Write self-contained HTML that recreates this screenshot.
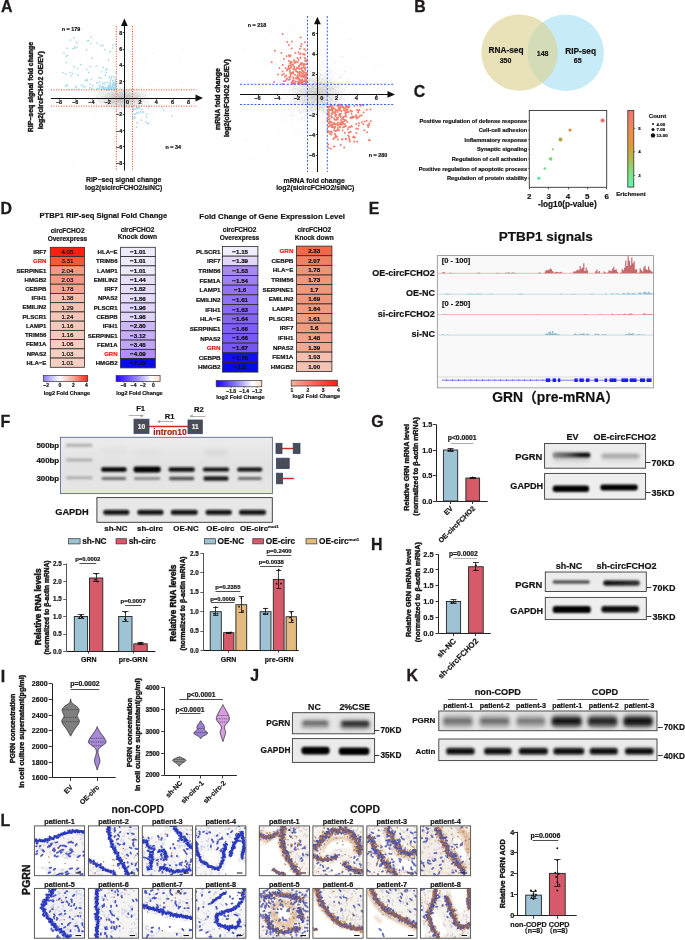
<!DOCTYPE html>
<html><head><meta charset="utf-8"><title>Figure</title><style>html,body{margin:0;padding:0;background:#fff;}svg{display:block;}</style></head><body>
<svg width="685" height="940" viewBox="0 0 685 940" font-family='"Liberation Sans", Arial, sans-serif'>
<rect width="685" height="940" fill="#ffffff"/>
<text x="1.12" y="12.46" font-size="15.9" font-weight="bold" fill="#1f1b1c" stroke="#1f1b1c" stroke-width="0.3">A</text>
<defs><radialGradient id="g1"><stop offset="0" stop-color="#9a9a9a" stop-opacity="0.6"/><stop offset="0.5" stop-color="#b0b0b0" stop-opacity="0.35"/><stop offset="1" stop-color="#c8c8c8" stop-opacity="0"/></radialGradient><radialGradient id="g2"><stop offset="0" stop-color="#a8a8a8" stop-opacity="0.5"/><stop offset="0.55" stop-color="#bcbcbc" stop-opacity="0.3"/><stop offset="1" stop-color="#d0d0d0" stop-opacity="0"/></radialGradient></defs>
<ellipse cx="122.4" cy="98.5" rx="30" ry="13" fill="url(#g1)"/>
<path d="M118.4 94.9h0M118.9 99.9h0M109.2 99.3h0M137.3 95.4h0M136.2 96.5h0M127.4 96.9h0M99.0 92.8h0M128.9 95.0h0M98.7 108.7h0M109.7 100.9h0M126.2 98.3h0M129.1 101.9h0M126.2 95.6h0M112.9 87.5h0M129.6 90.7h0M113.4 102.5h0M117.2 98.7h0M130.7 96.5h0M115.8 103.8h0M114.8 90.5h0M110.8 96.5h0M127.8 107.1h0M122.6 90.0h0M94.2 100.0h0M120.5 103.0h0M128.8 98.4h0M101.8 92.9h0M131.2 92.2h0M141.8 95.8h0M123.6 105.9h0M130.4 101.7h0M115.7 105.7h0M108.6 101.2h0M139.7 110.4h0M101.9 96.5h0M141.8 94.5h0M95.8 113.4h0M126.9 102.5h0M106.6 92.0h0M137.1 97.0h0M125.4 95.3h0M143.9 94.2h0M129.1 94.7h0M100.4 90.2h0M135.1 94.8h0M94.8 101.9h0M133.6 109.1h0M119.4 91.8h0M103.9 88.2h0M129.6 98.9h0M126.4 94.0h0M123.6 91.0h0M112.9 100.5h0M136.3 97.8h0M109.8 92.2h0M142.1 100.7h0M103.0 98.8h0M119.9 99.8h0M141.3 104.3h0M139.3 105.8h0M111.1 94.1h0M137.5 92.7h0M126.7 97.1h0M124.1 94.5h0M119.5 96.3h0M129.9 98.0h0M132.5 94.5h0M149.7 96.0h0M116.1 100.3h0M121.8 92.4h0M117.3 95.6h0M147.3 113.7h0M106.5 96.5h0M127.5 96.5h0M116.0 94.0h0M125.9 101.2h0M155.4 95.8h0M114.3 98.6h0M118.9 98.4h0M84.4 101.0h0M135.9 105.1h0M121.1 92.2h0M133.8 88.9h0M98.5 100.2h0M117.3 94.2h0M137.0 114.4h0M137.0 106.8h0M131.4 107.1h0M124.4 90.7h0M119.9 96.8h0M132.9 97.1h0M120.8 88.6h0M136.4 99.8h0M159.8 105.0h0M134.6 99.6h0M123.8 93.7h0M125.0 94.1h0M100.9 107.2h0M130.4 103.9h0M107.8 107.0h0M139.4 93.4h0M142.3 103.7h0M122.0 105.0h0M132.5 88.3h0M109.7 88.5h0M135.6 99.1h0M94.8 89.4h0M120.6 101.7h0M127.5 95.5h0M142.6 104.2h0M137.6 88.9h0M142.0 99.1h0M111.7 91.8h0M123.6 97.2h0M141.6 99.6h0M90.3 100.4h0M96.4 93.0h0M126.3 101.7h0M121.8 92.9h0M123.1 89.9h0M121.1 91.6h0M142.5 88.2h0M112.7 92.6h0M96.1 104.6h0M94.9 91.5h0M105.0 98.1h0M119.3 98.2h0M113.8 96.6h0M146.6 97.7h0M129.3 91.9h0M119.2 105.7h0M114.3 91.4h0M99.3 101.7h0M135.8 93.2h0M122.1 93.1h0M124.3 105.2h0M100.4 101.9h0M134.7 101.5h0M109.5 102.7h0M100.9 98.7h0" stroke="#9a9a9a" stroke-width="1.10" stroke-linecap="round" fill="none" opacity="0.18"/>
<path d="M105.7 95.8h0M89.5 96.0h0M113.1 109.9h0M131.9 99.7h0M91.3 103.3h0M126.0 100.8h0M132.7 93.4h0M131.1 96.0h0M140.3 94.0h0M128.2 110.7h0M134.3 90.0h0M117.9 100.9h0M148.7 108.7h0M128.4 83.2h0M109.2 93.8h0M147.9 98.7h0M129.7 92.5h0M109.5 98.5h0M126.0 93.0h0M121.5 99.2h0M108.0 100.2h0M134.2 97.4h0M110.2 103.1h0M158.7 91.0h0M130.7 113.8h0M130.5 95.1h0M145.2 95.4h0M121.0 94.8h0M95.2 91.7h0M126.4 102.3h0M140.2 86.9h0M102.7 102.1h0M126.0 96.9h0M116.5 104.0h0M151.2 91.7h0M105.5 106.2h0M145.4 92.0h0M147.0 93.0h0M110.0 96.4h0M92.2 102.6h0M121.2 94.8h0M112.0 98.8h0M128.3 95.7h0M130.8 96.7h0M117.5 93.2h0M122.6 103.0h0M113.4 98.0h0M120.5 97.0h0M122.0 96.9h0M120.1 105.7h0M127.8 91.6h0M128.0 99.2h0M128.1 103.9h0M95.9 97.6h0M109.2 93.5h0M107.0 114.1h0M107.7 88.4h0M116.7 106.4h0M111.5 94.8h0M128.8 96.9h0M142.4 93.7h0M121.7 94.4h0M144.8 92.1h0M136.1 104.6h0M119.9 93.5h0M117.9 91.5h0M130.2 92.4h0M119.0 82.4h0M139.0 99.3h0M123.2 82.1h0M117.2 92.7h0M135.5 98.0h0M105.9 96.9h0M126.9 91.1h0M132.8 97.9h0M133.7 94.7h0M124.8 97.7h0M118.6 93.8h0M107.5 101.8h0M122.0 106.9h0M116.0 110.3h0M112.6 94.5h0M129.8 98.3h0M118.8 106.7h0M147.1 94.8h0M137.0 103.4h0M119.4 109.1h0M132.7 92.3h0M95.8 98.3h0M130.6 108.8h0M96.8 104.5h0M113.3 106.6h0M122.4 96.5h0M130.7 93.7h0M142.7 90.9h0M103.9 101.1h0M107.4 104.6h0M120.9 98.0h0M128.7 107.7h0M104.9 98.1h0M119.2 99.9h0M121.1 102.6h0M131.6 95.8h0M120.8 102.1h0M119.6 114.6h0M108.5 97.8h0M101.3 96.8h0M124.0 106.4h0M118.5 99.9h0M128.3 94.3h0M121.5 103.2h0M120.0 98.4h0M132.1 96.2h0M112.0 106.3h0M116.8 102.5h0M106.7 98.7h0M115.2 97.4h0M129.2 100.5h0M154.0 100.0h0M137.1 97.3h0M137.3 112.5h0M111.6 96.5h0M130.3 83.7h0M126.4 90.2h0M132.5 92.2h0M129.0 99.0h0M129.0 104.6h0M138.2 104.2h0M125.4 85.0h0M118.9 97.9h0M138.0 97.8h0M110.8 96.4h0M130.0 93.7h0M111.3 87.3h0M144.9 97.9h0M125.7 100.6h0M141.4 102.3h0M131.3 100.9h0M112.4 93.6h0M140.3 98.1h0" stroke="#9a9a9a" stroke-width="1.10" stroke-linecap="round" fill="none" opacity="0.18"/>
<path d="M112.6 93.0h0M121.3 96.1h0M142.9 91.1h0M114.8 84.0h0M122.0 93.2h0M113.1 98.3h0M97.9 87.1h0M140.8 105.4h0M101.2 107.9h0M138.2 100.8h0M121.1 99.9h0M120.3 104.7h0M122.3 106.8h0M121.0 96.1h0M128.4 99.4h0M109.5 97.0h0M115.3 88.4h0M132.5 98.7h0M115.5 102.3h0M109.1 100.2h0M126.0 94.8h0M129.8 85.2h0M112.3 97.9h0M160.5 109.4h0M114.8 97.0h0M124.1 95.5h0M118.7 95.8h0M122.7 93.3h0M95.9 103.4h0M121.9 104.3h0M107.6 94.2h0M113.0 94.1h0M132.2 96.1h0M129.0 98.6h0M102.6 98.2h0M128.2 101.2h0M120.6 93.4h0M109.9 94.1h0M147.6 101.4h0M124.0 98.9h0M143.2 96.1h0M134.3 102.2h0M121.7 98.1h0M97.5 89.2h0M134.4 108.7h0M132.2 98.8h0M128.1 95.8h0M101.3 99.3h0M142.5 101.5h0M107.9 106.3h0M105.2 95.9h0M145.3 95.4h0M125.4 84.3h0M114.8 102.1h0M129.2 94.6h0M108.0 105.2h0M126.0 96.5h0M104.0 99.2h0M114.5 95.2h0M120.4 98.5h0M117.1 91.6h0M141.1 100.2h0M133.6 102.6h0M123.0 93.4h0M142.8 100.3h0M121.0 96.8h0M101.3 97.9h0M112.7 95.7h0M106.4 110.1h0M122.5 96.4h0M114.4 92.6h0M118.2 101.7h0M128.5 107.6h0M112.6 98.1h0M133.7 99.0h0M126.2 102.0h0M126.1 87.8h0M112.5 83.5h0M113.1 97.9h0M124.4 91.7h0M104.9 110.8h0M130.3 93.1h0M130.6 81.9h0M124.8 96.4h0M134.8 95.7h0M144.9 105.6h0M116.8 119.1h0M133.2 100.3h0M134.7 84.8h0M121.9 99.6h0M115.1 103.1h0M113.3 94.1h0M122.5 97.6h0M119.6 92.4h0M128.8 98.9h0M131.1 98.9h0M106.1 89.1h0M128.4 103.9h0M136.8 95.9h0M100.4 88.2h0M126.6 92.6h0M124.7 98.9h0M100.7 92.1h0M122.4 99.8h0M126.8 97.5h0M131.3 100.3h0M121.5 111.1h0M116.1 93.9h0M140.4 100.2h0M120.3 88.3h0M117.5 93.5h0M145.1 97.8h0M138.9 102.3h0M124.8 98.5h0M123.6 91.1h0M154.9 102.1h0M114.1 95.0h0M107.4 95.0h0M129.8 99.7h0M129.3 107.5h0M132.4 107.4h0M112.4 101.4h0M116.4 92.8h0M123.1 100.4h0M129.5 88.3h0M122.1 95.8h0M139.0 96.4h0M104.3 82.8h0M152.4 110.1h0M121.4 95.4h0M135.3 93.9h0M118.2 104.4h0M123.4 91.7h0M107.0 104.3h0M121.6 109.8h0M118.4 100.7h0M128.2 102.3h0M109.8 100.4h0M121.3 102.1h0M122.1 93.4h0" stroke="#9a9a9a" stroke-width="1.10" stroke-linecap="round" fill="none" opacity="0.18"/>
<path d="M138.3 87.6h0M111.2 100.6h0M87.8 86.4h0M112.0 98.2h0M129.2 106.3h0M128.4 98.2h0M96.8 96.2h0M138.4 109.4h0M133.1 96.7h0M128.5 95.3h0M139.9 99.4h0M134.0 100.5h0M132.0 103.0h0M120.5 87.4h0M128.1 99.0h0M106.2 102.8h0M124.6 92.3h0M127.8 94.8h0M121.4 89.7h0M116.6 101.4h0M134.2 97.6h0M118.1 101.5h0M118.4 94.2h0M126.8 105.4h0M127.8 96.9h0M108.2 93.3h0M118.1 100.1h0M132.9 89.9h0M112.5 95.3h0M109.9 83.9h0M115.2 90.7h0M113.1 93.0h0M152.5 113.5h0M116.0 94.9h0M120.7 102.1h0M151.6 97.5h0M99.3 92.8h0M98.3 91.0h0M114.0 97.1h0M139.3 97.3h0M102.8 108.4h0M138.3 93.5h0M110.7 92.7h0M128.8 94.0h0M90.9 99.8h0M134.4 93.5h0M134.1 113.0h0M124.3 95.0h0M157.1 103.8h0M117.4 97.8h0M134.2 100.7h0M137.8 102.8h0M125.6 101.2h0M124.1 102.2h0M100.0 91.3h0M126.1 101.4h0M124.7 91.9h0M108.5 98.7h0M129.4 94.8h0M117.4 110.9h0M139.1 96.0h0M122.1 99.7h0M125.6 100.6h0M107.9 102.5h0M113.8 101.7h0M106.0 94.1h0M103.9 94.0h0M108.0 95.8h0M140.9 96.8h0M111.9 97.7h0M124.0 108.6h0M113.6 97.0h0M115.5 97.5h0M132.1 93.3h0M134.4 94.4h0M118.0 98.1h0M118.2 99.9h0M119.5 108.5h0M117.4 98.1h0M108.6 98.1h0M129.1 99.0h0M150.6 113.9h0M119.1 109.2h0M135.5 81.8h0M87.5 97.2h0M129.1 99.8h0M129.6 111.7h0M133.7 95.7h0M122.3 101.6h0M130.8 101.0h0M125.0 101.1h0M91.0 98.2h0M124.8 93.4h0M109.9 98.2h0M130.5 97.1h0M139.1 85.8h0M109.5 109.7h0M133.8 88.7h0M134.7 93.0h0M113.5 102.4h0M134.2 103.6h0M97.0 104.1h0M156.3 86.2h0M112.5 102.5h0M125.2 102.6h0M140.0 98.5h0M107.0 90.0h0M113.9 96.6h0M121.8 99.9h0M126.4 102.2h0M96.6 111.5h0M104.5 102.6h0M121.7 97.7h0M129.6 97.3h0M111.0 102.3h0M92.8 99.0h0M128.6 94.8h0M120.3 99.1h0M134.9 97.9h0M132.1 94.4h0M124.9 90.0h0M114.1 100.2h0M110.8 102.9h0M143.4 87.2h0M122.3 94.5h0M138.2 93.1h0M138.6 105.7h0M113.2 95.2h0M141.7 97.4h0M110.1 100.2h0M112.9 103.2h0M142.6 101.8h0M122.3 84.8h0M138.3 95.9h0M113.5 95.5h0M144.3 94.2h0M139.3 97.4h0M129.1 99.2h0M127.8 90.1h0M102.3 98.4h0" stroke="#9a9a9a" stroke-width="1.10" stroke-linecap="round" fill="none" opacity="0.18"/>
<path d="M125.3 101.5h0M117.7 93.2h0M149.5 94.2h0M126.5 107.5h0M148.5 97.5h0M121.5 104.8h0M121.2 104.7h0M122.9 95.1h0M122.4 96.3h0M110.2 89.3h0M113.0 109.1h0M119.4 102.7h0M108.1 100.2h0M126.0 105.2h0M120.1 89.3h0M131.4 98.9h0M123.7 98.7h0M121.3 93.5h0M120.7 112.7h0M121.7 103.4h0M130.9 101.7h0M124.0 84.7h0M107.6 104.9h0M102.5 112.6h0M96.1 95.8h0M113.2 109.4h0M101.6 94.2h0M111.3 100.2h0M126.5 89.7h0M148.7 91.7h0M123.9 96.9h0M146.8 89.3h0M117.7 95.2h0M125.9 97.7h0M115.1 106.1h0M114.6 107.4h0M138.8 94.7h0M105.4 89.5h0M134.2 109.7h0M147.3 93.0h0M150.4 105.5h0M129.3 95.4h0M124.7 97.0h0M136.5 107.1h0M104.9 106.5h0M114.3 101.7h0M127.0 96.4h0M122.4 102.1h0M115.9 92.2h0M132.5 97.4h0M117.5 88.5h0M113.8 94.0h0M137.9 99.6h0M133.3 104.8h0M135.9 96.8h0M100.1 93.9h0M109.7 90.2h0M112.6 99.0h0M125.9 100.0h0M125.5 101.4h0M131.2 98.0h0M124.9 114.8h0M138.0 97.8h0M97.4 97.4h0M128.4 91.5h0M107.1 88.5h0M119.8 83.4h0M120.0 93.8h0M116.9 104.8h0M137.1 92.5h0M143.2 92.8h0M114.1 108.2h0M113.0 102.1h0M110.7 94.4h0M126.5 99.6h0M124.3 98.9h0M124.9 93.4h0M135.2 102.2h0M101.2 89.3h0M123.5 91.2h0M99.3 100.0h0M122.3 106.8h0M114.9 93.6h0M136.8 88.3h0M110.1 106.6h0M129.1 92.3h0M124.6 106.0h0M132.7 93.2h0M129.6 101.0h0M126.2 93.2h0M114.3 109.3h0M126.5 95.1h0M122.2 92.6h0M113.9 98.5h0M117.8 94.5h0M143.9 99.5h0M150.3 88.7h0M132.9 94.4h0M146.4 99.1h0M120.4 104.5h0M128.5 89.8h0M129.3 95.4h0M119.2 97.0h0M102.3 91.6h0M116.3 104.8h0M111.6 103.0h0M133.7 91.5h0M103.3 92.3h0M134.2 101.5h0M101.5 102.6h0M113.2 95.9h0M117.0 110.4h0M125.2 107.4h0M134.4 105.4h0M112.4 103.2h0M114.5 90.1h0M133.7 94.3h0M126.4 107.5h0M114.8 101.4h0M108.5 94.9h0M111.8 102.3h0M107.6 110.6h0M130.2 89.9h0M124.4 104.0h0M84.7 96.9h0M138.7 96.2h0M134.7 89.0h0M137.5 100.7h0M136.5 93.3h0M100.8 100.5h0M102.4 98.7h0M129.9 104.5h0M93.7 90.1h0M127.2 89.0h0M103.7 91.5h0M150.5 85.7h0M119.1 96.4h0M119.8 91.9h0M136.3 97.5h0M103.3 93.5h0" stroke="#9a9a9a" stroke-width="1.10" stroke-linecap="round" fill="none" opacity="0.18"/>
<path d="M104.0 130.5h0M86.5 64.5h0M185.0 94.2h0M85.7 56.2h0M109.5 137.9h0M73.4 59.7h0M167.0 79.4h0M120.2 89.4h0M86.7 33.7h0M104.2 78.8h0M168.3 54.2h0M120.0 126.5h0M131.0 149.9h0M170.4 118.1h0M172.7 130.2h0M107.3 132.1h0M114.2 141.5h0M55.9 67.3h0M94.3 133.3h0M97.1 100.8h0M114.6 79.0h0M146.3 117.1h0M183.4 48.9h0M63.4 52.6h0M180.3 58.6h0M74.9 52.1h0M142.7 165.2h0M57.1 35.4h0M145.9 132.6h0M69.5 147.5h0M87.7 59.7h0M103.3 146.1h0M180.0 57.6h0M78.7 43.8h0M139.3 59.0h0M147.6 43.4h0M164.1 51.1h0M82.7 71.3h0M128.6 64.5h0M115.9 45.0h0M132.0 130.6h0M87.8 148.0h0M123.4 159.2h0M119.9 147.3h0M123.2 98.3h0M129.8 47.7h0M56.5 50.8h0M120.0 89.3h0M147.2 50.8h0M107.2 109.2h0M187.8 156.8h0M143.3 79.1h0M59.5 82.8h0M149.5 38.2h0M101.1 31.3h0M125.9 100.1h0M179.1 162.6h0M154.4 80.6h0M102.2 47.9h0M106.0 101.5h0M127.9 60.5h0M84.6 107.0h0M113.7 90.5h0M169.4 126.7h0M169.5 111.3h0M124.9 129.6h0M125.3 32.2h0M145.7 57.6h0M101.1 123.3h0M96.8 86.0h0M143.0 58.6h0M61.1 67.1h0M177.5 91.7h0M62.4 125.7h0M56.4 141.0h0M182.4 82.9h0M146.2 58.0h0M180.8 82.5h0M140.5 80.4h0M151.4 84.7h0M149.3 137.8h0M147.4 103.8h0M160.6 153.2h0M80.5 162.2h0M162.2 40.6h0M145.8 116.2h0M168.8 58.3h0M133.0 131.5h0M97.1 108.8h0M99.4 107.6h0M143.9 37.9h0M63.1 88.6h0M61.0 150.8h0M167.1 87.6h0M182.0 105.4h0M57.5 113.6h0M137.1 37.4h0M190.6 101.4h0M112.3 153.1h0M144.3 137.9h0M76.4 165.1h0M56.2 72.5h0M72.3 33.4h0M67.7 46.8h0M73.3 164.8h0M154.6 133.7h0M156.6 141.3h0M62.5 60.0h0M153.8 48.7h0M156.0 155.6h0M142.1 69.0h0M119.0 38.1h0M90.5 33.7h0M154.3 165.7h0M57.6 77.1h0M168.1 156.2h0M98.4 66.2h0M78.4 48.0h0M122.5 159.0h0M106.2 87.6h0M116.0 73.5h0M75.5 56.8h0M105.6 77.9h0M142.3 109.4h0M108.7 58.3h0M185.7 58.6h0M133.6 126.8h0M63.9 32.3h0M152.4 52.6h0M101.3 83.3h0M190.1 52.1h0M138.3 124.5h0M114.6 44.2h0M107.4 72.4h0M138.4 43.1h0M166.7 128.0h0M55.8 130.8h0M113.7 86.0h0M167.9 44.3h0M61.4 51.8h0" stroke="#999" stroke-width="1.00" stroke-linecap="round" fill="none" opacity="0.18"/>
<path d="M74.7 48.3h0M105.0 49.6h0M115.7 86.9h0M75.6 86.4h0M67.2 85.4h0M114.2 84.7h0M104.3 84.4h0M107.0 68.9h0M70.1 72.3h0M114.8 85.4h0M111.0 89.3h0M115.5 86.2h0M76.2 87.6h0M116.1 82.5h0M105.3 87.8h0M66.3 56.1h0M114.7 89.1h0M113.6 89.5h0M71.0 75.8h0M68.6 89.4h0M98.6 88.4h0M105.8 69.8h0M112.0 89.2h0M116.0 88.8h0M101.0 45.3h0M73.1 89.6h0M80.9 64.6h0M114.6 87.9h0M109.8 84.6h0M115.3 87.4h0M108.0 89.8h0M97.2 88.9h0M67.0 48.3h0M97.0 83.1h0M103.7 87.5h0M115.9 85.3h0M90.0 87.9h0M114.0 83.1h0M101.9 87.3h0M115.9 81.6h0M83.3 86.1h0M113.0 80.3h0M113.0 83.4h0M116.2 83.8h0M103.3 87.1h0M109.2 77.0h0M114.9 84.5h0M115.6 86.4h0M109.4 85.3h0M115.8 85.0h0M104.2 88.4h0M72.8 48.5h0M115.9 44.7h0M103.3 88.2h0M110.2 80.0h0M116.2 72.4h0M92.2 88.4h0M107.2 88.1h0M78.4 89.4h0M65.8 73.8h0M114.5 89.1h0M112.8 84.8h0M115.5 88.9h0M108.8 89.8h0M88.7 72.3h0M112.8 48.1h0M115.0 88.3h0M112.5 89.3h0M110.1 84.8h0M110.2 51.6h0M99.1 77.7h0M91.6 78.9h0M113.3 87.8h0M64.0 53.3h0M111.0 78.2h0M67.0 84.9h0M85.4 80.3h0M114.1 77.1h0M115.8 88.0h0M76.8 42.4h0M74.8 46.9h0M108.0 88.7h0M90.7 43.5h0M106.1 72.4h0M108.7 89.4h0M87.7 40.8h0M105.3 75.4h0M113.8 87.9h0M110.5 83.1h0M86.8 69.5h0M108.5 60.2h0M90.3 66.8h0M111.1 88.1h0M101.9 88.9h0M113.7 84.4h0M110.4 89.3h0M112.1 85.0h0M112.5 85.6h0M113.1 85.7h0M86.4 49.7h0M92.0 58.2h0M77.9 74.9h0M101.4 89.8h0M77.5 68.5h0M105.1 82.3h0M86.9 79.6h0M112.7 86.9h0M99.3 82.1h0M72.3 73.6h0M110.1 86.7h0M102.8 83.2h0M65.5 86.3h0M110.2 87.3h0M67.9 55.6h0M62.9 72.6h0M109.7 88.3h0M66.2 62.6h0M110.3 86.7h0M70.5 40.0h0M96.3 66.0h0M101.5 71.8h0M109.9 82.3h0M99.9 85.6h0M74.1 37.8h0M111.1 87.3h0M109.1 86.9h0M87.2 80.8h0M105.0 88.5h0M102.8 86.6h0M83.4 86.5h0M90.0 84.3h0M91.3 37.1h0M105.9 89.4h0M112.9 87.2h0M74.0 66.8h0M114.4 89.8h0M114.9 88.7h0M112.9 45.2h0M115.9 81.7h0M88.3 40.5h0M96.8 82.8h0M102.9 45.7h0M103.5 67.5h0M112.7 85.2h0M107.5 82.6h0M114.9 88.2h0M110.3 89.4h0M115.8 89.4h0M114.8 88.6h0M106.8 89.7h0M101.6 87.6h0M113.2 84.1h0M111.8 76.6h0M107.0 88.1h0M65.5 86.2h0M92.8 85.6h0M99.5 86.6h0M100.2 85.0h0M111.1 87.0h0M108.5 86.8h0M114.9 82.9h0M110.3 88.2h0M113.6 88.9h0M112.5 81.1h0M76.9 47.0h0M108.0 85.9h0M101.1 78.1h0M81.5 84.9h0M115.4 80.9h0M116.0 89.2h0M116.0 88.5h0M85.1 87.0h0M112.1 85.6h0M101.2 89.8h0M102.3 86.4h0M104.9 89.0h0M107.7 88.0h0M115.6 79.1h0M97.2 43.0h0M147.7 123.5h0M143.7 112.0h0M133.1 117.9h0M138.8 113.2h0M162.4 107.5h0M148.8 106.6h0M146.3 122.2h0M135.9 113.9h0M172.0 116.1h0M141.4 109.0h0M133.2 110.5h0M138.5 108.3h0M136.7 107.6h0M146.4 117.0h0M135.6 108.9h0M140.7 111.9h0M163.6 110.4h0M136.5 127.3h0M134.2 114.3h0M137.1 122.7h0M141.5 120.1h0M134.6 116.9h0M142.9 112.2h0M149.0 123.5h0M133.9 109.5h0M137.6 108.4h0M133.2 109.4h0M135.0 118.0h0M139.2 107.3h0M136.9 112.3h0M137.6 107.9h0M133.3 106.3h0M148.2 107.0h0M146.8 114.3h0" stroke="#9fd8ee" stroke-width="1.70" stroke-linecap="round" fill="none" opacity="0.95"/>
<line x1="116.30" y1="26.00" x2="116.30" y2="171.00" stroke="#f0502c" stroke-width="1" stroke-dasharray="1.1,1.4"/>
<line x1="132.50" y1="26.00" x2="132.50" y2="171.00" stroke="#f0502c" stroke-width="1" stroke-dasharray="1.1,1.4"/>
<line x1="51.00" y1="89.85" x2="196.50" y2="89.85" stroke="#f0502c" stroke-width="1" stroke-dasharray="1.1,1.4"/>
<line x1="51.00" y1="106.15" x2="196.50" y2="106.15" stroke="#f0502c" stroke-width="1" stroke-dasharray="1.1,1.4"/>
<line x1="51.00" y1="98.50" x2="197.00" y2="98.50" stroke="#111" stroke-width="1"/>
<path d="M203,98.0 L195.5,94.6 L195.5,101.4 Z" fill="#111" stroke="none" stroke-width="1"/>
<line x1="124.50" y1="170.50" x2="124.50" y2="24.50" stroke="#111" stroke-width="1"/>
<path d="M124.4,18.5 L121.0,26.0 L127.80000000000001,26.0 Z" fill="#111" stroke="none" stroke-width="1"/>
<line x1="59.50" y1="98.00" x2="59.50" y2="99.60" stroke="#111" stroke-width="0.8"/>
<text x="59.00" y="103.72" font-size="5.4" text-anchor="middle" font-weight="bold" fill="#141414" stroke="#141414" stroke-width="0.2">−8</text>
<line x1="122.80" y1="163.50" x2="124.40" y2="163.50" stroke="#111" stroke-width="0.8"/>
<text x="122.20" y="165.12" font-size="5.4" text-anchor="end" font-weight="bold" fill="#141414" stroke="#141414" stroke-width="0.2">−8</text>
<line x1="75.50" y1="98.00" x2="75.50" y2="99.60" stroke="#111" stroke-width="0.8"/>
<text x="75.20" y="103.72" font-size="5.4" text-anchor="middle" font-weight="bold" fill="#141414" stroke="#141414" stroke-width="0.2">−6</text>
<line x1="122.80" y1="146.50" x2="124.40" y2="146.50" stroke="#111" stroke-width="0.8"/>
<text x="122.20" y="148.82" font-size="5.4" text-anchor="end" font-weight="bold" fill="#141414" stroke="#141414" stroke-width="0.2">−6</text>
<line x1="92.50" y1="98.00" x2="92.50" y2="99.60" stroke="#111" stroke-width="0.8"/>
<text x="91.40" y="103.72" font-size="5.4" text-anchor="middle" font-weight="bold" fill="#141414" stroke="#141414" stroke-width="0.2">−4</text>
<line x1="122.80" y1="130.50" x2="124.40" y2="130.50" stroke="#111" stroke-width="0.8"/>
<text x="122.20" y="132.52" font-size="5.4" text-anchor="end" font-weight="bold" fill="#141414" stroke="#141414" stroke-width="0.2">−4</text>
<line x1="108.50" y1="98.00" x2="108.50" y2="99.60" stroke="#111" stroke-width="0.8"/>
<text x="107.60" y="103.72" font-size="5.4" text-anchor="middle" font-weight="bold" fill="#141414" stroke="#141414" stroke-width="0.2">−2</text>
<line x1="122.80" y1="114.50" x2="124.40" y2="114.50" stroke="#111" stroke-width="0.8"/>
<text x="122.20" y="116.22" font-size="5.4" text-anchor="end" font-weight="bold" fill="#141414" stroke="#141414" stroke-width="0.2">−2</text>
<line x1="140.50" y1="98.00" x2="140.50" y2="99.60" stroke="#111" stroke-width="0.8"/>
<text x="140.00" y="103.72" font-size="5.4" text-anchor="middle" font-weight="bold" fill="#141414" stroke="#141414" stroke-width="0.2">2</text>
<line x1="122.80" y1="81.50" x2="124.40" y2="81.50" stroke="#111" stroke-width="0.8"/>
<text x="122.20" y="83.62" font-size="5.4" text-anchor="end" font-weight="bold" fill="#141414" stroke="#141414" stroke-width="0.2">2</text>
<line x1="156.50" y1="98.00" x2="156.50" y2="99.60" stroke="#111" stroke-width="0.8"/>
<text x="156.20" y="103.72" font-size="5.4" text-anchor="middle" font-weight="bold" fill="#141414" stroke="#141414" stroke-width="0.2">4</text>
<line x1="122.80" y1="65.50" x2="124.40" y2="65.50" stroke="#111" stroke-width="0.8"/>
<text x="122.20" y="67.32" font-size="5.4" text-anchor="end" font-weight="bold" fill="#141414" stroke="#141414" stroke-width="0.2">4</text>
<line x1="173.50" y1="98.00" x2="173.50" y2="99.60" stroke="#111" stroke-width="0.8"/>
<text x="172.40" y="103.72" font-size="5.4" text-anchor="middle" font-weight="bold" fill="#141414" stroke="#141414" stroke-width="0.2">6</text>
<line x1="122.80" y1="49.50" x2="124.40" y2="49.50" stroke="#111" stroke-width="0.8"/>
<text x="122.20" y="51.02" font-size="5.4" text-anchor="end" font-weight="bold" fill="#141414" stroke="#141414" stroke-width="0.2">6</text>
<line x1="189.50" y1="98.00" x2="189.50" y2="99.60" stroke="#111" stroke-width="0.8"/>
<text x="188.60" y="103.72" font-size="5.4" text-anchor="middle" font-weight="bold" fill="#141414" stroke="#141414" stroke-width="0.2">8</text>
<line x1="122.80" y1="32.50" x2="124.40" y2="32.50" stroke="#111" stroke-width="0.8"/>
<text x="122.20" y="34.72" font-size="5.4" text-anchor="end" font-weight="bold" fill="#141414" stroke="#141414" stroke-width="0.2">8</text>
<text x="127.40" y="103.72" font-size="5.4" text-anchor="middle" font-weight="bold" fill="#141414" stroke="#141414" stroke-width="0.2">0</text>
<text x="71.00" y="30.92" font-size="5.4" text-anchor="middle" font-weight="bold" fill="#141414" stroke="#141414" stroke-width="0.2">n = 179</text>
<text x="173.30" y="148.62" font-size="5.4" text-anchor="middle" font-weight="bold" fill="#141414" stroke="#141414" stroke-width="0.2">n = 34</text>
<text x="123.60" y="182.25" font-size="6.9" text-anchor="middle" font-weight="bold" fill="#141414" stroke="#141414" stroke-width="0.2">RIP−seq signal change</text>
<text x="123.60" y="190.03" font-size="6.85" text-anchor="middle" font-weight="bold" fill="#141414" stroke="#141414" stroke-width="0.2">log2(sicircFCHO2/siNC)</text>
<text x="31.00" y="89.57" font-size="6.95" text-anchor="middle" font-weight="bold" fill="#141414" stroke="#141414" stroke-width="0.4" transform="rotate(-90 31.00 87.10)">RIP−seq signal fold change</text>
<text x="40.60" y="92.67" font-size="6.95" text-anchor="middle" font-weight="bold" fill="#141414" stroke="#141414" stroke-width="0.4" transform="rotate(-90 40.60 90.20)">log2(circFCHO2 OE/EV)</text>
<ellipse cx="316.4" cy="94.4" rx="30" ry="22" fill="url(#g2)"/>
<path d="M331.6 83.3h0M308.0 90.5h0M315.4 94.9h0M337.3 105.0h0M291.6 119.9h0M310.5 103.8h0M317.6 86.1h0M344.3 89.9h0M324.5 105.1h0M326.3 74.5h0M337.9 123.0h0M331.0 71.3h0M330.0 116.2h0M312.7 85.8h0M323.7 106.2h0M303.8 80.3h0M297.0 73.5h0M317.7 90.0h0M297.1 103.1h0M327.9 115.9h0M349.0 114.9h0M298.8 93.8h0M324.7 83.7h0M311.7 97.4h0M313.8 102.8h0M278.1 80.4h0M321.2 92.1h0M307.8 90.7h0M317.2 95.5h0M334.2 119.5h0M321.2 109.9h0M312.6 72.6h0M300.9 95.9h0M308.4 80.6h0M302.5 118.9h0M325.2 99.6h0M312.5 78.7h0M303.9 99.8h0M319.6 88.4h0M309.5 79.3h0M351.5 100.3h0M345.8 125.1h0M338.8 99.4h0M319.5 99.3h0M307.7 113.0h0M311.4 75.5h0M334.7 99.5h0M309.4 104.6h0M299.2 68.2h0M327.5 92.7h0M309.9 109.3h0M337.4 83.0h0M302.9 80.0h0M300.6 85.1h0M302.8 100.4h0M324.9 88.1h0M332.8 106.6h0M341.4 74.8h0M317.2 87.6h0M305.6 96.6h0M297.3 93.1h0M320.4 74.9h0M331.8 82.5h0M311.9 97.7h0M312.2 91.2h0M288.0 83.2h0M293.6 101.9h0M317.7 101.9h0M342.7 95.8h0M341.3 77.3h0M309.8 88.6h0M337.1 99.2h0M318.7 102.5h0M318.3 99.5h0M318.7 79.8h0M338.6 92.5h0M320.5 81.9h0M313.0 109.8h0M334.3 108.0h0M331.5 108.4h0M345.2 109.6h0M330.3 72.6h0M302.8 72.8h0M304.9 120.1h0M328.4 84.2h0M314.3 131.1h0M316.6 98.8h0M311.6 98.6h0M290.2 102.6h0M344.8 71.9h0M311.9 104.8h0M323.4 79.0h0M328.4 111.4h0M319.9 92.4h0M339.3 77.0h0M325.4 76.7h0M311.4 72.0h0M310.9 88.6h0M331.4 107.7h0M306.7 120.0h0M319.9 95.2h0M312.4 87.2h0M285.2 94.7h0M318.7 98.3h0M329.5 68.9h0M310.6 108.1h0M308.2 93.1h0M326.3 106.9h0M332.6 109.3h0M330.0 88.2h0M324.4 63.0h0M313.4 96.8h0M324.6 81.8h0M297.0 90.4h0M306.1 85.2h0M338.2 93.7h0M315.8 91.7h0M272.5 83.2h0M325.9 92.0h0M311.4 105.0h0M314.7 76.8h0M315.8 74.8h0M278.3 101.1h0M321.6 94.6h0M292.2 104.1h0M336.4 113.2h0M302.3 110.4h0M309.0 85.1h0M326.4 123.9h0M339.6 103.0h0" stroke="#9a9a9a" stroke-width="1.20" stroke-linecap="round" fill="none" opacity="0.2"/>
<path d="M308.5 70.1h0M316.2 112.4h0M307.7 105.0h0M302.0 99.2h0M330.7 89.3h0M296.4 53.9h0M302.3 92.7h0M317.9 83.3h0M312.4 87.8h0M349.4 93.0h0M300.9 89.6h0M305.2 99.8h0M320.3 89.5h0M313.1 82.1h0M314.5 113.4h0M330.7 99.7h0M335.8 103.9h0M326.1 89.8h0M276.4 116.1h0M300.4 73.9h0M288.7 81.1h0M334.0 87.2h0M327.7 101.6h0M317.2 91.1h0M323.8 84.1h0M314.3 104.6h0M308.8 88.4h0M292.1 112.6h0M311.1 102.4h0M313.3 133.1h0M312.2 98.1h0M329.2 123.2h0M312.7 87.5h0M324.8 77.0h0M333.5 109.7h0M327.1 99.3h0M305.2 72.1h0M307.8 106.8h0M311.2 106.8h0M332.7 88.9h0M338.7 88.4h0M308.0 79.1h0M307.4 101.1h0M314.8 93.8h0M335.6 103.2h0M322.8 94.8h0M298.2 110.4h0M314.1 88.5h0M322.3 87.4h0M318.1 100.9h0M323.9 109.0h0M296.9 99.3h0M295.6 101.9h0M306.0 102.5h0M316.7 106.1h0M310.9 119.4h0M319.6 107.3h0M323.6 135.7h0M305.2 90.9h0M280.1 99.7h0M318.8 92.9h0M294.5 91.0h0M319.7 108.6h0M328.8 95.1h0M317.7 101.0h0M325.8 93.0h0M334.8 87.8h0M308.0 97.7h0M331.4 99.7h0M323.3 86.8h0M314.7 128.5h0M319.4 91.3h0M319.5 105.5h0M335.9 96.4h0M307.9 104.9h0M322.9 110.4h0M302.1 65.1h0M337.5 79.0h0M338.3 85.7h0M291.6 76.9h0M336.4 87.2h0M287.4 76.2h0M338.3 101.6h0M319.4 83.0h0M316.1 78.3h0M318.6 84.3h0M318.7 116.1h0M302.1 47.9h0M321.7 75.2h0M334.9 69.2h0M325.9 103.1h0M317.7 122.6h0M314.5 81.1h0M284.2 91.5h0M330.1 74.9h0M303.2 104.0h0M288.6 109.4h0M325.6 64.0h0M299.8 74.1h0M324.0 101.7h0M351.1 131.5h0M316.4 91.2h0M350.2 68.0h0M352.2 92.4h0M332.5 74.3h0M325.3 89.1h0M314.6 100.4h0M298.5 65.7h0M310.5 125.0h0M321.5 94.9h0M320.1 67.7h0M315.8 98.3h0M305.9 94.7h0M310.6 91.4h0M365.5 88.6h0M304.2 66.0h0M330.7 82.4h0M328.4 82.3h0M327.8 73.6h0M332.9 74.5h0M309.7 94.4h0M306.2 80.3h0M330.2 101.3h0M326.4 55.7h0M336.5 110.9h0M316.0 85.0h0M316.8 88.7h0M335.6 89.6h0M300.5 83.9h0M315.9 92.7h0" stroke="#9a9a9a" stroke-width="1.20" stroke-linecap="round" fill="none" opacity="0.2"/>
<path d="M308.7 114.8h0M298.2 99.6h0M300.9 134.5h0M335.1 111.5h0M306.2 86.6h0M280.2 74.6h0M305.5 84.7h0M310.0 89.9h0M319.0 94.4h0M289.2 116.1h0M316.8 73.6h0M309.0 86.5h0M319.9 87.3h0M332.7 116.5h0M321.6 97.0h0M312.6 107.0h0M305.3 109.6h0M300.5 57.4h0M343.6 94.3h0M328.9 108.8h0M274.5 121.3h0M319.6 73.2h0M316.8 109.2h0M313.7 109.1h0M295.9 97.8h0M311.2 106.4h0M303.7 108.1h0M321.0 73.8h0M314.2 61.4h0M292.4 90.4h0M299.5 96.8h0M319.0 86.1h0M334.8 102.6h0M298.2 97.2h0M321.9 104.7h0M331.2 69.5h0M295.4 89.0h0M333.1 122.8h0M320.6 97.7h0M295.4 75.0h0M320.8 101.5h0M324.2 84.9h0M329.3 85.8h0M323.7 111.8h0M310.9 92.5h0M274.7 62.9h0M311.5 110.0h0M289.3 90.7h0M317.9 103.0h0M311.0 107.5h0M305.8 95.8h0M307.5 84.4h0M315.2 92.5h0M323.7 75.6h0M326.7 91.0h0M314.9 106.3h0M312.1 84.3h0M320.9 100.1h0M296.8 117.0h0M322.4 79.2h0M323.2 114.7h0M314.1 91.1h0M303.2 89.3h0M314.3 106.7h0M298.2 82.4h0M322.9 107.5h0M301.7 81.3h0M326.6 98.9h0M342.0 98.7h0M301.1 78.3h0M314.5 89.3h0M318.0 109.2h0M299.1 97.3h0M339.1 109.2h0M338.4 91.1h0M300.2 90.5h0M326.2 107.7h0M284.6 89.1h0M300.3 87.9h0M287.9 96.5h0M304.9 116.2h0M313.7 91.9h0M308.8 111.8h0M320.7 120.2h0M325.6 87.2h0M343.3 81.4h0M322.9 90.5h0M317.8 113.9h0M339.9 86.6h0M313.0 111.3h0M340.3 86.6h0M299.2 84.5h0M346.6 94.7h0M323.6 100.5h0M307.7 78.6h0M364.8 92.7h0M315.5 82.7h0M312.7 83.7h0M330.2 109.4h0M300.9 95.5h0M330.2 90.3h0M336.5 114.6h0M325.0 103.6h0M318.9 89.7h0M302.5 97.8h0M299.5 90.5h0M304.3 101.7h0M320.8 104.0h0M335.1 103.8h0M330.5 90.2h0M301.5 97.6h0M304.5 99.7h0M313.2 67.7h0M311.0 71.4h0M324.3 113.6h0M281.9 84.4h0M286.8 83.9h0M333.2 88.7h0M314.2 98.1h0M321.4 98.8h0M309.2 99.8h0M335.4 103.5h0M323.2 111.3h0M306.5 114.6h0M314.4 84.4h0M322.1 101.6h0M326.8 99.5h0M323.1 90.4h0M325.7 130.7h0M297.4 83.1h0" stroke="#9a9a9a" stroke-width="1.20" stroke-linecap="round" fill="none" opacity="0.2"/>
<path d="M315.8 61.5h0M313.8 102.5h0M340.3 86.3h0M346.5 86.9h0M314.3 83.8h0M305.3 100.9h0M308.9 97.7h0M329.3 101.5h0M322.3 101.7h0M330.9 134.8h0M314.2 91.9h0M300.9 79.6h0M320.7 75.6h0M332.1 85.0h0M315.1 110.3h0M314.0 101.1h0M321.2 101.2h0M364.2 117.8h0M335.4 101.3h0M313.7 80.8h0M317.4 112.1h0M323.7 97.3h0M285.9 91.5h0M301.3 105.3h0M324.8 90.0h0M313.0 62.6h0M323.8 103.4h0M321.0 96.2h0M283.7 117.5h0M296.1 64.2h0M314.6 98.4h0M308.8 80.1h0M317.8 69.5h0M329.5 70.3h0M315.6 88.9h0M310.8 96.9h0M291.0 102.9h0M302.9 103.9h0M336.0 90.6h0M336.1 81.9h0M331.5 79.7h0M308.2 82.7h0M312.5 102.1h0M335.6 62.8h0M302.5 69.0h0M330.1 106.8h0M321.6 89.0h0M323.1 99.6h0M297.8 93.9h0M330.6 82.9h0M327.5 78.3h0M302.3 95.0h0M322.6 79.8h0M319.8 86.8h0M319.4 63.8h0M284.1 94.8h0M355.2 91.0h0M289.4 92.4h0M295.5 104.3h0M320.8 69.4h0M324.5 84.6h0M332.9 91.5h0M304.3 95.8h0M322.5 98.4h0M307.2 99.6h0M294.5 109.3h0M316.0 99.7h0M318.0 73.9h0M322.0 94.9h0M299.5 110.1h0M323.1 107.1h0M323.9 110.1h0M319.4 95.5h0M332.6 100.1h0M311.7 90.8h0M318.2 69.8h0M313.5 102.2h0M312.5 87.5h0M321.0 84.3h0M296.3 58.3h0M345.4 94.9h0M299.0 92.1h0M323.7 126.9h0M317.6 115.9h0M324.4 74.3h0M333.2 116.4h0M338.5 81.2h0M311.9 87.1h0M340.5 99.2h0M317.2 102.6h0M335.0 125.8h0M339.0 108.5h0M331.5 118.1h0M303.1 103.1h0M330.0 118.0h0M326.6 103.7h0M336.3 98.9h0M324.8 96.9h0M344.7 99.6h0M317.0 65.5h0M318.6 84.4h0M306.2 91.5h0M282.8 92.9h0M307.5 116.3h0M295.8 77.8h0M323.9 116.5h0M345.0 104.5h0M311.8 90.8h0M300.1 118.0h0M306.0 77.2h0M331.9 117.4h0M335.7 93.9h0M325.0 93.6h0M323.7 109.0h0M303.5 104.6h0M311.8 85.4h0M298.9 71.2h0M307.8 103.0h0M328.1 88.1h0M312.2 110.0h0M302.2 117.7h0M334.8 78.6h0M345.9 87.1h0M322.5 83.4h0M331.9 98.2h0M322.8 63.0h0M291.6 114.9h0M302.7 83.4h0M335.5 99.3h0M327.6 95.1h0" stroke="#9a9a9a" stroke-width="1.20" stroke-linecap="round" fill="none" opacity="0.2"/>
<path d="M322.0 102.3h0M317.0 94.5h0M334.6 61.9h0M289.7 86.6h0M317.3 80.3h0M333.6 83.0h0M329.7 108.3h0M291.4 70.0h0M335.8 108.3h0M337.1 84.7h0M280.0 81.3h0M302.3 77.4h0M307.0 105.2h0M293.8 97.6h0M332.9 104.2h0M289.0 63.1h0M345.6 84.3h0M309.2 112.1h0M292.4 86.3h0M337.2 109.9h0M317.4 98.5h0M313.5 87.1h0M349.3 103.7h0M330.4 78.5h0M313.1 96.6h0M296.9 78.7h0M309.3 104.0h0M318.4 106.9h0M301.5 98.7h0M340.1 97.4h0M325.4 115.8h0M287.7 67.9h0M311.3 116.9h0M315.8 85.5h0M291.0 107.3h0M321.4 107.9h0M329.6 80.3h0M324.2 100.7h0M316.7 103.6h0M315.4 89.8h0M312.8 80.2h0M357.1 102.4h0M322.6 82.4h0M327.3 97.9h0M310.1 79.7h0M327.0 87.0h0M305.1 85.2h0M329.6 97.1h0M327.3 62.6h0M288.7 85.5h0M299.5 114.4h0M313.8 86.4h0M318.2 111.5h0M295.4 102.5h0M317.6 106.6h0M294.4 68.7h0M304.6 96.7h0M309.0 103.0h0M318.0 98.8h0M326.9 111.8h0M294.6 65.8h0M316.2 83.1h0M335.5 86.3h0M318.0 117.2h0M292.9 80.1h0M327.8 86.1h0M292.0 125.7h0M301.2 111.7h0M319.8 109.4h0M341.7 103.5h0M308.8 81.7h0M322.4 107.6h0M330.0 66.2h0M298.6 98.0h0M300.9 122.9h0M327.0 84.1h0M332.4 88.1h0M286.4 94.8h0M307.1 111.7h0M300.4 83.1h0M312.8 65.5h0M324.6 122.5h0M331.2 76.0h0M317.9 112.2h0M344.6 113.7h0M316.1 122.5h0M298.1 119.4h0M334.2 77.0h0M311.2 114.4h0M316.5 88.8h0M293.9 111.5h0M315.8 84.0h0M318.5 87.8h0M298.1 131.1h0M322.2 107.9h0M315.5 100.0h0M324.8 105.8h0M339.7 93.9h0M325.6 85.1h0M333.4 88.4h0M290.3 103.7h0M346.2 87.4h0M326.1 87.5h0M307.5 104.4h0M307.4 77.3h0M323.0 68.0h0M325.1 66.4h0M324.5 111.9h0M344.4 89.4h0M335.9 91.2h0M312.3 91.9h0M300.0 112.1h0M303.6 102.2h0M296.3 95.9h0M322.1 64.3h0M346.0 95.1h0M331.1 97.7h0M323.5 94.9h0M309.0 93.3h0M294.4 87.9h0M312.9 110.5h0M311.8 86.2h0M306.8 87.3h0M326.3 71.2h0M300.5 96.1h0M325.4 72.0h0M321.5 83.2h0M294.5 103.1h0M343.3 98.6h0M351.1 105.3h0" stroke="#9a9a9a" stroke-width="1.20" stroke-linecap="round" fill="none" opacity="0.2"/>
<path d="M313.1 118.2h0M327.3 90.5h0M348.9 91.9h0M313.5 115.4h0M316.1 80.3h0M329.0 76.0h0M330.9 95.1h0M326.9 91.8h0M296.6 68.8h0M323.3 110.1h0M323.4 90.1h0M333.0 72.8h0M269.8 86.1h0M341.4 108.6h0M288.3 90.2h0M322.7 89.2h0M300.0 101.4h0M320.5 83.2h0M351.8 90.0h0M308.0 129.8h0M334.2 96.4h0M315.7 109.2h0M328.9 121.3h0M319.1 92.6h0M322.1 74.8h0M315.8 93.0h0M330.8 117.7h0M312.8 93.4h0M332.4 106.4h0M330.0 88.6h0M294.0 116.6h0M294.9 92.3h0M320.6 83.5h0M330.3 102.7h0M334.2 82.1h0M324.8 87.2h0M297.2 89.0h0M301.1 112.3h0M311.9 92.3h0M316.6 99.4h0M301.7 91.6h0M305.7 115.6h0M318.9 72.5h0M311.0 110.4h0M339.2 68.6h0M312.8 97.6h0M320.7 49.9h0M319.5 79.4h0M324.4 121.8h0M300.0 113.0h0M324.2 92.8h0M345.6 98.5h0M322.3 93.3h0M319.6 59.5h0M321.9 72.2h0M337.9 103.6h0M328.2 100.1h0M319.1 92.0h0M317.7 101.5h0M342.0 98.4h0M328.5 69.0h0M327.3 78.9h0M339.3 78.0h0M344.5 116.0h0M348.3 94.0h0M289.8 104.1h0M295.4 94.7h0M293.9 109.6h0M322.1 92.0h0M304.8 97.9h0M315.8 93.3h0M317.3 97.7h0M331.3 118.7h0M309.6 92.4h0M311.1 102.8h0M310.5 91.2h0M337.1 97.2h0M313.2 89.0h0M313.6 123.7h0M321.6 100.1h0M308.3 84.9h0M318.1 102.9h0M282.9 120.4h0M317.6 96.2h0M324.3 91.0h0M309.8 113.6h0M300.1 96.5h0M299.2 83.0h0M296.4 121.5h0M314.3 121.3h0M343.2 109.4h0M316.6 98.1h0M304.4 121.2h0M287.9 81.3h0M333.6 61.6h0M294.2 85.9h0M317.2 81.6h0M309.3 83.5h0M331.6 85.2h0M340.3 97.0h0M341.9 105.0h0M343.8 136.0h0M317.6 106.5h0M317.4 78.8h0M328.8 93.0h0M344.4 116.8h0M304.5 71.5h0M322.6 125.8h0M322.8 112.3h0M340.8 77.1h0M308.7 74.8h0M304.2 80.5h0M326.6 96.3h0M294.9 98.6h0M281.1 102.9h0M288.1 76.0h0M302.1 131.2h0M326.7 88.8h0M309.4 62.3h0M329.7 93.4h0M307.2 139.2h0M325.0 79.8h0M308.0 115.8h0M316.7 119.7h0M317.5 82.7h0M341.3 90.4h0M320.5 83.0h0M339.6 99.2h0M297.9 106.4h0M297.5 107.9h0" stroke="#9a9a9a" stroke-width="1.20" stroke-linecap="round" fill="none" opacity="0.2"/>
<path d="M315.5 89.2h0M319.9 93.3h0M311.7 88.0h0M331.4 82.9h0M341.1 98.8h0M313.4 68.7h0M320.6 88.1h0M312.1 79.7h0M311.0 109.7h0M316.4 101.1h0M330.6 100.1h0M319.4 97.7h0M322.8 103.9h0M334.9 116.0h0M311.3 105.1h0M327.7 93.8h0M325.1 99.4h0M306.0 111.4h0M312.1 102.5h0M321.8 89.0h0M332.9 96.0h0M305.5 110.5h0M318.4 88.9h0M348.3 91.6h0M345.2 66.0h0M300.8 76.1h0M335.4 74.0h0M317.2 79.9h0M309.8 95.5h0M317.7 67.4h0M314.0 79.9h0M318.4 105.1h0M321.2 84.4h0M306.1 84.8h0M306.1 107.7h0M320.9 98.0h0M301.8 119.1h0M317.8 90.7h0M310.1 91.6h0M293.2 88.5h0M324.0 90.2h0M307.7 93.2h0M319.5 78.2h0M321.8 90.6h0M305.9 81.3h0M336.0 101.9h0M327.5 89.7h0M316.7 113.9h0M345.2 122.7h0M322.2 100.1h0M335.5 100.8h0M318.0 85.2h0M324.6 102.3h0M328.2 88.5h0M333.0 102.1h0M316.7 100.3h0M304.1 90.5h0M323.9 72.9h0M312.3 88.5h0M335.5 96.1h0M318.4 92.4h0M306.5 109.3h0M335.0 91.8h0M316.2 113.2h0M319.3 76.7h0M299.2 107.9h0M334.9 72.8h0M341.9 102.7h0M326.9 105.7h0M325.6 99.9h0M320.5 74.2h0M322.7 98.0h0M318.3 90.4h0M309.3 91.3h0M326.9 70.9h0M284.9 112.3h0M297.9 81.2h0M355.8 91.5h0M319.3 77.2h0M278.9 97.1h0M268.3 92.1h0M309.4 101.7h0M322.8 103.2h0M334.9 94.4h0M323.4 56.2h0M310.3 80.5h0M304.4 75.6h0M332.6 92.3h0M333.0 70.2h0M339.1 94.4h0M316.5 77.7h0M294.3 103.5h0M325.0 85.8h0M346.6 68.0h0M322.5 87.8h0M296.7 97.2h0M321.5 97.8h0M318.3 85.3h0M302.5 102.9h0M289.5 77.2h0M300.8 119.9h0M329.5 97.6h0M332.5 99.9h0M350.7 83.7h0M319.8 92.7h0M314.2 82.3h0M348.7 100.7h0M300.4 85.4h0M334.1 116.8h0M306.6 109.3h0M326.2 86.8h0M305.9 111.3h0M328.1 125.2h0M327.5 96.7h0M347.4 79.5h0M308.3 98.5h0M313.1 105.3h0M318.7 80.0h0M293.8 97.8h0M340.7 83.3h0M304.7 106.4h0M304.0 118.4h0M335.4 93.4h0M306.5 115.8h0M311.4 102.0h0M344.3 101.3h0M319.2 78.4h0M327.8 97.1h0M283.4 73.5h0M326.7 100.9h0" stroke="#9a9a9a" stroke-width="1.20" stroke-linecap="round" fill="none" opacity="0.2"/>
<path d="M316.0 108.6h0M303.4 116.5h0M325.2 86.7h0M320.1 82.8h0M325.8 92.6h0M303.6 85.6h0M335.9 85.0h0M336.8 101.4h0M302.2 75.8h0M308.3 90.8h0M314.4 94.1h0M313.2 102.4h0M289.7 66.1h0M320.6 123.0h0M303.3 111.1h0M305.9 132.3h0M326.3 70.0h0M313.6 83.3h0M326.7 112.9h0M336.3 119.4h0M308.5 99.7h0M336.9 92.6h0M315.5 106.3h0M318.8 93.8h0M328.7 73.7h0M328.8 94.1h0M315.0 70.6h0M320.5 94.6h0M345.3 71.1h0M326.2 96.0h0M307.6 78.6h0M310.4 80.2h0M305.3 92.8h0M323.6 92.3h0M321.0 88.7h0M300.0 110.8h0M315.1 67.7h0M315.5 108.1h0M307.2 93.9h0M335.7 102.8h0M326.1 91.6h0M311.9 108.4h0M315.0 105.1h0M325.7 120.5h0M334.9 83.2h0M326.4 72.2h0M326.7 119.7h0M318.2 87.7h0M306.8 111.1h0M324.1 86.8h0M310.8 98.0h0M309.6 102.8h0M316.5 78.5h0M292.5 99.4h0M342.4 89.7h0M319.8 82.0h0M301.9 112.3h0M291.8 115.9h0M321.2 81.8h0M311.0 104.4h0M323.6 85.3h0M321.4 122.5h0M309.0 131.8h0M321.2 106.9h0M307.3 72.2h0M337.8 87.3h0M321.7 91.8h0M308.4 95.1h0M346.9 107.3h0M307.2 92.0h0M331.2 82.1h0M302.5 96.3h0M313.3 112.6h0M318.6 101.5h0M331.6 88.0h0M305.4 93.2h0M311.9 103.8h0M309.9 78.7h0M311.0 119.7h0M305.5 82.5h0M350.6 109.9h0M311.9 99.2h0M295.7 88.5h0M316.6 90.3h0M351.9 98.3h0M329.6 82.1h0M307.6 103.1h0M341.4 83.9h0M319.6 110.5h0M331.0 86.6h0M351.3 72.7h0M329.8 90.4h0M318.4 102.5h0M322.2 90.8h0M327.4 78.4h0M322.2 102.4h0M329.8 71.5h0M304.5 88.2h0M325.8 86.5h0M325.2 95.7h0M315.8 69.6h0M344.1 115.0h0M278.3 87.9h0M307.0 102.0h0M292.9 89.2h0M316.6 102.3h0M331.2 58.6h0M340.1 77.1h0M311.1 84.7h0M316.8 77.4h0M326.4 94.9h0M325.9 105.0h0M329.6 72.3h0M311.8 86.2h0M291.8 80.6h0M330.9 109.4h0M344.2 92.7h0M290.8 114.5h0M330.9 98.4h0M334.4 117.2h0M315.9 80.0h0M307.0 84.4h0M311.9 89.3h0M322.4 61.5h0M298.3 82.9h0M337.6 110.9h0M318.7 60.4h0M333.6 138.1h0M313.8 119.6h0M322.1 105.1h0" stroke="#9a9a9a" stroke-width="1.20" stroke-linecap="round" fill="none" opacity="0.2"/>
<path d="M334.1 112.5h0M359.5 149.9h0M317.9 119.2h0M356.9 117.8h0M360.1 41.7h0M365.0 149.1h0M373.2 57.4h0M337.0 71.3h0M249.8 38.3h0M319.1 101.1h0M290.2 51.5h0M351.6 38.4h0M272.8 118.6h0M277.7 154.9h0M288.5 166.2h0M353.6 135.7h0M252.9 159.9h0M345.9 140.1h0M307.2 109.3h0M354.4 25.6h0M286.1 74.4h0M367.2 98.9h0M367.8 59.0h0M286.3 37.7h0M322.6 154.1h0M324.6 44.5h0M315.0 96.8h0M300.9 36.8h0M335.4 138.6h0M293.4 115.1h0M376.0 64.7h0M260.5 31.6h0M248.0 80.6h0M303.1 61.5h0M302.7 156.2h0M315.7 45.9h0M352.5 116.1h0M274.0 57.3h0M354.3 137.0h0M365.5 19.8h0M303.2 112.5h0M341.5 29.3h0M271.1 124.4h0M288.8 59.2h0M269.0 87.3h0M312.5 68.9h0M263.0 25.2h0M381.7 85.1h0M353.4 142.4h0M369.3 86.6h0M348.4 38.6h0M293.3 30.2h0M271.9 166.6h0M312.8 34.0h0M368.0 25.5h0M313.9 28.9h0M320.8 148.4h0M330.6 48.4h0M301.9 78.9h0M279.1 128.3h0M301.4 92.4h0M308.1 156.2h0M243.9 118.6h0M342.5 56.8h0M276.0 131.4h0M314.8 143.6h0M326.7 33.2h0M271.1 81.4h0M343.1 56.6h0M341.8 62.5h0M280.9 43.1h0M371.4 162.2h0M374.0 103.1h0M255.1 159.6h0M353.6 67.5h0M262.8 100.5h0M331.7 19.0h0M289.7 54.0h0M277.1 140.0h0M265.5 108.0h0M328.8 124.2h0M265.6 137.0h0M254.9 140.9h0M286.9 93.7h0M268.6 97.5h0M304.1 22.7h0M310.5 27.0h0M308.5 140.2h0M325.2 148.2h0M266.6 159.0h0M340.4 23.7h0M299.1 116.5h0M302.1 116.8h0M338.9 110.8h0M264.3 39.2h0M322.5 169.2h0M360.9 59.8h0M292.3 74.7h0M370.7 109.3h0M303.1 125.0h0M320.0 69.7h0M345.0 26.3h0M263.3 114.7h0M361.2 50.3h0M324.9 67.5h0M290.3 27.0h0M319.3 109.2h0M268.4 152.7h0M367.5 48.9h0M246.9 121.2h0M309.6 95.1h0M293.5 34.5h0M291.6 89.6h0M372.0 73.3h0M309.3 119.8h0M296.8 77.9h0M352.1 130.7h0M294.5 111.4h0M293.4 31.8h0M317.8 128.4h0M289.2 45.7h0M265.4 65.6h0M246.2 140.9h0M251.4 48.1h0M263.5 135.6h0M251.1 130.2h0M344.8 61.0h0M369.3 26.7h0M319.5 30.5h0M255.6 30.0h0M303.3 140.9h0M346.8 40.1h0M296.6 156.0h0M364.1 56.0h0M325.9 22.2h0M248.4 161.7h0M260.4 166.8h0M341.3 74.7h0M258.7 145.6h0M268.2 77.8h0M336.4 23.3h0M293.1 21.8h0M303.4 110.9h0M278.3 134.9h0M378.2 19.4h0M341.0 143.6h0M268.1 147.1h0M291.8 58.5h0M251.3 89.8h0M337.5 165.1h0M304.1 50.3h0M322.9 101.7h0M365.3 79.1h0M289.9 110.2h0M373.9 39.9h0M369.9 85.2h0M262.9 143.6h0M296.3 65.5h0M243.8 48.6h0M352.1 92.2h0M243.9 49.2h0M300.5 68.7h0M322.1 59.8h0M299.8 24.7h0M375.6 29.4h0M328.4 122.2h0M295.3 129.4h0M368.4 50.1h0M352.4 45.7h0M380.5 65.9h0M287.3 55.4h0M279.5 77.6h0M265.1 40.2h0M310.9 128.5h0M371.1 157.6h0M372.1 55.5h0M263.8 54.9h0M322.6 32.7h0M324.4 105.4h0M372.5 156.9h0M350.9 154.6h0M281.5 152.9h0M363.9 103.2h0M343.8 131.3h0M344.4 71.9h0M256.7 95.3h0M343.2 137.7h0M333.8 128.0h0M294.5 30.8h0M373.9 19.0h0M302.3 83.5h0M355.2 55.2h0M306.4 39.3h0M298.8 26.2h0M308.7 152.2h0M347.0 148.2h0M337.3 162.0h0M380.1 88.2h0M345.8 150.3h0M331.4 113.1h0M277.7 46.7h0M247.8 97.7h0M255.2 41.2h0M367.0 164.9h0M307.5 99.1h0M342.8 59.7h0M290.7 28.8h0M268.8 149.5h0M356.1 152.0h0M268.9 94.4h0M289.8 145.3h0M372.0 98.4h0M352.1 132.2h0M369.6 136.6h0M368.8 77.3h0M377.7 53.3h0M330.6 89.4h0M361.6 103.0h0M256.8 31.7h0M354.8 66.8h0M346.4 135.0h0M307.4 45.5h0M376.5 30.3h0M265.4 66.5h0M320.0 108.8h0M266.4 149.4h0M308.3 95.4h0M280.3 114.4h0M319.9 54.7h0M324.8 145.6h0M366.0 114.4h0M376.2 21.4h0M262.6 81.9h0M377.2 111.8h0M319.0 122.6h0M247.1 139.2h0M260.3 127.1h0M330.4 84.9h0M374.6 66.3h0M293.4 26.3h0M331.0 87.8h0M362.7 68.7h0M293.1 78.5h0M284.8 23.3h0M277.0 22.8h0M252.1 168.7h0M319.8 139.0h0M313.5 152.2h0M359.1 68.8h0M338.0 29.8h0M380.7 67.4h0M342.0 169.9h0M250.0 105.5h0M377.5 122.7h0M321.9 168.8h0M300.8 33.4h0M324.9 45.3h0M245.0 139.4h0M268.0 44.1h0M257.2 28.9h0" stroke="#999" stroke-width="1.00" stroke-linecap="round" fill="none" opacity="0.16"/>
<path d="M304.2 49.1h0M294.4 82.8h0M292.7 80.6h0M305.7 78.2h0M287.2 41.9h0M288.6 66.1h0M306.4 74.7h0M293.1 65.3h0M293.8 60.3h0M306.7 78.5h0M300.3 81.0h0M288.9 61.0h0M282.8 84.0h0M299.3 79.0h0M300.4 58.1h0M293.4 73.4h0M292.7 64.6h0M298.9 65.9h0M297.8 78.4h0M307.0 73.1h0M302.4 83.8h0M296.5 78.6h0M297.6 68.0h0M298.2 72.5h0M298.8 83.1h0M297.0 68.6h0M282.8 64.9h0M302.3 63.6h0M298.2 81.6h0M302.4 70.9h0M300.9 63.2h0M296.1 71.2h0M301.6 44.1h0M304.8 83.9h0M298.9 79.1h0M295.1 61.6h0M295.0 75.0h0M303.6 75.9h0M305.4 70.0h0M289.9 71.0h0M290.2 65.2h0M301.2 80.2h0M301.6 83.0h0M283.9 73.9h0M306.9 75.4h0M293.7 80.3h0M302.0 83.1h0M306.8 81.3h0M292.7 82.0h0M301.5 63.3h0M301.6 72.7h0M302.5 73.6h0M289.1 69.0h0M299.7 80.1h0M290.7 75.1h0M274.2 82.0h0M293.3 72.4h0M297.8 83.5h0M299.1 66.7h0M303.0 71.0h0M282.6 71.6h0M299.4 82.7h0M299.8 83.4h0M298.5 59.9h0M271.7 62.2h0M284.9 76.7h0M305.2 76.3h0M305.3 79.2h0M286.9 70.6h0M294.3 62.7h0M291.8 64.2h0M300.6 37.5h0M306.3 83.7h0M287.4 69.3h0M293.6 65.9h0M290.6 55.5h0M306.0 76.0h0M291.3 66.8h0M303.1 84.2h0M289.2 56.5h0M294.5 84.0h0M285.6 68.0h0M294.4 67.2h0M286.5 79.6h0M289.3 77.2h0M301.6 64.7h0M294.1 82.6h0M295.1 69.7h0M298.5 77.9h0M304.5 64.3h0M292.0 83.9h0M302.6 74.9h0M295.8 81.6h0M304.6 57.7h0M304.0 64.0h0M307.3 45.2h0M293.1 83.2h0M303.7 67.4h0M300.5 53.6h0M283.6 81.3h0M303.7 66.0h0M299.5 72.9h0M291.7 62.1h0M306.4 72.7h0M304.9 54.4h0M294.9 63.0h0M292.4 64.5h0M306.7 78.3h0M305.1 80.9h0M289.9 79.3h0M288.9 45.1h0M303.9 72.6h0M303.8 77.3h0M300.6 57.4h0M293.3 83.0h0M305.4 64.6h0M300.0 48.8h0M290.1 56.2h0M293.1 77.6h0M291.8 41.6h0M304.0 75.1h0M301.0 46.2h0M299.5 72.0h0M288.9 55.3h0M298.8 79.3h0M305.5 67.8h0M284.0 59.0h0M293.6 77.9h0M298.1 76.9h0M292.9 82.1h0M305.9 82.5h0M290.1 63.3h0M296.3 61.8h0M300.7 76.5h0M285.4 81.0h0M298.0 75.1h0M298.5 52.2h0M298.4 77.5h0M290.8 72.8h0M305.7 80.1h0M297.8 62.3h0M293.3 72.0h0M300.1 76.0h0M301.7 67.8h0M286.6 56.2h0M275.0 50.8h0M305.7 50.5h0M306.7 61.5h0M304.5 81.0h0M299.7 54.3h0M304.4 54.8h0M301.8 68.5h0M302.6 81.0h0M286.9 78.5h0M279.4 68.1h0M303.1 81.8h0M300.9 82.5h0M282.7 34.0h0M290.4 68.2h0M298.6 84.0h0M306.6 78.1h0M303.9 71.9h0M295.9 70.1h0M306.9 78.2h0M290.4 73.9h0M306.5 64.3h0M306.3 60.7h0M286.2 75.4h0M278.0 74.6h0M297.0 67.7h0M294.9 82.8h0M301.4 68.5h0M303.5 65.4h0M293.2 69.3h0M304.9 68.6h0M282.2 74.9h0M294.4 68.6h0M303.7 76.0h0M302.4 71.0h0M288.8 67.8h0M302.5 81.0h0M281.4 53.0h0M300.1 64.6h0M290.4 72.4h0M305.6 59.1h0M302.0 75.2h0M292.0 73.1h0M305.8 72.8h0M288.6 79.7h0M296.7 78.6h0M301.2 76.3h0M301.6 69.4h0M306.7 75.6h0M305.0 60.7h0M305.4 74.5h0M297.9 74.9h0M290.7 62.1h0M290.2 73.3h0M302.9 54.1h0M297.6 58.1h0M297.4 72.0h0M295.3 53.0h0M302.3 79.6h0M301.7 80.9h0M305.0 42.3h0M291.5 82.4h0M295.9 78.2h0M299.9 74.5h0M291.6 48.4h0M304.4 54.2h0M297.2 76.3h0M290.5 76.8h0M299.9 71.7h0M299.5 69.0h0M305.3 78.2h0M305.2 78.1h0M302.2 76.6h0M297.1 77.4h0M368.9 140.0h0M348.6 127.3h0M328.6 109.4h0M341.9 139.1h0M342.6 106.2h0M340.7 145.0h0M350.6 132.1h0M335.6 112.1h0M335.3 111.9h0M347.3 109.8h0M347.5 121.9h0M333.3 138.9h0M334.2 118.5h0M333.7 124.5h0M329.4 119.1h0M344.6 110.3h0M349.4 106.0h0M358.3 110.4h0M328.5 147.8h0M335.3 115.9h0M344.8 132.7h0M337.8 122.6h0M338.1 106.4h0M345.8 116.2h0M360.3 106.1h0M337.0 136.7h0M348.1 135.4h0M339.8 114.0h0M341.5 122.8h0M345.0 124.0h0M331.4 126.8h0M361.0 105.0h0M328.2 144.5h0M351.5 113.8h0M334.1 112.3h0M330.0 121.9h0M348.8 132.8h0M342.4 139.6h0M353.2 116.8h0M338.9 108.5h0M342.9 117.4h0M338.0 105.2h0M334.1 146.4h0M335.4 112.3h0M337.4 129.9h0M335.2 126.9h0M347.0 109.9h0M363.1 105.4h0M370.4 109.6h0M328.9 110.1h0M330.0 131.9h0M340.1 108.0h0M330.4 122.3h0M329.3 119.6h0M351.7 118.0h0M342.2 122.0h0M352.1 116.6h0M331.2 115.9h0M356.3 115.3h0M356.2 128.6h0M331.5 109.5h0M327.4 113.4h0M327.4 113.5h0M341.5 105.6h0M333.8 126.9h0M350.2 131.5h0M328.9 114.8h0M327.7 107.2h0M331.6 113.4h0M338.0 139.4h0M340.2 104.9h0M358.1 112.6h0M364.3 130.3h0M340.0 116.0h0M368.3 127.2h0M347.5 106.2h0M357.0 118.5h0M337.7 125.6h0M335.7 124.0h0M342.2 118.2h0M340.1 127.5h0M351.2 111.2h0M328.0 131.6h0M332.4 111.0h0M353.7 136.6h0M330.3 105.0h0M345.9 126.0h0M339.0 124.4h0M338.1 117.6h0M334.4 137.8h0M334.9 133.7h0M342.5 130.4h0M347.4 107.6h0M338.8 130.0h0M332.4 114.0h0M334.7 119.8h0M331.4 122.0h0M360.1 115.4h0M350.1 127.3h0M367.5 125.2h0M357.1 109.9h0M335.3 114.3h0M344.8 119.8h0M335.6 110.0h0M343.0 107.1h0M345.4 108.8h0M339.7 110.5h0M343.6 108.1h0M348.9 136.4h0M352.0 126.6h0M328.9 114.5h0M347.1 110.6h0M336.2 114.7h0M357.0 117.6h0M329.1 116.5h0M347.0 107.2h0M364.5 121.6h0M329.1 131.6h0M331.6 107.3h0M366.6 120.7h0M335.4 131.1h0M329.0 111.9h0M335.3 109.2h0M336.8 136.4h0M345.4 107.0h0M342.2 121.7h0M338.0 105.7h0M328.6 113.1h0M337.7 112.0h0M337.4 105.8h0M335.7 124.4h0M327.5 120.2h0M330.4 110.1h0M327.7 114.1h0M345.4 111.9h0M358.0 128.9h0M332.8 109.1h0M336.0 131.0h0M330.0 121.3h0M339.4 104.8h0M341.4 111.1h0M340.9 113.7h0M331.5 134.6h0M356.3 124.0h0M340.9 104.9h0M344.1 121.2h0M357.3 105.3h0M340.9 120.1h0M339.0 115.1h0M366.7 109.8h0M330.1 106.3h0M361.8 115.4h0M335.5 135.1h0M327.7 114.4h0M349.7 141.6h0M345.3 111.9h0M340.3 114.9h0M335.5 137.1h0M334.2 130.2h0M343.0 123.6h0M340.3 123.6h0M350.4 117.8h0M330.6 125.0h0M331.9 122.8h0M335.6 116.1h0M356.4 117.1h0M342.8 127.6h0M336.9 124.2h0M369.8 140.4h0M334.4 128.2h0M328.3 112.9h0M339.1 106.0h0M357.1 141.7h0M340.7 116.7h0M337.5 110.1h0M348.1 112.3h0M344.0 116.8h0M361.8 122.2h0M350.5 110.4h0M336.9 117.8h0M332.7 109.6h0M334.8 123.5h0M352.0 111.3h0M363.3 124.2h0M359.4 109.9h0M341.3 107.1h0M329.1 123.6h0M334.5 146.5h0M330.3 104.9h0M327.7 119.3h0M330.6 104.6h0M331.5 131.5h0M344.6 126.4h0M338.3 104.9h0M342.8 124.6h0M330.7 148.7h0M329.9 133.7h0M353.1 137.6h0M331.2 116.5h0M354.3 141.4h0M337.9 119.4h0M346.6 106.6h0M346.2 116.5h0M354.8 137.5h0M341.8 124.4h0M345.6 138.7h0M343.5 121.7h0M334.1 122.9h0M335.2 119.8h0M337.4 117.8h0M369.2 123.6h0M349.3 138.5h0M339.8 126.7h0M334.3 105.6h0M343.7 127.2h0M343.9 110.3h0M340.5 122.6h0M363.6 112.5h0M334.6 123.6h0M328.0 126.9h0M358.8 117.1h0M335.2 114.1h0M338.8 106.8h0M345.6 115.2h0M348.7 107.2h0M367.1 132.2h0M358.7 125.8h0M331.9 132.2h0M328.5 122.5h0M346.1 105.6h0M340.9 124.4h0M338.7 130.5h0M340.0 104.8h0M328.8 107.3h0M332.6 108.5h0M359.0 123.3h0M343.1 119.1h0M348.6 107.4h0M328.7 116.8h0M337.1 110.2h0M332.1 124.4h0M332.1 126.1h0M328.3 132.0h0M345.6 113.4h0M351.4 125.9h0M344.2 147.4h0M367.3 104.8h0M333.0 127.2h0M346.5 112.4h0M369.0 125.2h0M362.8 104.9h0M352.0 117.4h0M338.2 106.6h0M353.3 117.6h0M347.8 129.2h0M337.9 128.0h0M339.9 109.7h0M327.5 130.5h0M333.2 112.6h0M342.6 121.4h0M342.7 124.1h0M340.0 123.1h0M328.7 109.8h0M331.9 105.8h0M331.9 127.2h0M354.4 106.1h0M345.7 109.4h0M356.4 133.0h0M331.9 117.4h0M349.5 139.9h0M336.5 119.8h0M331.5 125.3h0M329.2 126.2h0M355.2 116.8h0M348.7 112.0h0M370.8 121.2h0M329.0 106.7h0M346.0 139.3h0M346.2 120.6h0M333.5 107.9h0" stroke="#f25a45" stroke-width="2.00" stroke-linecap="round" fill="none" opacity="0.78"/>
<line x1="307.50" y1="16.00" x2="307.50" y2="172.00" stroke="#3a62f0" stroke-width="1" stroke-dasharray="2,1.6"/>
<line x1="327.30" y1="16.00" x2="327.30" y2="172.00" stroke="#3a62f0" stroke-width="1" stroke-dasharray="2,1.6"/>
<line x1="240.00" y1="84.30" x2="393.50" y2="84.30" stroke="#3a62f0" stroke-width="1" stroke-dasharray="2,1.6"/>
<line x1="240.00" y1="104.50" x2="393.50" y2="104.50" stroke="#3a62f0" stroke-width="1" stroke-dasharray="2,1.6"/>
<line x1="240.00" y1="94.50" x2="389.00" y2="94.50" stroke="#111" stroke-width="1"/>
<path d="M395,94.4 L387.5,91.0 L387.5,97.80000000000001 Z" fill="#111" stroke="none" stroke-width="1"/>
<line x1="317.50" y1="172.00" x2="317.50" y2="22.80" stroke="#111" stroke-width="1"/>
<path d="M317.4,16.8 L314.0,24.3 L320.79999999999995,24.3 Z" fill="#111" stroke="none" stroke-width="1"/>
<line x1="258.50" y1="94.40" x2="258.50" y2="96.00" stroke="#111" stroke-width="0.8"/>
<text x="257.40" y="100.19" font-size="5.6" text-anchor="middle" font-weight="bold" fill="#141414" stroke="#141414" stroke-width="0.2">−6</text>
<line x1="315.80" y1="155.50" x2="317.40" y2="155.50" stroke="#111" stroke-width="0.8"/>
<text x="315.10" y="156.99" font-size="5.6" text-anchor="end" font-weight="bold" fill="#141414" stroke="#141414" stroke-width="0.2">−6</text>
<line x1="277.50" y1="94.40" x2="277.50" y2="96.00" stroke="#111" stroke-width="0.8"/>
<text x="277.20" y="100.19" font-size="5.6" text-anchor="middle" font-weight="bold" fill="#141414" stroke="#141414" stroke-width="0.2">−4</text>
<line x1="315.80" y1="134.50" x2="317.40" y2="134.50" stroke="#111" stroke-width="0.8"/>
<text x="315.10" y="136.79" font-size="5.6" text-anchor="end" font-weight="bold" fill="#141414" stroke="#141414" stroke-width="0.2">−4</text>
<line x1="297.50" y1="94.40" x2="297.50" y2="96.00" stroke="#111" stroke-width="0.8"/>
<text x="297.00" y="100.19" font-size="5.6" text-anchor="middle" font-weight="bold" fill="#141414" stroke="#141414" stroke-width="0.2">−2</text>
<line x1="315.80" y1="114.50" x2="317.40" y2="114.50" stroke="#111" stroke-width="0.8"/>
<text x="315.10" y="116.59" font-size="5.6" text-anchor="end" font-weight="bold" fill="#141414" stroke="#141414" stroke-width="0.2">−2</text>
<line x1="337.50" y1="94.40" x2="337.50" y2="96.00" stroke="#111" stroke-width="0.8"/>
<text x="336.60" y="100.19" font-size="5.6" text-anchor="middle" font-weight="bold" fill="#141414" stroke="#141414" stroke-width="0.2">2</text>
<line x1="315.80" y1="74.50" x2="317.40" y2="74.50" stroke="#111" stroke-width="0.8"/>
<text x="315.10" y="76.19" font-size="5.6" text-anchor="end" font-weight="bold" fill="#141414" stroke="#141414" stroke-width="0.2">2</text>
<line x1="357.50" y1="94.40" x2="357.50" y2="96.00" stroke="#111" stroke-width="0.8"/>
<text x="356.40" y="100.19" font-size="5.6" text-anchor="middle" font-weight="bold" fill="#141414" stroke="#141414" stroke-width="0.2">4</text>
<line x1="315.80" y1="54.50" x2="317.40" y2="54.50" stroke="#111" stroke-width="0.8"/>
<text x="315.10" y="55.99" font-size="5.6" text-anchor="end" font-weight="bold" fill="#141414" stroke="#141414" stroke-width="0.2">4</text>
<line x1="376.50" y1="94.40" x2="376.50" y2="96.00" stroke="#111" stroke-width="0.8"/>
<text x="376.20" y="100.19" font-size="5.6" text-anchor="middle" font-weight="bold" fill="#141414" stroke="#141414" stroke-width="0.2">6</text>
<line x1="315.80" y1="33.50" x2="317.40" y2="33.50" stroke="#111" stroke-width="0.8"/>
<text x="315.10" y="35.79" font-size="5.6" text-anchor="end" font-weight="bold" fill="#141414" stroke="#141414" stroke-width="0.2">6</text>
<text x="321.80" y="100.19" font-size="5.6" text-anchor="middle" font-weight="bold" fill="#141414" stroke="#141414" stroke-width="0.2">0</text>
<text x="257.00" y="26.92" font-size="5.4" text-anchor="middle" font-weight="bold" fill="#141414" stroke="#141414" stroke-width="0.2">n = 218</text>
<text x="378.00" y="157.42" font-size="5.4" text-anchor="middle" font-weight="bold" fill="#141414" stroke="#141414" stroke-width="0.2">n = 280</text>
<text x="314.20" y="182.85" font-size="6.9" text-anchor="middle" font-weight="bold" fill="#141414" stroke="#141414" stroke-width="0.2">mRNA fold change</text>
<text x="315.30" y="189.67" font-size="6.95" text-anchor="middle" font-weight="bold" fill="#141414" stroke="#141414" stroke-width="0.2">log2(sicircFCHO2/siNC)</text>
<text x="217.20" y="101.57" font-size="6.95" text-anchor="middle" font-weight="bold" fill="#141414" stroke="#141414" stroke-width="0.4" transform="rotate(-90 217.20 99.10)">mRNA fold change</text>
<text x="226.40" y="100.47" font-size="6.95" text-anchor="middle" font-weight="bold" fill="#141414" stroke="#141414" stroke-width="0.4" transform="rotate(-90 226.40 98.00)">log2(circFCHO2 OE/EV)</text>
<text x="414.35" y="12.46" font-size="15.9" font-weight="bold" fill="#1f1b1c" stroke="#1f1b1c" stroke-width="0.3">B</text>
<circle cx="519.50" cy="52.60" r="38.20" fill="#e9e2b9"/>
<circle cx="565.70" cy="52.80" r="38.30" fill="#bfe8f6" opacity="0.88"/>
<clipPath id="cpv"><circle cx="519.5" cy="52.6" r="38.2"/></clipPath>
<circle cx="565.70" cy="52.80" r="38.30" fill="#d3dcb7" clip-path="url(#cpv)"/>
<text x="506.00" y="53.45" font-size="8.3" text-anchor="middle" font-weight="bold" fill="#141414" stroke="#141414" stroke-width="0.2">RNA-seq</text>
<text x="505.50" y="63.28" font-size="7.0" text-anchor="middle" font-weight="bold" fill="#141414" stroke="#141414" stroke-width="0.2">350</text>
<text x="542.60" y="56.28" font-size="7.0" text-anchor="middle" font-weight="bold" fill="#141414" stroke="#141414" stroke-width="0.2">148</text>
<text x="580.60" y="53.95" font-size="8.3" text-anchor="middle" font-weight="bold" fill="#141414" stroke="#141414" stroke-width="0.2">RIP-seq</text>
<text x="577.70" y="63.28" font-size="7.0" text-anchor="middle" font-weight="bold" fill="#141414" stroke="#141414" stroke-width="0.2">65</text>
<text x="413.75" y="96.52" font-size="15.9" font-weight="bold" fill="#1f1b1c" stroke="#1f1b1c" stroke-width="0.3">C</text>
<rect x="529.30" y="110.50" width="77.40" height="76.80" fill="none" stroke="#333" stroke-width="0.9"/>
<text x="527.20" y="122.52" font-size="5.7" text-anchor="end" font-weight="bold" fill="#141414" stroke="#141414" stroke-width="0.2">Positive regulation of defense response</text>
<line x1="528.00" y1="120.50" x2="529.30" y2="120.50" stroke="#333" stroke-width="0.6"/>
<text x="527.20" y="132.12" font-size="5.7" text-anchor="end" font-weight="bold" fill="#141414" stroke="#141414" stroke-width="0.2">Cell-cell adhesion</text>
<line x1="528.00" y1="130.10" x2="529.30" y2="130.10" stroke="#333" stroke-width="0.6"/>
<text x="527.20" y="141.62" font-size="5.7" text-anchor="end" font-weight="bold" fill="#141414" stroke="#141414" stroke-width="0.2">Inflammatory response</text>
<line x1="528.00" y1="139.60" x2="529.30" y2="139.60" stroke="#333" stroke-width="0.6"/>
<text x="527.20" y="151.32" font-size="5.7" text-anchor="end" font-weight="bold" fill="#141414" stroke="#141414" stroke-width="0.2">Synaptic signaling</text>
<line x1="528.00" y1="149.30" x2="529.30" y2="149.30" stroke="#333" stroke-width="0.6"/>
<text x="527.20" y="160.92" font-size="5.7" text-anchor="end" font-weight="bold" fill="#141414" stroke="#141414" stroke-width="0.2">Regulation of cell activation</text>
<line x1="528.00" y1="158.90" x2="529.30" y2="158.90" stroke="#333" stroke-width="0.6"/>
<text x="527.20" y="170.62" font-size="5.7" text-anchor="end" font-weight="bold" fill="#141414" stroke="#141414" stroke-width="0.2">Positive regulation of apoptotic process</text>
<line x1="528.00" y1="168.60" x2="529.30" y2="168.60" stroke="#333" stroke-width="0.6"/>
<text x="527.20" y="180.32" font-size="5.7" text-anchor="end" font-weight="bold" fill="#141414" stroke="#141414" stroke-width="0.2">Regulation of protein stability</text>
<line x1="528.00" y1="178.30" x2="529.30" y2="178.30" stroke="#333" stroke-width="0.6"/>
<circle cx="602.60" cy="120.50" r="2.10" fill="#ee6f70"/>
<circle cx="570.00" cy="130.10" r="1.60" fill="#e98a3c"/>
<circle cx="560.50" cy="139.60" r="2.00" fill="#b5a443"/>
<circle cx="552.80" cy="149.30" r="1.10" fill="#8fd35c"/>
<circle cx="550.60" cy="158.90" r="1.80" fill="#7fd873"/>
<circle cx="544.80" cy="168.60" r="1.35" fill="#6fe092"/>
<circle cx="538.80" cy="178.30" r="1.80" fill="#63eaa6"/>
<line x1="529.50" y1="187.30" x2="529.50" y2="189.30" stroke="#333" stroke-width="0.8"/>
<text x="529.30" y="198.54" font-size="8.0" text-anchor="middle" font-weight="bold" fill="#141414" stroke="#141414" stroke-width="0.2">2</text>
<line x1="548.50" y1="187.30" x2="548.50" y2="189.30" stroke="#333" stroke-width="0.8"/>
<text x="548.65" y="198.54" font-size="8.0" text-anchor="middle" font-weight="bold" fill="#141414" stroke="#141414" stroke-width="0.2">3</text>
<line x1="568.50" y1="187.30" x2="568.50" y2="189.30" stroke="#333" stroke-width="0.8"/>
<text x="568.00" y="198.54" font-size="8.0" text-anchor="middle" font-weight="bold" fill="#141414" stroke="#141414" stroke-width="0.2">4</text>
<line x1="587.50" y1="187.30" x2="587.50" y2="189.30" stroke="#333" stroke-width="0.8"/>
<text x="587.35" y="198.54" font-size="8.0" text-anchor="middle" font-weight="bold" fill="#141414" stroke="#141414" stroke-width="0.2">5</text>
<line x1="606.50" y1="187.30" x2="606.50" y2="189.30" stroke="#333" stroke-width="0.8"/>
<text x="606.70" y="198.54" font-size="8.0" text-anchor="middle" font-weight="bold" fill="#141414" stroke="#141414" stroke-width="0.2">6</text>
<text x="567.30" y="206.53" font-size="8.25" text-anchor="middle" font-weight="bold" fill="#141414" stroke="#141414" stroke-width="0.2">-log10(p-value)</text>
<defs><linearGradient id="cb" x1="0" y1="0" x2="0" y2="1"><stop offset="0" stop-color="#f07272"/><stop offset="0.22" stop-color="#ee8a55"/><stop offset="0.42" stop-color="#e8953a"/><stop offset="0.62" stop-color="#b3b84c"/><stop offset="0.8" stop-color="#80e07a"/><stop offset="1" stop-color="#68f0b4"/></linearGradient></defs>
<rect x="627.80" y="110.50" width="6.00" height="76.60" fill="url(#cb)" stroke="#333" stroke-width="0.8"/>
<line x1="633.80" y1="128.40" x2="635.30" y2="128.40" stroke="#333" stroke-width="0.6"/>
<text x="638.30" y="129.96" font-size="4.4" text-anchor="start" font-weight="bold" fill="#141414" stroke="#141414" stroke-width="0.2">5</text>
<line x1="633.80" y1="151.80" x2="635.30" y2="151.80" stroke="#333" stroke-width="0.6"/>
<text x="638.30" y="153.36" font-size="4.4" text-anchor="start" font-weight="bold" fill="#141414" stroke="#141414" stroke-width="0.2">4</text>
<line x1="633.80" y1="175.40" x2="635.30" y2="175.40" stroke="#333" stroke-width="0.6"/>
<text x="638.30" y="176.96" font-size="4.4" text-anchor="start" font-weight="bold" fill="#141414" stroke="#141414" stroke-width="0.2">3</text>
<text x="631.00" y="195.63" font-size="6.0" text-anchor="middle" font-weight="bold" fill="#141414" stroke="#141414" stroke-width="0.2">Erichment</text>
<text x="657.50" y="118.33" font-size="6.0" text-anchor="middle" font-weight="bold" fill="#141414" stroke="#141414" stroke-width="0.2">Count</text>
<circle cx="653.00" cy="124.00" r="1.00" fill="#111"/>
<text x="656.60" y="125.56" font-size="4.4" text-anchor="start" font-weight="bold" fill="#141414" stroke="#141414" stroke-width="0.2">4.00</text>
<circle cx="653.00" cy="129.40" r="1.50" fill="#111"/>
<text x="656.60" y="130.96" font-size="4.4" text-anchor="start" font-weight="bold" fill="#141414" stroke="#141414" stroke-width="0.2">7.00</text>
<circle cx="653.00" cy="135.40" r="2.20" fill="#111"/>
<text x="656.60" y="136.96" font-size="4.4" text-anchor="start" font-weight="bold" fill="#141414" stroke="#141414" stroke-width="0.2">13.00</text>
<text x="0.40" y="214.46" font-size="15.9" font-weight="bold" fill="#1f1b1c" stroke="#1f1b1c" stroke-width="0.3">D</text>
<text x="103.35" y="218.29" font-size="7.59" text-anchor="middle" font-weight="bold" fill="#141414" stroke="#141414" stroke-width="0.2">PTBP1 RIP-seq Signal Fold Change</text>
<text x="67.65" y="232.73" font-size="6.56" text-anchor="middle" font-weight="bold" fill="#141414" stroke="#141414" stroke-width="0.2">circFCHO2</text>
<text x="67.40" y="240.52" font-size="6.53" text-anchor="middle" font-weight="bold" fill="#141414" stroke="#141414" stroke-width="0.2">Overexpress</text>
<text x="137.55" y="231.63" font-size="6.56" text-anchor="middle" font-weight="bold" fill="#141414" stroke="#141414" stroke-width="0.2">circFCHO2</text>
<text x="137.40" y="239.34" font-size="6.59" text-anchor="middle" font-weight="bold" fill="#141414" stroke="#141414" stroke-width="0.2">Knock down</text>
<rect x="50.30" y="247.30" width="34.20" height="9.23" fill="#fa2010" stroke="#2a2a2a" stroke-width="0.8"/>
<text x="67.40" y="254.12" font-size="6.2" text-anchor="middle" font-weight="normal" fill="#111" stroke="#111" stroke-width="0.2">4.05</text>
<text x="46.40" y="254.06" font-size="6.05" text-anchor="end" font-weight="bold" fill="#141414" stroke="#141414" stroke-width="0.2">IRF7</text>
<rect x="50.30" y="256.53" width="34.20" height="9.23" fill="#f85838" stroke="#2a2a2a" stroke-width="0.8"/>
<text x="67.40" y="263.35" font-size="6.2" text-anchor="middle" font-weight="normal" fill="#111" stroke="#111" stroke-width="0.2">3.31</text>
<text x="46.40" y="263.29" font-size="6.05" text-anchor="end" font-weight="bold" fill="#f41c1c" stroke="#f41c1c" stroke-width="0.2">GRN</text>
<rect x="50.30" y="265.76" width="34.20" height="9.23" fill="#f09a84" stroke="#2a2a2a" stroke-width="0.8"/>
<text x="67.40" y="272.58" font-size="6.2" text-anchor="middle" font-weight="normal" fill="#111" stroke="#111" stroke-width="0.2">2.04</text>
<text x="46.40" y="272.52" font-size="6.05" text-anchor="end" font-weight="bold" fill="#141414" stroke="#141414" stroke-width="0.2">SERPINE1</text>
<rect x="50.30" y="274.99" width="34.20" height="9.23" fill="#f09a84" stroke="#2a2a2a" stroke-width="0.8"/>
<text x="67.40" y="281.81" font-size="6.2" text-anchor="middle" font-weight="normal" fill="#111" stroke="#111" stroke-width="0.2">2.03</text>
<text x="46.40" y="281.76" font-size="6.05" text-anchor="end" font-weight="bold" fill="#141414" stroke="#141414" stroke-width="0.2">HMGB2</text>
<rect x="50.30" y="284.22" width="34.20" height="9.23" fill="#f2a690" stroke="#2a2a2a" stroke-width="0.8"/>
<text x="67.40" y="291.04" font-size="6.2" text-anchor="middle" font-weight="normal" fill="#111" stroke="#111" stroke-width="0.2">1.78</text>
<text x="46.40" y="290.99" font-size="6.05" text-anchor="end" font-weight="bold" fill="#141414" stroke="#141414" stroke-width="0.2">CEBPB</text>
<rect x="50.30" y="293.45" width="34.20" height="9.23" fill="#f2c0b0" stroke="#2a2a2a" stroke-width="0.8"/>
<text x="67.40" y="300.27" font-size="6.2" text-anchor="middle" font-weight="normal" fill="#111" stroke="#111" stroke-width="0.2">1.38</text>
<text x="46.40" y="300.22" font-size="6.05" text-anchor="end" font-weight="bold" fill="#141414" stroke="#141414" stroke-width="0.2">IFIH1</text>
<rect x="50.30" y="302.68" width="34.20" height="9.23" fill="#f3c4b4" stroke="#2a2a2a" stroke-width="0.8"/>
<text x="67.40" y="309.50" font-size="6.2" text-anchor="middle" font-weight="normal" fill="#111" stroke="#111" stroke-width="0.2">1.29</text>
<text x="46.40" y="309.45" font-size="6.05" text-anchor="end" font-weight="bold" fill="#141414" stroke="#141414" stroke-width="0.2">EMILIN2</text>
<rect x="50.30" y="311.92" width="34.20" height="9.23" fill="#f3c6b7" stroke="#2a2a2a" stroke-width="0.8"/>
<text x="67.40" y="318.73" font-size="6.2" text-anchor="middle" font-weight="normal" fill="#111" stroke="#111" stroke-width="0.2">1.24</text>
<text x="46.40" y="318.68" font-size="6.05" text-anchor="end" font-weight="bold" fill="#141414" stroke="#141414" stroke-width="0.2">PLSCR1</text>
<rect x="50.30" y="321.15" width="34.20" height="9.23" fill="#f4c9bb" stroke="#2a2a2a" stroke-width="0.8"/>
<text x="67.40" y="327.96" font-size="6.2" text-anchor="middle" font-weight="normal" fill="#111" stroke="#111" stroke-width="0.2">1.16</text>
<text x="46.40" y="327.91" font-size="6.05" text-anchor="end" font-weight="bold" fill="#141414" stroke="#141414" stroke-width="0.2">LAMP1</text>
<rect x="50.30" y="330.38" width="34.20" height="9.23" fill="#f4c9bb" stroke="#2a2a2a" stroke-width="0.8"/>
<text x="67.40" y="337.19" font-size="6.2" text-anchor="middle" font-weight="normal" fill="#111" stroke="#111" stroke-width="0.2">1.16</text>
<text x="46.40" y="337.14" font-size="6.05" text-anchor="end" font-weight="bold" fill="#141414" stroke="#141414" stroke-width="0.2">TRIM56</text>
<rect x="50.30" y="339.61" width="34.20" height="9.23" fill="#f5cdc0" stroke="#2a2a2a" stroke-width="0.8"/>
<text x="67.40" y="346.42" font-size="6.2" text-anchor="middle" font-weight="normal" fill="#111" stroke="#111" stroke-width="0.2">1.06</text>
<text x="46.40" y="346.37" font-size="6.05" text-anchor="end" font-weight="bold" fill="#141414" stroke="#141414" stroke-width="0.2">FEM1A</text>
<rect x="50.30" y="348.84" width="34.20" height="9.23" fill="#f5cfc2" stroke="#2a2a2a" stroke-width="0.8"/>
<text x="67.40" y="355.65" font-size="6.2" text-anchor="middle" font-weight="normal" fill="#111" stroke="#111" stroke-width="0.2">1.03</text>
<text x="46.40" y="355.60" font-size="6.05" text-anchor="end" font-weight="bold" fill="#141414" stroke="#141414" stroke-width="0.2">NPAS2</text>
<rect x="50.30" y="358.07" width="34.20" height="9.23" fill="#f5cfc2" stroke="#2a2a2a" stroke-width="0.8"/>
<text x="67.40" y="364.89" font-size="6.2" text-anchor="middle" font-weight="normal" fill="#111" stroke="#111" stroke-width="0.2">1.01</text>
<text x="46.40" y="364.83" font-size="6.05" text-anchor="end" font-weight="bold" fill="#141414" stroke="#141414" stroke-width="0.2">HLA−E</text>
<rect x="120.60" y="247.30" width="34.70" height="9.28" fill="#eeeafa" stroke="#2a2a2a" stroke-width="0.8"/>
<text x="137.95" y="254.14" font-size="6.2" text-anchor="middle" font-weight="bold" fill="#111" stroke="#111" stroke-width="0.2">−1.01</text>
<text x="117.60" y="254.09" font-size="6.05" text-anchor="end" font-weight="bold" fill="#141414" stroke="#141414" stroke-width="0.2">HLA−E</text>
<rect x="120.60" y="256.58" width="34.70" height="9.28" fill="#eeeafa" stroke="#2a2a2a" stroke-width="0.8"/>
<text x="137.95" y="263.42" font-size="6.2" text-anchor="middle" font-weight="bold" fill="#111" stroke="#111" stroke-width="0.2">−1.01</text>
<text x="117.60" y="263.36" font-size="6.05" text-anchor="end" font-weight="bold" fill="#141414" stroke="#141414" stroke-width="0.2">TRIM56</text>
<rect x="120.60" y="265.85" width="34.70" height="9.28" fill="#eeeafa" stroke="#2a2a2a" stroke-width="0.8"/>
<text x="137.95" y="272.69" font-size="6.2" text-anchor="middle" font-weight="bold" fill="#111" stroke="#111" stroke-width="0.2">−1.01</text>
<text x="117.60" y="272.64" font-size="6.05" text-anchor="end" font-weight="bold" fill="#141414" stroke="#141414" stroke-width="0.2">LAMP1</text>
<rect x="120.60" y="275.13" width="34.70" height="9.28" fill="#e7defa" stroke="#2a2a2a" stroke-width="0.8"/>
<text x="137.95" y="281.97" font-size="6.2" text-anchor="middle" font-weight="bold" fill="#111" stroke="#111" stroke-width="0.2">−1.44</text>
<text x="117.60" y="281.92" font-size="6.05" text-anchor="end" font-weight="bold" fill="#141414" stroke="#141414" stroke-width="0.2">EMILIN2</text>
<rect x="120.60" y="284.41" width="34.70" height="9.28" fill="#e6dcfa" stroke="#2a2a2a" stroke-width="0.8"/>
<text x="137.95" y="291.25" font-size="6.2" text-anchor="middle" font-weight="bold" fill="#111" stroke="#111" stroke-width="0.2">−1.52</text>
<text x="117.60" y="291.19" font-size="6.05" text-anchor="end" font-weight="bold" fill="#141414" stroke="#141414" stroke-width="0.2">IRF7</text>
<rect x="120.60" y="293.68" width="34.70" height="9.28" fill="#e5dbfa" stroke="#2a2a2a" stroke-width="0.8"/>
<text x="137.95" y="300.52" font-size="6.2" text-anchor="middle" font-weight="bold" fill="#111" stroke="#111" stroke-width="0.2">−1.56</text>
<text x="117.60" y="300.47" font-size="6.05" text-anchor="end" font-weight="bold" fill="#141414" stroke="#141414" stroke-width="0.2">NPAS2</text>
<rect x="120.60" y="302.96" width="34.70" height="9.28" fill="#e0d4fa" stroke="#2a2a2a" stroke-width="0.8"/>
<text x="137.95" y="309.80" font-size="6.2" text-anchor="middle" font-weight="bold" fill="#111" stroke="#111" stroke-width="0.2">−1.96</text>
<text x="117.60" y="309.75" font-size="6.05" text-anchor="end" font-weight="bold" fill="#141414" stroke="#141414" stroke-width="0.2">PLSCR1</text>
<rect x="120.60" y="312.24" width="34.70" height="9.28" fill="#e0d4fa" stroke="#2a2a2a" stroke-width="0.8"/>
<text x="137.95" y="319.08" font-size="6.2" text-anchor="middle" font-weight="bold" fill="#111" stroke="#111" stroke-width="0.2">−1.98</text>
<text x="117.60" y="319.02" font-size="6.05" text-anchor="end" font-weight="bold" fill="#141414" stroke="#141414" stroke-width="0.2">CEBPB</text>
<rect x="120.60" y="321.52" width="34.70" height="9.28" fill="#ccb8f8" stroke="#2a2a2a" stroke-width="0.8"/>
<text x="137.95" y="328.35" font-size="6.2" text-anchor="middle" font-weight="bold" fill="#111" stroke="#111" stroke-width="0.2">−2.80</text>
<text x="117.60" y="328.30" font-size="6.05" text-anchor="end" font-weight="bold" fill="#141414" stroke="#141414" stroke-width="0.2">IFIH1</text>
<rect x="120.60" y="330.79" width="34.70" height="9.28" fill="#c6aff8" stroke="#2a2a2a" stroke-width="0.8"/>
<text x="137.95" y="337.63" font-size="6.2" text-anchor="middle" font-weight="bold" fill="#111" stroke="#111" stroke-width="0.2">−3.12</text>
<text x="117.60" y="337.58" font-size="6.05" text-anchor="end" font-weight="bold" fill="#141414" stroke="#141414" stroke-width="0.2">SERPINE1</text>
<rect x="120.60" y="340.07" width="34.70" height="9.28" fill="#c0a6f8" stroke="#2a2a2a" stroke-width="0.8"/>
<text x="137.95" y="346.91" font-size="6.2" text-anchor="middle" font-weight="bold" fill="#111" stroke="#111" stroke-width="0.2">−3.45</text>
<text x="117.60" y="346.86" font-size="6.05" text-anchor="end" font-weight="bold" fill="#141414" stroke="#141414" stroke-width="0.2">FEM1A</text>
<rect x="120.60" y="349.35" width="34.70" height="9.28" fill="#b090f8" stroke="#2a2a2a" stroke-width="0.8"/>
<text x="137.95" y="356.19" font-size="6.2" text-anchor="middle" font-weight="bold" fill="#111" stroke="#111" stroke-width="0.2">−4.09</text>
<text x="117.60" y="356.13" font-size="6.05" text-anchor="end" font-weight="bold" fill="#f41c1c" stroke="#f41c1c" stroke-width="0.2">GRN</text>
<rect x="120.60" y="358.62" width="34.70" height="9.28" fill="#0a0af0" stroke="#2a2a2a" stroke-width="0.8"/>
<text x="137.95" y="365.46" font-size="6.2" text-anchor="middle" font-weight="bold" fill="#111" stroke="#111" stroke-width="0.2">−7.25</text>
<text x="117.60" y="365.41" font-size="6.05" text-anchor="end" font-weight="bold" fill="#141414" stroke="#141414" stroke-width="0.2">HMGB2</text>
<defs><linearGradient id="cb1" x1="0" y1="0" x2="1" y2="0"><stop offset="0" stop-color="#8a7cff"/><stop offset="0.37" stop-color="#ffffff"/><stop offset="0.7" stop-color="#f4a090"/><stop offset="1" stop-color="#ff2410"/></linearGradient></defs>
<rect x="43.30" y="375.60" width="44.40" height="5.80" fill="url(#cb1)" stroke="#333" stroke-width="0.7"/>
<line x1="46.20" y1="381.40" x2="46.20" y2="382.60" stroke="#333" stroke-width="0.6"/>
<text x="46.20" y="387.27" font-size="5.0" text-anchor="middle" font-weight="bold" fill="#141414" stroke="#141414" stroke-width="0.2">−2</text>
<line x1="59.90" y1="381.40" x2="59.90" y2="382.60" stroke="#333" stroke-width="0.6"/>
<text x="59.90" y="387.27" font-size="5.0" text-anchor="middle" font-weight="bold" fill="#141414" stroke="#141414" stroke-width="0.2">0</text>
<line x1="73.40" y1="381.40" x2="73.40" y2="382.60" stroke="#333" stroke-width="0.6"/>
<text x="73.40" y="387.27" font-size="5.0" text-anchor="middle" font-weight="bold" fill="#141414" stroke="#141414" stroke-width="0.2">2</text>
<line x1="86.50" y1="381.40" x2="86.50" y2="382.60" stroke="#333" stroke-width="0.6"/>
<text x="86.50" y="387.27" font-size="5.0" text-anchor="middle" font-weight="bold" fill="#141414" stroke="#141414" stroke-width="0.2">4</text>
<text x="66.90" y="394.57" font-size="5.56" text-anchor="middle" font-weight="bold" fill="#141414" stroke="#141414" stroke-width="0.2">log2 Fold Change</text>
<defs><linearGradient id="cb2" x1="0" y1="0" x2="1" y2="0"><stop offset="0" stop-color="#2000ff"/><stop offset="0.5" stop-color="#a090ff"/><stop offset="0.8" stop-color="#ffffff"/><stop offset="1" stop-color="#f8dccc"/></linearGradient></defs>
<rect x="116.10" y="375.60" width="44.00" height="6.00" fill="url(#cb2)" stroke="#333" stroke-width="0.7"/>
<line x1="123.50" y1="381.60" x2="123.50" y2="382.80" stroke="#333" stroke-width="0.6"/>
<text x="123.50" y="387.27" font-size="5.0" text-anchor="middle" font-weight="bold" fill="#141414" stroke="#141414" stroke-width="0.2">−6</text>
<line x1="133.70" y1="381.60" x2="133.70" y2="382.80" stroke="#333" stroke-width="0.6"/>
<text x="133.70" y="387.27" font-size="5.0" text-anchor="middle" font-weight="bold" fill="#141414" stroke="#141414" stroke-width="0.2">−4</text>
<line x1="142.90" y1="381.60" x2="142.90" y2="382.80" stroke="#333" stroke-width="0.6"/>
<text x="142.90" y="387.27" font-size="5.0" text-anchor="middle" font-weight="bold" fill="#141414" stroke="#141414" stroke-width="0.2">−2</text>
<line x1="153.50" y1="381.60" x2="153.50" y2="382.80" stroke="#333" stroke-width="0.6"/>
<text x="153.50" y="387.27" font-size="5.0" text-anchor="middle" font-weight="bold" fill="#141414" stroke="#141414" stroke-width="0.2">0</text>
<text x="139.40" y="395.17" font-size="5.56" text-anchor="middle" font-weight="bold" fill="#141414" stroke="#141414" stroke-width="0.2">log2 Fold Change</text>
<text x="272.15" y="219.19" font-size="7.85" text-anchor="middle" font-weight="bold" fill="#141414" stroke="#141414" stroke-width="0.2">Fold Change of Gene Expression Level</text>
<text x="239.65" y="232.21" font-size="6.52" text-anchor="middle" font-weight="bold" fill="#141414" stroke="#141414" stroke-width="0.2">circFCHO2</text>
<text x="239.40" y="240.32" font-size="6.53" text-anchor="middle" font-weight="bold" fill="#141414" stroke="#141414" stroke-width="0.2">Overexpress</text>
<text x="314.30" y="232.22" font-size="6.54" text-anchor="middle" font-weight="bold" fill="#141414" stroke="#141414" stroke-width="0.2">circFCHO2</text>
<text x="314.20" y="240.34" font-size="6.59" text-anchor="middle" font-weight="bold" fill="#141414" stroke="#141414" stroke-width="0.2">Knock down</text>
<rect x="222.50" y="246.50" width="35.40" height="9.66" fill="#f0eefa" stroke="#2a2a2a" stroke-width="0.8"/>
<text x="240.20" y="253.53" font-size="6.2" text-anchor="middle" font-weight="bold" fill="#111" stroke="#111" stroke-width="0.2">−1.15</text>
<text x="220.60" y="253.55" font-size="6.25" text-anchor="end" font-weight="bold" fill="#141414" stroke="#141414" stroke-width="0.2">PLSCR1</text>
<rect x="222.50" y="256.16" width="35.40" height="9.66" fill="#e4d8fa" stroke="#2a2a2a" stroke-width="0.8"/>
<text x="240.20" y="263.19" font-size="6.2" text-anchor="middle" font-weight="bold" fill="#111" stroke="#111" stroke-width="0.2">−1.39</text>
<text x="220.60" y="263.21" font-size="6.25" text-anchor="end" font-weight="bold" fill="#141414" stroke="#141414" stroke-width="0.2">IRF7</text>
<rect x="222.50" y="265.82" width="35.40" height="9.66" fill="#a888f4" stroke="#2a2a2a" stroke-width="0.8"/>
<text x="240.20" y="272.85" font-size="6.2" text-anchor="middle" font-weight="bold" fill="#111" stroke="#111" stroke-width="0.2">−1.53</text>
<text x="220.60" y="272.87" font-size="6.25" text-anchor="end" font-weight="bold" fill="#141414" stroke="#141414" stroke-width="0.2">TRIM56</text>
<rect x="222.50" y="275.48" width="35.40" height="9.66" fill="#a080f4" stroke="#2a2a2a" stroke-width="0.8"/>
<text x="240.20" y="282.52" font-size="6.2" text-anchor="middle" font-weight="bold" fill="#111" stroke="#111" stroke-width="0.2">−1.54</text>
<text x="220.60" y="282.53" font-size="6.25" text-anchor="end" font-weight="bold" fill="#141414" stroke="#141414" stroke-width="0.2">FEM1A</text>
<rect x="222.50" y="285.15" width="35.40" height="9.66" fill="#9474f4" stroke="#2a2a2a" stroke-width="0.8"/>
<text x="240.20" y="292.18" font-size="6.2" text-anchor="middle" font-weight="bold" fill="#111" stroke="#111" stroke-width="0.2">−1.6</text>
<text x="220.60" y="292.20" font-size="6.25" text-anchor="end" font-weight="bold" fill="#141414" stroke="#141414" stroke-width="0.2">LAMP1</text>
<rect x="222.50" y="294.81" width="35.40" height="9.66" fill="#9070f4" stroke="#2a2a2a" stroke-width="0.8"/>
<text x="240.20" y="301.84" font-size="6.2" text-anchor="middle" font-weight="bold" fill="#111" stroke="#111" stroke-width="0.2">−1.61</text>
<text x="220.60" y="301.86" font-size="6.25" text-anchor="end" font-weight="bold" fill="#141414" stroke="#141414" stroke-width="0.2">EMILIN2</text>
<rect x="222.50" y="304.47" width="35.40" height="9.66" fill="#8a6af4" stroke="#2a2a2a" stroke-width="0.8"/>
<text x="240.20" y="311.50" font-size="6.2" text-anchor="middle" font-weight="bold" fill="#111" stroke="#111" stroke-width="0.2">−1.63</text>
<text x="220.60" y="311.52" font-size="6.25" text-anchor="end" font-weight="bold" fill="#141414" stroke="#141414" stroke-width="0.2">IFIH1</text>
<rect x="222.50" y="314.13" width="35.40" height="9.66" fill="#8664f4" stroke="#2a2a2a" stroke-width="0.8"/>
<text x="240.20" y="321.16" font-size="6.2" text-anchor="middle" font-weight="bold" fill="#111" stroke="#111" stroke-width="0.2">−1.64</text>
<text x="220.60" y="321.18" font-size="6.25" text-anchor="end" font-weight="bold" fill="#141414" stroke="#141414" stroke-width="0.2">HLA−E</text>
<rect x="222.50" y="323.79" width="35.40" height="9.66" fill="#8060f4" stroke="#2a2a2a" stroke-width="0.8"/>
<text x="240.20" y="330.82" font-size="6.2" text-anchor="middle" font-weight="bold" fill="#111" stroke="#111" stroke-width="0.2">−1.66</text>
<text x="220.60" y="330.84" font-size="6.25" text-anchor="end" font-weight="bold" fill="#141414" stroke="#141414" stroke-width="0.2">SERPINE1</text>
<rect x="222.50" y="333.45" width="35.40" height="9.66" fill="#7a5af4" stroke="#2a2a2a" stroke-width="0.8"/>
<text x="240.20" y="340.49" font-size="6.2" text-anchor="middle" font-weight="bold" fill="#111" stroke="#111" stroke-width="0.2">−1.66</text>
<text x="220.60" y="340.50" font-size="6.25" text-anchor="end" font-weight="bold" fill="#141414" stroke="#141414" stroke-width="0.2">NPAS2</text>
<rect x="222.50" y="343.12" width="35.40" height="9.66" fill="#7656f4" stroke="#2a2a2a" stroke-width="0.8"/>
<text x="240.20" y="350.15" font-size="6.2" text-anchor="middle" font-weight="bold" fill="#111" stroke="#111" stroke-width="0.2">−1.67</text>
<text x="220.60" y="350.16" font-size="6.25" text-anchor="end" font-weight="bold" fill="#f41c1c" stroke="#f41c1c" stroke-width="0.2">GRN</text>
<rect x="222.50" y="352.78" width="35.40" height="9.66" fill="#1010f0" stroke="#2a2a2a" stroke-width="0.8"/>
<text x="240.20" y="359.81" font-size="6.2" text-anchor="middle" font-weight="bold" fill="#111" stroke="#111" stroke-width="0.2">−1.78</text>
<text x="220.60" y="359.83" font-size="6.25" text-anchor="end" font-weight="bold" fill="#141414" stroke="#141414" stroke-width="0.2">CEBPB</text>
<rect x="222.50" y="362.44" width="35.40" height="9.66" fill="#0808f0" stroke="#2a2a2a" stroke-width="0.8"/>
<text x="240.20" y="369.47" font-size="6.2" text-anchor="middle" font-weight="bold" fill="#111" stroke="#111" stroke-width="0.2">−1.8</text>
<text x="220.60" y="369.49" font-size="6.25" text-anchor="end" font-weight="bold" fill="#141414" stroke="#141414" stroke-width="0.2">HMGB2</text>
<rect x="296.50" y="246.10" width="35.40" height="9.64" fill="#f06848" stroke="#2a2a2a" stroke-width="0.8"/>
<text x="314.20" y="253.12" font-size="6.2" text-anchor="middle" font-weight="bold" fill="#111" stroke="#111" stroke-width="0.2">2.33</text>
<text x="293.40" y="253.14" font-size="6.25" text-anchor="end" font-weight="bold" fill="#f41c1c" stroke="#f41c1c" stroke-width="0.2">GRN</text>
<rect x="296.50" y="255.74" width="35.40" height="9.64" fill="#f08060" stroke="#2a2a2a" stroke-width="0.8"/>
<text x="314.20" y="262.76" font-size="6.2" text-anchor="middle" font-weight="bold" fill="#111" stroke="#111" stroke-width="0.2">2.07</text>
<text x="293.40" y="262.78" font-size="6.25" text-anchor="end" font-weight="bold" fill="#141414" stroke="#141414" stroke-width="0.2">CEBPB</text>
<rect x="296.50" y="265.38" width="35.40" height="9.64" fill="#f09478" stroke="#2a2a2a" stroke-width="0.8"/>
<text x="314.20" y="272.40" font-size="6.2" text-anchor="middle" font-weight="bold" fill="#111" stroke="#111" stroke-width="0.2">1.78</text>
<text x="293.40" y="272.41" font-size="6.25" text-anchor="end" font-weight="bold" fill="#141414" stroke="#141414" stroke-width="0.2">HLA−E</text>
<rect x="296.50" y="275.02" width="35.40" height="9.64" fill="#f0967b" stroke="#2a2a2a" stroke-width="0.8"/>
<text x="314.20" y="282.04" font-size="6.2" text-anchor="middle" font-weight="bold" fill="#111" stroke="#111" stroke-width="0.2">1.73</text>
<text x="293.40" y="282.05" font-size="6.25" text-anchor="end" font-weight="bold" fill="#141414" stroke="#141414" stroke-width="0.2">TRIM56</text>
<rect x="296.50" y="284.65" width="35.40" height="9.64" fill="#f0987c" stroke="#2a2a2a" stroke-width="0.8"/>
<text x="314.20" y="291.67" font-size="6.2" text-anchor="middle" font-weight="bold" fill="#111" stroke="#111" stroke-width="0.2">1.7</text>
<text x="293.40" y="291.69" font-size="6.25" text-anchor="end" font-weight="bold" fill="#141414" stroke="#141414" stroke-width="0.2">SERPINE1</text>
<rect x="296.50" y="294.29" width="35.40" height="9.64" fill="#f0987d" stroke="#2a2a2a" stroke-width="0.8"/>
<text x="314.20" y="301.31" font-size="6.2" text-anchor="middle" font-weight="bold" fill="#111" stroke="#111" stroke-width="0.2">1.69</text>
<text x="293.40" y="301.33" font-size="6.25" text-anchor="end" font-weight="bold" fill="#141414" stroke="#141414" stroke-width="0.2">EMILIN2</text>
<rect x="296.50" y="303.93" width="35.40" height="9.64" fill="#f09a80" stroke="#2a2a2a" stroke-width="0.8"/>
<text x="314.20" y="310.95" font-size="6.2" text-anchor="middle" font-weight="bold" fill="#111" stroke="#111" stroke-width="0.2">1.64</text>
<text x="293.40" y="310.97" font-size="6.25" text-anchor="end" font-weight="bold" fill="#141414" stroke="#141414" stroke-width="0.2">LAMP1</text>
<rect x="296.50" y="313.57" width="35.40" height="9.64" fill="#f09c81" stroke="#2a2a2a" stroke-width="0.8"/>
<text x="314.20" y="320.59" font-size="6.2" text-anchor="middle" font-weight="bold" fill="#111" stroke="#111" stroke-width="0.2">1.61</text>
<text x="293.40" y="320.61" font-size="6.25" text-anchor="end" font-weight="bold" fill="#141414" stroke="#141414" stroke-width="0.2">PLSCR1</text>
<rect x="296.50" y="323.21" width="35.40" height="9.64" fill="#f09c82" stroke="#2a2a2a" stroke-width="0.8"/>
<text x="314.20" y="330.23" font-size="6.2" text-anchor="middle" font-weight="bold" fill="#111" stroke="#111" stroke-width="0.2">1.6</text>
<text x="293.40" y="330.25" font-size="6.25" text-anchor="end" font-weight="bold" fill="#141414" stroke="#141414" stroke-width="0.2">IRF7</text>
<rect x="296.50" y="332.85" width="35.40" height="9.64" fill="#f0a38a" stroke="#2a2a2a" stroke-width="0.8"/>
<text x="314.20" y="339.87" font-size="6.2" text-anchor="middle" font-weight="bold" fill="#111" stroke="#111" stroke-width="0.2">1.48</text>
<text x="293.40" y="339.88" font-size="6.25" text-anchor="end" font-weight="bold" fill="#141414" stroke="#141414" stroke-width="0.2">IFIH1</text>
<rect x="296.50" y="342.48" width="35.40" height="9.64" fill="#f0a890" stroke="#2a2a2a" stroke-width="0.8"/>
<text x="314.20" y="349.50" font-size="6.2" text-anchor="middle" font-weight="bold" fill="#111" stroke="#111" stroke-width="0.2">1.39</text>
<text x="293.40" y="349.52" font-size="6.25" text-anchor="end" font-weight="bold" fill="#141414" stroke="#141414" stroke-width="0.2">NPAS2</text>
<rect x="296.50" y="352.12" width="35.40" height="9.64" fill="#f4bfae" stroke="#2a2a2a" stroke-width="0.8"/>
<text x="314.20" y="359.14" font-size="6.2" text-anchor="middle" font-weight="bold" fill="#111" stroke="#111" stroke-width="0.2">1.03</text>
<text x="293.40" y="359.16" font-size="6.25" text-anchor="end" font-weight="bold" fill="#141414" stroke="#141414" stroke-width="0.2">FEM1A</text>
<rect x="296.50" y="361.76" width="35.40" height="9.64" fill="#f4c2b2" stroke="#2a2a2a" stroke-width="0.8"/>
<text x="314.20" y="368.78" font-size="6.2" text-anchor="middle" font-weight="bold" fill="#111" stroke="#111" stroke-width="0.2">1.00</text>
<text x="293.40" y="368.80" font-size="6.25" text-anchor="end" font-weight="bold" fill="#141414" stroke="#141414" stroke-width="0.2">HMGB2</text>
<defs><linearGradient id="cb3" x1="0" y1="0" x2="1" y2="0"><stop offset="0" stop-color="#1a00ff"/><stop offset="0.45" stop-color="#9080ff"/><stop offset="0.8" stop-color="#ffffff"/><stop offset="1" stop-color="#f8d8c8"/></linearGradient></defs>
<rect x="216.20" y="380.60" width="45.60" height="6.20" fill="url(#cb3)" stroke="#333" stroke-width="0.7"/>
<line x1="231.20" y1="386.80" x2="231.20" y2="388.00" stroke="#333" stroke-width="0.6"/>
<text x="231.20" y="392.57" font-size="5.0" text-anchor="middle" font-weight="bold" fill="#141414" stroke="#141414" stroke-width="0.2">−1.8</text>
<line x1="244.20" y1="386.80" x2="244.20" y2="388.00" stroke="#333" stroke-width="0.6"/>
<text x="244.20" y="392.57" font-size="5.0" text-anchor="middle" font-weight="bold" fill="#141414" stroke="#141414" stroke-width="0.2">−1.4</text>
<line x1="257.10" y1="386.80" x2="257.10" y2="388.00" stroke="#333" stroke-width="0.6"/>
<text x="257.10" y="392.57" font-size="5.0" text-anchor="middle" font-weight="bold" fill="#141414" stroke="#141414" stroke-width="0.2">−1.2</text>
<text x="240.45" y="399.05" font-size="5.78" text-anchor="middle" font-weight="bold" fill="#141414" stroke="#141414" stroke-width="0.2">log2 Fold Change</text>
<defs><linearGradient id="cb4" x1="0" y1="0" x2="1" y2="0"><stop offset="0" stop-color="#f4b0a0"/><stop offset="1" stop-color="#ff1a10"/></linearGradient></defs>
<rect x="291.20" y="380.20" width="46.20" height="5.80" fill="url(#cb4)" stroke="#333" stroke-width="0.7"/>
<line x1="291.90" y1="386.00" x2="291.90" y2="387.20" stroke="#333" stroke-width="0.6"/>
<text x="291.90" y="391.77" font-size="5.0" text-anchor="middle" font-weight="bold" fill="#141414" stroke="#141414" stroke-width="0.2">1</text>
<line x1="307.80" y1="386.00" x2="307.80" y2="387.20" stroke="#333" stroke-width="0.6"/>
<text x="307.80" y="391.77" font-size="5.0" text-anchor="middle" font-weight="bold" fill="#141414" stroke="#141414" stroke-width="0.2">2</text>
<line x1="323.10" y1="386.00" x2="323.10" y2="387.20" stroke="#333" stroke-width="0.6"/>
<text x="323.10" y="391.77" font-size="5.0" text-anchor="middle" font-weight="bold" fill="#141414" stroke="#141414" stroke-width="0.2">3</text>
<line x1="338.30" y1="386.00" x2="338.30" y2="387.20" stroke="#333" stroke-width="0.6"/>
<text x="338.30" y="391.77" font-size="5.0" text-anchor="middle" font-weight="bold" fill="#141414" stroke="#141414" stroke-width="0.2">4</text>
<text x="316.40" y="398.22" font-size="5.7" text-anchor="middle" font-weight="bold" fill="#141414" stroke="#141414" stroke-width="0.2">log2 Fold Change</text>
<text x="368.65" y="214.36" font-size="15.9" font-weight="bold" fill="#1f1b1c" stroke="#1f1b1c" stroke-width="0.3">E</text>
<text x="545.85" y="240.61" font-size="13.55" text-anchor="middle" font-weight="bold" fill="#141414" stroke="#141414" stroke-width="0.2">PTBP1 signals</text>
<rect x="437.30" y="255.60" width="216.30" height="132.30" fill="#f9f9f9" stroke="#8c8c8c" stroke-width="0.8"/>
<text x="434.90" y="275.69" font-size="9.0" text-anchor="end" font-weight="bold" fill="#141414" stroke="#141414" stroke-width="0.2">OE-circFCHO2</text>
<text x="434.90" y="295.80" font-size="9.0" text-anchor="end" font-weight="bold" fill="#141414" stroke="#141414" stroke-width="0.2">OE-NC</text>
<text x="434.90" y="316.59" font-size="9.0" text-anchor="end" font-weight="bold" fill="#141414" stroke="#141414" stroke-width="0.2">si-circFCHO2</text>
<text x="434.90" y="336.69" font-size="9.0" text-anchor="end" font-weight="bold" fill="#141414" stroke="#141414" stroke-width="0.2">si-NC</text>
<text x="456.00" y="263.27" font-size="7.52" text-anchor="middle" font-weight="bold" fill="#141414" stroke="#141414" stroke-width="0.2">[0 - 100]</text>
<text x="456.15" y="306.24" font-size="7.44" text-anchor="middle" font-weight="bold" fill="#141414" stroke="#141414" stroke-width="0.2">[0 - 250]</text>
<line x1="438.00" y1="273.30" x2="653.00" y2="273.30" stroke="#e3a4a4" stroke-width="0.7"/>
<line x1="438.00" y1="294.20" x2="653.00" y2="294.20" stroke="#b0d2de" stroke-width="0.7"/>
<line x1="438.00" y1="314.60" x2="653.00" y2="314.60" stroke="#e3a4a4" stroke-width="0.7"/>
<line x1="438.00" y1="335.10" x2="653.00" y2="335.10" stroke="#b0d2de" stroke-width="0.7"/>
<path d="M438.0,273.30 L438.0,273.30L439.2,273.30 L439.2,273.30L440.4,273.30 L440.4,273.22L441.6,273.22 L441.6,272.84L442.8,272.84 L442.8,272.06L444.0,272.06 L444.0,272.47L445.2,272.47 L445.2,273.13L446.4,273.13 L446.4,273.30L447.6,273.30 L447.6,273.24L448.8,273.24 L448.8,273.00L450.0,273.00 L450.0,272.73L451.2,272.73 L451.2,272.98L452.4,272.98 L452.4,273.24L453.6,273.24 L453.6,273.30L454.8,273.30 L454.8,273.30L456.0,273.30 L456.0,273.30L457.2,273.30 L457.2,273.30L458.4,273.30 L458.4,273.30L459.6,273.30 L459.6,273.30L460.8,273.30 L460.8,273.30L462.0,273.30 L462.0,273.30L463.2,273.30 L463.2,273.30L464.4,273.30 L464.4,273.30L465.6,273.30 L465.6,273.30L466.8,273.30 L466.8,273.30L468.0,273.30 L468.0,273.30L469.2,273.30 L469.2,273.30L470.4,273.30 L470.4,273.30L471.6,273.30 L471.6,273.30L472.8,273.30 L472.8,273.30L474.0,273.30 L474.0,273.27L475.2,273.27 L475.2,273.15L476.4,273.15 L476.4,272.92L477.6,272.92 L477.6,272.70L478.8,272.70 L478.8,272.86L480.0,272.86 L480.0,273.01L481.2,273.01 L481.2,273.20L482.4,273.20 L482.4,273.28L483.6,273.28 L483.6,273.30L484.8,273.30 L484.8,273.30L486.0,273.30 L486.0,273.30L487.2,273.30 L487.2,273.30L488.4,273.30 L488.4,273.30L489.6,273.30 L489.6,273.30L490.8,273.30 L490.8,273.30L492.0,273.30 L492.0,273.30L493.2,273.30 L493.2,273.26L494.4,273.26 L494.4,273.15L495.6,273.15 L495.6,273.01L496.8,273.01 L496.8,272.78L498.0,272.78 L498.0,272.91L499.2,272.91 L499.2,273.09L500.4,273.09 L500.4,273.24L501.6,273.24 L501.6,273.29L502.8,273.29 L502.8,273.27L504.0,273.27 L504.0,273.14L505.2,273.14 L505.2,272.84L506.4,272.84 L506.4,272.70L507.6,272.70 L507.6,272.60L508.8,272.60 L508.8,272.81L510.0,272.81 L510.0,273.02L511.2,273.02 L511.2,272.78L512.4,272.78 L512.4,272.50L513.6,272.50 L513.6,272.69L514.8,272.69 L514.8,272.94L516.0,272.94 L516.0,273.14L517.2,273.14 L517.2,273.27L518.4,273.27 L518.4,273.30L519.6,273.30 L519.6,273.30L520.8,273.30 L520.8,273.30L522.0,273.30 L522.0,273.30L523.2,273.30 L523.2,273.30L524.4,273.30 L524.4,273.30L525.6,273.30 L525.6,273.30L526.8,273.30 L526.8,273.30L528.0,273.30 L528.0,273.30L529.2,273.30 L529.2,273.30L530.4,273.30 L530.4,273.30L531.6,273.30 L531.6,273.30L532.8,273.30 L532.8,273.30L534.0,273.30 L534.0,273.30L535.2,273.30 L535.2,273.30L536.4,273.30 L536.4,273.25L537.6,273.25 L537.6,272.95L538.8,272.95 L538.8,272.45L540.0,272.45 L540.0,272.81L541.2,272.81 L541.2,273.18L542.4,273.18 L542.4,273.30L543.6,273.30 L543.6,272.96L544.8,272.96 L544.8,271.27L546.0,271.27 L546.0,269.90L547.2,269.90 L547.2,270.28L548.4,270.28 L548.4,269.86L549.6,269.86 L549.6,268.50L550.8,268.50 L550.8,269.26L552.0,269.26 L552.0,271.08L553.2,271.08 L553.2,272.50L554.4,272.50 L554.4,272.49L555.6,272.49 L555.6,271.68L556.8,271.68 L556.8,272.06L558.0,272.06 L558.0,272.56L559.2,272.56 L559.2,272.13L560.4,272.13 L560.4,271.85L561.6,271.85 L561.6,272.82L562.8,272.82 L562.8,273.23L564.0,273.23 L564.0,273.30L565.2,273.30 L565.2,273.30L566.4,273.30 L566.4,273.30L567.6,273.30 L567.6,273.30L568.8,273.30 L568.8,273.30L570.0,273.30 L570.0,273.30L571.2,273.30 L571.2,273.22L572.4,273.22 L572.4,272.53L573.6,272.53 L573.6,271.36L574.8,271.36 L574.8,271.57L576.0,271.57 L576.0,270.59L577.2,270.59 L577.2,269.40L578.4,269.40 L578.4,270.32L579.6,270.32 L579.6,266.12L580.8,266.12 L580.8,268.79L582.0,268.79 L582.0,267.51L583.2,267.51 L583.2,263.18L584.4,263.18 L584.4,270.89L585.6,270.89 L585.6,267.40L586.8,267.40 L586.8,270.32L588.0,270.32 L588.0,273.30L589.2,273.30 L589.2,273.30L590.4,273.30 L590.4,273.30L591.6,273.30 L591.6,273.30L592.8,273.30 L592.8,273.30L594.0,273.30 L594.0,273.30L595.2,273.30 L595.2,271.33L596.4,271.33 L596.4,269.47L597.6,269.47 L597.6,272.43L598.8,272.43 L598.8,271.02L600.0,271.02 L600.0,273.21L601.2,273.21 L601.2,273.30L602.4,273.30 L602.4,273.02L603.6,273.02 L603.6,271.49L604.8,271.49 L604.8,272.16L606.0,272.16 L606.0,273.10L607.2,273.10 L607.2,272.54L608.4,272.54 L608.4,270.59L609.6,270.59 L609.6,270.46L610.8,270.46 L610.8,271.37L612.0,271.37 L612.0,268.85L613.2,268.85 L613.2,266.74L614.4,266.74 L614.4,270.12L615.6,270.12 L615.6,269.16L616.8,269.16 L616.8,271.74L618.0,271.74 L618.0,273.30L619.2,273.30 L619.2,273.30L620.4,273.30 L620.4,272.53L621.6,272.53 L621.6,268.91L622.8,268.91 L622.8,270.30L624.0,270.30 L624.0,267.86L625.2,267.86 L625.2,260.53L626.4,260.53 L626.4,266.08L627.6,266.08 L627.6,256.30L628.8,256.30 L628.8,260.69L630.0,260.69 L630.0,265.21L631.2,265.21 L631.2,257.43L632.4,257.43 L632.4,263.29L633.6,263.29 L633.6,261.32L634.8,261.32 L634.8,269.54L636.0,269.54 L636.0,269.17L637.2,269.17 L637.2,272.96L638.4,272.96 L638.4,272.50L639.6,272.50 L639.6,268.26L640.8,268.26 L640.8,269.95L642.0,269.95 L642.0,271.42L643.2,271.42 L643.2,267.54L644.4,267.54 L644.4,265.66L645.6,265.66 L645.6,269.30L646.8,269.30 L646.8,270.08L648.0,270.08 L648.0,266.57L649.2,266.57 L649.2,269.48L650.4,269.48 L650.4,271.05L651.6,271.05 L651.6,271.81L652.8,271.81 L652.8,273.30L654.0,273.30 L653.0,273.30 Z" fill="#c9696b" stroke="none" stroke-width="1"/>
<path d="M438.0,294.20 L438.0,294.20L439.2,294.20 L439.2,294.20L440.4,294.20 L440.4,294.20L441.6,294.20 L441.6,294.20L442.8,294.20 L442.8,294.17L444.0,294.17 L444.0,294.08L445.2,294.08 L445.2,293.83L446.4,293.83 L446.4,293.59L447.6,293.59 L447.6,293.74L448.8,293.74 L448.8,293.92L450.0,293.92 L450.0,294.08L451.2,294.08 L451.2,294.17L452.4,294.17 L452.4,294.20L453.6,294.20 L453.6,294.20L454.8,294.20 L454.8,294.20L456.0,294.20 L456.0,294.20L457.2,294.20 L457.2,294.20L458.4,294.20 L458.4,294.20L459.6,294.20 L459.6,294.20L460.8,294.20 L460.8,294.20L462.0,294.20 L462.0,294.20L463.2,294.20 L463.2,294.20L464.4,294.20 L464.4,294.18L465.6,294.18 L465.6,294.13L466.8,294.13 L466.8,294.02L468.0,294.02 L468.0,293.85L469.2,293.85 L469.2,293.72L470.4,293.72 L470.4,293.71L471.6,293.71 L471.6,293.85L472.8,293.85 L472.8,293.93L474.0,293.93 L474.0,293.98L475.2,293.98 L475.2,293.90L476.4,293.90 L476.4,293.74L477.6,293.74 L477.6,293.62L478.8,293.62 L478.8,293.72L480.0,293.72 L480.0,293.83L481.2,293.83 L481.2,293.98L482.4,293.98 L482.4,294.11L483.6,294.11 L483.6,294.17L484.8,294.17 L484.8,294.20L486.0,294.20 L486.0,294.18L487.2,294.18 L487.2,294.10L488.4,294.10 L488.4,293.95L489.6,293.95 L489.6,293.84L490.8,293.84 L490.8,293.84L492.0,293.84 L492.0,294.00L493.2,294.00 L493.2,294.14L494.4,294.14 L494.4,294.19L495.6,294.19 L495.6,294.20L496.8,294.20 L496.8,294.20L498.0,294.20 L498.0,294.20L499.2,294.20 L499.2,294.20L500.4,294.20 L500.4,294.20L501.6,294.20 L501.6,294.20L502.8,294.20 L502.8,294.20L504.0,294.20 L504.0,294.20L505.2,294.20 L505.2,294.20L506.4,294.20 L506.4,294.20L507.6,294.20 L507.6,294.20L508.8,294.20 L508.8,294.20L510.0,294.20 L510.0,294.20L511.2,294.20 L511.2,294.20L512.4,294.20 L512.4,294.20L513.6,294.20 L513.6,294.20L514.8,294.20 L514.8,294.20L516.0,294.20 L516.0,294.17L517.2,294.17 L517.2,294.08L518.4,294.08 L518.4,293.85L519.6,293.85 L519.6,293.67L520.8,293.67 L520.8,293.77L522.0,293.77 L522.0,293.95L523.2,293.95 L523.2,294.12L524.4,294.12 L524.4,294.18L525.6,294.18 L525.6,294.20L526.8,294.20 L526.8,294.20L528.0,294.20 L528.0,294.20L529.2,294.20 L529.2,294.20L530.4,294.20 L530.4,294.20L531.6,294.20 L531.6,294.20L532.8,294.20 L532.8,294.20L534.0,294.20 L534.0,294.20L535.2,294.20 L535.2,294.20L536.4,294.20 L536.4,294.20L537.6,294.20 L537.6,294.20L538.8,294.20 L538.8,294.20L540.0,294.20 L540.0,294.20L541.2,294.20 L541.2,294.20L542.4,294.20 L542.4,294.20L543.6,294.20 L543.6,294.20L544.8,294.20 L544.8,294.20L546.0,294.20 L546.0,294.20L547.2,294.20 L547.2,294.20L548.4,294.20 L548.4,294.20L549.6,294.20 L549.6,294.20L550.8,294.20 L550.8,294.20L552.0,294.20 L552.0,294.20L553.2,294.20 L553.2,294.20L554.4,294.20 L554.4,294.20L555.6,294.20 L555.6,294.20L556.8,294.20 L556.8,294.20L558.0,294.20 L558.0,294.20L559.2,294.20 L559.2,293.91L560.4,293.91 L560.4,293.62L561.6,293.62 L561.6,294.20L562.8,294.20 L562.8,294.20L564.0,294.20 L564.0,294.20L565.2,294.20 L565.2,294.20L566.4,294.20 L566.4,294.20L567.6,294.20 L567.6,294.20L568.8,294.20 L568.8,294.20L570.0,294.20 L570.0,294.18L571.2,294.18 L571.2,294.04L572.4,294.04 L572.4,293.74L573.6,293.74 L573.6,293.78L574.8,293.78 L574.8,294.04L576.0,294.04 L576.0,294.18L577.2,294.18 L577.2,294.20L578.4,294.20 L578.4,294.20L579.6,294.20 L579.6,294.20L580.8,294.20 L580.8,294.20L582.0,294.20 L582.0,294.20L583.2,294.20 L583.2,294.20L584.4,294.20 L584.4,294.20L585.6,294.20 L585.6,294.20L586.8,294.20 L586.8,294.20L588.0,294.20 L588.0,294.18L589.2,294.18 L589.2,294.04L590.4,294.04 L590.4,293.78L591.6,293.78 L591.6,293.71L592.8,293.71 L592.8,294.04L594.0,294.04 L594.0,294.18L595.2,294.18 L595.2,294.20L596.4,294.20 L596.4,294.20L597.6,294.20 L597.6,294.20L598.8,294.20 L598.8,294.20L600.0,294.20 L600.0,294.20L601.2,294.20 L601.2,294.20L602.4,294.20 L602.4,294.20L603.6,294.20 L603.6,294.17L604.8,294.17 L604.8,293.53L606.0,293.53 L606.0,294.04L607.2,294.04 L607.2,294.20L608.4,294.20 L608.4,294.20L609.6,294.20 L609.6,294.18L610.8,294.18 L610.8,293.87L612.0,293.87 L612.0,293.13L613.2,293.13 L613.2,293.86L614.4,293.86 L614.4,294.15L615.6,294.15 L615.6,293.85L616.8,293.85 L616.8,293.51L618.0,293.51 L618.0,293.77L619.2,293.77 L619.2,294.08L620.4,294.08 L620.4,294.11L621.6,294.11 L621.6,293.67L622.8,293.67 L622.8,293.12L624.0,293.12 L624.0,293.37L625.2,293.37 L625.2,293.94L626.4,293.94 L626.4,293.57L627.6,293.57 L627.6,292.70L628.8,292.70 L628.8,293.14L630.0,293.14 L630.0,293.82L631.2,293.82 L631.2,293.83L632.4,293.83 L632.4,293.05L633.6,293.05 L633.6,292.99L634.8,292.99 L634.8,293.83L636.0,293.83 L636.0,294.11L637.2,294.11 L637.2,293.63L638.4,293.63 L638.4,292.63L639.6,292.63 L639.6,292.30L640.8,292.30 L640.8,293.55L642.0,293.55 L642.0,293.67L643.2,293.67 L643.2,291.98L644.4,291.98 L644.4,291.54L645.6,291.54 L645.6,293.01L646.8,293.01 L646.8,292.68L648.0,292.68 L648.0,291.74L649.2,291.74 L649.2,292.63L650.4,292.63 L650.4,293.15L651.6,293.15 L651.6,293.32L652.8,293.32 L652.8,294.20L654.0,294.20 L653.0,294.20 Z" fill="#8fbccd" stroke="none" stroke-width="1"/>
<path d="M438.0,314.60 L438.0,314.60L439.2,314.60 L439.2,314.60L440.4,314.60 L440.4,314.60L441.6,314.60 L441.6,314.55L442.8,314.55 L442.8,314.32L444.0,314.32 L444.0,314.16L445.2,314.16 L445.2,314.32L446.4,314.32 L446.4,314.55L447.6,314.55 L447.6,314.60L448.8,314.60 L448.8,314.60L450.0,314.60 L450.0,314.60L451.2,314.60 L451.2,314.60L452.4,314.60 L452.4,314.60L453.6,314.60 L453.6,314.60L454.8,314.60 L454.8,314.60L456.0,314.60 L456.0,314.60L457.2,314.60 L457.2,314.60L458.4,314.60 L458.4,314.60L459.6,314.60 L459.6,314.60L460.8,314.60 L460.8,314.60L462.0,314.60 L462.0,314.60L463.2,314.60 L463.2,314.60L464.4,314.60 L464.4,314.60L465.6,314.60 L465.6,314.60L466.8,314.60 L466.8,314.60L468.0,314.60 L468.0,314.60L469.2,314.60 L469.2,314.60L470.4,314.60 L470.4,314.60L471.6,314.60 L471.6,314.60L472.8,314.60 L472.8,314.60L474.0,314.60 L474.0,314.60L475.2,314.60 L475.2,314.60L476.4,314.60 L476.4,314.60L477.6,314.60 L477.6,314.60L478.8,314.60 L478.8,314.60L480.0,314.60 L480.0,314.60L481.2,314.60 L481.2,314.60L482.4,314.60 L482.4,314.60L483.6,314.60 L483.6,314.60L484.8,314.60 L484.8,314.60L486.0,314.60 L486.0,314.60L487.2,314.60 L487.2,314.60L488.4,314.60 L488.4,314.60L489.6,314.60 L489.6,314.60L490.8,314.60 L490.8,314.60L492.0,314.60 L492.0,314.60L493.2,314.60 L493.2,314.60L494.4,314.60 L494.4,314.60L495.6,314.60 L495.6,314.60L496.8,314.60 L496.8,314.60L498.0,314.60 L498.0,314.60L499.2,314.60 L499.2,314.60L500.4,314.60 L500.4,314.60L501.6,314.60 L501.6,314.60L502.8,314.60 L502.8,314.60L504.0,314.60 L504.0,314.60L505.2,314.60 L505.2,314.60L506.4,314.60 L506.4,314.60L507.6,314.60 L507.6,314.60L508.8,314.60 L508.8,314.60L510.0,314.60 L510.0,314.60L511.2,314.60 L511.2,314.60L512.4,314.60 L512.4,314.60L513.6,314.60 L513.6,314.60L514.8,314.60 L514.8,314.60L516.0,314.60 L516.0,314.60L517.2,314.60 L517.2,314.60L518.4,314.60 L518.4,314.60L519.6,314.60 L519.6,314.60L520.8,314.60 L520.8,314.60L522.0,314.60 L522.0,314.60L523.2,314.60 L523.2,314.60L524.4,314.60 L524.4,314.60L525.6,314.60 L525.6,314.60L526.8,314.60 L526.8,314.60L528.0,314.60 L528.0,314.60L529.2,314.60 L529.2,314.60L530.4,314.60 L530.4,314.60L531.6,314.60 L531.6,314.60L532.8,314.60 L532.8,314.58L534.0,314.58 L534.0,314.52L535.2,314.52 L535.2,314.38L536.4,314.38 L536.4,314.24L537.6,314.24 L537.6,314.26L538.8,314.26 L538.8,314.38L540.0,314.38 L540.0,314.52L541.2,314.52 L541.2,314.58L542.4,314.58 L542.4,314.60L543.6,314.60 L543.6,314.60L544.8,314.60 L544.8,314.60L546.0,314.60 L546.0,314.60L547.2,314.60 L547.2,314.60L548.4,314.60 L548.4,314.60L549.6,314.60 L549.6,314.60L550.8,314.60 L550.8,314.60L552.0,314.60 L552.0,314.60L553.2,314.60 L553.2,314.60L554.4,314.60 L554.4,314.60L555.6,314.60 L555.6,314.60L556.8,314.60 L556.8,314.60L558.0,314.60 L558.0,314.60L559.2,314.60 L559.2,314.60L560.4,314.60 L560.4,314.60L561.6,314.60 L561.6,314.60L562.8,314.60 L562.8,314.60L564.0,314.60 L564.0,314.60L565.2,314.60 L565.2,314.60L566.4,314.60 L566.4,314.60L567.6,314.60 L567.6,314.60L568.8,314.60 L568.8,314.60L570.0,314.60 L570.0,314.60L571.2,314.60 L571.2,314.60L572.4,314.60 L572.4,314.60L573.6,314.60 L573.6,314.60L574.8,314.60 L574.8,314.60L576.0,314.60 L576.0,314.60L577.2,314.60 L577.2,314.60L578.4,314.60 L578.4,314.60L579.6,314.60 L579.6,314.60L580.8,314.60 L580.8,314.60L582.0,314.60 L582.0,314.58L583.2,314.58 L583.2,314.38L584.4,314.38 L584.4,313.92L585.6,313.92 L585.6,313.92L586.8,313.92 L586.8,314.38L588.0,314.38 L588.0,314.58L589.2,314.58 L589.2,314.60L590.4,314.60 L590.4,314.60L591.6,314.60 L591.6,314.60L592.8,314.60 L592.8,314.60L594.0,314.60 L594.0,314.60L595.2,314.60 L595.2,314.60L596.4,314.60 L596.4,314.60L597.6,314.60 L597.6,314.55L598.8,314.55 L598.8,314.32L600.0,314.32 L600.0,314.19L601.2,314.19 L601.2,314.32L602.4,314.32 L602.4,314.55L603.6,314.55 L603.6,314.60L604.8,314.60 L604.8,314.60L606.0,314.60 L606.0,314.60L607.2,314.60 L607.2,314.60L608.4,314.60 L608.4,314.60L609.6,314.60 L609.6,314.53L610.8,314.53 L610.8,314.28L612.0,314.28 L612.0,313.86L613.2,313.86 L613.2,314.25L614.4,314.25 L614.4,314.53L615.6,314.53 L615.6,314.54L616.8,314.54 L616.8,314.31L618.0,314.31 L618.0,313.94L619.2,313.94 L619.2,314.27L620.4,314.27 L620.4,314.45L621.6,314.45 L621.6,314.26L622.8,314.26 L622.8,313.94L624.0,313.94 L624.0,313.71L625.2,313.71 L625.2,314.00L626.4,314.00 L626.4,314.18L627.6,314.18 L627.6,314.12L628.8,314.12 L628.8,313.86L630.0,313.86 L630.0,313.58L631.2,313.58 L631.2,313.82L632.4,313.82 L632.4,314.31L633.6,314.31 L633.6,314.50L634.8,314.50 L634.8,314.60L636.0,314.60 L636.0,314.60L637.2,314.60 L637.2,314.60L638.4,314.60 L638.4,314.60L639.6,314.60 L639.6,314.56L640.8,314.56 L640.8,314.41L642.0,314.41 L642.0,313.99L643.2,313.99 L643.2,313.55L644.4,313.55 L644.4,313.56L645.6,313.56 L645.6,313.98L646.8,313.98 L646.8,314.27L648.0,314.27 L648.0,314.37L649.2,314.37 L649.2,314.02L650.4,314.02 L650.4,313.84L651.6,313.84 L651.6,314.31L652.8,314.31 L652.8,314.57L654.0,314.57 L653.0,314.60 Z" fill="#c9696b" stroke="none" stroke-width="1"/>
<path d="M438.0,335.10 L438.0,335.10L439.2,335.10 L439.2,335.10L440.4,335.10 L440.4,334.91L441.6,334.91 L441.6,334.17L442.8,334.17 L442.8,334.47L444.0,334.47 L444.0,335.03L445.2,335.03 L445.2,335.10L446.4,335.10 L446.4,334.82L447.6,334.82 L447.6,334.82L448.8,334.82 L448.8,335.10L450.0,335.10 L450.0,335.10L451.2,335.10 L451.2,335.10L452.4,335.10 L452.4,335.10L453.6,335.10 L453.6,335.10L454.8,335.10 L454.8,335.10L456.0,335.10 L456.0,335.10L457.2,335.10 L457.2,335.10L458.4,335.10 L458.4,335.10L459.6,335.10 L459.6,335.10L460.8,335.10 L460.8,335.10L462.0,335.10 L462.0,335.10L463.2,335.10 L463.2,335.10L464.4,335.10 L464.4,335.10L465.6,335.10 L465.6,335.10L466.8,335.10 L466.8,335.10L468.0,335.10 L468.0,335.10L469.2,335.10 L469.2,335.10L470.4,335.10 L470.4,335.10L471.6,335.10 L471.6,335.10L472.8,335.10 L472.8,335.10L474.0,335.10 L474.0,335.10L475.2,335.10 L475.2,335.10L476.4,335.10 L476.4,335.10L477.6,335.10 L477.6,335.10L478.8,335.10 L478.8,335.10L480.0,335.10 L480.0,335.10L481.2,335.10 L481.2,335.10L482.4,335.10 L482.4,335.10L483.6,335.10 L483.6,335.10L484.8,335.10 L484.8,335.10L486.0,335.10 L486.0,335.10L487.2,335.10 L487.2,335.10L488.4,335.10 L488.4,335.10L489.6,335.10 L489.6,335.10L490.8,335.10 L490.8,335.10L492.0,335.10 L492.0,335.10L493.2,335.10 L493.2,335.10L494.4,335.10 L494.4,335.10L495.6,335.10 L495.6,335.10L496.8,335.10 L496.8,335.10L498.0,335.10 L498.0,335.10L499.2,335.10 L499.2,335.10L500.4,335.10 L500.4,335.10L501.6,335.10 L501.6,335.10L502.8,335.10 L502.8,335.10L504.0,335.10 L504.0,335.10L505.2,335.10 L505.2,335.10L506.4,335.10 L506.4,335.10L507.6,335.10 L507.6,335.10L508.8,335.10 L508.8,335.10L510.0,335.10 L510.0,335.10L511.2,335.10 L511.2,335.10L512.4,335.10 L512.4,335.10L513.6,335.10 L513.6,335.10L514.8,335.10 L514.8,335.10L516.0,335.10 L516.0,335.10L517.2,335.10 L517.2,335.10L518.4,335.10 L518.4,335.10L519.6,335.10 L519.6,335.10L520.8,335.10 L520.8,335.10L522.0,335.10 L522.0,335.10L523.2,335.10 L523.2,335.10L524.4,335.10 L524.4,335.10L525.6,335.10 L525.6,335.10L526.8,335.10 L526.8,335.10L528.0,335.10 L528.0,335.10L529.2,335.10 L529.2,335.10L530.4,335.10 L530.4,335.10L531.6,335.10 L531.6,335.10L532.8,335.10 L532.8,335.10L534.0,335.10 L534.0,335.10L535.2,335.10 L535.2,335.10L536.4,335.10 L536.4,335.10L537.6,335.10 L537.6,335.10L538.8,335.10 L538.8,335.10L540.0,335.10 L540.0,335.10L541.2,335.10 L541.2,335.10L542.4,335.10 L542.4,335.10L543.6,335.10 L543.6,335.06L544.8,335.06 L544.8,334.28L546.0,334.28 L546.0,332.98L547.2,332.98 L547.2,334.00L548.4,334.00 L548.4,331.89L549.6,331.89 L549.6,331.28L550.8,331.28 L550.8,333.14L552.0,333.14 L552.0,330.98L553.2,330.98 L553.2,333.64L554.4,333.64 L554.4,333.24L555.6,333.24 L555.6,333.37L556.8,333.37 L556.8,334.52L558.0,334.52 L558.0,334.10L559.2,334.10 L559.2,334.73L560.4,334.73 L560.4,335.10L561.6,335.10 L561.6,335.10L562.8,335.10 L562.8,335.10L564.0,335.10 L564.0,335.10L565.2,335.10 L565.2,335.10L566.4,335.10 L566.4,335.10L567.6,335.10 L567.6,335.10L568.8,335.10 L568.8,335.10L570.0,335.10 L570.0,335.10L571.2,335.10 L571.2,335.10L572.4,335.10 L572.4,335.00L573.6,335.00 L573.6,334.36L574.8,334.36 L574.8,333.55L576.0,333.55 L576.0,334.05L577.2,334.05 L577.2,334.81L578.4,334.81 L578.4,334.43L579.6,334.43 L579.6,333.65L580.8,333.65 L580.8,333.79L582.0,333.79 L582.0,333.67L583.2,333.67 L583.2,332.92L584.4,332.92 L584.4,334.52L585.6,334.52 L585.6,334.57L586.8,334.57 L586.8,333.49L588.0,333.49 L588.0,334.14L589.2,334.14 L589.2,335.04L590.4,335.04 L590.4,335.10L591.6,335.10 L591.6,335.10L592.8,335.10 L592.8,335.04L594.0,335.04 L594.0,334.21L595.2,334.21 L595.2,333.43L596.4,333.43 L596.4,334.51L597.6,334.51 L597.6,333.84L598.8,333.84 L598.8,334.31L600.0,334.31 L600.0,334.97L601.2,334.97 L601.2,334.55L602.4,334.55 L602.4,334.34L603.6,334.34 L603.6,334.69L604.8,334.69 L604.8,334.06L606.0,334.06 L606.0,334.47L607.2,334.47 L607.2,335.06L608.4,335.06 L608.4,335.10L609.6,335.10 L609.6,335.10L610.8,335.10 L610.8,335.10L612.0,335.10 L612.0,335.10L613.2,335.10 L613.2,335.10L614.4,335.10 L614.4,335.10L615.6,335.10 L615.6,335.10L616.8,335.10 L616.8,335.10L618.0,335.10 L618.0,335.10L619.2,335.10 L619.2,335.10L620.4,335.10 L620.4,335.10L621.6,335.10 L621.6,335.10L622.8,335.10 L622.8,335.10L624.0,335.10 L624.0,335.03L625.2,335.03 L625.2,334.36L626.4,334.36 L626.4,333.96L627.6,333.96 L627.6,334.32L628.8,334.32 L628.8,333.06L630.0,333.06 L630.0,333.97L631.2,333.97 L631.2,333.48L632.4,333.48 L632.4,333.03L633.6,333.03 L633.6,334.76L634.8,334.76 L634.8,335.08L636.0,335.08 L636.0,334.86L637.2,334.86 L637.2,334.27L638.4,334.27 L638.4,333.93L639.6,333.93 L639.6,334.68L640.8,334.68 L640.8,334.65L642.0,334.65 L642.0,334.21L643.2,334.21 L643.2,334.65L644.4,334.65 L644.4,335.01L645.6,335.01 L645.6,335.10L646.8,335.10 L646.8,335.10L648.0,335.10 L648.0,335.10L649.2,335.10 L649.2,335.10L650.4,335.10 L650.4,335.10L651.6,335.10 L651.6,335.10L652.8,335.10 L652.8,335.10L654.0,335.10 L653.0,335.10 Z" fill="#8fbccd" stroke="none" stroke-width="1"/>
<line x1="438.00" y1="377.00" x2="653.00" y2="377.00" stroke="#c8c8c8" stroke-width="0.6"/>
<line x1="441.70" y1="380.20" x2="651.50" y2="380.20" stroke="#2a2ae8" stroke-width="0.6"/>
<path d="M446,379.2 l1.2,1 l-1.2,1" fill="none" stroke="#2a2ae8" stroke-width="0.4"/>
<path d="M452,379.2 l1.2,1 l-1.2,1" fill="none" stroke="#2a2ae8" stroke-width="0.4"/>
<path d="M458,379.2 l1.2,1 l-1.2,1" fill="none" stroke="#2a2ae8" stroke-width="0.4"/>
<path d="M464,379.2 l1.2,1 l-1.2,1" fill="none" stroke="#2a2ae8" stroke-width="0.4"/>
<path d="M470,379.2 l1.2,1 l-1.2,1" fill="none" stroke="#2a2ae8" stroke-width="0.4"/>
<path d="M476,379.2 l1.2,1 l-1.2,1" fill="none" stroke="#2a2ae8" stroke-width="0.4"/>
<path d="M482,379.2 l1.2,1 l-1.2,1" fill="none" stroke="#2a2ae8" stroke-width="0.4"/>
<path d="M488,379.2 l1.2,1 l-1.2,1" fill="none" stroke="#2a2ae8" stroke-width="0.4"/>
<path d="M494,379.2 l1.2,1 l-1.2,1" fill="none" stroke="#2a2ae8" stroke-width="0.4"/>
<path d="M500,379.2 l1.2,1 l-1.2,1" fill="none" stroke="#2a2ae8" stroke-width="0.4"/>
<path d="M506,379.2 l1.2,1 l-1.2,1" fill="none" stroke="#2a2ae8" stroke-width="0.4"/>
<path d="M512,379.2 l1.2,1 l-1.2,1" fill="none" stroke="#2a2ae8" stroke-width="0.4"/>
<path d="M518,379.2 l1.2,1 l-1.2,1" fill="none" stroke="#2a2ae8" stroke-width="0.4"/>
<path d="M524,379.2 l1.2,1 l-1.2,1" fill="none" stroke="#2a2ae8" stroke-width="0.4"/>
<path d="M530,379.2 l1.2,1 l-1.2,1" fill="none" stroke="#2a2ae8" stroke-width="0.4"/>
<path d="M536,379.2 l1.2,1 l-1.2,1" fill="none" stroke="#2a2ae8" stroke-width="0.4"/>
<path d="M542,379.2 l1.2,1 l-1.2,1" fill="none" stroke="#2a2ae8" stroke-width="0.4"/>
<rect x="545.80" y="378.40" width="4.40" height="3.60" fill="#1f1fe6" stroke="none" stroke-width="1"/>
<rect x="552.60" y="378.40" width="3.40" height="3.60" fill="#1f1fe6" stroke="none" stroke-width="1"/>
<rect x="558.00" y="378.40" width="2.30" height="3.60" fill="#1f1fe6" stroke="none" stroke-width="1"/>
<rect x="574.40" y="378.40" width="3.30" height="3.60" fill="#1f1fe6" stroke="none" stroke-width="1"/>
<rect x="579.40" y="378.40" width="4.40" height="3.60" fill="#1f1fe6" stroke="none" stroke-width="1"/>
<rect x="586.00" y="378.40" width="3.50" height="3.60" fill="#1f1fe6" stroke="none" stroke-width="1"/>
<rect x="594.50" y="378.40" width="3.50" height="3.60" fill="#1f1fe6" stroke="none" stroke-width="1"/>
<rect x="604.60" y="378.40" width="2.40" height="3.60" fill="#1f1fe6" stroke="none" stroke-width="1"/>
<rect x="609.60" y="378.40" width="6.80" height="3.60" fill="#1f1fe6" stroke="none" stroke-width="1"/>
<rect x="621.40" y="378.40" width="6.60" height="3.60" fill="#1f1fe6" stroke="none" stroke-width="1"/>
<rect x="629.80" y="378.40" width="6.70" height="3.60" fill="#1f1fe6" stroke="none" stroke-width="1"/>
<rect x="640.00" y="378.40" width="5.00" height="3.60" fill="#1f1fe6" stroke="none" stroke-width="1"/>
<rect x="646.60" y="378.40" width="4.90" height="3.60" fill="#1f1fe6" stroke="none" stroke-width="1"/>
<text x="555.7" y="402.4" font-size="13.86" text-anchor="middle" font-weight="bold" fill="#111" stroke="#111" stroke-width="0.2" font-family='"Liberation Sans","Noto Sans CJK SC",sans-serif'>GRN（pre-mRNA）</text>
<text x="0.55" y="427.26" font-size="15.9" font-weight="bold" fill="#1f1b1c" stroke="#1f1b1c" stroke-width="0.3">F</text>
<text x="140.60" y="411.10" font-size="7.6" text-anchor="middle" font-weight="bold" fill="#141414" stroke="#141414" stroke-width="0.2">F1</text>
<line x1="128.70" y1="415.50" x2="143.20" y2="415.50" stroke="#9a9a9a" stroke-width="0.8"/>
<path d="M143.7,415.8 L140.7,414.2 L140.7,417.40000000000003 Z" fill="#9a9a9a" stroke="none" stroke-width="1"/>
<text x="169.60" y="418.70" font-size="7.6" text-anchor="middle" font-weight="bold" fill="#141414" stroke="#141414" stroke-width="0.2">R1</text>
<line x1="157.60" y1="421.50" x2="173.40" y2="421.50" stroke="#9a9a9a" stroke-width="0.8"/>
<path d="M157.1,421.6 L160.1,420.0 L160.1,423.20000000000005 Z" fill="#9a9a9a" stroke="none" stroke-width="1"/>
<text x="198.80" y="412.30" font-size="7.6" text-anchor="middle" font-weight="bold" fill="#141414" stroke="#141414" stroke-width="0.2">R2</text>
<line x1="190.20" y1="416.50" x2="205.40" y2="416.50" stroke="#9a9a9a" stroke-width="0.8"/>
<path d="M189.7,416.0 L192.7,414.4 L192.7,417.6 Z" fill="#9a9a9a" stroke="none" stroke-width="1"/>
<line x1="149.00" y1="426.50" x2="188.00" y2="426.50" stroke="#d42a22" stroke-width="1.6"/>
<rect x="134.00" y="419.20" width="15.00" height="14.20" fill="#4b4d55" stroke="#34446e" stroke-width="0.8"/>
<text x="141.50" y="428.64" font-size="6.6" text-anchor="middle" font-weight="bold" fill="#f4f4f4" stroke="#f4f4f4" stroke-width="0.2">10</text>
<rect x="188.00" y="420.00" width="14.30" height="13.70" fill="#4b4d55" stroke="#34446e" stroke-width="0.8"/>
<text x="195.15" y="429.19" font-size="6.6" text-anchor="middle" font-weight="bold" fill="#f4f4f4" stroke="#f4f4f4" stroke-width="0.2">11</text>
<text x="170.00" y="435.02" font-size="8.52" text-anchor="middle" font-weight="bold" fill="#a42020" stroke="#a42020" stroke-width="0.2">intron10</text>
<defs><filter id="bl4" x="-30%" y="-250%" width="160%" height="600%"><feGaussianBlur stdDeviation="0.4"/></filter><filter id="bl5" x="-30%" y="-250%" width="160%" height="600%"><feGaussianBlur stdDeviation="0.5"/></filter><filter id="bl6" x="-30%" y="-250%" width="160%" height="600%"><feGaussianBlur stdDeviation="0.6"/></filter><filter id="bl7" x="-30%" y="-250%" width="160%" height="600%"><feGaussianBlur stdDeviation="0.7"/></filter><filter id="bl8" x="-30%" y="-250%" width="160%" height="600%"><feGaussianBlur stdDeviation="0.8"/></filter><filter id="bl9" x="-30%" y="-250%" width="160%" height="600%"><feGaussianBlur stdDeviation="0.9"/></filter><filter id="bl10" x="-30%" y="-250%" width="160%" height="600%"><feGaussianBlur stdDeviation="1.0"/></filter><filter id="bl11" x="-30%" y="-250%" width="160%" height="600%"><feGaussianBlur stdDeviation="1.1"/></filter><filter id="bl12" x="-30%" y="-250%" width="160%" height="600%"><feGaussianBlur stdDeviation="1.2"/></filter><filter id="bl13" x="-30%" y="-250%" width="160%" height="600%"><feGaussianBlur stdDeviation="1.3"/></filter><filter id="bl14" x="-30%" y="-250%" width="160%" height="600%"><feGaussianBlur stdDeviation="1.4"/></filter><filter id="bl15" x="-30%" y="-250%" width="160%" height="600%"><feGaussianBlur stdDeviation="1.5"/></filter><filter id="bl16" x="-30%" y="-250%" width="160%" height="600%"><feGaussianBlur stdDeviation="1.6"/></filter><filter id="bl17" x="-30%" y="-250%" width="160%" height="600%"><feGaussianBlur stdDeviation="1.7"/></filter><filter id="bl18" x="-30%" y="-250%" width="160%" height="600%"><feGaussianBlur stdDeviation="1.8"/></filter><filter id="bl19" x="-30%" y="-250%" width="160%" height="600%"><feGaussianBlur stdDeviation="1.9"/></filter><filter id="bl20" x="-30%" y="-250%" width="160%" height="600%"><feGaussianBlur stdDeviation="2.0"/></filter></defs>
<defs><linearGradient id="gel" x1="0" y1="0" x2="0" y2="1"><stop offset="0" stop-color="#ececec"/><stop offset="0.5" stop-color="#e2e2e2"/><stop offset="1" stop-color="#e6e6e6"/></linearGradient></defs>
<rect x="60.40" y="437.30" width="212.00" height="56.30" fill="url(#gel)" stroke="#5b6b8c" stroke-width="0.9"/>
<rect x="66.00" y="443.70" width="26.50" height="3.00" rx="1.20" fill="#a9a9a9" opacity="0.9" filter="url(#bl10)"/>
<rect x="66.00" y="458.50" width="26.50" height="3.00" rx="1.20" fill="#a9a9a9" opacity="0.9" filter="url(#bl10)"/>
<rect x="66.00" y="476.30" width="26.50" height="3.00" rx="1.20" fill="#a9a9a9" opacity="0.9" filter="url(#bl10)"/>
<rect x="101.20" y="467.30" width="25.40" height="4.40" rx="1.76" fill="#060606" opacity="1" filter="url(#bl8)"/>
<rect x="101.70" y="476.90" width="24.40" height="3.20" rx="1.28" fill="#6a6a6a" opacity="1" filter="url(#bl8)"/>
<rect x="133.50" y="466.50" width="27.30" height="6.00" rx="2.40" fill="#000" opacity="1" filter="url(#bl8)"/>
<rect x="134.00" y="477.00" width="26.30" height="3.00" rx="1.20" fill="#8c8c8c" opacity="1" filter="url(#bl8)"/>
<rect x="168.60" y="467.30" width="26.10" height="4.40" rx="1.76" fill="#0a0a0a" opacity="1" filter="url(#bl8)"/>
<rect x="169.10" y="476.80" width="25.10" height="3.40" rx="1.36" fill="#505050" opacity="1" filter="url(#bl8)"/>
<rect x="203.00" y="467.40" width="26.00" height="4.20" rx="1.68" fill="#101010" opacity="1" filter="url(#bl8)"/>
<rect x="203.50" y="476.30" width="25.00" height="4.40" rx="1.76" fill="#1a1a1a" opacity="1" filter="url(#bl8)"/>
<rect x="237.30" y="467.40" width="24.90" height="4.20" rx="1.68" fill="#0c0c0c" opacity="1" filter="url(#bl8)"/>
<rect x="237.80" y="476.90" width="23.90" height="3.20" rx="1.28" fill="#686868" opacity="1" filter="url(#bl8)"/>
<rect x="204.00" y="450.00" width="24.00" height="5.00" rx="2.00" fill="#cfcfcf" opacity="0.7" filter="url(#bl20)"/>
<rect x="135.00" y="450.00" width="25.00" height="5.00" rx="2.00" fill="#d8d8d8" opacity="0.5" filter="url(#bl20)"/>
<rect x="102.00" y="448.50" width="24.00" height="5.00" rx="2.00" fill="#d8d8d8" opacity="0.5" filter="url(#bl20)"/>
<text x="59.20" y="448.00" font-size="7.9" text-anchor="end" font-weight="bold" fill="#141414" stroke="#141414" stroke-width="0.2">500bp</text>
<text x="59.20" y="462.80" font-size="7.9" text-anchor="end" font-weight="bold" fill="#141414" stroke="#141414" stroke-width="0.2">400bp</text>
<text x="59.20" y="480.60" font-size="7.9" text-anchor="end" font-weight="bold" fill="#141414" stroke="#141414" stroke-width="0.2">300bp</text>
<line x1="282.00" y1="448.50" x2="293.20" y2="448.50" stroke="#d42a22" stroke-width="1.4"/>
<rect x="276.00" y="443.30" width="6.00" height="10.20" fill="#4b4d55" stroke="#34446e" stroke-width="0.8"/>
<rect x="293.20" y="443.30" width="6.80" height="10.20" fill="#4b4d55" stroke="#34446e" stroke-width="0.8"/>
<rect x="276.50" y="458.20" width="6.30" height="10.30" fill="#4b4d55" stroke="#34446e" stroke-width="0.8"/>
<rect x="282.80" y="458.20" width="6.40" height="10.30" fill="#4b4d55" stroke="#34446e" stroke-width="0.8"/>
<line x1="282.60" y1="478.50" x2="293.90" y2="478.50" stroke="#d42a22" stroke-width="1.4"/>
<rect x="276.50" y="473.20" width="6.10" height="10.60" fill="#4b4d55" stroke="#34446e" stroke-width="0.8"/>
<rect x="96.90" y="497.60" width="175.40" height="24.70" fill="#e8e8e8" stroke="#333" stroke-width="0.9"/>
<rect x="103.50" y="509.40" width="25.70" height="6.00" rx="2.40" fill="#8a8a8a" opacity="0.7" filter="url(#bl12)"/>
<rect x="103.50" y="510.30" width="25.70" height="4.20" rx="1.68" fill="#0e0e0e" opacity="1" filter="url(#bl8)"/>
<rect x="137.50" y="509.40" width="25.80" height="6.00" rx="2.40" fill="#8a8a8a" opacity="0.7" filter="url(#bl12)"/>
<rect x="137.50" y="510.30" width="25.80" height="4.20" rx="1.68" fill="#0e0e0e" opacity="1" filter="url(#bl8)"/>
<rect x="171.00" y="509.40" width="26.50" height="6.00" rx="2.40" fill="#8a8a8a" opacity="0.7" filter="url(#bl12)"/>
<rect x="171.00" y="510.30" width="26.50" height="4.20" rx="1.68" fill="#0e0e0e" opacity="1" filter="url(#bl8)"/>
<rect x="205.80" y="509.40" width="25.80" height="6.00" rx="2.40" fill="#8a8a8a" opacity="0.7" filter="url(#bl12)"/>
<rect x="205.80" y="510.30" width="25.80" height="4.20" rx="1.68" fill="#0e0e0e" opacity="1" filter="url(#bl8)"/>
<rect x="239.20" y="509.40" width="26.60" height="6.00" rx="2.40" fill="#8a8a8a" opacity="0.7" filter="url(#bl12)"/>
<rect x="239.20" y="510.30" width="26.60" height="4.20" rx="1.68" fill="#0e0e0e" opacity="1" filter="url(#bl8)"/>
<text x="71.90" y="514.88" font-size="9.25" text-anchor="middle" font-weight="bold" fill="#141414" stroke="#141414" stroke-width="0.2">GAPDH</text>
<text x="115.90" y="530.70" font-size="7.9" text-anchor="middle" font-weight="bold" fill="#141414" stroke="#141414" stroke-width="0.2">sh-NC</text>
<text x="150.00" y="530.70" font-size="7.9" text-anchor="middle" font-weight="bold" fill="#141414" stroke="#141414" stroke-width="0.2">sh-circ</text>
<text x="186.00" y="530.70" font-size="7.9" text-anchor="middle" font-weight="bold" fill="#141414" stroke="#141414" stroke-width="0.2">OE-NC</text>
<text x="220.30" y="530.70" font-size="7.9" text-anchor="middle" font-weight="bold" fill="#141414" stroke="#141414" stroke-width="0.2">OE-circ</text>
<text x="240" y="530.70" font-size="7.9" font-weight="bold" fill="#141414" stroke="#141414" stroke-width="0.2">OE-circ<tspan font-size="4.4" dy="-3.2">mut1</tspan></text>
<rect x="68.40" y="538.70" width="11.70" height="5.20" fill="#9dc3d4" stroke="#333" stroke-width="0.7"/>
<text x="82.20" y="544.25" font-size="8.3" text-anchor="start" font-weight="bold" fill="#141414" stroke="#141414" stroke-width="0.2">sh-NC</text>
<rect x="116.00" y="538.70" width="10.60" height="5.20" fill="#d65a69" stroke="#333" stroke-width="0.7"/>
<text x="128.70" y="544.25" font-size="8.3" text-anchor="start" font-weight="bold" fill="#141414" stroke="#141414" stroke-width="0.2">sh-circ</text>
<rect x="204.40" y="538.70" width="11.10" height="5.20" fill="#9dc3d4" stroke="#333" stroke-width="0.7"/>
<text x="217.60" y="544.25" font-size="8.3" text-anchor="start" font-weight="bold" fill="#141414" stroke="#141414" stroke-width="0.2">OE-NC</text>
<rect x="252.80" y="538.70" width="10.80" height="5.20" fill="#d65a69" stroke="#333" stroke-width="0.7"/>
<text x="265.70" y="544.25" font-size="8.3" text-anchor="start" font-weight="bold" fill="#141414" stroke="#141414" stroke-width="0.2">OE-circ</text>
<rect x="306.00" y="538.70" width="10.80" height="5.20" fill="#e4bb7f" stroke="#333" stroke-width="0.7"/>
<text x="319.1" y="544.25" font-size="8.3" font-weight="bold" fill="#141414" stroke="#141414" stroke-width="0.2">OE-circ<tspan font-size="4.4" dy="-3.2">mut1</tspan></text>
<line x1="66.50" y1="563.50" x2="66.50" y2="651.50" stroke="#555" stroke-width="1.0"/>
<line x1="66.70" y1="651.50" x2="155.30" y2="651.50" stroke="#111" stroke-width="1.0"/>
<line x1="63.20" y1="651.50" x2="66.70" y2="651.50" stroke="#555" stroke-width="0.9"/>
<text x="61.70" y="653.74" font-size="6.3" text-anchor="end" font-weight="bold" fill="#141414" stroke="#141414" stroke-width="0.2">0.0</text>
<line x1="63.20" y1="634.50" x2="66.70" y2="634.50" stroke="#555" stroke-width="0.9"/>
<text x="61.70" y="636.24" font-size="6.3" text-anchor="end" font-weight="bold" fill="#141414" stroke="#141414" stroke-width="0.2">0.5</text>
<line x1="63.20" y1="616.50" x2="66.70" y2="616.50" stroke="#555" stroke-width="0.9"/>
<text x="61.70" y="618.74" font-size="6.3" text-anchor="end" font-weight="bold" fill="#141414" stroke="#141414" stroke-width="0.2">1.0</text>
<line x1="63.20" y1="599.50" x2="66.70" y2="599.50" stroke="#555" stroke-width="0.9"/>
<text x="61.70" y="601.24" font-size="6.3" text-anchor="end" font-weight="bold" fill="#141414" stroke="#141414" stroke-width="0.2">1.5</text>
<line x1="63.20" y1="581.50" x2="66.70" y2="581.50" stroke="#555" stroke-width="0.9"/>
<text x="61.70" y="583.74" font-size="6.3" text-anchor="end" font-weight="bold" fill="#141414" stroke="#141414" stroke-width="0.2">2.0</text>
<line x1="63.20" y1="564.50" x2="66.70" y2="564.50" stroke="#555" stroke-width="0.9"/>
<text x="61.70" y="566.24" font-size="6.3" text-anchor="end" font-weight="bold" fill="#141414" stroke="#141414" stroke-width="0.2">2.5</text>
<line x1="88.50" y1="651.50" x2="88.50" y2="653.50" stroke="#111" stroke-width="0.8"/>
<line x1="133.50" y1="651.50" x2="133.50" y2="653.50" stroke="#111" stroke-width="0.8"/>
<rect x="74.30" y="616.50" width="13.30" height="35.00" fill="#9dc3d4" stroke="#222" stroke-width="0.9"/>
<rect x="89.50" y="578.00" width="13.30" height="73.50" fill="#d65a69" stroke="#222" stroke-width="0.9"/>
<rect x="118.70" y="616.50" width="13.30" height="35.00" fill="#9dc3d4" stroke="#222" stroke-width="0.9"/>
<rect x="133.80" y="643.80" width="13.40" height="7.70" fill="#d65a69" stroke="#222" stroke-width="0.9"/>
<line x1="81.50" y1="614.75" x2="81.50" y2="618.25" stroke="#111" stroke-width="0.8"/>
<line x1="77.80" y1="614.50" x2="84.20" y2="614.50" stroke="#111" stroke-width="0.8"/>
<line x1="77.80" y1="618.50" x2="84.20" y2="618.50" stroke="#111" stroke-width="0.8"/>
<line x1="96.50" y1="573.10" x2="96.50" y2="581.50" stroke="#111" stroke-width="0.8"/>
<line x1="92.90" y1="573.50" x2="99.30" y2="573.50" stroke="#111" stroke-width="0.8"/>
<line x1="92.90" y1="581.50" x2="99.30" y2="581.50" stroke="#111" stroke-width="0.8"/>
<line x1="125.50" y1="611.60" x2="125.50" y2="621.40" stroke="#111" stroke-width="0.8"/>
<line x1="122.10" y1="611.50" x2="128.50" y2="611.50" stroke="#111" stroke-width="0.8"/>
<line x1="122.10" y1="621.50" x2="128.50" y2="621.50" stroke="#111" stroke-width="0.8"/>
<line x1="140.50" y1="642.40" x2="140.50" y2="644.85" stroke="#111" stroke-width="0.8"/>
<line x1="137.30" y1="642.50" x2="143.70" y2="642.50" stroke="#111" stroke-width="0.8"/>
<line x1="137.30" y1="644.50" x2="143.70" y2="644.50" stroke="#111" stroke-width="0.8"/>
<circle cx="79.50" cy="617.90" r="0.90" fill="#111"/>
<circle cx="82.50" cy="617.20" r="0.90" fill="#111"/>
<circle cx="81.00" cy="615.45" r="0.90" fill="#111"/>
<circle cx="96.10" cy="573.80" r="0.90" fill="#111"/>
<circle cx="95.00" cy="579.75" r="0.90" fill="#111"/>
<circle cx="97.50" cy="581.50" r="0.90" fill="#111"/>
<circle cx="125.30" cy="612.30" r="0.90" fill="#111"/>
<circle cx="125.00" cy="619.30" r="0.90" fill="#111"/>
<circle cx="125.80" cy="620.00" r="0.90" fill="#111"/>
<circle cx="139.00" cy="643.80" r="0.90" fill="#111"/>
<circle cx="141.50" cy="643.45" r="0.90" fill="#111"/>
<circle cx="140.50" cy="642.75" r="0.90" fill="#111"/>
<line x1="79.40" y1="563.50" x2="96.20" y2="563.50" stroke="#222" stroke-width="0.8"/>
<text x="87.80" y="561.49" font-size="5.9" text-anchor="middle" font-weight="bold" fill="#141414" stroke="#141414" stroke-width="0.2">p=0.0002</text>
<line x1="125.00" y1="605.50" x2="141.30" y2="605.50" stroke="#222" stroke-width="0.8"/>
<text x="133.15" y="603.29" font-size="5.9" text-anchor="middle" font-weight="bold" fill="#141414" stroke="#141414" stroke-width="0.2">p=0.0007</text>
<text x="88.80" y="662.09" font-size="7.0" text-anchor="middle" font-weight="bold" fill="#141414" stroke="#141414" stroke-width="0.2">GRN</text>
<text x="133.10" y="662.09" font-size="7.0" text-anchor="middle" font-weight="bold" fill="#141414" stroke="#141414" stroke-width="0.2">pre-GRN</text>
<text x="37.80" y="609.83" font-size="8.25" text-anchor="middle" font-weight="bold" fill="#141414" stroke="#141414" stroke-width="0.45" transform="rotate(-90 37.80 606.90)">Relative RNA levels</text>
<text x="46.90" y="609.78" font-size="6.7" text-anchor="middle" font-weight="bold" fill="#141414" stroke="#141414" stroke-width="0.4" transform="rotate(-90 46.90 607.40)">(normalized to β-actin mRNA)</text>
<line x1="203.50" y1="553.00" x2="203.50" y2="650.60" stroke="#555" stroke-width="1.0"/>
<line x1="203.80" y1="650.50" x2="298.70" y2="650.50" stroke="#111" stroke-width="1.0"/>
<line x1="200.30" y1="650.50" x2="203.80" y2="650.50" stroke="#555" stroke-width="0.9"/>
<text x="198.80" y="652.84" font-size="6.3" text-anchor="end" font-weight="bold" fill="#141414" stroke="#141414" stroke-width="0.2">0.0</text>
<line x1="200.30" y1="631.50" x2="203.80" y2="631.50" stroke="#555" stroke-width="0.9"/>
<text x="198.80" y="633.39" font-size="6.3" text-anchor="end" font-weight="bold" fill="#141414" stroke="#141414" stroke-width="0.2">0.5</text>
<line x1="200.30" y1="611.50" x2="203.80" y2="611.50" stroke="#555" stroke-width="0.9"/>
<text x="198.80" y="613.94" font-size="6.3" text-anchor="end" font-weight="bold" fill="#141414" stroke="#141414" stroke-width="0.2">1.0</text>
<line x1="200.30" y1="592.50" x2="203.80" y2="592.50" stroke="#555" stroke-width="0.9"/>
<text x="198.80" y="594.49" font-size="6.3" text-anchor="end" font-weight="bold" fill="#141414" stroke="#141414" stroke-width="0.2">1.5</text>
<line x1="200.30" y1="572.50" x2="203.80" y2="572.50" stroke="#555" stroke-width="0.9"/>
<text x="198.80" y="575.04" font-size="6.3" text-anchor="end" font-weight="bold" fill="#141414" stroke="#141414" stroke-width="0.2">2.0</text>
<line x1="200.30" y1="553.50" x2="203.80" y2="553.50" stroke="#555" stroke-width="0.9"/>
<text x="198.80" y="555.59" font-size="6.3" text-anchor="end" font-weight="bold" fill="#141414" stroke="#141414" stroke-width="0.2">2.5</text>
<line x1="228.50" y1="650.60" x2="228.50" y2="652.60" stroke="#111" stroke-width="0.8"/>
<line x1="278.50" y1="650.60" x2="278.50" y2="652.60" stroke="#111" stroke-width="0.8"/>
<rect x="210.20" y="611.70" width="11.10" height="38.90" fill="#9dc3d4" stroke="#222" stroke-width="0.9"/>
<line x1="215.50" y1="607.81" x2="215.50" y2="615.59" stroke="#111" stroke-width="0.8"/>
<line x1="213.15" y1="607.50" x2="218.35" y2="607.50" stroke="#111" stroke-width="0.8"/>
<line x1="213.15" y1="615.50" x2="218.35" y2="615.50" stroke="#111" stroke-width="0.8"/>
<rect x="223.60" y="632.71" width="10.30" height="17.89" fill="#d65a69" stroke="#222" stroke-width="0.9"/>
<line x1="228.50" y1="632.32" x2="228.50" y2="633.10" stroke="#111" stroke-width="0.8"/>
<line x1="226.15" y1="632.50" x2="231.35" y2="632.50" stroke="#111" stroke-width="0.8"/>
<line x1="226.15" y1="633.50" x2="231.35" y2="633.50" stroke="#111" stroke-width="0.8"/>
<rect x="235.90" y="604.70" width="10.80" height="45.90" fill="#e4bb7f" stroke="#222" stroke-width="0.9"/>
<line x1="241.50" y1="596.14" x2="241.50" y2="612.87" stroke="#111" stroke-width="0.8"/>
<line x1="238.70" y1="596.50" x2="243.90" y2="596.50" stroke="#111" stroke-width="0.8"/>
<line x1="238.70" y1="612.50" x2="243.90" y2="612.50" stroke="#111" stroke-width="0.8"/>
<rect x="260.10" y="611.70" width="10.90" height="38.90" fill="#9dc3d4" stroke="#222" stroke-width="0.9"/>
<line x1="265.50" y1="608.20" x2="265.50" y2="614.81" stroke="#111" stroke-width="0.8"/>
<line x1="262.95" y1="608.50" x2="268.15" y2="608.50" stroke="#111" stroke-width="0.8"/>
<line x1="262.95" y1="614.50" x2="268.15" y2="614.50" stroke="#111" stroke-width="0.8"/>
<rect x="273.30" y="579.41" width="10.80" height="71.19" fill="#d65a69" stroke="#222" stroke-width="0.9"/>
<line x1="278.50" y1="570.08" x2="278.50" y2="588.36" stroke="#111" stroke-width="0.8"/>
<line x1="276.10" y1="570.50" x2="281.30" y2="570.50" stroke="#111" stroke-width="0.8"/>
<line x1="276.10" y1="588.50" x2="281.30" y2="588.50" stroke="#111" stroke-width="0.8"/>
<rect x="286.10" y="616.76" width="10.30" height="33.84" fill="#e4bb7f" stroke="#222" stroke-width="0.9"/>
<line x1="291.50" y1="611.31" x2="291.50" y2="622.59" stroke="#111" stroke-width="0.8"/>
<line x1="288.65" y1="611.50" x2="293.85" y2="611.50" stroke="#111" stroke-width="0.8"/>
<line x1="288.65" y1="622.50" x2="293.85" y2="622.50" stroke="#111" stroke-width="0.8"/>
<circle cx="215.70" cy="607.03" r="0.90" fill="#111"/>
<circle cx="214.00" cy="613.64" r="0.90" fill="#111"/>
<circle cx="217.50" cy="613.64" r="0.90" fill="#111"/>
<circle cx="227.00" cy="632.71" r="0.90" fill="#111"/>
<circle cx="229.00" cy="632.71" r="0.90" fill="#111"/>
<circle cx="231.00" cy="632.32" r="0.90" fill="#111"/>
<circle cx="241.30" cy="598.09" r="0.90" fill="#111"/>
<circle cx="239.00" cy="606.64" r="0.90" fill="#111"/>
<circle cx="243.00" cy="610.92" r="0.90" fill="#111"/>
<circle cx="265.50" cy="608.59" r="0.90" fill="#111"/>
<circle cx="264.00" cy="613.64" r="0.90" fill="#111"/>
<circle cx="267.50" cy="613.64" r="0.90" fill="#111"/>
<circle cx="278.70" cy="569.69" r="0.90" fill="#111"/>
<circle cx="276.50" cy="583.69" r="0.90" fill="#111"/>
<circle cx="281.00" cy="583.69" r="0.90" fill="#111"/>
<circle cx="291.20" cy="612.87" r="0.90" fill="#111"/>
<circle cx="290.00" cy="617.54" r="0.90" fill="#111"/>
<circle cx="292.50" cy="620.26" r="0.90" fill="#111"/>
<line x1="211.00" y1="602.50" x2="234.50" y2="602.50" stroke="#222" stroke-width="0.8"/>
<text x="222.75" y="600.69" font-size="5.9" text-anchor="middle" font-weight="bold" fill="#141414" stroke="#141414" stroke-width="0.2">p=0.0009</text>
<line x1="215.50" y1="591.50" x2="240.30" y2="591.50" stroke="#222" stroke-width="0.8"/>
<text x="227.90" y="589.09" font-size="5.9" text-anchor="middle" font-weight="bold" fill="#141414" stroke="#141414" stroke-width="0.2">p=0.2355</text>
<line x1="260.00" y1="566.50" x2="282.60" y2="566.50" stroke="#222" stroke-width="0.8"/>
<text x="271.30" y="563.59" font-size="5.9" text-anchor="middle" font-weight="bold" fill="#141414" stroke="#141414" stroke-width="0.2">p=0.0038</text>
<line x1="266.60" y1="555.50" x2="291.40" y2="555.50" stroke="#222" stroke-width="0.8"/>
<text x="279.00" y="553.39" font-size="5.9" text-anchor="middle" font-weight="bold" fill="#141414" stroke="#141414" stroke-width="0.2">p=0.2400</text>
<text x="228.60" y="662.09" font-size="7.0" text-anchor="middle" font-weight="bold" fill="#141414" stroke="#141414" stroke-width="0.2">GRN</text>
<text x="279.20" y="662.09" font-size="7.0" text-anchor="middle" font-weight="bold" fill="#141414" stroke="#141414" stroke-width="0.2">pre-GRN</text>
<text x="173.30" y="605.93" font-size="8.25" text-anchor="middle" font-weight="bold" fill="#141414" stroke="#141414" stroke-width="0.45" transform="rotate(-90 173.30 603.00)">Relative RNA levels</text>
<text x="182.20" y="605.88" font-size="6.7" text-anchor="middle" font-weight="bold" fill="#141414" stroke="#141414" stroke-width="0.4" transform="rotate(-90 182.20 603.50)">(normalized to β-actin mRNA)</text>
<text x="371.15" y="426.82" font-size="15.9" font-weight="bold" fill="#1f1b1c" stroke="#1f1b1c" stroke-width="0.3">G</text>
<line x1="436.50" y1="424.40" x2="436.50" y2="501.00" stroke="#222" stroke-width="1.0"/>
<line x1="436.10" y1="501.50" x2="487.70" y2="501.50" stroke="#222" stroke-width="1.0"/>
<line x1="432.90" y1="501.50" x2="436.10" y2="501.50" stroke="#222" stroke-width="0.9"/>
<text x="432.30" y="503.59" font-size="7.3" text-anchor="end" font-weight="bold" fill="#141414" stroke="#141414" stroke-width="0.2">0.0</text>
<line x1="432.90" y1="475.50" x2="436.10" y2="475.50" stroke="#222" stroke-width="0.9"/>
<text x="432.30" y="478.09" font-size="7.3" text-anchor="end" font-weight="bold" fill="#141414" stroke="#141414" stroke-width="0.2">0.5</text>
<line x1="432.90" y1="450.50" x2="436.10" y2="450.50" stroke="#222" stroke-width="0.9"/>
<text x="432.30" y="452.59" font-size="7.3" text-anchor="end" font-weight="bold" fill="#141414" stroke="#141414" stroke-width="0.2">1.0</text>
<line x1="432.90" y1="424.50" x2="436.10" y2="424.50" stroke="#222" stroke-width="0.9"/>
<text x="432.30" y="427.09" font-size="7.3" text-anchor="end" font-weight="bold" fill="#141414" stroke="#141414" stroke-width="0.2">1.5</text>
<line x1="450.50" y1="501.00" x2="450.50" y2="504.00" stroke="#222" stroke-width="0.9"/>
<line x1="472.50" y1="501.00" x2="472.50" y2="504.00" stroke="#222" stroke-width="0.9"/>
<rect x="443.40" y="450.00" width="14.30" height="51.00" fill="#9dc3d4" stroke="#222" stroke-width="0.9"/>
<line x1="450.50" y1="448.47" x2="450.50" y2="451.02" stroke="#111" stroke-width="0.8"/>
<line x1="447.55" y1="448.50" x2="453.55" y2="448.50" stroke="#111" stroke-width="0.8"/>
<line x1="447.55" y1="451.50" x2="453.55" y2="451.50" stroke="#111" stroke-width="0.8"/>
<circle cx="450.55" cy="450.00" r="0.95" fill="#111"/>
<circle cx="448.55" cy="450.51" r="0.95" fill="#111"/>
<circle cx="452.55" cy="450.51" r="0.95" fill="#111"/>
<rect x="465.90" y="478.05" width="13.70" height="22.95" fill="#d65a69" stroke="#222" stroke-width="0.9"/>
<line x1="472.50" y1="477.03" x2="472.50" y2="478.56" stroke="#111" stroke-width="0.8"/>
<line x1="469.75" y1="477.50" x2="475.75" y2="477.50" stroke="#111" stroke-width="0.8"/>
<line x1="469.75" y1="478.50" x2="475.75" y2="478.50" stroke="#111" stroke-width="0.8"/>
<circle cx="472.75" cy="477.54" r="0.95" fill="#111"/>
<circle cx="470.75" cy="478.05" r="0.95" fill="#111"/>
<circle cx="474.75" cy="478.05" r="0.95" fill="#111"/>
<line x1="451.00" y1="443.50" x2="473.40" y2="443.50" stroke="#9a9a9a" stroke-width="0.8"/>
<text x="462.20" y="439.61" font-size="6.8" text-anchor="middle" font-weight="bold" fill="#141414" stroke="#141414" stroke-width="0.2">p&lt;0.0001</text>
<text x="451.60" y="509.69" font-size="7.0" text-anchor="end" font-weight="bold" fill="#141414" stroke="#141414" stroke-width="0.2" transform="rotate(-45 451.60 507.20)">EV</text>
<text x="473.90" y="509.69" font-size="7.0" text-anchor="end" font-weight="bold" fill="#141414" stroke="#141414" stroke-width="0.2" transform="rotate(-45 473.90 507.20)">OE-circFCHO2</text>
<text x="406.00" y="469.94" font-size="7.15" text-anchor="middle" font-weight="bold" fill="#141414" stroke="#141414" stroke-width="0.4" transform="rotate(-90 406.00 467.40)">Relative GRN mRNA level</text>
<text x="415.90" y="468.90" font-size="7.03" text-anchor="middle" font-weight="bold" fill="#141414" stroke="#141414" stroke-width="0.4" transform="rotate(-90 415.90 466.40)">(normalized to β-actin mRNA)</text>
<text x="572.40" y="439.89" font-size="9.0" text-anchor="middle" font-weight="bold" fill="#141414" stroke="#141414" stroke-width="0.2">EV</text>
<text x="624.80" y="439.89" font-size="9.0" text-anchor="middle" font-weight="bold" fill="#141414" stroke="#141414" stroke-width="0.2">OE-circFCHO2</text>
<rect x="544.60" y="443.50" width="101.00" height="24.70" fill="#ececec" stroke="#3a3a3a" stroke-width="0.9"/>
<rect x="544.60" y="473.40" width="101.00" height="25.80" fill="#eeeeee" stroke="#3a3a3a" stroke-width="0.9"/>
<rect x="553.00" y="458.00" width="37.00" height="5.00" rx="2.00" fill="#d2d2d2" opacity="0.8" filter="url(#bl20)"/>
<rect x="601.50" y="458.00" width="38.00" height="5.00" rx="2.00" fill="#dadada" opacity="0.8" filter="url(#bl20)"/>
<defs><linearGradient id="gEV" x1="0" y1="0" x2="1" y2="0"><stop offset="0" stop-color="#8a8a8a"/><stop offset="0.45" stop-color="#505050"/><stop offset="0.7" stop-color="#1a1a1a"/><stop offset="1" stop-color="#050505"/></linearGradient></defs>
<rect x="552.70" y="452.00" width="37.70" height="6.80" rx="2.72" fill="#8a8a8a" opacity="0.8" filter="url(#bl16)"/>
<rect x="553.50" y="452.90" width="36.50" height="4.20" rx="1.68" fill="url(#gEV)" opacity="1" filter="url(#bl10)"/>
<rect x="601.40" y="453.40" width="38.10" height="5.00" rx="2.00" fill="#a4a4a4" opacity="0.9" filter="url(#bl15)"/>
<rect x="552.70" y="485.40" width="36.40" height="6.60" rx="2.64" fill="#050505" opacity="1" filter="url(#bl10)"/>
<rect x="600.30" y="484.40" width="37.50" height="6.20" rx="2.48" fill="#050505" opacity="1" filter="url(#bl10)"/>
<text x="542.40" y="459.84" font-size="9.4" text-anchor="end" font-weight="bold" fill="#141414" stroke="#141414" stroke-width="0.2">PGRN</text>
<text x="543.20" y="489.43" font-size="9.1" text-anchor="end" font-weight="bold" fill="#141414" stroke="#141414" stroke-width="0.2">GAPDH</text>
<line x1="645.80" y1="462.50" x2="650.60" y2="462.50" stroke="#222" stroke-width="0.9"/>
<text x="651.60" y="465.89" font-size="9.0" text-anchor="start" font-weight="bold" fill="#141414" stroke="#141414" stroke-width="0.2">70KD</text>
<line x1="645.80" y1="492.50" x2="650.60" y2="492.50" stroke="#222" stroke-width="0.9"/>
<text x="651.60" y="496.09" font-size="9.0" text-anchor="start" font-weight="bold" fill="#141414" stroke="#141414" stroke-width="0.2">35KD</text>
<text x="371.05" y="549.96" font-size="15.9" font-weight="bold" fill="#1f1b1c" stroke="#1f1b1c" stroke-width="0.3">H</text>
<line x1="438.50" y1="554.30" x2="438.50" y2="633.10" stroke="#222" stroke-width="1.0"/>
<line x1="438.70" y1="633.50" x2="490.80" y2="633.50" stroke="#222" stroke-width="1.0"/>
<line x1="435.50" y1="633.50" x2="438.70" y2="633.50" stroke="#222" stroke-width="0.9"/>
<text x="433.80" y="635.76" font-size="7.5" text-anchor="end" font-weight="bold" fill="#141414" stroke="#141414" stroke-width="0.2">0.0</text>
<line x1="435.50" y1="617.50" x2="438.70" y2="617.50" stroke="#222" stroke-width="0.9"/>
<text x="433.80" y="619.96" font-size="7.5" text-anchor="end" font-weight="bold" fill="#141414" stroke="#141414" stroke-width="0.2">0.5</text>
<line x1="435.50" y1="601.50" x2="438.70" y2="601.50" stroke="#222" stroke-width="0.9"/>
<text x="433.80" y="604.16" font-size="7.5" text-anchor="end" font-weight="bold" fill="#141414" stroke="#141414" stroke-width="0.2">1.0</text>
<line x1="435.50" y1="585.50" x2="438.70" y2="585.50" stroke="#222" stroke-width="0.9"/>
<text x="433.80" y="588.36" font-size="7.5" text-anchor="end" font-weight="bold" fill="#141414" stroke="#141414" stroke-width="0.2">1.5</text>
<line x1="435.50" y1="569.50" x2="438.70" y2="569.50" stroke="#222" stroke-width="0.9"/>
<text x="433.80" y="572.56" font-size="7.5" text-anchor="end" font-weight="bold" fill="#141414" stroke="#141414" stroke-width="0.2">2.0</text>
<line x1="435.50" y1="554.50" x2="438.70" y2="554.50" stroke="#222" stroke-width="0.9"/>
<text x="433.80" y="556.76" font-size="7.5" text-anchor="end" font-weight="bold" fill="#141414" stroke="#141414" stroke-width="0.2">2.5</text>
<line x1="453.50" y1="633.10" x2="453.50" y2="636.10" stroke="#222" stroke-width="0.9"/>
<line x1="475.50" y1="633.10" x2="475.50" y2="636.10" stroke="#222" stroke-width="0.9"/>
<rect x="446.40" y="601.50" width="14.20" height="31.60" fill="#9dc3d4" stroke="#222" stroke-width="0.9"/>
<line x1="453.50" y1="599.92" x2="453.50" y2="603.08" stroke="#111" stroke-width="0.8"/>
<line x1="450.50" y1="599.50" x2="456.50" y2="599.50" stroke="#111" stroke-width="0.8"/>
<line x1="450.50" y1="603.50" x2="456.50" y2="603.50" stroke="#111" stroke-width="0.8"/>
<circle cx="453.50" cy="602.13" r="0.95" fill="#111"/>
<circle cx="451.50" cy="602.76" r="0.95" fill="#111"/>
<circle cx="455.50" cy="601.50" r="0.95" fill="#111"/>
<rect x="468.60" y="566.74" width="14.60" height="66.36" fill="#d65a69" stroke="#222" stroke-width="0.9"/>
<line x1="475.50" y1="562.32" x2="475.50" y2="570.85" stroke="#111" stroke-width="0.8"/>
<line x1="472.90" y1="562.50" x2="478.90" y2="562.50" stroke="#111" stroke-width="0.8"/>
<line x1="472.90" y1="570.50" x2="478.90" y2="570.50" stroke="#111" stroke-width="0.8"/>
<circle cx="475.90" cy="565.16" r="0.95" fill="#111"/>
<circle cx="475.40" cy="569.90" r="0.95" fill="#111"/>
<line x1="453.30" y1="558.50" x2="476.60" y2="558.50" stroke="#9a9a9a" stroke-width="0.8"/>
<text x="463.40" y="556.31" font-size="6.8" text-anchor="middle" font-weight="bold" fill="#141414" stroke="#141414" stroke-width="0.2">p=0.0002</text>
<text x="454.60" y="642.44" font-size="8.0" text-anchor="end" font-weight="bold" fill="#141414" stroke="#141414" stroke-width="0.2" transform="rotate(-45 454.60 639.60)">sh-NC</text>
<text x="476.90" y="642.44" font-size="8.0" text-anchor="end" font-weight="bold" fill="#141414" stroke="#141414" stroke-width="0.2" transform="rotate(-45 476.90 639.60)">sh-circFCHO2</text>
<text x="408.10" y="595.58" font-size="7.28" text-anchor="middle" font-weight="bold" fill="#141414" stroke="#141414" stroke-width="0.4" transform="rotate(-90 408.10 593.00)">Relative GRN mRNA level</text>
<text x="417.50" y="594.73" font-size="7.12" text-anchor="middle" font-weight="bold" fill="#141414" stroke="#141414" stroke-width="0.4" transform="rotate(-90 417.50 592.20)">(normalized to β-actin mRNA)</text>
<text x="568.90" y="568.50" font-size="9.0" text-anchor="middle" font-weight="bold" fill="#141414" stroke="#141414" stroke-width="0.2">sh-NC</text>
<text x="626.40" y="568.50" font-size="9.0" text-anchor="middle" font-weight="bold" fill="#141414" stroke="#141414" stroke-width="0.2">sh-circFCHO2</text>
<rect x="545.30" y="572.00" width="101.00" height="19.50" fill="#ececec" stroke="#3a3a3a" stroke-width="0.9"/>
<rect x="545.30" y="597.40" width="101.00" height="22.20" fill="#eeeeee" stroke="#3a3a3a" stroke-width="0.9"/>
<rect x="552.70" y="580.20" width="37.00" height="3.60" rx="1.44" fill="#4a4a4a" opacity="0.95" filter="url(#bl10)"/>
<defs><linearGradient id="gSC" x1="0" y1="0" x2="1" y2="0"><stop offset="0" stop-color="#080808"/><stop offset="0.4" stop-color="#1a1a1a"/><stop offset="1" stop-color="#303030"/></linearGradient></defs>
<rect x="603.50" y="580.20" width="36.00" height="6.00" rx="2.40" fill="#7a7a7a" opacity="0.7" filter="url(#bl14)"/>
<rect x="603.50" y="580.80" width="36.00" height="4.40" rx="1.76" fill="url(#gSC)" opacity="1" filter="url(#bl10)"/>
<rect x="552.70" y="605.90" width="38.10" height="7.20" rx="2.88" fill="#050505" opacity="1" filter="url(#bl11)"/>
<rect x="601.40" y="606.00" width="37.60" height="6.40" rx="2.56" fill="#0a0a0a" opacity="1" filter="url(#bl11)"/>
<text x="542.40" y="587.54" font-size="9.4" text-anchor="end" font-weight="bold" fill="#141414" stroke="#141414" stroke-width="0.2">PGRN</text>
<text x="543.20" y="614.43" font-size="9.1" text-anchor="end" font-weight="bold" fill="#141414" stroke="#141414" stroke-width="0.2">GAPDH</text>
<line x1="646.60" y1="587.50" x2="651.40" y2="587.50" stroke="#222" stroke-width="0.9"/>
<text x="652.40" y="590.90" font-size="9.0" text-anchor="start" font-weight="bold" fill="#141414" stroke="#141414" stroke-width="0.2">70KD</text>
<line x1="646.60" y1="616.50" x2="651.40" y2="616.50" stroke="#222" stroke-width="0.9"/>
<text x="652.40" y="619.80" font-size="9.0" text-anchor="start" font-weight="bold" fill="#141414" stroke="#141414" stroke-width="0.2">35KD</text>
<text x="0.65" y="681.66" font-size="15.9" font-weight="bold" fill="#1f1b1c" stroke="#1f1b1c" stroke-width="0.3">I</text>
<line x1="52.50" y1="683.50" x2="52.50" y2="777.70" stroke="#222" stroke-width="1"/>
<line x1="52.20" y1="777.50" x2="115.60" y2="777.50" stroke="#222" stroke-width="1"/>
<line x1="48.70" y1="777.50" x2="52.20" y2="777.50" stroke="#222" stroke-width="0.9"/>
<text x="47.60" y="780.22" font-size="7.1" text-anchor="end" font-weight="bold" fill="#141414" stroke="#141414" stroke-width="0.2">1600</text>
<line x1="48.70" y1="762.50" x2="52.20" y2="762.50" stroke="#222" stroke-width="0.9"/>
<text x="47.60" y="764.55" font-size="7.1" text-anchor="end" font-weight="bold" fill="#141414" stroke="#141414" stroke-width="0.2">1800</text>
<line x1="48.70" y1="746.50" x2="52.20" y2="746.50" stroke="#222" stroke-width="0.9"/>
<text x="47.60" y="748.89" font-size="7.1" text-anchor="end" font-weight="bold" fill="#141414" stroke="#141414" stroke-width="0.2">2000</text>
<line x1="48.70" y1="730.50" x2="52.20" y2="730.50" stroke="#222" stroke-width="0.9"/>
<text x="47.60" y="733.22" font-size="7.1" text-anchor="end" font-weight="bold" fill="#141414" stroke="#141414" stroke-width="0.2">2200</text>
<line x1="48.70" y1="715.50" x2="52.20" y2="715.50" stroke="#222" stroke-width="0.9"/>
<text x="47.60" y="717.55" font-size="7.1" text-anchor="end" font-weight="bold" fill="#141414" stroke="#141414" stroke-width="0.2">2400</text>
<line x1="48.70" y1="699.50" x2="52.20" y2="699.50" stroke="#222" stroke-width="0.9"/>
<text x="47.60" y="701.89" font-size="7.1" text-anchor="end" font-weight="bold" fill="#141414" stroke="#141414" stroke-width="0.2">2600</text>
<line x1="48.70" y1="683.50" x2="52.20" y2="683.50" stroke="#222" stroke-width="0.9"/>
<text x="47.60" y="686.22" font-size="7.1" text-anchor="end" font-weight="bold" fill="#141414" stroke="#141414" stroke-width="0.2">2800</text>
<line x1="70.50" y1="777.70" x2="70.50" y2="780.90" stroke="#222" stroke-width="0.9"/>
<line x1="97.50" y1="777.70" x2="97.50" y2="780.90" stroke="#222" stroke-width="0.9"/>
<path d="M70.60,698.90 L70.64,699.19 L70.69,699.60 L70.76,700.07 L70.84,700.58 L70.95,701.07 L71.10,701.50 L71.27,701.86 L71.45,702.19 L71.66,702.51 L71.91,702.82 L72.22,703.14 L72.60,703.50 L73.08,703.89 L73.66,704.30 L74.29,704.72 L74.93,705.15 L75.55,705.58 L76.10,706.00 L76.60,706.42 L77.09,706.83 L77.54,707.25 L77.96,707.67 L78.32,708.08 L78.60,708.50 L78.81,708.91 L78.95,709.31 L79.03,709.72 L79.06,710.13 L79.05,710.55 L79.00,711.00 L78.89,711.48 L78.70,711.99 L78.46,712.52 L78.21,713.04 L77.98,713.54 L77.80,714.00 L77.64,714.41 L77.49,714.79 L77.35,715.14 L77.24,715.49 L77.19,715.84 L77.20,716.20 L77.30,716.57 L77.47,716.94 L77.70,717.31 L77.95,717.69 L78.19,718.09 L78.40,718.50 L78.60,718.93 L78.83,719.38 L79.06,719.84 L79.24,720.32 L79.37,720.80 L79.40,721.30 L79.34,721.80 L79.20,722.31 L79.00,722.82 L78.74,723.36 L78.44,723.92 L78.10,724.50 L77.69,725.12 L77.21,725.77 L76.67,726.45 L76.13,727.14 L75.59,727.82 L75.10,728.50 L74.65,729.17 L74.21,729.84 L73.79,730.52 L73.38,731.19 L72.98,731.85 L72.60,732.50 L72.21,733.18 L71.82,733.89 L71.44,734.60 L71.10,735.25 L70.81,735.80 L70.60,736.20 L70.60,736.20 L70.39,735.80 L70.10,735.25 L69.76,734.60 L69.38,733.89 L68.99,733.18 L68.60,732.50 L68.22,731.85 L67.82,731.19 L67.41,730.52 L66.99,729.84 L66.55,729.17 L66.10,728.50 L65.61,727.82 L65.07,727.14 L64.52,726.45 L63.99,725.77 L63.51,725.12 L63.10,724.50 L62.76,723.92 L62.46,723.36 L62.20,722.82 L62.00,722.31 L61.86,721.80 L61.80,721.30 L61.83,720.80 L61.96,720.32 L62.14,719.84 L62.37,719.38 L62.60,718.93 L62.80,718.50 L63.01,718.09 L63.25,717.69 L63.50,717.31 L63.73,716.94 L63.90,716.57 L64.00,716.20 L64.01,715.84 L63.96,715.49 L63.85,715.14 L63.71,714.79 L63.56,714.41 L63.40,714.00 L63.22,713.54 L62.99,713.04 L62.74,712.52 L62.50,711.99 L62.31,711.48 L62.20,711.00 L62.15,710.55 L62.14,710.13 L62.17,709.72 L62.25,709.31 L62.39,708.91 L62.60,708.50 L62.88,708.08 L63.24,707.67 L63.66,707.25 L64.11,706.83 L64.60,706.42 L65.10,706.00 L65.65,705.58 L66.27,705.15 L66.91,704.72 L67.54,704.30 L68.12,703.89 L68.60,703.50 L68.98,703.14 L69.29,702.82 L69.54,702.51 L69.75,702.19 L69.93,701.86 L70.10,701.50 L70.25,701.07 L70.36,700.58 L70.44,700.07 L70.51,699.60 L70.56,699.19 L70.60,698.90 Z" fill="#7f7f7f" stroke="#2a2a2a" stroke-width="0.8"/>
<line x1="62.77" y1="709.60" x2="78.43" y2="709.60" stroke="#2a2a2a" stroke-width="0.6" stroke-dasharray="1,0.8"/>
<line x1="64.10" y1="717.50" x2="77.10" y2="717.50" stroke="#2a2a2a" stroke-width="0.6" stroke-dasharray="1,0.8"/>
<line x1="62.46" y1="721.70" x2="78.74" y2="721.70" stroke="#2a2a2a" stroke-width="0.6" stroke-dasharray="1,0.8"/>
<path d="M97.20,726.60 L97.29,726.84 L97.40,727.16 L97.54,727.55 L97.72,727.99 L97.93,728.48 L98.20,729.00 L98.52,729.57 L98.90,730.21 L99.33,730.90 L99.77,731.61 L100.24,732.31 L100.70,733.00 L101.19,733.68 L101.71,734.37 L102.25,735.06 L102.78,735.74 L103.27,736.39 L103.70,737.00 L104.07,737.57 L104.40,738.11 L104.70,738.62 L104.96,739.11 L105.20,739.57 L105.40,740.00 L105.59,740.39 L105.75,740.74 L105.89,741.06 L105.98,741.37 L106.02,741.68 L106.00,742.00 L105.92,742.33 L105.79,742.65 L105.61,742.97 L105.37,743.30 L105.07,743.64 L104.70,744.00 L104.23,744.39 L103.66,744.80 L103.03,745.22 L102.38,745.65 L101.76,746.08 L101.20,746.50 L100.69,746.91 L100.19,747.30 L99.72,747.69 L99.29,748.09 L98.91,748.53 L98.60,749.00 L98.37,749.53 L98.20,750.09 L98.09,750.69 L98.02,751.30 L98.00,751.91 L98.00,752.50 L98.05,753.09 L98.16,753.69 L98.31,754.28 L98.47,754.87 L98.64,755.45 L98.80,756.00 L98.95,756.54 L99.12,757.06 L99.29,757.57 L99.45,758.07 L99.59,758.55 L99.70,759.00 L99.78,759.42 L99.85,759.80 L99.90,760.17 L99.93,760.53 L99.93,760.90 L99.90,761.30 L99.84,761.72 L99.75,762.16 L99.63,762.61 L99.50,763.06 L99.35,763.53 L99.20,764.00 L99.04,764.48 L98.86,764.98 L98.66,765.48 L98.47,765.99 L98.28,766.50 L98.10,767.00 L97.93,767.53 L97.75,768.11 L97.58,768.69 L97.43,769.22 L97.30,769.67 L97.20,770.00 L97.20,770.00 L97.10,769.67 L96.97,769.22 L96.82,768.69 L96.65,768.11 L96.47,767.53 L96.30,767.00 L96.12,766.50 L95.93,765.99 L95.74,765.48 L95.54,764.98 L95.36,764.48 L95.20,764.00 L95.05,763.53 L94.90,763.06 L94.77,762.61 L94.65,762.16 L94.56,761.72 L94.50,761.30 L94.47,760.90 L94.47,760.53 L94.50,760.17 L94.55,759.80 L94.62,759.42 L94.70,759.00 L94.81,758.55 L94.95,758.07 L95.11,757.57 L95.28,757.06 L95.45,756.54 L95.60,756.00 L95.76,755.45 L95.93,754.87 L96.09,754.28 L96.24,753.69 L96.35,753.09 L96.40,752.50 L96.40,751.91 L96.38,751.30 L96.31,750.69 L96.20,750.09 L96.03,749.53 L95.80,749.00 L95.49,748.53 L95.11,748.09 L94.68,747.69 L94.21,747.30 L93.71,746.91 L93.20,746.50 L92.64,746.08 L92.02,745.65 L91.37,745.22 L90.74,744.80 L90.17,744.39 L89.70,744.00 L89.33,743.64 L89.03,743.30 L88.79,742.97 L88.61,742.65 L88.48,742.33 L88.40,742.00 L88.38,741.68 L88.42,741.37 L88.51,741.06 L88.65,740.74 L88.81,740.39 L89.00,740.00 L89.20,739.57 L89.44,739.11 L89.70,738.62 L90.00,738.11 L90.33,737.57 L90.70,737.00 L91.13,736.39 L91.62,735.74 L92.15,735.06 L92.69,734.37 L93.21,733.68 L93.70,733.00 L94.16,732.31 L94.63,731.61 L95.08,730.90 L95.50,730.21 L95.88,729.57 L96.20,729.00 L96.47,728.48 L96.68,727.99 L96.86,727.55 L97.00,727.16 L97.11,726.84 L97.20,726.60 Z" fill="#a68ad8" stroke="#2a2a2a" stroke-width="0.8"/>
<line x1="90.60" y1="738.30" x2="103.80" y2="738.30" stroke="#2a2a2a" stroke-width="0.6" stroke-dasharray="1,0.8"/>
<line x1="89.00" y1="742.00" x2="105.40" y2="742.00" stroke="#2a2a2a" stroke-width="0.6" stroke-dasharray="1,0.8"/>
<line x1="92.62" y1="745.60" x2="101.78" y2="745.60" stroke="#2a2a2a" stroke-width="0.6" stroke-dasharray="1,0.8"/>
<line x1="70.60" y1="689.50" x2="99.30" y2="689.50" stroke="#222" stroke-width="0.8"/>
<text x="84.95" y="686.15" font-size="6.9" text-anchor="middle" font-weight="bold" fill="#141414" stroke="#141414" stroke-width="0.2">p=0.0002</text>
<text x="71.50" y="788.45" font-size="6.9" text-anchor="end" font-weight="bold" fill="#141414" stroke="#141414" stroke-width="0.2" transform="rotate(-45 71.50 786.00)">EV</text>
<text x="98.00" y="788.45" font-size="6.9" text-anchor="end" font-weight="bold" fill="#141414" stroke="#141414" stroke-width="0.2" transform="rotate(-45 98.00 786.00)">OE-circ</text>
<text x="12.80" y="731.03" font-size="7.14" text-anchor="middle" font-weight="bold" fill="#141414" stroke="#141414" stroke-width="0.4" transform="rotate(-90 12.80 728.50)">PGRN concentration</text>
<text x="21.90" y="733.94" font-size="7.16" text-anchor="middle" font-weight="bold" fill="#141414" stroke="#141414" stroke-width="0.4" transform="rotate(-90 21.90 731.40)">in cell culture supernatant(pg/ml)</text>
<line x1="164.50" y1="687.30" x2="164.50" y2="775.20" stroke="#222" stroke-width="1"/>
<line x1="164.70" y1="775.50" x2="236.80" y2="775.50" stroke="#222" stroke-width="1"/>
<line x1="161.20" y1="775.50" x2="164.70" y2="775.50" stroke="#222" stroke-width="0.9"/>
<text x="159.60" y="777.47" font-size="6.4" text-anchor="end" font-weight="bold" fill="#141414" stroke="#141414" stroke-width="0.2">2000</text>
<line x1="161.20" y1="753.50" x2="164.70" y2="753.50" stroke="#222" stroke-width="0.9"/>
<text x="159.60" y="755.55" font-size="6.4" text-anchor="end" font-weight="bold" fill="#141414" stroke="#141414" stroke-width="0.2">2500</text>
<line x1="161.20" y1="731.50" x2="164.70" y2="731.50" stroke="#222" stroke-width="0.9"/>
<text x="159.60" y="733.62" font-size="6.4" text-anchor="end" font-weight="bold" fill="#141414" stroke="#141414" stroke-width="0.2">3000</text>
<line x1="161.20" y1="709.50" x2="164.70" y2="709.50" stroke="#222" stroke-width="0.9"/>
<text x="159.60" y="711.70" font-size="6.4" text-anchor="end" font-weight="bold" fill="#141414" stroke="#141414" stroke-width="0.2">3500</text>
<line x1="161.20" y1="687.50" x2="164.70" y2="687.50" stroke="#222" stroke-width="0.9"/>
<text x="159.60" y="689.77" font-size="6.4" text-anchor="end" font-weight="bold" fill="#141414" stroke="#141414" stroke-width="0.2">4000</text>
<line x1="179.50" y1="775.20" x2="179.50" y2="778.40" stroke="#222" stroke-width="0.9"/>
<line x1="200.50" y1="775.20" x2="200.50" y2="778.40" stroke="#222" stroke-width="0.9"/>
<line x1="222.50" y1="775.20" x2="222.50" y2="778.40" stroke="#222" stroke-width="0.9"/>
<path d="M179.30,756.80 L179.63,756.93 L180.08,757.10 L180.61,757.31 L181.19,757.53 L181.77,757.77 L182.30,758.00 L182.83,758.24 L183.39,758.50 L183.95,758.76 L184.48,759.03 L184.94,759.28 L185.30,759.50 L185.56,759.69 L185.76,759.85 L185.89,760.00 L185.95,760.15 L185.96,760.31 L185.90,760.50 L185.77,760.72 L185.56,760.96 L185.29,761.22 L184.98,761.48 L184.64,761.74 L184.30,762.00 L183.92,762.25 L183.49,762.50 L183.03,762.75 L182.58,763.00 L182.16,763.25 L181.80,763.50 L181.51,763.75 L181.27,764.01 L181.07,764.26 L180.88,764.51 L180.70,764.76 L180.50,765.00 L180.28,765.24 L180.05,765.50 L179.82,765.74 L179.61,765.97 L179.43,766.16 L179.30,766.30 L179.30,766.30 L179.17,766.16 L178.99,765.97 L178.78,765.74 L178.55,765.50 L178.32,765.24 L178.10,765.00 L177.90,764.76 L177.72,764.51 L177.53,764.26 L177.33,764.01 L177.09,763.75 L176.80,763.50 L176.44,763.25 L176.02,763.00 L175.57,762.75 L175.11,762.50 L174.68,762.25 L174.30,762.00 L173.96,761.74 L173.62,761.48 L173.31,761.22 L173.04,760.96 L172.83,760.72 L172.70,760.50 L172.64,760.31 L172.65,760.15 L172.71,760.00 L172.84,759.85 L173.04,759.69 L173.30,759.50 L173.66,759.28 L174.12,759.03 L174.65,758.76 L175.21,758.50 L175.77,758.24 L176.30,758.00 L176.83,757.77 L177.41,757.53 L177.99,757.31 L178.52,757.10 L178.97,756.93 L179.30,756.80 Z" fill="#8c8c8c" stroke="#2a2a2a" stroke-width="0.8"/>
<line x1="173.90" y1="759.50" x2="184.70" y2="759.50" stroke="#2a2a2a" stroke-width="0.6" stroke-dasharray="1,0.8"/>
<line x1="174.22" y1="761.50" x2="184.38" y2="761.50" stroke="#2a2a2a" stroke-width="0.6" stroke-dasharray="1,0.8"/>
<path d="M200.70,720.70 L200.82,720.89 L200.99,721.14 L201.19,721.44 L201.41,721.78 L201.65,722.14 L201.90,722.50 L202.18,722.88 L202.49,723.29 L202.82,723.71 L203.15,724.15 L203.45,724.58 L203.70,725.00 L203.90,725.41 L204.08,725.82 L204.22,726.22 L204.34,726.63 L204.44,727.02 L204.50,727.40 L204.50,727.77 L204.43,728.13 L204.33,728.47 L204.25,728.82 L204.22,729.16 L204.30,729.50 L204.50,729.84 L204.79,730.19 L205.14,730.54 L205.52,730.87 L205.88,731.20 L206.20,731.50 L206.51,731.78 L206.84,732.04 L207.16,732.28 L207.44,732.52 L207.63,732.76 L207.70,733.00 L207.65,733.24 L207.50,733.48 L207.26,733.72 L206.96,733.96 L206.60,734.22 L206.20,734.50 L205.72,734.80 L205.13,735.12 L204.48,735.45 L203.83,735.79 L203.22,736.14 L202.70,736.50 L202.26,736.89 L201.85,737.33 L201.48,737.77 L201.16,738.19 L200.90,738.55 L200.70,738.80 L200.70,738.80 L200.50,738.55 L200.24,738.19 L199.92,737.77 L199.55,737.33 L199.14,736.89 L198.70,736.50 L198.18,736.14 L197.57,735.79 L196.92,735.45 L196.27,735.12 L195.68,734.80 L195.20,734.50 L194.80,734.22 L194.44,733.96 L194.14,733.72 L193.90,733.48 L193.75,733.24 L193.70,733.00 L193.77,732.76 L193.96,732.52 L194.24,732.28 L194.56,732.04 L194.89,731.78 L195.20,731.50 L195.52,731.20 L195.88,730.87 L196.26,730.54 L196.61,730.19 L196.90,729.84 L197.10,729.50 L197.18,729.16 L197.15,728.82 L197.07,728.47 L196.97,728.13 L196.90,727.77 L196.90,727.40 L196.96,727.02 L197.06,726.63 L197.17,726.22 L197.32,725.82 L197.50,725.41 L197.70,725.00 L197.95,724.58 L198.25,724.15 L198.57,723.71 L198.91,723.29 L199.22,722.88 L199.50,722.50 L199.75,722.14 L199.99,721.78 L200.21,721.44 L200.41,721.14 L200.58,720.89 L200.70,720.70 Z" fill="#9a80d2" stroke="#2a2a2a" stroke-width="0.8"/>
<line x1="197.67" y1="728.50" x2="203.73" y2="728.50" stroke="#2a2a2a" stroke-width="0.6" stroke-dasharray="1,0.8"/>
<line x1="194.56" y1="732.50" x2="206.84" y2="732.50" stroke="#2a2a2a" stroke-width="0.6" stroke-dasharray="1,0.8"/>
<path d="M222.90,704.60 L223.02,704.84 L223.17,705.16 L223.36,705.55 L223.57,705.99 L223.82,706.48 L224.10,707.00 L224.42,707.57 L224.80,708.21 L225.20,708.90 L225.61,709.61 L226.02,710.31 L226.40,711.00 L226.76,711.67 L227.12,712.34 L227.47,713.01 L227.81,713.68 L228.12,714.34 L228.40,715.00 L228.67,715.65 L228.93,716.30 L229.18,716.95 L229.37,717.59 L229.48,718.20 L229.50,718.80 L229.40,719.37 L229.20,719.92 L228.93,720.45 L228.60,720.97 L228.25,721.49 L227.90,722.00 L227.52,722.51 L227.08,723.01 L226.61,723.51 L226.16,724.01 L225.74,724.50 L225.40,725.00 L225.12,725.50 L224.88,726.00 L224.68,726.50 L224.52,727.00 L224.43,727.50 L224.40,728.00 L224.47,728.51 L224.65,729.02 L224.89,729.53 L225.14,730.04 L225.36,730.53 L225.50,731.00 L225.58,731.43 L225.62,731.83 L225.64,732.22 L225.62,732.61 L225.58,733.03 L225.50,733.50 L225.38,734.01 L225.23,734.55 L225.04,735.12 L224.84,735.71 L224.62,736.34 L224.40,737.00 L224.16,737.76 L223.87,738.62 L223.58,739.52 L223.30,740.37 L223.07,741.09 L222.90,741.60 L222.90,741.60 L222.73,741.09 L222.50,740.37 L222.22,739.52 L221.93,738.62 L221.64,737.76 L221.40,737.00 L221.18,736.34 L220.96,735.71 L220.76,735.12 L220.57,734.55 L220.42,734.01 L220.30,733.50 L220.22,733.03 L220.18,732.61 L220.16,732.22 L220.18,731.83 L220.22,731.43 L220.30,731.00 L220.44,730.53 L220.66,730.04 L220.91,729.53 L221.15,729.02 L221.33,728.51 L221.40,728.00 L221.37,727.50 L221.28,727.00 L221.12,726.50 L220.92,726.00 L220.68,725.50 L220.40,725.00 L220.06,724.50 L219.64,724.01 L219.19,723.51 L218.72,723.01 L218.28,722.51 L217.90,722.00 L217.55,721.49 L217.20,720.97 L216.88,720.45 L216.60,719.92 L216.40,719.37 L216.30,718.80 L216.32,718.20 L216.43,717.59 L216.62,716.95 L216.87,716.30 L217.13,715.65 L217.40,715.00 L217.68,714.34 L217.99,713.68 L218.33,713.01 L218.68,712.34 L219.04,711.67 L219.40,711.00 L219.78,710.31 L220.19,709.61 L220.60,708.90 L221.00,708.21 L221.38,707.57 L221.70,707.00 L221.98,706.48 L222.23,705.99 L222.44,705.55 L222.63,705.16 L222.78,704.84 L222.90,704.60 Z" fill="#d89ee2" stroke="#2a2a2a" stroke-width="0.8"/>
<line x1="217.73" y1="715.50" x2="228.07" y2="715.50" stroke="#2a2a2a" stroke-width="0.6" stroke-dasharray="1,0.8"/>
<line x1="216.90" y1="718.80" x2="228.90" y2="718.80" stroke="#2a2a2a" stroke-width="0.6" stroke-dasharray="1,0.8"/>
<line x1="218.50" y1="722.00" x2="227.30" y2="722.00" stroke="#2a2a2a" stroke-width="0.6" stroke-dasharray="1,0.8"/>
<line x1="179.30" y1="699.50" x2="222.90" y2="699.50" stroke="#222" stroke-width="0.8"/>
<text x="201.10" y="697.11" font-size="6.8" text-anchor="middle" font-weight="bold" fill="#141414" stroke="#141414" stroke-width="0.2">p&lt;0.0001</text>
<line x1="179.30" y1="713.50" x2="200.70" y2="713.50" stroke="#222" stroke-width="0.8"/>
<text x="190.00" y="711.71" font-size="6.8" text-anchor="middle" font-weight="bold" fill="#141414" stroke="#141414" stroke-width="0.2">p&lt;0.0001</text>
<text x="181.00" y="784.25" font-size="6.9" text-anchor="end" font-weight="bold" fill="#141414" stroke="#141414" stroke-width="0.2" transform="rotate(-45 181.00 781.80)">sh-NC</text>
<text x="202.40" y="784.25" font-size="6.9" text-anchor="end" font-weight="bold" fill="#141414" stroke="#141414" stroke-width="0.2" transform="rotate(-45 202.40 781.80)">sh-circ-1</text>
<text x="224.60" y="784.25" font-size="6.9" text-anchor="end" font-weight="bold" fill="#141414" stroke="#141414" stroke-width="0.2" transform="rotate(-45 224.60 781.80)">sh-circ-2</text>
<text x="129.20" y="735.11" font-size="7.08" text-anchor="middle" font-weight="bold" fill="#141414" stroke="#141414" stroke-width="0.4" transform="rotate(-90 129.20 732.60)">PGRN concentration</text>
<text x="137.00" y="737.04" font-size="7.16" text-anchor="middle" font-weight="bold" fill="#141414" stroke="#141414" stroke-width="0.4" transform="rotate(-90 137.00 734.50)">in cell culture supernatant(pg/ml)</text>
<text x="250.27" y="680.76" font-size="15.9" font-weight="bold" fill="#1f1b1c" stroke="#1f1b1c" stroke-width="0.3">J</text>
<text x="314.40" y="710.42" font-size="8.8" text-anchor="middle" font-weight="bold" fill="#141414" stroke="#141414" stroke-width="0.2">NC</text>
<text x="354.80" y="710.42" font-size="8.8" text-anchor="middle" font-weight="bold" fill="#141414" stroke="#141414" stroke-width="0.2">2%CSE</text>
<rect x="292.40" y="712.70" width="82.20" height="21.10" fill="#e6e6e6" stroke="#3a3a3a" stroke-width="0.9"/>
<rect x="292.40" y="738.60" width="82.20" height="23.80" fill="#ebebeb" stroke="#3a3a3a" stroke-width="0.9"/>
<rect x="301.00" y="719.00" width="28.50" height="10.00" rx="4.00" fill="#b0b0b0" opacity="0.8" filter="url(#bl20)"/>
<rect x="302.10" y="720.55" width="26.20" height="6.50" rx="2.60" fill="#909090" opacity="0.9" filter="url(#bl15)"/>
<rect x="304.00" y="721.50" width="23.00" height="3.00" rx="1.20" fill="#6a6a6a" opacity="0.9" filter="url(#bl12)"/>
<rect x="340.00" y="719.40" width="30.30" height="10.00" rx="4.00" fill="#8a8a8a" opacity="0.8" filter="url(#bl20)"/>
<rect x="341.00" y="720.95" width="28.30" height="6.50" rx="2.60" fill="#606060" opacity="0.9" filter="url(#bl15)"/>
<rect x="343.00" y="721.80" width="25.00" height="3.60" rx="1.44" fill="#2e2e2e" opacity="0.9" filter="url(#bl12)"/>
<rect x="301.40" y="746.80" width="28.20" height="7.60" rx="3.04" fill="#030303" opacity="1" filter="url(#bl11)"/>
<rect x="338.80" y="747.40" width="30.50" height="7.60" rx="3.04" fill="#030303" opacity="1" filter="url(#bl11)"/>
<text x="290.20" y="725.95" font-size="8.3" text-anchor="end" font-weight="bold" fill="#141414" stroke="#141414" stroke-width="0.2">PGRN</text>
<text x="290.40" y="753.05" font-size="8.3" text-anchor="end" font-weight="bold" fill="#141414" stroke="#141414" stroke-width="0.2">GAPDH</text>
<line x1="374.60" y1="730.50" x2="379.40" y2="730.50" stroke="#222" stroke-width="0.9"/>
<text x="380.40" y="733.35" font-size="8.3" text-anchor="start" font-weight="bold" fill="#141414" stroke="#141414" stroke-width="0.2">70KD</text>
<line x1="374.60" y1="755.50" x2="379.40" y2="755.50" stroke="#222" stroke-width="0.9"/>
<text x="380.40" y="758.05" font-size="8.3" text-anchor="start" font-weight="bold" fill="#141414" stroke="#141414" stroke-width="0.2">35KD</text>
<text x="406.55" y="681.26" font-size="15.9" font-weight="bold" fill="#1f1b1c" stroke="#1f1b1c" stroke-width="0.3">K</text>
<text x="497.80" y="695.44" font-size="9.14" text-anchor="middle" font-weight="bold" fill="#141414" stroke="#141414" stroke-width="0.2">non-COPD</text>
<line x1="447.80" y1="699.50" x2="537.30" y2="699.50" stroke="#333" stroke-width="0.8"/>
<text x="605.00" y="695.44" font-size="9.14" text-anchor="middle" font-weight="bold" fill="#141414" stroke="#141414" stroke-width="0.2">COPD</text>
<line x1="557.20" y1="699.50" x2="648.80" y2="699.50" stroke="#333" stroke-width="0.8"/>
<text x="458.20" y="708.35" font-size="7.18" text-anchor="middle" font-weight="bold" fill="#141414" stroke="#141414" stroke-width="0.2">patient-1</text>
<text x="494.80" y="708.35" font-size="7.18" text-anchor="middle" font-weight="bold" fill="#141414" stroke="#141414" stroke-width="0.2">patient-2</text>
<text x="531.00" y="708.35" font-size="7.18" text-anchor="middle" font-weight="bold" fill="#141414" stroke="#141414" stroke-width="0.2">patient-3</text>
<text x="567.20" y="708.35" font-size="7.18" text-anchor="middle" font-weight="bold" fill="#141414" stroke="#141414" stroke-width="0.2">patient-1</text>
<text x="603.80" y="708.35" font-size="7.18" text-anchor="middle" font-weight="bold" fill="#141414" stroke="#141414" stroke-width="0.2">patient-2</text>
<text x="639.20" y="708.35" font-size="7.18" text-anchor="middle" font-weight="bold" fill="#141414" stroke="#141414" stroke-width="0.2">patient-3</text>
<rect x="438.80" y="711.00" width="218.20" height="19.70" fill="#e4e4e4" stroke="#3a3a3a" stroke-width="0.9"/>
<rect x="438.80" y="739.00" width="218.20" height="21.60" fill="#ebebeb" stroke="#3a3a3a" stroke-width="0.9"/>
<rect x="442.30" y="715.05" width="31.00" height="12.50" rx="5.00" fill="#9a9a9a" opacity="0.75" filter="url(#bl20)"/>
<rect x="443.30" y="717.60" width="29.00" height="8.00" rx="3.20" fill="#9a9a9a" opacity="0.9" filter="url(#bl15)"/>
<rect x="444.80" y="719.10" width="26.00" height="4.20" rx="1.68" fill="#707070" opacity="0.9" filter="url(#bl12)"/>
<rect x="478.90" y="715.05" width="31.30" height="12.50" rx="5.00" fill="#9a9a9a" opacity="0.75" filter="url(#bl20)"/>
<rect x="479.90" y="717.60" width="29.30" height="8.00" rx="3.20" fill="#9a9a9a" opacity="0.9" filter="url(#bl15)"/>
<rect x="481.40" y="719.10" width="26.30" height="4.20" rx="1.68" fill="#6c6c6c" opacity="0.9" filter="url(#bl12)"/>
<rect x="515.80" y="715.05" width="30.10" height="12.50" rx="5.00" fill="#a2a2a2" opacity="0.75" filter="url(#bl20)"/>
<rect x="516.80" y="717.60" width="28.10" height="8.00" rx="3.20" fill="#a2a2a2" opacity="0.9" filter="url(#bl15)"/>
<rect x="518.30" y="719.10" width="25.10" height="4.20" rx="1.68" fill="#7a7a7a" opacity="0.9" filter="url(#bl12)"/>
<rect x="551.10" y="715.05" width="31.10" height="12.50" rx="5.00" fill="#444" opacity="0.75" filter="url(#bl20)"/>
<rect x="552.10" y="717.60" width="29.10" height="8.00" rx="3.20" fill="#444" opacity="0.9" filter="url(#bl15)"/>
<rect x="553.60" y="719.10" width="26.10" height="4.20" rx="1.68" fill="#111" opacity="0.9" filter="url(#bl12)"/>
<rect x="587.40" y="715.05" width="30.40" height="12.50" rx="5.00" fill="#505050" opacity="0.75" filter="url(#bl20)"/>
<rect x="588.40" y="717.60" width="28.40" height="8.00" rx="3.20" fill="#505050" opacity="0.9" filter="url(#bl15)"/>
<rect x="589.90" y="719.10" width="25.40" height="4.20" rx="1.68" fill="#222" opacity="0.9" filter="url(#bl12)"/>
<rect x="623.00" y="715.05" width="30.10" height="12.50" rx="5.00" fill="#3a3a3a" opacity="0.75" filter="url(#bl20)"/>
<rect x="624.00" y="717.60" width="28.10" height="8.00" rx="3.20" fill="#3a3a3a" opacity="0.9" filter="url(#bl15)"/>
<rect x="625.50" y="719.10" width="25.10" height="4.20" rx="1.68" fill="#0c0c0c" opacity="0.9" filter="url(#bl12)"/>
<rect x="445.90" y="747.45" width="29.00" height="7.50" rx="3.00" fill="#555" opacity="0.8" filter="url(#bl15)"/>
<rect x="446.90" y="748.70" width="27.00" height="5.00" rx="2.00" fill="#0a0a0a" opacity="1" filter="url(#bl10)"/>
<rect x="483.80" y="747.45" width="28.10" height="7.50" rx="3.00" fill="#555" opacity="0.8" filter="url(#bl15)"/>
<rect x="484.80" y="748.70" width="26.10" height="5.00" rx="2.00" fill="#0a0a0a" opacity="1" filter="url(#bl10)"/>
<rect x="518.50" y="747.45" width="29.70" height="7.50" rx="3.00" fill="#555" opacity="0.8" filter="url(#bl15)"/>
<rect x="519.50" y="748.70" width="27.70" height="5.00" rx="2.00" fill="#0a0a0a" opacity="1" filter="url(#bl10)"/>
<rect x="553.10" y="747.45" width="31.40" height="7.50" rx="3.00" fill="#555" opacity="0.8" filter="url(#bl15)"/>
<rect x="554.10" y="748.70" width="29.40" height="5.00" rx="2.00" fill="#0a0a0a" opacity="1" filter="url(#bl10)"/>
<rect x="589.40" y="747.45" width="28.70" height="7.50" rx="3.00" fill="#555" opacity="0.8" filter="url(#bl15)"/>
<rect x="590.40" y="748.70" width="26.70" height="5.00" rx="2.00" fill="#0a0a0a" opacity="1" filter="url(#bl10)"/>
<rect x="624.70" y="747.45" width="29.10" height="7.50" rx="3.00" fill="#555" opacity="0.8" filter="url(#bl15)"/>
<rect x="625.70" y="748.70" width="27.10" height="5.00" rx="2.00" fill="#0a0a0a" opacity="1" filter="url(#bl10)"/>
<text x="435.40" y="722.74" font-size="8.0" text-anchor="end" font-weight="bold" fill="#141414" stroke="#141414" stroke-width="0.2">PGRN</text>
<text x="435.40" y="754.34" font-size="8.0" text-anchor="end" font-weight="bold" fill="#141414" stroke="#141414" stroke-width="0.2">Actin</text>
<line x1="657.90" y1="727.50" x2="662.70" y2="727.50" stroke="#222" stroke-width="0.9"/>
<text x="663.70" y="730.35" font-size="8.3" text-anchor="start" font-weight="bold" fill="#141414" stroke="#141414" stroke-width="0.2">70KD</text>
<line x1="657.90" y1="755.50" x2="662.70" y2="755.50" stroke="#222" stroke-width="0.9"/>
<text x="663.70" y="758.65" font-size="8.3" text-anchor="start" font-weight="bold" fill="#141414" stroke="#141414" stroke-width="0.2">40KD</text>
<text x="0.40" y="825.66" font-size="15.9" font-weight="bold" fill="#1f1b1c" stroke="#1f1b1c" stroke-width="0.3">L</text>
<text x="137.80" y="812.89" font-size="10.39" text-anchor="middle" font-weight="bold" fill="#141414" stroke="#141414" stroke-width="0.2">non-COPD</text>
<text x="365.00" y="812.69" font-size="10.39" text-anchor="middle" font-weight="bold" fill="#141414" stroke="#141414" stroke-width="0.2">COPD</text>
<text x="25.80" y="883.43" font-size="10.5" text-anchor="middle" font-weight="bold" fill="#141414" stroke="#141414" stroke-width="0.4" transform="rotate(-90 25.80 879.70)">PGRN</text>
<text x="59.50" y="824.11" font-size="7.35" text-anchor="middle" font-weight="bold" fill="#141414" stroke="#141414" stroke-width="0.2">patient-1</text>
<clipPath id="hc0"><rect x="34.4" y="825.9" width="50.2" height="49.8"/></clipPath>
<g clip-path="url(#hc0)"><g transform="translate(34.4 825.9) scale(1.0040 0.9960)">
<rect x="-1" y="-1" width="52" height="52" fill="#f6f4f3"/>
<path d="M7.3 22.7l-1.3 1.2M36.6 21.7l-1.1 0.8M4.0 22.8l2.2 0.3M47.4 16.8l1.1 1.6M10.2 8.9l0.9 0.6M31.3 48.2l1.8 1.4M27.8 45.1l-0.5 0.3M32.4 6.2l1.1 0.0M38.7 28.3l1.7 1.2M45.7 11.9l0.3 1.6M45.1 6.3l-0.4 2.3M30.5 35.9l-1.0 0.9M14.5 29.5l-0.1 1.0M42.7 18.1l0.1 1.9M40.7 44.5l-0.4 0.7M42.4 45.5l-1.2 1.5M25.7 24.7l-0.2 0.6M33.8 43.1l1.6 0.9M35.3 6.1l1.5 0.2M11.0 15.5l-0.6 1.5M37.4 28.4l0.2 0.3M5.7 9.6l-0.1 1.8M10.5 19.5l-1.1 0.2M35.7 30.9l-0.6 1.1M27.3 35.0l1.7 1.0M43.6 2.4l0.7 0.5M4.7 7.0l-0.2 0.5M3.3 47.3l0.4 1.4M23.7 17.2l0.1 0.7M29.0 12.6l0.7 0.3M20.6 46.5l-0.7 2.2M20.0 13.0l-0.4 0.6M49.9 19.5l0.6 0.7M15.2 46.8l-1.5 0.0M11.6 0.5l0.9 0.2M32.1 31.3l-1.8 0.9M17.6 33.7l0.3 1.8M9.2 48.8l1.6 0.1M17.6 40.0l2.0 0.9M0.2 36.8l-0.8 1.1M8.7 19.1l0.1 0.7M8.0 42.1l-0.1 0.9M31.3 31.6l1.4 0.6M29.2 5.6l1.2 1.7M29.0 11.2l0.4 1.2M35.4 43.0l0.4 0.1M22.1 1.0l0.5 0.2M4.4 31.3l1.4 0.4M48.3 7.0l-1.1 1.0M8.5 47.5l-0.7 0.8M44.4 5.2l-1.8 1.0M5.8 45.8l-1.7 1.4M14.1 36.9l-0.8 0.7M1.8 0.7l-0.0 1.5M6.3 31.5l1.3 0.2M25.5 10.2l2.2 0.3M42.6 29.4l1.4 0.1M48.1 38.4l-0.2 0.3M28.9 11.6l-0.3 0.0M11.1 44.0l0.9 0.3M15.3 44.1l-1.3 1.8M9.6 4.4l0.9 1.7M31.0 46.8l-0.3 0.4M15.8 10.2l1.1 1.3M22.2 37.8l2.2 0.1M8.1 37.1l-0.3 0.2M27.1 48.8l1.3 0.0M21.3 19.1l0.6 0.4M13.3 10.9l1.3 1.7M47.5 13.0l0.9 0.1M42.8 8.8l-0.2 0.4M17.6 8.5l-0.4 1.0M38.7 25.9l0.1 0.3M41.9 2.0l0.0 2.4M39.5 17.8l-0.8 0.2M29.1 28.8l-0.6 0.7M19.9 16.2l-1.8 0.5M17.0 38.7l-0.3 0.8M25.0 4.9l0.4 0.3M4.0 30.8l-1.8 1.0M11.0 47.4l0.9 1.5M29.8 23.8l-1.2 1.8M34.8 25.5l-1.7 0.8M18.7 48.9l0.1 0.4M48.2 47.1l-0.2 1.9M34.8 4.9l-1.3 1.0M48.3 24.0l1.2 1.5M27.6 43.6l1.7 0.2M45.5 9.1l1.3 0.4M32.7 31.6l-0.1 1.0M35.5 49.4l-0.0 1.1M48.4 8.9l-0.4 2.0M39.5 37.4l-0.7 1.0M48.3 0.1l0.3 1.2M35.9 14.4l1.0 0.7M31.8 26.4l-1.2 0.5M10.3 32.1l0.1 0.3M20.1 5.5l-0.9 2.0M36.6 47.9l1.9 0.9M38.2 12.0l0.1 0.7M15.5 26.2l0.4 1.0M35.6 33.9l1.4 0.5M38.9 1.6l-0.2 0.2M21.4 19.1l0.5 0.0M33.5 13.4l-0.0 0.6M30.8 46.8l-0.8 0.8M47.9 17.5l0.8 0.9M49.3 19.4l0.9 1.1M31.8 37.9l-1.0 1.4M20.6 21.9l-1.3 0.1" stroke="#8d98d8" stroke-width="1.30" stroke-linecap="round" fill="none" opacity="0.36"/>
<polygon points="0,0 50,0 50,5 40,4 30,7 18,11 8,13 0,13" fill="#ffffff" opacity="1"/>
<polygon points="0,30 10,28 25,32 35,34 50,30 50,40 35,42 20,42 10,40 0,42" fill="#ffffff" opacity="1"/>
<polygon points="0,42 12,44 12,50 0,50" fill="#ffffff" opacity="1"/>
<polyline points="0,15 8,15 16,13 24,10 32,7 40,5 50,6" fill="none" stroke="#a3acdf" stroke-width="2.7775999999999996" stroke-linejoin="round" stroke-linecap="round" opacity="0.25"/>
<path d="M-0.7 13.5l0.8 1.1M1.6 14.8l-0.4 0.7M1.8 14.8l0.4 1.2M2.5 14.1l0.5 0.9M4.7 14.9l-0.4 0.6M4.9 14.2l0.3 0.9M5.7 13.9l0.1 1.2M7.2 14.2l0.1 1.3M7.6 15.2l1.1 0.9M8.4 14.5l0.1 0.5M8.9 13.9l1.1 0.9M10.8 13.9l-0.2 1.4M11.0 13.6l0.7 0.6M12.0 13.8l0.1 0.8M13.6 13.4l0.1 1.4M13.2 12.7l1.0 0.8M15.2 11.7l-0.3 1.1M16.1 12.6l-0.0 1.5M15.8 11.2l0.8 1.4M17.6 12.4l1.4 1.1M18.8 12.2l0.0 0.4M19.7 11.7l0.3 0.5M19.9 10.8l0.3 0.2M20.9 10.4l0.3 0.3M22.0 9.6l-0.1 1.5M22.9 9.3l0.6 1.2M24.1 10.2l-0.1 1.2M24.7 10.1l0.5 1.2M25.6 8.9l-0.3 1.3M26.5 8.6l0.1 0.6M27.8 8.2l-0.1 0.8M28.5 7.6l-0.2 1.5M28.9 6.7l0.5 1.3M29.9 5.8l0.6 1.2M30.5 5.8l0.3 1.1M31.7 6.5l-0.1 0.7M33.4 6.4l-0.1 1.3M33.6 6.1l0.1 0.5M34.5 6.4l-0.1 0.6M35.5 5.7l0.5 0.8M36.1 5.8l-0.2 1.2M37.5 6.5l0.1 0.5M38.7 4.8l-0.1 1.4M39.5 5.7l0.5 0.7M40.8 4.0l-1.0 1.4M40.5 5.6l-0.1 1.3M42.0 4.2l0.2 1.4M42.7 4.2l-0.0 1.0M43.4 5.3l-0.4 1.7M44.0 5.4l0.5 1.1M46.0 4.6l-0.5 0.5M46.0 5.3l0.4 1.1M47.6 5.1l-1.0 1.0M48.3 5.8l-0.7 1.3M49.5 5.9l-0.7 1.6M50.2 5.3l-0.2 0.3" stroke="#5766d6" stroke-width="1.50" stroke-linecap="round" fill="none" opacity="0.8"/>
<path d="M-0.5 14.5l-0.0 0.9M1.7 13.3l-0.7 1.5M2.5 16.2l-0.4 1.1M2.6 14.8l0.1 1.1M3.7 15.2l-0.1 0.6M5.3 13.5l-0.5 1.1M6.7 14.8l-0.5 0.6M6.5 15.0l0.2 0.4M7.6 14.4l0.3 1.1M9.2 14.9l-0.0 0.3M10.2 14.1l-0.1 1.6M10.9 13.1l0.1 1.7M11.8 13.5l0.4 1.3M11.4 13.1l1.2 0.9M13.4 13.6l-0.7 1.4M14.6 13.7l0.1 0.8M15.3 11.5l-0.1 1.4M15.1 10.7l0.2 1.4M16.7 11.5l-0.0 0.4M17.0 11.9l0.7 1.2M18.5 12.6l0.4 0.8M20.0 11.1l-0.2 0.6M20.1 10.0l-0.2 0.7M21.2 10.2l0.8 1.0M22.3 10.6l-0.1 1.4M22.3 10.9l1.3 1.0M24.0 8.6l0.7 1.3M24.8 9.3l-0.2 0.6M25.4 9.0l0.3 0.3M26.7 7.5l0.0 0.5M27.0 8.4l0.5 0.6M28.1 7.7l0.4 0.8M29.1 7.1l1.4 0.9M29.9 6.7l0.2 1.5M30.9 7.3l0.5 0.5M31.9 7.1l0.1 0.5M33.3 6.8l0.1 0.4M33.6 5.0l0.6 1.0M34.6 6.3l0.5 0.4M35.2 4.4l0.9 1.2M37.2 5.7l-0.4 1.5M38.1 5.2l-0.6 1.4M37.8 3.9l0.3 1.4M39.3 4.8l0.5 1.3M39.6 5.2l0.2 0.4M40.3 5.1l0.7 1.3M41.8 4.7l-0.3 0.3M42.7 4.4l-0.3 1.0M43.1 5.4l0.3 0.8M44.2 4.7l0.5 1.7M45.5 5.5l-0.5 0.5M46.7 5.0l0.1 0.6M47.6 5.7l-0.1 0.6M48.3 5.0l0.2 1.5M49.4 5.5l0.2 0.3M50.2 5.3l0.4 0.6" stroke="#2535b8" stroke-width="1.90" stroke-linecap="round" fill="none" opacity="0.95"/>
<path d="M44.6 30.4l0.8 -0.6M28.1 19.9l1.5 -0.3M25.1 20.4l1.2 -0.7M36.3 27.0l0.4 -0.2M23.7 22.0l0.7 -0.3M15.2 20.9l1.5 -1.5M43.8 31.1l0.8 -0.8M2.2 25.8l0.8 -0.6M43.0 31.4l1.5 -0.8M33.7 28.6l1.8 -1.1M9.1 26.0l0.7 -0.5M33.8 16.9l1.7 -0.5M7.0 29.9l1.2 -1.1M1.8 28.4l1.0 -0.4M18.3 24.5l1.3 -1.8M25.1 25.5l0.5 -0.3M34.6 30.5l1.1 -0.2M21.8 31.1l1.5 -0.6M33.6 29.4l0.7 -0.7M16.7 18.9l0.3 -0.2M30.6 20.6l0.5 -0.4M41.0 19.8l1.0 -1.6M1.7 20.5l0.6 -0.1M26.3 27.0l1.1 -0.7M37.9 17.0l0.5 -0.4M48.8 30.0l0.9 -1.0M35.8 24.5l1.6 -0.7M2.6 18.0l0.5 -0.5M5.2 20.7l0.9 -0.7M7.9 24.5l0.7 -0.4M48.7 26.1l1.2 -0.3M37.4 25.7l0.9 -0.2M19.9 30.2l0.7 -0.8M12.9 16.7l0.3 -0.1M26.6 24.4l2.1 -0.6M35.6 23.6l0.7 -0.2M31.6 20.7l0.4 -0.1M29.6 20.1l0.6 -0.1M36.0 16.5l0.7 -0.7M31.6 28.0l0.4 -0.3M16.1 18.0l1.1 -0.3M22.4 27.1l1.1 -0.6M19.7 25.6l0.9 -1.4M13.4 21.4l1.2 -1.8M21.0 16.7l1.8 -0.3M42.4 43.5l1.4 -1.0M32.6 48.0l1.6 -0.3M45.8 49.0l0.5 -0.1M31.0 46.5l1.9 -0.8M31.4 48.9l1.8 -0.0M14.3 47.3l1.5 -0.8M15.2 42.2l1.5 -0.3M35.6 43.0l2.0 -0.4M43.8 46.8l1.8 -0.9M47.4 48.4l0.5 -0.2M27.4 48.3l0.8 -0.6M24.2 48.6l1.2 -0.7M21.5 50.1l1.6 -1.1M26.7 47.8l0.5 0.0M19.3 44.0l1.4 -1.0" stroke="#2535b8" stroke-width="1.80" stroke-linecap="round" fill="none" opacity="0.8"/>
<path d="M14.3 31.2h0M6.4 30.4h0M14.8 36.7h0M18.2 18.1h0M24.1 22.4h0M0.5 28.9h0M30.6 37.7h0M36.3 16.0h0M20.1 25.0h0M42.6 34.5h0" stroke="#a85f28" stroke-width="1.50" stroke-linecap="round" fill="none" opacity="0.8"/>
<line x1="41" y1="47.3" x2="46.5" y2="47.3" stroke="#111" stroke-width="1"/>
</g></g>
<rect x="34.40" y="825.90" width="50.20" height="49.80" fill="none" stroke="#4a4a4a" stroke-width="0.9"/>
<text x="284.40" y="824.11" font-size="7.35" text-anchor="middle" font-weight="bold" fill="#141414" stroke="#141414" stroke-width="0.2">patient-1</text>
<clipPath id="hc10"><rect x="259.3" y="825.9" width="50.2" height="49.8"/></clipPath>
<g clip-path="url(#hc10)"><g transform="translate(259.3 825.9) scale(1.0040 0.9960)">
<rect x="-1" y="-1" width="52" height="52" fill="#f8f3ee"/>
<path d="M46.7 19.4l-0.7 0.4M24.1 13.7l-0.1 0.5M20.8 15.8l2.0 0.3M45.6 7.5l-0.6 1.3M21.3 29.5l-0.4 0.8M18.1 25.4l-2.3 0.0M38.9 22.9l-2.3 0.7M44.2 9.7l0.2 0.7M22.6 42.7l0.0 1.0M8.2 7.0l-2.0 1.2M44.4 0.2l0.4 0.4M23.2 10.1l0.0 1.2M31.6 25.7l-0.0 0.4M47.1 21.4l-0.9 0.4M4.5 49.6l0.0 0.7M48.2 46.4l2.2 0.8M6.6 6.5l1.9 1.0M30.3 27.8l-0.5 0.7M3.1 4.0l1.1 1.0M3.7 2.2l0.3 0.2M2.8 6.8l0.9 0.4M42.5 33.4l0.4 0.0M16.8 23.0l0.2 1.4M36.1 31.8l0.6 0.6M49.7 26.1l-2.2 0.6M40.5 31.3l-0.6 0.7M10.3 19.5l0.6 0.4M5.6 8.8l0.6 0.0M36.8 2.4l-1.1 1.4M8.4 23.9l-0.7 2.2M30.5 6.8l0.7 0.1M6.9 40.8l-0.5 0.2M38.6 45.2l1.0 0.9M11.7 21.2l-0.5 0.5M25.2 31.4l-2.1 0.9M45.2 20.1l1.0 2.0M43.1 40.4l-0.8 2.2M6.6 9.3l-0.6 0.6M31.6 29.1l-0.3 0.8M48.2 28.1l1.0 0.0M26.0 43.3l-0.8 2.2M16.4 2.8l0.4 2.2M27.0 42.5l-1.9 1.1M25.0 1.2l-0.1 0.5M18.8 11.7l0.6 1.2M34.3 47.8l-1.8 0.9M7.8 28.9l0.4 1.1M4.3 22.8l-2.1 0.3M41.4 4.8l-1.0 0.5M17.1 24.9l0.4 0.7M45.1 29.3l0.2 1.4M3.6 4.7l1.0 0.1M43.9 1.9l1.3 1.7M9.9 25.4l-1.8 0.6M19.6 15.1l0.6 0.8M49.3 29.0l0.4 2.2M19.6 11.7l-0.0 0.5M47.0 0.1l0.1 0.3M10.8 43.6l1.7 0.9M32.9 2.5l-0.4 0.0M41.5 47.7l0.3 1.0M19.0 34.5l-0.3 0.6M6.7 7.8l0.5 0.1M24.7 6.6l-0.5 0.8M47.4 3.3l-0.5 1.2M37.2 1.4l1.9 1.2M23.3 17.9l1.5 0.4M48.4 31.1l-1.6 0.2M0.8 30.9l-0.4 2.3M39.7 35.2l1.1 0.5M37.9 27.0l-0.1 0.5M26.6 4.4l1.8 0.1M20.5 10.2l0.0 0.5M31.4 48.3l-1.7 1.3M33.8 47.9l0.1 0.5M9.0 0.5l0.4 0.3M8.2 37.9l0.4 0.9M5.9 38.3l1.5 1.6M5.0 0.6l-1.1 0.7M42.5 35.2l-0.5 0.7M32.6 5.1l-2.0 0.6M31.6 5.8l1.0 0.8M6.4 48.3l-1.3 0.3M12.0 25.4l-1.2 0.0M37.1 22.7l0.9 0.4M21.4 34.2l0.3 0.7M4.3 46.8l-1.1 0.6M37.6 20.6l0.3 0.3M31.4 0.4l-0.6 0.2M46.2 19.7l-0.4 0.6M10.2 38.5l-0.2 1.5M18.0 30.7l-2.3 0.1M43.8 27.3l0.4 2.0M41.2 19.3l-0.0 0.3M31.6 25.5l2.1 0.9M35.7 25.0l-1.3 0.8M25.5 0.9l-0.8 1.1M26.3 29.1l-1.2 1.3M34.0 49.9l0.7 2.2M4.6 42.8l-0.4 1.2M12.9 7.6l0.5 1.2M0.3 35.1l-1.4 0.6M35.2 5.5l0.2 0.3M49.0 47.0l0.1 0.8M31.0 38.2l0.6 0.5M40.3 34.3l0.9 0.4M40.6 30.2l-2.2 0.0M22.0 46.4l1.6 0.2M48.4 9.2l-0.9 0.7M1.8 23.2l-1.0 0.6" stroke="#a09ac0" stroke-width="1.30" stroke-linecap="round" fill="none" opacity="0.36"/>
<path d="M3.5 13.6l-0.1 0.5M5.0 30.0l-0.4 0.0M47.6 42.2l-0.9 0.5M26.3 24.7l0.9 0.5M3.0 31.7l0.8 -0.6M24.6 1.3l0.5 -0.5M30.2 25.7l0.7 -0.2M2.8 20.7l0.9 -0.0M7.0 18.4l-0.6 -0.1M44.0 49.8l0.5 0.5M17.8 41.1l0.2 -0.1M31.6 10.3l-1.0 0.1M41.6 14.9l0.6 -0.5M20.7 25.3l0.2 -0.1M11.8 42.1l0.4 -0.6M46.1 49.7l-0.5 0.4M21.4 22.2l0.9 -0.7M10.8 10.6l-0.6 0.9M7.3 30.0l0.3 0.8M36.6 28.2l0.8 0.4M37.0 0.8l-0.3 -0.7M10.1 44.1l-0.0 0.2M4.4 29.7l-0.4 0.9M24.6 18.0l-0.8 -0.3M36.3 12.0l0.9 0.6M1.5 8.0l-0.2 -0.5M37.1 1.6l-0.7 0.5M36.4 33.7l0.1 0.7M44.5 37.5l0.5 0.7M36.6 41.2l0.6 0.7M42.5 28.3l0.9 -0.1M4.5 16.7l0.8 -0.5M16.1 11.0l-0.6 0.0M19.8 14.4l0.1 -0.1M18.7 0.7l0.6 0.4M11.4 10.4l-0.5 0.9M10.5 19.4l-0.1 -0.5M6.0 22.8l0.0 0.6M21.3 14.8l0.1 0.4M41.7 5.7l0.7 -0.6M26.4 9.6l0.2 -0.2M0.1 0.3l-0.7 -0.0M0.4 37.6l0.1 0.3M1.6 46.6l1.0 0.2M41.0 23.7l-0.6 -0.8M32.3 25.3l0.6 0.1M11.4 45.6l0.4 0.3M10.2 6.3l0.9 0.9M24.7 24.8l-0.0 -0.4M39.7 46.3l-0.0 -0.2M3.9 4.9l-0.2 -0.4M24.7 33.7l1.0 -0.5M35.0 41.2l-0.1 0.5M6.4 6.1l0.7 0.7M16.1 26.6l-0.3 0.8M31.5 19.9l0.3 -0.2M28.7 42.8l-0.9 -0.9M49.4 44.5l0.6 0.8M46.5 10.0l0.9 0.8M9.2 48.7l0.0 -0.1" stroke="#d0a070" stroke-width="1.20" stroke-linecap="round" fill="none" opacity="0.38"/>
<polygon points="0,20 6,20 14,14 19,8 20,0 23,0 21,12 22,24 27,34 34,44 37,50 0,50" fill="#ffffff" opacity="1"/>
<polygon points="8,0 19,0 17,5 10,4" fill="#ffffff" opacity="1"/>
<polyline points="22,0 20,12 22,24 27,34 34,44 38,50" fill="none" stroke="#c8894c" stroke-width="3" stroke-linejoin="round" stroke-linecap="round" opacity="0.44000000000000006" filter="url(#bl10)"/>
<polyline points="0,12 8,15 16,10" fill="none" stroke="#c8894c" stroke-width="3" stroke-linejoin="round" stroke-linecap="round" opacity="0.385" filter="url(#bl10)"/>
<polyline points="24,0 22,12 24,24 29,34 36,44 40,50" fill="none" stroke="#b8acc4" stroke-width="5.207999999999999" stroke-linejoin="round" stroke-linecap="round" opacity="0.25"/>
<path d="M25.7 0.6l-1.1 -1.2M24.2 0.7l-1.0 -0.6M24.1 1.0l-1.7 0.5M22.9 2.1l-0.4 -0.0M25.1 4.0l-0.5 -0.4M24.1 4.3l-1.1 -0.9M22.3 4.2l-0.9 0.0M24.5 6.0l-1.2 0.1M22.1 6.2l-1.1 0.5M22.7 7.0l-0.6 0.1M23.9 8.2l-0.6 -0.0M21.6 8.4l-1.1 0.4M24.6 10.0l-0.8 -0.5M19.9 10.6l-1.4 -0.5M23.7 11.5l-1.4 0.2M23.5 12.1l-0.8 0.1M22.8 12.2l-0.4 0.0M22.4 13.7l-1.5 -0.2M22.9 15.0l-0.8 -0.5M24.4 14.5l-0.9 0.1M23.0 15.4l-0.3 0.2M23.3 16.8l-1.2 -0.2M23.2 17.6l-1.6 -0.8M23.3 18.6l-0.9 0.1M23.0 19.1l-0.8 0.8M23.7 20.1l-0.9 0.5M22.9 20.9l-1.3 -0.1M25.0 21.0l-0.7 0.6M26.6 21.4l-1.0 1.0M24.0 22.8l-1.0 0.5M26.2 23.5l-1.6 -0.3M24.0 24.7l-0.9 1.3M26.3 24.5l-1.2 1.1M27.3 25.0l-0.6 0.5M25.8 26.7l-0.9 1.4M26.3 27.6l-0.3 0.2M23.6 30.0l-0.5 -0.1M27.7 29.3l-1.2 -0.0M28.6 29.2l-0.9 0.9M27.7 30.6l-1.3 0.5M27.8 31.5l-0.5 0.1M27.3 32.9l-1.4 -0.1M27.4 33.0l-0.7 0.8M29.2 34.4l-1.8 0.3M30.1 34.1l-1.0 -0.0M29.6 35.5l-0.5 0.7M32.4 34.7l-1.0 1.3M31.3 35.9l-0.6 1.0M31.5 36.7l-0.6 0.8M31.8 37.5l-0.2 0.7M33.7 37.9l-0.8 0.6M33.9 38.5l-1.2 0.1M33.1 40.0l-1.1 0.4M33.4 41.0l-1.1 0.8M35.8 40.4l-1.0 1.1M34.3 42.6l-1.5 0.1M35.0 42.1l-0.7 1.0M37.0 42.7l-0.2 0.5M36.7 43.3l-1.2 0.3M35.6 45.9l-1.4 0.2M38.5 44.8l-0.6 0.2M38.5 46.2l-0.3 0.2M40.6 45.1l-0.4 0.2M38.5 47.5l-1.0 0.9M39.2 48.4l-0.6 1.2M41.1 49.0l-1.6 0.7M39.6 50.0l0.3 0.4" stroke="#7078bc" stroke-width="1.50" stroke-linecap="round" fill="none" opacity="0.8"/>
<path d="M25.9 0.1l-1.0 -0.3M25.0 1.2l-1.4 -0.2M23.1 1.0l-1.4 -0.2M26.8 2.9l-0.5 -0.4M24.0 2.9l-0.6 -0.1M22.8 4.0l-1.6 -0.6M21.9 4.9l-1.0 -0.7M23.0 5.5l-0.3 0.0M23.8 6.4l-1.4 0.4M22.5 7.4l-0.3 -0.2M25.6 8.6l-0.8 -0.4M24.9 8.3l-1.4 0.6M23.6 10.0l-1.2 -0.1M21.4 10.5l-1.2 -0.6M24.7 11.8l-0.9 -0.7M23.8 12.4l-1.3 -0.5M22.9 12.9l-0.2 0.2M20.7 14.1l-0.3 0.1M22.8 14.8l-1.0 0.2M23.6 14.8l-1.0 1.1M24.9 15.5l-1.4 0.4M22.9 16.3l-0.9 0.6M25.2 17.2l-0.6 0.5M23.6 18.2l-1.4 0.9M24.0 19.1l-1.1 -0.4M25.3 18.6l-1.0 1.2M22.2 21.1l-1.5 -0.1M25.0 20.6l-1.2 1.3M25.3 21.9l-0.4 -0.1M25.8 23.0l-0.6 -0.2M25.1 24.0l-0.7 0.0M25.9 24.1l-1.5 -0.1M24.3 25.4l-0.8 0.7M27.6 25.5l-1.1 -0.1M25.9 26.3l-1.4 0.9M26.8 27.3l-0.7 -0.2M28.6 27.7l-0.8 0.0M29.0 28.6l-1.0 -0.0M27.6 29.8l-1.1 1.1M27.7 30.6l-1.2 1.1M29.6 30.5l-0.5 0.6M27.3 32.5l-0.6 1.0M29.9 32.7l-0.6 0.2M30.1 33.5l-1.1 0.9M29.6 34.6l-0.5 0.4M30.5 34.8l-0.3 0.2M30.1 36.0l-1.0 0.1M31.4 36.1l-0.6 1.2M32.5 36.0l-0.4 0.5M31.6 37.7l-0.8 0.2M32.6 38.4l-0.2 0.4M32.1 39.3l-0.2 0.7M32.6 39.6l-1.2 1.3M34.7 39.9l-0.4 0.2M36.2 40.9l-1.8 -0.0M33.1 42.6l-0.3 0.3M37.6 40.8l-0.8 0.7M35.7 43.2l-0.9 1.1M37.3 43.9l-1.5 0.2M35.5 45.0l-0.9 0.1M37.0 45.7l-1.2 0.2M38.9 45.4l-1.3 0.6M37.9 47.6l-0.5 0.5M38.8 47.6l-0.9 0.3M38.8 49.4l-1.4 0.2M39.8 49.2l-1.4 0.7M40.0 51.1l0.3 0.9" stroke="#4150b0" stroke-width="1.90" stroke-linecap="round" fill="none" opacity="0.95"/>
<path d="M24.0 -0.0l0.8 0.8M22.3 -0.3l0.8 -0.2M25.2 1.0l0.7 -0.1M24.2 0.9l0.1 -0.4M21.7 1.3l0.0 0.4M26.7 2.1l0.3 0.6M26.2 2.8l-0.9 0.8M23.9 2.4l0.1 -0.6M22.8 3.1l0.5 -0.2M23.5 3.2l-0.4 -0.6M25.9 4.4l-0.1 0.1M24.5 4.2l0.6 0.6M25.7 5.2l0.4 0.4M25.5 5.2l-0.7 0.0M21.6 5.4l-0.7 0.3M23.8 5.7l0.1 -0.6M24.2 6.6l0.1 -0.4M22.5 6.3l-0.9 -0.5M21.2 6.9l0.3 0.6M21.9 7.1l0.7 -0.5M23.7 8.2l0.7 0.1M20.9 7.7l-0.4 -0.8M20.1 8.4l0.8 -0.0M25.5 9.3l0.8 -0.2M20.9 9.3l-0.4 0.0M25.1 10.1l-0.6 -0.3M22.8 10.5l0.4 0.3M19.6 9.9l0.9 0.6M25.2 11.7l0.6 -0.3M23.3 11.4l-0.5 -0.2M20.5 12.3l0.4 0.1M21.9 12.0l-0.7 0.4M21.0 13.0l0.2 -0.3M24.1 12.5l-0.3 -0.6M26.1 13.0l0.3 0.8M23.4 13.4l-0.5 -0.3M24.9 14.0l0.9 -0.5M25.1 13.9l0.5 -0.4M23.5 15.0l-0.3 -0.4M23.3 15.1l-0.6 0.6M19.6 16.5l-0.7 0.8M22.9 16.0l0.7 0.2M21.1 17.1l-0.6 -0.8M23.8 16.6l0.2 -0.8M21.8 17.8l0.8 0.7M26.3 17.0l-0.7 0.6M20.9 18.8l-0.6 0.2M20.9 18.8l0.1 -0.8M21.8 19.4l-0.5 0.4M23.8 19.1l-0.5 0.4M26.0 19.6l0.1 -0.6M26.1 19.5l-0.4 -0.4M26.2 20.3l-0.5 -0.2M22.4 21.0l-0.8 0.2M21.7 21.9l-0.2 0.2M23.7 21.6l-0.7 0.3M26.3 22.0l0.3 -0.0M22.5 22.6l-0.2 -0.4M25.2 23.0l0.4 -0.5M23.3 23.3l0.4 0.6M24.8 23.6l-0.1 -0.3M23.7 24.1l0.3 0.8M25.2 24.4l-0.4 0.3M24.6 24.6l-0.6 0.1M24.6 25.6l0.6 0.4M24.8 25.5l0.1 -0.5M26.1 25.8l-0.4 -0.5M26.0 25.9l0.0 0.8M25.1 27.3l-0.0 0.8M26.6 26.5l-0.6 -0.4M23.5 29.0l-0.7 0.3M24.9 28.3l-0.7 -0.6M24.1 29.7l0.4 0.8M28.2 27.7l-0.0 -0.4M28.4 28.5l-0.2 -0.0M28.6 28.4l-0.9 -0.1M26.6 30.4l-0.2 0.9M26.2 30.6l-0.2 0.2M24.8 32.2l0.4 -0.1M26.5 31.4l-0.7 0.6M28.4 31.4l-0.0 -0.8M29.2 31.0l0.5 0.5M30.6 31.3l-0.5 -0.7M25.9 33.6l0.4 0.4M28.3 33.4l0.8 0.5M28.8 33.1l0.4 -0.1M26.8 35.5l-0.6 -0.4M27.4 35.1l-0.2 0.5M31.8 33.0l0.3 0.0M29.7 34.5l-0.2 0.7M31.0 34.6l0.6 -0.3M30.0 35.3l-0.6 0.5M31.2 35.5l-0.8 -0.2M26.1 39.0l-0.8 -0.8M29.5 37.7l0.6 -0.8M30.3 37.1l0.5 -0.8M31.1 37.5l0.6 0.8M32.3 36.6l-0.8 0.2M30.3 39.1l0.2 -0.8M31.1 38.5l-0.2 0.6M35.9 36.1l-0.4 0.8M34.0 37.5l-0.3 0.7M33.3 38.9l0.4 -0.8M34.4 38.2l0.1 -0.0M32.5 40.5l0.2 0.1M32.0 40.8l0.9 -0.3M35.7 39.2l0.2 0.1M35.5 39.4l0.4 0.3M38.0 38.6l-0.7 -0.7M36.3 39.9l0.4 -0.8M32.0 43.9l-0.8 0.0M34.9 41.8l0.4 0.1M36.8 41.4l0.4 -0.9M33.0 44.1l0.5 -0.5M36.0 43.0l-0.3 -0.8M37.1 42.2l-0.7 -0.5M33.8 45.5l-0.0 0.2M39.5 41.7l0.6 0.4M35.0 45.8l0.8 0.0M34.8 45.9l-0.8 0.8M37.9 44.9l-0.1 -0.5M40.4 43.2l0.6 0.7M36.9 46.6l-0.1 -0.7M38.9 45.3l0.4 -0.7M37.5 47.4l-0.8 -0.9M37.4 47.4l-0.4 -0.3M36.6 49.0l0.6 0.3M40.1 46.7l-0.1 -0.9M41.2 47.0l0.2 0.2M40.2 47.7l0.2 0.3M40.8 48.4l-0.2 0.1M38.3 50.0l-0.1 -0.7M40.0 49.7l-0.2 -0.4M40.0 51.8l-0.3 -0.7" stroke="#b56a2c" stroke-width="1.30" stroke-linecap="round" fill="none" opacity="0.7"/>
<polyline points="0,8 6,12 14,10 18,6" fill="none" stroke="#b8acc4" stroke-width="4.34" stroke-linejoin="round" stroke-linecap="round" opacity="0.25"/>
<path d="M-0.0 8.2l-0.3 0.4M1.7 8.3l-0.8 0.6M2.1 8.0l-0.8 0.6M3.0 9.7l-0.2 0.6M3.6 11.1l-0.3 0.4M4.3 10.8l0.0 0.6M4.6 12.2l-0.3 0.4M5.3 10.8l0.8 1.6M7.1 11.2l-0.4 1.1M7.3 10.3l0.6 0.9M9.1 9.3l-0.1 0.7M10.6 12.5l-0.4 1.7M10.9 9.2l0.1 0.5M12.6 11.5l-0.0 1.2M12.5 10.0l0.6 1.0M15.1 10.6l0.7 1.0M14.5 8.9l0.4 0.3M16.9 9.5l0.1 0.5M14.0 5.8l1.4 0.6M17.4 6.8l1.0 0.6M18.4 3.8l-0.2 1.7" stroke="#7078bc" stroke-width="1.50" stroke-linecap="round" fill="none" opacity="0.8"/>
<path d="M0.8 7.6l-0.9 0.6M0.6 9.4l-0.7 1.4M1.1 9.3l-0.4 0.6M2.3 9.2l-0.8 1.4M4.3 8.8l-0.1 0.3M4.3 10.3l-0.0 1.6M6.2 10.6l-0.4 0.4M5.5 11.3l0.2 0.5M6.3 11.5l0.9 1.3M7.9 10.3l-0.0 0.7M9.4 11.5l-0.1 0.9M9.5 9.4l0.1 0.6M11.5 11.1l-0.3 1.0M12.0 9.5l0.3 1.5M13.5 10.1l-0.1 1.0M14.0 9.3l0.4 1.5M14.0 8.2l0.3 0.6M14.8 8.2l0.7 0.6M15.8 7.8l0.9 0.2M18.1 7.9l0.2 0.3M18.6 6.5l-1.0 1.3" stroke="#4150b0" stroke-width="1.90" stroke-linecap="round" fill="none" opacity="0.95"/>
<path d="M0.2 7.6l0.2 -0.3M1.9 5.1l-0.6 -0.2M1.6 7.5l0.6 -0.4M-0.5 10.6l0.2 0.1M1.3 9.8l0.4 0.5M2.5 7.9l-0.6 0.3M1.7 11.1l0.6 0.8M2.6 9.7l-0.7 0.8M1.0 14.0l0.5 -0.7M3.7 9.8l0.9 -0.2M4.0 11.3l-0.3 -0.4M4.7 10.2l0.8 0.4M7.9 7.3l0.1 -0.2M5.7 10.6l0.5 -0.8M6.2 12.7l0.0 -0.7M5.8 11.3l-0.3 0.5M7.9 15.4l0.0 0.4M7.3 12.9l-0.1 0.3M7.9 11.1l-0.8 -0.9M7.8 10.7l-0.2 -0.9M8.6 9.7l-0.7 0.8M9.3 12.4l-0.3 -0.8M9.7 10.0l0.1 0.7M9.8 10.1l-0.8 0.3M11.4 12.5l0.2 0.6M10.1 7.1l0.9 0.1M11.5 8.7l0.3 0.4M12.1 11.1l0.2 -0.5M12.8 9.5l-0.2 -0.5M13.1 10.8l-0.2 0.2M14.5 10.5l-0.0 0.6M14.8 10.8l-0.2 0.5M15.2 9.6l-0.4 0.3M14.9 9.3l0.1 -0.9M15.8 8.6l-0.3 -0.6M16.7 9.5l0.9 0.4M17.7 8.9l0.1 -0.6M19.1 10.3l0.4 -0.9M16.6 6.2l-0.9 0.5M17.5 7.1l0.5 -0.5M18.0 5.6l-0.4 -0.9M18.0 8.2l-0.4 -0.5" stroke="#b56a2c" stroke-width="1.30" stroke-linecap="round" fill="none" opacity="0.7"/>
<polyline points="14,44 22,48 26,50" fill="none" stroke="#b8acc4" stroke-width="2.6039999999999996" stroke-linejoin="round" stroke-linecap="round" opacity="0.25"/>
<path d="M14.9 42.3l-0.9 0.8M15.1 44.9l-0.1 0.7M16.5 44.7l-0.0 0.6M17.9 46.6l-0.6 0.5M19.5 47.1l-1.3 0.7M21.4 47.2l-0.6 0.3M22.1 46.8l-0.2 0.5M23.8 48.7l-1.0 1.2M24.4 49.2l0.1 0.9M25.9 48.4l-0.2 0.6" stroke="#7078bc" stroke-width="1.50" stroke-linecap="round" fill="none" opacity="0.8"/>
<path d="M14.4 43.7l-1.4 0.8M15.4 44.0l-0.2 0.6M17.0 45.0l-0.9 0.6M18.0 46.1l-1.0 1.1M19.4 46.1l-0.6 0.3M20.9 47.9l-1.4 0.9M22.5 46.7l0.0 1.1M24.2 46.9l-0.3 1.6M24.6 49.2l-0.4 0.5M25.5 50.0l0.3 0.5" stroke="#4150b0" stroke-width="1.90" stroke-linecap="round" fill="none" opacity="0.95"/>
<path d="M13.9 44.3l-0.3 -0.8M14.2 43.6l-0.5 -0.7M15.5 44.3l-0.2 -0.3M15.0 45.4l-0.8 -0.0M15.9 47.0l0.5 -0.7M16.4 46.0l0.6 0.8M18.2 45.5l-0.6 -0.6M17.9 46.2l-0.7 0.4M19.5 46.4l-0.4 -0.6M19.5 46.2l-0.3 0.2M20.8 47.1l-0.6 0.8M21.0 46.7l-0.9 -0.0M21.9 48.3l0.4 -0.2M21.8 48.5l-0.5 0.7M22.8 49.8l0.6 0.3M23.3 48.7l-0.5 -0.6M25.3 48.2l-0.9 -0.1M25.6 47.4l0.6 0.8M26.0 50.8l-0.2 0.7M26.0 48.8l0.2 -0.6" stroke="#b56a2c" stroke-width="1.30" stroke-linecap="round" fill="none" opacity="0.7"/>
<path d="M34.9 23.4l0.3 0.3M43.4 28.0l0.2 1.8M35.8 6.5l0.3 0.2M45.1 21.1l0.5 1.7M39.9 14.6l1.1 0.6M36.0 21.4l-0.3 0.5M34.0 5.4l0.8 1.2M43.2 34.2l-0.8 1.1M28.1 26.3l1.5 0.2M46.6 28.6l1.8 0.7M42.4 32.1l-1.5 0.8M35.6 3.5l-1.0 1.3M40.1 14.6l0.9 1.8M38.2 19.4l0.1 0.7M30.5 10.2l1.0 1.2M32.3 33.4l-1.3 1.0M44.0 22.3l-1.1 0.4M36.0 17.4l-0.7 0.8M36.6 23.8l-0.4 0.1M34.3 2.3l0.1 1.9M32.0 19.8l-0.1 0.9M40.3 18.9l1.3 0.2" stroke="#4150b0" stroke-width="1.80" stroke-linecap="round" fill="none" opacity="0.8"/>
<path d="M32.3 10.5h0M32.4 20.1h0M28.6 13.8h0M38.6 23.4h0M37.2 11.0h0M31.5 26.9h0M40.7 14.7h0M26.4 6.4h0M31.5 2.0h0M33.2 12.4h0M39.5 1.1h0M32.8 18.9h0M38.4 18.7h0M28.5 28.3h0M35.5 10.2h0M28.6 19.0h0M31.5 2.2h0M31.5 18.3h0M38.6 17.1h0M32.3 19.0h0M39.5 19.2h0M39.7 17.6h0" stroke="#a85f28" stroke-width="1.50" stroke-linecap="round" fill="none" opacity="0.8"/>
<circle cx="30.00" cy="4.00" r="1.20" fill="#1a1a40" opacity="0.8"/>
<circle cx="33.00" cy="7.00" r="1.00" fill="#1a1a40" opacity="0.8"/>
<line x1="41" y1="47.3" x2="46.5" y2="47.3" stroke="#111" stroke-width="1"/>
</g></g>
<rect x="259.30" y="825.90" width="50.20" height="49.80" fill="none" stroke="#4a4a4a" stroke-width="0.9"/>
<text x="113.50" y="824.11" font-size="7.35" text-anchor="middle" font-weight="bold" fill="#141414" stroke="#141414" stroke-width="0.2">patient-2</text>
<clipPath id="hc1"><rect x="88.4" y="825.9" width="50.2" height="49.8"/></clipPath>
<g clip-path="url(#hc1)"><g transform="translate(88.4 825.9) scale(1.0040 0.9960)">
<rect x="-1" y="-1" width="52" height="52" fill="#f6f4f3"/>
<path d="M29.1 9.7l-2.2 0.2M23.4 33.2l0.6 0.5M14.4 34.6l1.8 1.4M3.5 9.7l1.8 0.5M18.3 23.6l0.9 1.4M20.2 10.4l0.2 0.9M5.5 41.2l-0.9 1.4M44.1 19.7l0.4 1.1M20.2 33.4l1.3 0.0M26.8 17.3l1.8 0.1M0.5 28.2l0.3 0.2M9.0 3.3l1.5 0.8M36.4 18.1l-0.6 1.2M24.9 43.8l1.2 1.8M34.6 34.2l0.5 0.0M1.6 17.3l-2.1 0.4M41.9 5.9l-1.2 1.5M40.5 39.6l0.6 0.3M39.6 36.9l-1.2 0.4M44.5 7.0l-2.1 0.3M16.9 3.4l-0.3 1.7M17.5 2.9l1.3 1.6M4.5 46.9l0.5 0.5M5.6 49.1l-0.9 0.3M4.8 32.7l-0.3 0.1M31.7 42.8l0.2 1.5M40.2 11.9l1.1 1.3M27.6 26.8l1.1 2.0M14.4 33.9l-1.1 0.4M2.7 11.0l0.6 0.1M6.0 17.1l0.5 1.1M33.3 33.8l-0.6 0.9M33.1 27.5l1.3 0.6M15.9 33.8l-0.5 0.6M21.8 22.7l0.2 0.3M2.5 49.6l-0.8 0.9M33.3 13.4l-1.4 1.8M38.7 23.3l-2.2 0.1M2.9 20.6l0.1 0.9M30.8 7.2l-1.5 1.5M3.1 34.6l1.1 1.2M34.6 48.8l-0.8 0.6M36.5 7.3l-0.7 0.9M13.3 11.9l1.5 1.2M4.8 11.6l0.5 0.4M36.5 29.4l-1.1 1.9M22.4 1.9l1.1 0.8M35.8 45.9l-0.0 0.8M29.6 46.7l1.1 2.0M45.2 28.8l0.0 0.6M5.5 2.0l-0.6 1.7M49.7 30.1l-1.1 0.0M6.7 3.0l0.9 1.1M49.3 14.9l1.3 1.2M19.4 27.9l1.9 1.0M46.0 37.8l-1.0 0.2M1.6 15.2l-1.2 0.4M10.0 7.6l1.1 0.6M46.3 44.2l-1.4 1.3M9.5 38.9l1.1 0.9M1.7 44.6l1.4 0.6M33.1 32.2l-0.6 0.9M39.6 46.9l-0.8 2.2M42.5 2.8l-0.3 0.4M33.1 18.6l-0.4 0.2M47.3 2.2l0.3 0.1M6.3 49.3l-1.9 1.1M9.3 34.4l-1.5 1.1M13.5 48.5l-1.1 1.3M14.2 19.9l-1.0 1.0M24.4 46.0l0.5 2.0M2.3 26.5l-0.2 0.3M34.8 14.3l-0.6 1.5M6.8 47.2l0.4 0.4M22.1 3.2l1.8 0.6M4.9 27.1l-1.2 0.4M40.7 41.5l0.4 0.2M39.2 43.3l-1.6 0.8M25.5 47.9l-1.3 1.4M45.6 2.7l-1.0 1.1M0.6 12.8l-0.9 1.1M28.1 14.4l-0.4 2.1M49.0 27.6l-0.3 0.4M7.0 28.0l-0.5 0.3M7.4 25.0l0.3 0.5M7.9 21.2l-0.5 0.4M40.3 3.7l1.2 1.2M0.4 16.1l0.7 0.4M44.3 8.0l-1.4 1.7M12.3 43.1l1.0 1.6M29.0 17.5l-1.6 0.6M16.0 28.7l0.5 0.7M46.9 48.8l2.0 1.1M35.7 0.6l1.1 0.4M44.4 43.7l0.9 0.9M46.3 10.5l1.1 0.4M34.0 43.6l-0.3 0.1M8.8 6.4l-0.3 1.1M46.1 30.8l-0.6 1.6M10.2 44.7l-1.8 0.9M39.1 8.6l1.1 0.2M35.8 10.0l-1.9 0.8M34.8 24.2l1.8 0.9M8.6 24.8l-1.2 1.1M11.8 44.0l0.6 1.0M21.9 35.1l1.6 0.2M24.4 40.0l0.6 1.4M48.4 2.9l-1.0 0.8M15.0 13.7l1.6 1.3M10.1 48.1l-0.0 0.9" stroke="#8d98d8" stroke-width="1.30" stroke-linecap="round" fill="none" opacity="0.36"/>
<polygon points="0,0 18,0 19,10 22,20 27,30 33,40 38,50 28,50 22,44 12,38 0,32" fill="#ffffff" opacity="1"/>
<polyline points="20,-1 21,10 24,20 29,30 35,40 40,50" fill="none" stroke="#a3acdf" stroke-width="3.472" stroke-linejoin="round" stroke-linecap="round" opacity="0.25"/>
<path d="M21.1 -1.3l-0.7 0.2M21.9 -0.9l-1.5 0.4M19.7 0.2l-0.5 0.4M21.5 1.6l-1.3 0.3M19.5 1.8l-0.7 0.7M20.9 3.6l-1.6 0.2M21.6 4.2l-0.7 -0.1M21.9 4.6l-1.4 -0.2M21.8 5.8l-1.1 -0.4M22.8 6.9l-1.2 -0.5M20.8 7.2l-1.3 1.1M22.2 8.4l-1.3 -0.1M21.3 8.8l-0.3 0.1M23.0 9.3l-1.7 -0.4M23.3 10.1l-1.3 -0.0M21.2 11.4l-1.1 0.4M22.4 12.5l-0.6 -0.1M22.8 12.7l-0.8 0.5M22.4 14.1l-1.3 0.2M23.9 14.6l-1.3 -0.4M23.2 15.5l-1.1 0.1M24.6 15.8l-1.3 0.3M22.9 17.8l-0.6 0.8M23.8 18.6l-1.2 -0.3M23.3 19.8l-1.5 0.4M24.0 20.4l-0.5 0.0M25.7 20.7l-0.9 0.4M27.1 20.2l-1.5 0.5M27.3 21.8l-0.3 0.2M25.2 23.0l-0.8 0.7M26.9 22.7l-0.7 0.4M26.5 24.8l-1.0 -0.1M27.9 25.4l-1.2 0.6M28.3 25.9l-1.6 0.8M28.8 26.1l-0.6 0.8M26.8 27.9l-0.6 0.3M29.9 27.0l-1.2 0.9M29.7 28.3l-1.0 1.1M30.2 29.9l-0.9 0.5M30.5 29.6l-0.4 0.3M28.8 31.9l-0.5 0.9M30.8 32.1l-1.0 0.1M31.9 31.7l-0.5 1.1M31.6 33.5l-1.4 -0.2M32.9 33.0l-0.7 1.3M31.8 35.1l-1.5 0.1M32.8 35.7l-0.5 0.6M33.3 36.1l-0.5 -0.0M33.1 37.4l-1.5 0.5M33.4 38.1l-0.4 0.1M34.8 38.0l-1.1 1.0M34.6 39.6l-1.2 0.6M35.0 40.2l-0.5 0.7M34.6 40.7l-0.4 0.8M35.1 42.0l-1.4 -0.2M37.3 42.2l-1.6 0.0M36.6 42.5l-0.5 0.7M38.0 43.0l-0.5 0.1M38.0 44.6l-1.3 0.6M38.2 45.5l-1.3 0.3M37.8 46.2l-0.5 0.8M38.8 46.5l-0.3 0.3M38.8 47.0l-0.9 0.6M40.6 48.4l-0.6 -0.0M40.0 49.5l-1.6 -0.3M39.9 50.3l0.2 0.9" stroke="#5766d6" stroke-width="1.50" stroke-linecap="round" fill="none" opacity="0.8"/>
<path d="M20.3 -1.3l-0.3 -0.1M21.5 -0.2l-0.6 -0.2M19.9 1.3l-0.4 -0.2M20.6 1.3l-0.6 0.5M21.5 2.1l-1.5 0.0M19.9 3.1l-1.3 0.5M21.1 4.2l-1.2 0.8M19.7 5.5l-0.4 -0.1M19.1 5.3l-0.7 0.6M21.0 6.6l-1.1 0.2M21.1 6.8l-0.8 0.6M21.0 7.9l-1.0 0.3M22.3 9.7l-1.4 -0.6M21.9 10.3l-1.6 -0.2M21.5 11.0l-0.3 0.2M21.0 12.2l-0.8 -0.1M21.4 12.6l-1.3 0.5M22.1 13.4l-0.5 0.1M23.2 14.6l-0.5 -0.2M24.1 15.3l-0.7 -0.1M22.5 15.9l-0.5 -0.2M23.0 17.1l-0.3 0.4M22.9 16.9l-0.6 0.4M24.7 18.1l-1.0 0.7M24.8 19.3l-0.7 0.0M24.2 20.2l-1.4 1.1M23.7 20.8l-1.1 0.1M24.5 21.5l-0.2 0.3M25.2 22.4l-0.7 0.6M26.6 22.2l-0.4 0.4M26.4 23.8l-0.5 -0.1M27.4 23.9l-1.7 0.5M27.3 25.4l-1.4 0.7M26.1 26.1l-0.5 0.1M26.9 26.7l-0.3 0.6M29.5 27.3l-1.6 0.4M30.0 26.9l-0.6 1.1M29.7 29.2l-0.3 0.6M29.3 30.3l-1.0 0.4M29.4 30.2l-0.4 0.7M30.1 31.4l-0.9 0.2M30.3 31.9l-1.5 0.9M31.6 31.7l-0.7 1.1M31.1 34.2l-0.5 0.0M31.9 34.7l-0.4 -0.0M33.3 34.3l-1.4 0.3M33.6 35.6l-1.7 0.6M30.4 38.0l-1.2 0.3M32.4 37.3l-1.2 0.6M35.8 36.9l-1.1 0.9M34.6 37.9l-0.5 0.6M35.7 38.6l-0.8 0.3M36.1 39.8l-1.6 0.9M36.2 40.4l-0.5 -0.0M36.1 41.6l-1.3 -0.1M36.9 42.6l-1.5 -0.0M36.6 42.8l-0.8 0.0M38.0 43.9l-1.7 -0.3M37.6 44.8l-1.3 0.7M39.0 45.5l-1.3 0.1M39.0 46.1l-0.7 0.6M37.8 47.7l-1.2 0.5M40.0 47.5l-1.5 0.2M40.4 48.1l-1.2 0.6M40.0 49.1l-0.8 0.9M39.6 49.5l0.2 0.9" stroke="#2535b8" stroke-width="1.90" stroke-linecap="round" fill="none" opacity="0.95"/>
<polyline points="0,34 8,39 16,43 24,47 28,50" fill="none" stroke="#a3acdf" stroke-width="3.038" stroke-linejoin="round" stroke-linecap="round" opacity="0.25"/>
<path d="M-0.2 34.6l-0.3 1.0M1.6 34.8l-0.5 0.2M1.7 35.9l-0.3 0.5M2.7 37.0l-0.8 0.8M3.5 36.8l-0.6 0.3M4.6 37.5l-0.3 0.2M6.8 36.8l-1.4 1.0M7.3 38.1l-0.5 0.4M8.9 37.1l-0.4 1.4M10.2 39.4l-1.5 0.7M9.4 39.3l0.1 1.4M11.0 41.5l-0.1 0.6M11.7 41.0l-0.0 0.8M13.1 42.5l-0.6 0.3M14.1 41.1l0.1 0.9M15.2 42.4l-0.6 1.3M16.8 42.6l-0.7 0.7M16.9 43.5l-0.1 0.9M17.6 43.9l-0.4 1.7M19.6 43.5l-0.2 1.2M20.0 44.9l-0.9 0.8M20.7 44.9l0.1 1.7M22.1 45.7l0.1 1.1M23.0 46.3l-0.1 0.7M24.5 47.2l-0.4 0.5M24.6 48.1l-0.2 0.8M26.4 48.5l-1.2 1.0M27.1 49.6l-0.8 0.5M27.9 49.9l-0.7 1.3" stroke="#5766d6" stroke-width="1.50" stroke-linecap="round" fill="none" opacity="0.8"/>
<path d="M0.3 33.1l-0.8 1.3M1.4 34.7l-0.4 0.1M2.1 33.9l0.2 1.7M3.2 35.7l-0.7 0.5M5.3 34.8l-0.4 0.6M5.6 36.2l-0.2 1.4M5.9 37.9l-0.8 0.3M7.2 38.1l-0.2 0.8M7.8 38.3l-0.2 1.6M8.7 40.4l-0.8 0.4M10.0 38.9l-0.1 0.5M12.4 38.3l-0.8 0.9M12.1 40.3l-0.2 1.1M13.2 41.6l-0.2 0.2M14.8 41.6l-0.9 0.6M14.4 42.4l0.2 0.7M15.8 43.7l-1.3 0.9M17.1 43.8l-0.8 0.3M17.6 44.2l-0.2 0.5M18.9 44.1l-0.0 1.5M19.9 44.7l-0.1 1.0M22.4 44.9l-1.2 0.8M22.3 45.5l-0.5 0.5M22.9 46.0l-0.5 0.8M25.0 44.7l-0.3 1.0M26.4 46.6l-1.0 0.9M26.1 48.0l-0.4 0.9M27.0 49.0l-0.3 0.3M27.4 50.8l0.3 0.7" stroke="#2535b8" stroke-width="1.90" stroke-linecap="round" fill="none" opacity="0.95"/>
<path d="M36.3 41.0l0.7 0.9M35.7 17.3l-0.1 1.2M43.0 37.7l0.4 1.0M39.2 7.6l0.4 0.1M43.5 7.6l1.6 0.6M41.2 21.6l1.8 0.8M31.9 6.0l-0.5 0.5M49.1 43.8l0.3 1.7M29.6 33.5l0.3 0.6M43.4 46.0l-0.3 1.8M35.7 17.2l-1.0 1.3M26.6 10.0l-0.7 1.1M29.7 17.8l-0.5 0.1M26.3 2.0l-0.4 2.1M48.9 28.0l0.5 0.2M47.5 37.9l-0.8 1.9M39.1 36.5l0.1 0.3M46.8 22.9l1.8 0.3M29.8 12.9l-1.4 0.8M48.2 42.9l0.5 0.9M30.3 39.7l-1.0 0.5M45.6 49.3l-0.6 1.1M41.9 26.7l0.5 1.1M45.4 13.3l2.0 0.6M29.4 8.7l1.3 1.7M39.9 40.6l-1.2 1.4M26.8 4.3l-0.8 1.6M44.4 18.2l0.8 1.9M44.9 16.8l-0.3 0.4M43.9 14.0l1.3 0.6M38.2 28.7l1.4 1.3M42.1 1.2l-0.8 0.1M28.1 33.1l-0.1 0.5M31.4 18.7l-0.6 0.3M30.9 0.8l0.2 0.4" stroke="#2535b8" stroke-width="1.80" stroke-linecap="round" fill="none" opacity="0.8"/>
<path d="M12.8 40.2h0M6.1 38.5h0M15.5 44.7h0M25.6 34.2h0M25.0 39.7h0M4.3 37.9h0M6.9 47.4h0M0.3 35.8h0M15.1 35.9h0M24.1 33.7h0M48.5 36.6h0M47.2 29.8h0M31.1 42.6h0M37.7 32.7h0M45.0 15.2h0M34.8 22.7h0" stroke="#a85f28" stroke-width="1.50" stroke-linecap="round" fill="none" opacity="0.8"/>
<line x1="41" y1="47.3" x2="46.5" y2="47.3" stroke="#111" stroke-width="1"/>
</g></g>
<rect x="88.40" y="825.90" width="50.20" height="49.80" fill="none" stroke="#4a4a4a" stroke-width="0.9"/>
<text x="338.00" y="824.11" font-size="7.35" text-anchor="middle" font-weight="bold" fill="#141414" stroke="#141414" stroke-width="0.2">patient-2</text>
<clipPath id="hc11"><rect x="312.9" y="825.9" width="50.2" height="49.8"/></clipPath>
<g clip-path="url(#hc11)"><g transform="translate(312.9 825.9) scale(1.0040 0.9960)">
<rect x="-1" y="-1" width="52" height="52" fill="#f8f3ee"/>
<path d="M41.4 10.6l-1.3 0.2M19.9 30.9l0.6 0.4M21.1 11.5l-0.6 1.0M19.2 13.9l1.4 1.2M45.1 17.5l-0.8 0.6M38.0 11.9l-0.2 1.1M43.5 38.1l0.5 0.2M23.0 10.8l1.7 1.6M47.0 0.9l1.6 0.1M47.4 44.4l-1.1 1.5M24.1 24.5l-0.5 0.2M34.1 36.0l1.7 0.9M8.4 48.4l-0.9 0.8M29.2 48.7l0.3 0.7M34.5 45.2l1.7 0.9M19.4 34.4l0.2 2.3M28.8 48.3l-0.6 0.1M46.9 37.9l1.4 0.7M13.6 2.4l1.0 0.2M43.7 3.6l-0.6 2.1M18.2 35.9l-0.5 1.8M24.1 49.1l0.2 0.7M6.1 12.9l2.1 0.8M6.7 42.0l-1.0 0.8M2.5 10.1l-1.1 0.2M39.1 6.2l1.0 0.2M17.5 10.3l-0.6 1.4M28.0 15.8l0.2 0.8M27.6 19.4l-1.1 2.1M16.2 29.6l2.0 0.6M26.6 29.7l-0.1 0.5M43.9 0.6l1.1 0.8M46.2 35.0l-1.0 0.3M27.6 30.0l0.4 0.3M17.0 4.4l0.7 0.0M43.0 30.7l-1.1 1.1M24.1 44.4l0.4 0.7M14.5 3.7l0.9 0.0M31.7 9.8l0.1 0.9M37.6 11.9l0.3 1.8M36.0 44.8l1.3 0.1M9.6 44.5l1.4 1.4M25.8 38.4l-1.7 1.3M44.4 20.2l-1.2 1.9M39.9 22.1l-1.7 1.0M22.2 22.1l0.4 2.2M11.5 47.8l0.8 0.3M36.9 35.4l0.5 0.8M28.3 37.9l0.5 1.2M21.5 41.5l-1.5 0.5M12.6 21.2l0.4 1.6M15.8 30.4l-0.1 1.4M48.4 20.8l0.2 0.2M0.5 34.4l-1.6 0.6M10.4 1.6l0.1 0.4M3.7 31.6l1.2 0.6M42.3 24.4l0.5 1.3M45.9 9.1l-0.5 0.6M30.7 1.8l0.7 0.1M35.6 11.8l-0.6 0.7M42.5 44.8l-0.5 0.5M3.2 22.8l0.2 0.3M36.4 41.4l-2.0 1.0M28.7 25.6l-1.1 0.0M38.2 14.4l-1.6 0.3M49.9 42.5l-0.5 1.3M8.2 10.0l1.5 0.4M10.7 0.9l-0.5 1.6M4.2 12.2l-1.7 0.6M39.3 12.7l1.7 0.3M28.7 29.3l1.6 0.3M42.0 24.3l-0.0 0.6M18.9 10.7l2.3 0.5M13.9 6.1l-0.2 0.7M40.8 10.5l0.4 0.8M2.1 40.4l-0.5 1.5M47.8 6.0l-0.8 0.5M44.2 48.4l0.6 2.0M19.8 5.1l0.4 1.6M25.6 23.7l1.5 0.5M35.6 31.0l1.4 1.2M39.3 16.3l0.7 1.0M29.2 47.7l-0.2 0.2M14.1 29.4l-1.6 0.4M42.0 9.1l0.7 0.7M5.2 35.9l-0.7 1.6M35.1 34.5l1.4 0.1M27.2 11.5l1.5 1.4M4.0 0.9l-2.0 0.8M20.3 19.2l-1.3 0.9M21.7 18.4l-0.5 1.2M13.0 50.0l-0.1 1.0M35.4 9.7l1.0 0.9M1.7 21.0l1.8 0.5M29.2 42.2l0.5 0.3M29.6 30.2l0.2 0.3M24.5 49.2l-0.4 0.4M33.4 38.1l0.3 0.4M38.2 1.3l-0.1 0.4M43.5 15.0l-0.4 1.7M29.4 34.1l0.4 0.2M36.2 2.1l1.3 0.5M38.3 5.1l0.2 0.3M39.3 8.4l0.2 1.0M3.2 46.7l0.3 0.1M31.9 2.2l0.6 0.8M17.4 45.6l-1.5 0.5M27.7 31.5l-1.0 0.3M19.8 35.9l0.3 1.0M35.2 29.5l0.9 0.4" stroke="#a09ac0" stroke-width="1.30" stroke-linecap="round" fill="none" opacity="0.36"/>
<path d="M8.9 25.0l0.8 0.2M28.4 2.8l-0.3 0.8M32.2 42.7l-0.6 -0.9M3.1 13.7l-0.3 -0.1M15.7 41.7l0.3 0.3M2.2 49.6l0.0 -0.3M35.8 46.3l-0.4 0.1M32.1 15.0l-0.7 -0.7M10.3 48.9l0.4 -0.3M49.1 15.5l0.6 0.1M4.0 45.2l-1.0 0.8M18.6 31.5l-1.0 -0.3M43.5 45.3l0.5 0.2M28.1 5.0l0.1 0.6M44.5 3.7l0.3 -0.9M6.3 35.1l-0.4 -0.1M47.3 40.3l0.7 0.5M41.9 18.5l-0.1 -0.5M47.6 36.2l-1.0 -0.5M33.0 1.6l0.6 -0.9M37.1 14.5l0.1 -0.6M19.3 28.0l-0.1 0.6M23.6 31.4l0.4 0.2M39.8 0.2l-1.0 0.6M28.3 24.0l0.7 0.7M10.9 25.9l-0.3 -0.3M10.3 23.7l-0.0 0.2M30.4 37.6l-0.7 -0.8M8.3 49.0l0.4 0.4M38.3 6.2l1.0 0.4M5.8 6.1l0.9 0.3M25.1 16.1l-0.1 0.2M38.9 20.9l0.9 0.5M1.5 39.7l0.1 -0.0M9.6 6.8l-0.5 -0.8M22.5 47.5l0.6 -0.5M29.4 3.7l0.1 -0.2M14.1 3.2l0.7 -0.3M46.2 37.5l-0.6 0.1M35.3 22.9l0.1 -0.4M48.0 6.8l-0.1 -0.8M33.3 38.2l-0.9 0.7M48.3 11.6l-0.5 -1.0M17.8 31.0l-0.6 -0.9M36.2 11.4l1.0 0.5M18.9 40.3l-0.2 0.3M14.6 22.9l0.3 0.5M23.6 41.6l-0.3 0.8M37.0 48.0l0.8 0.7M40.4 17.4l0.8 -1.0M44.4 16.4l-0.8 0.5M1.7 30.7l0.8 1.0M14.4 13.1l-0.9 -0.1M41.3 11.4l-0.7 0.9M7.6 17.9l0.9 -0.7M15.5 34.0l-0.8 0.6M39.7 11.8l-0.4 0.6M48.3 48.5l-0.4 -0.7M25.6 17.4l0.4 0.4M32.8 17.1l0.3 -1.0" stroke="#d0a070" stroke-width="1.20" stroke-linecap="round" fill="none" opacity="0.38"/>
<polygon points="12,20 20,14 32,12 40,18 40,24 30,22 20,24 14,28" fill="#ffffff" opacity="1"/>
<polygon points="18,38 28,36 30,46 20,48" fill="#ffffff" opacity="1"/>
<polyline points="10,22 18,14 30,12 40,16 42,26" fill="none" stroke="#c8894c" stroke-width="3" stroke-linejoin="round" stroke-linecap="round" opacity="0.44000000000000006" filter="url(#bl10)"/>
<polyline points="4,30 12,34" fill="none" stroke="#c8894c" stroke-width="3" stroke-linejoin="round" stroke-linecap="round" opacity="0.33" filter="url(#bl10)"/>
<polyline points="2,24 8,14 18,6 30,4 40,8 46,18 46,28" fill="none" stroke="#b8acc4" stroke-width="6.944" stroke-linejoin="round" stroke-linecap="round" opacity="0.25"/>
<path d="M4.1 25.0l1.2 0.2M1.2 22.9l0.4 0.3M2.2 21.8l0.9 1.2M0.5 20.8l0.9 0.7M3.9 21.7l0.6 1.1M0.8 18.9l1.1 0.8M4.6 19.7l0.4 0.9M4.6 18.9l1.1 -0.1M6.3 19.5l1.3 0.3M7.7 19.1l0.8 0.4M5.2 16.6l1.6 0.8M6.6 16.5l0.2 0.3M6.9 16.2l1.0 0.1M6.7 15.1l0.4 0.4M6.7 14.6l0.8 0.4M7.4 13.5l0.6 0.2M8.7 12.8l0.6 0.9M8.8 13.1l1.0 1.0M9.6 11.5l0.7 1.0M11.9 13.0l-0.0 1.8M11.2 12.8l1.4 1.0M12.5 12.3l0.2 0.5M12.4 11.1l0.7 0.9M12.2 9.3l-0.0 0.7M15.3 12.5l0.6 0.4M15.0 10.7l0.4 0.3M16.2 10.6l0.2 0.7M16.6 10.5l0.3 0.7M13.6 6.2l1.2 0.5M16.6 7.5l0.1 0.8M15.3 5.8l1.4 0.6M16.5 4.6l0.5 1.3M17.2 3.9l0.2 0.4M18.0 2.6l0.7 1.0M19.1 7.0l0.7 0.7M20.9 4.5l-0.5 1.2M21.1 5.7l0.0 0.4M22.2 7.4l0.1 1.3M22.6 4.5l0.7 1.3M23.5 4.4l0.1 1.5M24.0 6.5l0.2 1.7M25.3 6.4l0.3 1.6M25.1 3.8l0.0 0.3M25.9 4.5l-0.0 0.7M27.8 6.6l-0.0 0.5M27.3 1.8l0.4 1.6M28.2 3.3l-0.1 0.4M28.9 1.7l0.0 1.2M30.3 3.4l-0.2 0.3M31.0 3.6l-0.0 0.4M30.9 5.9l0.0 1.7M31.9 5.2l-0.1 0.4M33.8 3.4l-0.3 0.8M33.9 6.1l-0.1 0.3M33.3 6.6l-0.2 1.0M35.9 4.3l-0.6 1.5M35.4 7.2l-0.2 0.2M36.5 4.9l0.0 0.5M38.1 6.1l-0.5 0.9M37.9 7.9l-1.0 1.1M40.4 4.4l-0.6 1.2M40.3 6.4l-0.5 1.0M40.2 7.7l-0.3 0.9M40.9 8.0l-0.6 0.2M40.3 10.0l-0.9 0.2M40.8 9.7l-1.2 0.8M40.5 11.5l-0.6 0.1M41.7 11.2l-0.6 0.6M39.2 13.6l-0.4 0.0M41.3 13.8l-1.2 0.1M46.5 11.1l-1.1 0.5M44.9 12.9l-0.8 0.1M42.5 15.2l-0.6 0.4M46.6 15.0l-1.5 -0.2M47.9 13.5l-0.9 1.5M46.2 15.7l-0.3 0.6M47.9 16.0l-1.6 0.4M48.6 17.7l-0.7 -0.0M46.9 18.8l-0.6 0.4M46.8 19.8l-0.7 0.1M49.3 19.9l-1.5 0.1M47.5 21.1l-1.0 -0.1M47.6 21.6l-1.6 0.4M47.1 22.4l-1.6 0.3M45.7 23.3l-1.0 -0.8M45.6 24.1l-1.7 0.5M47.6 24.9l-1.5 -0.3M46.7 25.3l-0.7 -0.2M47.4 26.1l-1.3 0.6M48.1 27.2l-1.2 0.1M46.6 29.0l-0.7 1.4" stroke="#7078bc" stroke-width="1.50" stroke-linecap="round" fill="none" opacity="0.8"/>
<path d="M-0.3 22.8l0.9 -0.1M3.3 23.7l0.5 0.6M1.9 22.6l1.3 0.8M0.4 20.0l0.8 0.3M2.3 20.3l0.6 0.8M1.1 19.0l1.0 1.2M2.7 18.9l0.7 0.1M5.6 20.0l0.5 -0.1M4.4 18.2l0.7 0.0M6.7 18.2l0.6 0.1M3.5 15.4l1.2 0.7M4.3 15.0l0.4 0.8M5.5 15.3l0.2 0.5M7.6 15.2l0.6 1.3M9.6 15.8l0.4 0.1M7.1 14.1l1.5 0.8M9.7 14.4l0.3 0.9M7.5 10.2l0.0 1.1M9.9 13.1l0.8 1.6M8.8 10.8l1.1 0.8M9.8 10.0l0.1 0.7M10.8 10.6l0.6 0.2M12.7 11.8l0.1 0.4M12.7 10.4l0.9 0.4M11.6 7.4l1.0 0.5M13.5 8.0l0.4 0.9M15.1 10.9l0.5 0.2M14.6 7.0l0.1 1.3M13.9 5.8l0.7 1.1M16.1 7.5l0.9 0.7M15.6 5.3l0.4 1.3M15.0 2.8l0.4 0.3M18.0 4.7l0.6 0.9M18.9 6.1l0.4 1.5M19.3 2.9l-0.1 1.7M20.1 4.4l0.2 0.3M21.3 4.5l-0.1 0.9M21.5 3.2l-0.2 0.3M22.4 4.1l0.7 0.6M23.7 5.9l-0.2 0.9M23.8 3.9l0.2 0.8M25.0 6.0l-0.1 1.5M26.1 3.8l-0.3 1.4M26.6 5.9l0.1 0.6M26.9 1.4l0.3 1.3M28.3 7.4l0.1 0.3M27.7 -0.3l0.0 1.7M29.2 3.9l0.7 1.0M30.1 3.1l0.3 1.2M30.2 5.9l0.1 1.0M33.4 1.3l-1.0 0.6M32.3 3.9l0.0 1.8M32.9 4.2l0.2 0.8M33.5 5.3l-1.0 1.2M34.7 3.8l-0.2 1.8M35.7 4.1l-0.0 1.2M36.2 4.3l-0.3 0.4M36.8 5.9l-0.9 0.9M37.7 6.0l-0.1 0.3M38.0 5.1l0.1 1.4M39.6 6.4l-0.4 0.7M38.6 10.0l-0.5 0.8M41.3 7.5l-0.9 0.4M39.8 8.8l-0.3 0.1M40.5 9.4l-1.0 0.8M42.1 9.0l-0.9 1.0M41.5 10.9l-1.2 0.4M43.2 10.6l-1.0 0.6M40.7 12.9l-0.5 0.0M42.7 12.7l-0.2 0.4M44.3 12.8l-0.8 0.2M47.6 11.0l-0.8 1.1M46.2 13.2l-0.4 0.9M43.0 14.9l-0.6 1.5M47.0 14.2l-1.1 1.2M45.7 16.6l-1.5 0.7M45.9 17.0l-1.3 0.5M44.8 17.8l-1.2 0.1M46.8 18.9l-1.4 -0.2M47.8 20.0l-0.5 -0.1M46.0 20.0l-0.7 -0.0M44.8 21.1l-1.2 -0.2M47.7 21.3l-0.9 0.3M46.0 22.8l-0.4 -0.2M47.3 23.0l-0.4 0.1M49.6 23.4l-1.5 0.6M47.2 24.5l-1.0 -0.0M45.4 26.0l-1.4 -0.7M46.6 26.5l-1.5 -0.4M47.7 26.7l-0.5 0.1M45.9 27.0l-0.2 1.4" stroke="#4150b0" stroke-width="1.90" stroke-linecap="round" fill="none" opacity="0.95"/>
<path d="M3.1 24.7l-0.8 0.4M7.1 27.1l-0.7 0.9M4.4 24.5l-0.7 0.3M0.8 22.4l0.4 0.6M1.3 21.8l-0.5 0.6M3.0 22.8l-0.3 0.3M1.7 21.1l0.1 0.7M0.7 20.5l0.5 0.0M7.5 23.7l0.2 -0.0M7.5 23.7l-0.1 -0.5M4.6 21.0l-0.8 -0.5M4.2 20.8l-0.5 -0.0M4.2 19.9l-0.6 0.1M6.9 21.5l-0.4 -0.5M6.8 20.5l-0.9 0.8M5.5 19.8l0.0 0.5M5.1 18.6l0.8 -0.8M4.8 18.4l0.6 -0.8M1.1 15.3l0.4 -0.6M7.1 18.9l-0.0 -0.5M2.7 15.4l-0.4 0.5M5.1 16.8l-0.6 -0.5M7.6 17.4l-0.7 -0.1M8.1 17.7l-0.3 -0.1M11.2 18.7l0.4 -0.7M6.9 16.1l-0.4 -0.0M9.1 16.5l0.8 -0.3M9.1 16.5l0.4 0.6M8.1 15.0l0.3 -0.6M2.6 11.7l-0.5 -0.5M7.4 13.2l-0.3 -0.3M9.7 16.1l0.3 0.2M6.9 11.4l-0.7 0.5M9.2 14.2l0.9 0.6M8.6 12.3l0.9 0.8M8.0 11.6l-0.4 0.1M9.6 12.3l-0.0 0.9M7.8 10.2l0.4 0.6M10.3 12.0l0.6 0.6M11.0 13.0l-0.8 -0.6M9.4 9.7l-0.9 -0.1M9.3 9.7l0.1 0.6M11.8 11.5l-0.4 0.0M14.3 14.7l-0.2 0.2M9.3 7.2l0.3 -0.8M10.9 9.2l-0.9 -0.3M11.0 8.2l0.3 -0.1M12.7 10.2l-0.1 -0.0M10.2 6.0l0.5 -0.5M9.9 5.6l-0.1 -0.6M14.4 10.0l0.5 -0.0M13.3 8.6l-0.5 0.8M12.5 6.3l-0.7 0.2M16.7 11.6l-0.8 -0.7M16.6 10.3l0.8 0.3M14.7 7.9l-0.3 0.6M11.5 2.7l-0.1 -0.9M16.8 9.4l-0.2 -0.5M17.9 9.5l0.3 0.4M16.4 7.6l-0.5 0.3M18.2 8.7l0.4 -0.4M16.9 7.1l0.1 -0.0M19.4 9.0l-0.2 0.4M17.0 5.9l-0.7 -0.4M18.2 7.1l-0.2 0.1M17.7 4.2l0.1 0.2M18.7 5.3l0.6 0.9M18.5 4.2l0.2 -0.1M19.6 6.5l0.4 0.2M19.3 4.4l-0.8 0.4M19.7 2.2l0.8 -0.9M19.6 2.0l-0.0 0.4M21.1 5.8l0.7 -0.5M20.8 4.4l0.2 -0.8M21.7 5.0l0.7 0.4M22.3 8.7l0.4 0.3M22.6 6.0l0.6 0.8M22.0 2.3l-0.6 0.6M23.6 7.4l-0.0 -0.3M22.8 2.4l-0.3 -0.4M24.5 7.9l0.1 -0.7M24.0 5.0l0.6 0.2M24.9 6.0l0.8 -0.8M24.5 3.5l0.5 -0.6M25.3 3.8l-0.7 -0.9M25.4 4.3l0.0 0.5M26.4 5.6l-0.3 0.8M26.5 6.0l0.8 -0.6M26.3 0.6l-0.7 -0.1M26.4 1.2l-0.1 -0.6M27.6 3.6l-0.2 0.4M27.5 2.6l0.8 -0.1M28.3 2.9l0.3 0.5M27.7 -0.8l0.6 0.3M29.6 6.2l-0.5 -0.6M29.5 5.7l0.4 -0.3M31.1 1.3l0.9 0.4M30.5 2.7l0.8 -0.1M32.1 0.8l-0.7 -0.6M30.2 5.6l0.0 -0.4M30.6 6.7l-0.0 -0.3M31.2 5.1l-0.8 0.0M32.3 4.4l0.2 0.5M32.9 3.0l0.5 -0.8M32.9 5.0l0.1 -0.4M31.5 8.6l-0.3 0.5M33.9 4.6l-0.7 0.1M34.4 3.5l0.7 0.1M33.7 7.2l-0.8 0.1M33.1 8.6l-0.7 -0.0M35.1 5.7l-0.8 -0.6M34.2 7.9l0.8 0.1M35.4 7.1l0.5 0.9M35.6 6.5l-0.6 -0.5M34.6 11.1l-0.3 -0.7M35.8 8.2l-0.4 -0.2M37.0 7.2l-0.5 0.2M37.5 6.0l0.3 -0.1M38.6 5.4l-0.2 0.1M38.7 5.1l-0.2 0.2M38.8 6.9l0.5 0.5M38.8 6.8l0.9 0.5M37.6 11.9l-0.5 0.5M39.0 8.3l0.4 -0.2M37.5 9.5l-0.7 0.3M39.8 8.1l0.1 -0.5M38.5 9.8l0.0 -0.6M39.2 9.4l0.8 0.5M40.3 9.7l0.2 -0.2M36.6 11.8l-0.0 -0.2M40.2 10.6l0.3 0.4M36.5 12.8l0.6 -0.2M41.8 10.6l0.4 -0.1M40.2 11.5l-0.8 0.7M45.0 9.5l0.3 0.2M44.8 9.6l0.3 -0.7M40.4 13.2l-0.7 0.7M41.7 12.4l0.4 -0.3M43.1 12.5l0.4 -0.3M41.2 13.6l-0.9 -0.8M42.7 13.6l0.6 -0.2M37.7 16.6l0.4 -0.2M42.3 14.8l-0.8 0.9M44.9 13.2l0.9 0.4M41.9 15.9l0.8 -0.7M41.8 16.0l0.9 0.3M42.4 16.5l-0.6 0.2M43.9 15.6l0.5 0.1M45.1 15.8l-0.5 0.2M46.0 15.3l0.6 -0.7M43.8 17.5l0.7 0.6M46.0 16.2l0.1 0.4M50.8 14.2l0.3 0.8M44.7 17.9l-0.1 0.8M43.3 18.0l-0.4 0.3M46.4 18.0l0.4 -0.8M45.2 18.8l-0.5 -0.7M44.7 18.8l0.9 -0.1M44.5 19.5l0.9 0.2M45.2 19.5l-0.1 0.2M48.3 20.3l0.7 0.7M42.1 20.3l-0.6 0.3M45.2 21.1l0.7 -0.6M49.2 21.1l-0.1 0.8M46.6 21.8l0.7 0.7M48.7 21.8l-0.8 -0.7M49.1 22.6l0.0 0.7M43.8 22.6l-0.9 0.1M44.0 23.4l0.8 -0.3M42.2 23.4l-0.2 0.4M41.2 24.2l-0.5 0.4M49.4 24.2l0.8 0.4M47.1 24.9l0.1 -0.1M45.2 24.9l-0.2 0.5M45.9 25.7l0.4 0.2M44.0 25.7l0.2 -0.2M47.3 26.5l0.8 -0.2M47.3 26.5l0.3 -0.4M47.7 27.2l-0.5 0.5M44.7 27.2l-0.6 0.1M46.0 27.2l0.8 -0.7M46.0 22.5l0.0 -0.8" stroke="#b56a2c" stroke-width="1.30" stroke-linecap="round" fill="none" opacity="0.7"/>
<polyline points="0,30 8,34 16,34 24,30" fill="none" stroke="#b8acc4" stroke-width="3.472" stroke-linejoin="round" stroke-linecap="round" opacity="0.25"/>
<path d="M0.9 27.6l0.1 1.2M2.4 28.7l-0.7 1.0M2.9 30.3l-0.3 0.6M2.6 32.3l-0.3 0.4M4.4 30.9l-0.6 0.7M4.2 33.9l-0.3 1.2M6.1 33.1l-0.7 0.8M7.0 33.9l0.1 0.6M8.1 34.0l0.2 0.4M9.2 33.2l-0.5 0.8M10.5 34.5l0.3 0.4M10.8 33.7l0.2 0.5M13.1 32.5l-0.3 1.6M14.5 32.3l-0.8 1.0M15.5 32.5l-0.4 1.3M15.5 34.1l0.4 0.2M16.9 33.1l0.6 1.0M17.7 33.1l0.3 0.8M18.6 30.5l0.5 1.5M19.8 31.9l1.3 0.6M20.1 30.7l0.9 0.8M21.6 30.9l0.9 0.4M23.5 30.8l0.2 0.2M24.4 29.3l-0.6 1.2" stroke="#7078bc" stroke-width="1.50" stroke-linecap="round" fill="none" opacity="0.8"/>
<path d="M0.4 29.3l-0.8 0.4M0.2 31.9l-0.2 0.2M1.9 30.6l-0.2 0.6M4.2 29.4l-0.0 0.5M4.0 31.7l0.1 1.7M5.5 31.1l0.2 1.7M5.6 33.6l-0.3 0.3M7.7 32.4l-0.1 0.3M8.9 33.2l-0.8 1.5M9.1 33.4l0.9 1.3M10.9 33.8l-0.7 1.5M11.4 33.9l0.1 0.4M12.6 32.9l-0.6 1.4M13.9 34.6l0.5 0.7M15.5 33.8l-0.3 1.6M14.6 31.9l0.2 0.8M17.0 33.5l-0.0 0.4M18.6 33.3l0.2 1.1M18.4 31.1l-0.0 0.6M20.3 31.9l0.3 0.6M21.0 30.6l0.8 1.6M22.2 32.8l0.8 0.7M22.8 31.0l0.1 0.4M23.4 30.0l0.9 1.5" stroke="#4150b0" stroke-width="1.90" stroke-linecap="round" fill="none" opacity="0.95"/>
<path d="M-0.6 31.1l-0.1 0.6M-0.2 30.4l-0.3 -0.6M1.0 30.4l0.1 0.6M1.3 29.9l0.6 -0.0M1.1 32.7l-0.4 0.1M1.9 31.2l-0.8 0.6M3.6 30.3l0.1 0.7M3.5 30.5l-0.6 -0.4M3.5 33.0l-0.8 0.1M3.8 32.3l-0.1 0.7M4.3 33.8l0.7 0.8M4.5 33.5l-0.2 0.6M5.7 33.6l0.7 -0.5M7.3 30.4l0.4 0.7M6.3 34.9l0.4 -0.5M6.7 34.2l0.7 0.6M8.0 33.3l-0.2 -0.5M8.0 31.9l0.3 -0.7M9.1 33.6l-0.8 0.5M9.1 36.4l0.9 -0.7M10.3 35.3l0.7 0.6M10.3 33.4l0.3 0.1M11.4 33.1l-0.4 0.3M11.4 31.8l0.9 -0.6M12.6 32.6l0.2 0.2M12.6 34.6l-0.3 -0.4M13.7 34.1l0.1 0.1M13.7 33.6l0.1 -0.4M14.9 32.2l0.7 0.5M14.9 34.2l0.4 -0.1M15.7 33.4l0.1 -0.8M15.7 33.5l-0.8 0.3M16.6 32.8l0.6 -0.5M17.2 33.9l0.1 0.2M18.3 33.6l-0.4 -0.5M18.0 32.9l-0.1 0.7M19.5 33.4l-0.4 0.9M19.5 33.5l-0.1 -0.3M20.8 33.6l0.3 -0.6M20.7 33.4l0.5 0.6M21.4 32.3l0.3 0.0M21.2 32.0l0.0 0.6M22.4 31.7l0.9 0.8M21.9 30.8l0.3 -0.4M21.8 28.1l0.4 0.7M22.6 29.6l-0.7 -0.1M24.0 30.5l-0.4 0.8M24.0 29.2l-0.2 0.4" stroke="#b56a2c" stroke-width="1.30" stroke-linecap="round" fill="none" opacity="0.7"/>
<polyline points="30,38 40,44 50,46" fill="none" stroke="#b8acc4" stroke-width="4.34" stroke-linejoin="round" stroke-linecap="round" opacity="0.25"/>
<path d="M29.6 39.2l-0.2 0.5M31.0 37.7l-0.2 1.1M32.5 38.3l0.1 0.5M33.2 39.9l-0.0 0.7M33.3 40.6l-0.0 1.0M35.5 40.3l-1.0 1.4M37.2 40.1l0.1 0.6M36.6 42.6l-0.1 0.6M38.1 42.6l-1.5 0.7M39.5 43.3l-1.4 0.9M40.5 44.0l-0.1 0.6M40.4 44.5l0.3 1.4M42.6 43.4l-0.5 1.7M43.7 43.7l-0.9 0.9M44.0 44.6l0.1 1.1M45.6 47.2l-0.4 0.8M47.1 44.2l-1.2 1.0M47.8 44.0l0.3 0.9M49.2 45.5l-0.6 0.5M50.0 45.6l0.6 0.9" stroke="#7078bc" stroke-width="1.50" stroke-linecap="round" fill="none" opacity="0.8"/>
<path d="M30.3 38.8l-0.3 0.1M31.2 38.1l-0.3 0.5M32.1 38.5l-0.4 0.9M31.9 40.4l0.0 0.3M34.3 40.5l-0.9 1.1M35.8 40.6l-1.7 0.6M36.1 41.2l-0.8 1.6M36.5 42.8l-0.2 0.3M37.7 43.9l-0.9 0.5M38.1 43.6l-0.0 1.3M40.1 44.1l0.2 0.7M41.2 44.0l-0.2 1.2M41.8 43.8l0.8 1.4M42.9 44.0l0.4 1.2M45.0 44.0l-0.9 1.1M45.2 43.7l0.5 0.8M46.2 46.1l-0.3 1.6M48.2 43.9l0.4 1.3M49.2 45.2l-0.3 0.4M49.9 45.5l0.8 1.3" stroke="#4150b0" stroke-width="1.90" stroke-linecap="round" fill="none" opacity="0.95"/>
<path d="M29.7 38.6l0.5 0.3M30.9 36.5l-0.7 -0.6M32.3 36.4l-0.7 -0.8M32.8 35.7l0.3 -0.8M33.3 37.1l0.5 0.2M31.3 40.3l0.8 0.2M33.4 39.2l0.0 0.5M32.7 40.2l-0.8 -0.7M35.1 38.6l0.8 -0.5M34.7 39.2l0.3 0.3M33.8 43.0l0.1 0.4M33.4 43.6l-0.9 -0.0M34.8 43.7l-0.3 -0.5M36.9 40.1l0.5 0.6M37.7 41.1l0.9 0.1M37.6 41.2l-0.5 0.7M37.2 44.1l-0.1 -0.1M38.1 42.6l0.7 -0.2M38.5 44.2l0.2 0.3M40.2 41.3l-0.1 0.3M39.6 45.8l0.0 -0.2M40.3 42.7l-0.2 0.1M41.6 42.0l0.1 -0.3M41.0 44.6l0.2 -0.7M42.6 42.3l0.6 -0.6M41.6 47.6l-0.9 -0.4M43.2 45.1l-0.0 -0.2M43.6 43.4l-0.0 0.2M44.6 44.1l-0.4 0.7M44.5 44.4l-0.8 0.8M45.9 43.4l0.0 -0.5M45.5 45.3l-0.4 0.5M46.9 44.4l-0.6 0.8M46.4 46.6l-0.0 -0.2M47.9 44.9l0.8 0.1M47.7 45.9l-0.1 0.6M49.2 44.2l0.7 0.7M48.8 46.1l0.4 0.8M50.0 44.7l-0.8 0.5M50.0 48.9l-0.2 -0.7" stroke="#b56a2c" stroke-width="1.30" stroke-linecap="round" fill="none" opacity="0.7"/>
<path d="M47.7 47.6l-0.5 0.8M18.5 44.6l0.7 0.1M37.6 48.1l-0.3 0.9M32.2 37.2l0.5 0.3M7.7 38.9l-0.2 0.6M37.5 40.9l-0.1 1.2M29.5 45.8l-0.4 0.7M35.4 44.6l0.5 0.4M25.9 48.0l0.4 0.2M15.3 42.3l-1.3 0.8M10.6 44.9l1.7 0.1M44.7 33.2l-1.0 1.2M26.0 28.8l0.1 0.4M12.7 48.9l1.0 0.2M35.1 36.7l0.1 0.4M9.9 40.0l0.5 1.4M42.1 49.7l0.8 0.6M41.0 36.5l0.6 1.0M41.5 30.9l-0.5 1.5M32.9 36.8l-1.9 1.1M14.8 29.7l-1.0 0.5M23.9 49.5l-1.4 0.1M5.7 36.8l-1.4 0.9M22.4 28.8l0.2 2.1M46.6 38.2l1.3 1.4" stroke="#4150b0" stroke-width="1.80" stroke-linecap="round" fill="none" opacity="0.8"/>
<path d="M5.5 46.1h0M30.0 18.9h0M47.6 41.4h0M32.3 28.8h0M47.6 28.7h0M46.4 24.6h0M45.4 22.4h0M42.9 21.6h0M23.1 12.3h0M29.6 15.3h0M38.3 31.4h0M24.3 17.4h0M27.4 37.6h0M0.2 24.9h0" stroke="#a85f28" stroke-width="1.50" stroke-linecap="round" fill="none" opacity="0.8"/>
<line x1="41" y1="47.3" x2="46.5" y2="47.3" stroke="#111" stroke-width="1"/>
</g></g>
<rect x="312.90" y="825.90" width="50.20" height="49.80" fill="none" stroke="#4a4a4a" stroke-width="0.9"/>
<text x="167.40" y="824.11" font-size="7.35" text-anchor="middle" font-weight="bold" fill="#141414" stroke="#141414" stroke-width="0.2">patient-3</text>
<clipPath id="hc2"><rect x="142.3" y="825.9" width="50.2" height="49.8"/></clipPath>
<g clip-path="url(#hc2)"><g transform="translate(142.3 825.9) scale(1.0040 0.9960)">
<rect x="-1" y="-1" width="52" height="52" fill="#f6f4f3"/>
<path d="M7.4 30.8l1.5 0.9M30.4 19.2l-0.5 1.4M2.2 26.5l-0.5 1.3M44.0 36.8l0.3 0.7M6.4 40.5l-0.9 1.3M22.1 25.1l1.1 0.9M7.3 31.1l-0.7 1.6M12.3 4.6l0.9 1.5M25.5 37.4l0.2 1.1M45.4 8.4l1.2 0.9M31.6 21.6l-0.2 1.2M33.4 44.4l-1.4 0.9M23.5 47.4l0.3 1.6M43.4 34.2l0.6 1.8M30.0 45.7l-0.5 1.3M48.7 26.4l0.7 2.2M47.2 8.6l2.0 0.5M44.1 19.2l1.2 1.2M47.0 10.7l0.3 1.7M11.0 20.7l1.2 0.6M11.5 4.0l0.2 0.6M5.9 7.5l0.2 0.9M36.4 20.7l0.5 0.5M14.9 37.2l1.0 0.8M40.3 41.5l0.2 2.1M32.1 11.3l0.6 0.2M39.5 19.5l-2.0 1.1M46.0 23.5l0.9 0.0M10.9 32.5l-1.3 1.8M35.3 48.0l-0.5 1.2M41.8 13.7l-1.4 1.2M43.3 3.0l1.9 1.3M7.1 22.6l-0.4 1.2M44.0 47.8l0.3 0.5M45.7 22.7l0.4 0.4M0.5 29.1l0.9 1.1M46.2 24.2l-0.4 0.1M37.9 37.7l-0.4 0.0M25.3 27.8l-0.4 1.2M13.6 45.1l-1.6 0.7M48.0 27.7l1.7 0.4M5.2 37.5l-0.3 0.7M7.6 3.4l2.0 1.2M11.4 44.2l0.9 0.4M23.6 17.9l-0.8 0.1M24.2 10.3l1.6 0.6M17.0 24.4l-0.3 0.4M2.7 34.4l-0.3 0.0M22.6 49.7l-2.1 1.2M26.5 48.6l1.3 0.2M42.4 19.5l0.2 1.2M19.0 40.6l-0.8 0.1M16.1 40.2l-1.4 1.4M34.1 45.7l-1.4 0.8M14.2 4.3l-1.9 0.9M44.6 13.2l-1.5 1.7M10.3 1.2l0.6 0.4M34.0 41.1l-1.5 0.9M48.9 48.6l0.4 2.2M36.0 12.3l-0.2 0.6M20.0 40.6l1.4 0.0M21.8 14.1l1.4 0.3M16.7 4.9l0.5 1.6M4.0 39.3l1.2 0.3M18.3 42.9l-1.7 0.6M14.7 16.2l-1.2 0.7M31.8 36.2l0.9 0.6M47.7 16.6l-0.6 0.3M0.7 25.1l1.0 1.2M38.5 1.9l0.0 1.1M45.3 42.2l-1.7 0.7M17.3 31.0l-0.1 1.1M14.5 32.4l-0.8 0.3M17.8 7.9l0.5 1.0M4.7 32.3l0.9 1.8M12.1 36.7l-0.7 0.0M18.5 48.6l0.3 0.9M7.7 41.5l1.1 1.8M27.9 9.0l-2.2 0.1M37.4 30.1l-1.6 1.6M9.9 12.1l-0.9 0.8M49.3 41.7l-0.0 0.6M30.6 30.1l-0.5 1.9M23.9 44.6l-0.2 0.6M41.0 8.4l-2.1 0.7M9.8 10.1l-0.7 1.0M18.7 37.6l0.3 0.5M27.6 43.9l-0.5 0.1M37.3 16.2l-1.1 0.1M5.1 16.5l-0.0 0.7M38.5 16.5l-0.5 0.6M24.6 33.0l0.7 0.5M42.0 19.7l0.7 1.4M34.6 43.2l-0.4 2.1M44.6 46.3l-1.7 0.4M34.8 19.4l2.1 0.7M20.7 16.9l-0.3 1.9M41.5 5.7l-1.8 1.4M48.9 47.1l-0.5 2.1M29.5 42.4l-1.1 0.0M6.2 37.5l-2.2 0.4M23.1 22.5l1.9 0.8M13.6 6.1l2.1 0.7M20.8 39.6l1.3 0.3M37.3 38.6l1.1 0.7M40.6 45.7l1.5 0.4M44.5 31.0l-0.7 0.6M24.6 0.7l-1.2 0.9M9.0 47.1l0.3 0.2M36.2 4.0l-0.3 0.5" stroke="#8d98d8" stroke-width="1.30" stroke-linecap="round" fill="none" opacity="0.36"/>
<polygon points="0,0 24,0 20,8 10,11 0,9" fill="#ffffff" opacity="1"/>
<polygon points="24,10 32,4 36,14 30,22 26,28 22,22" fill="#ffffff" opacity="1"/>
<polygon points="36,28 44,24 42,38" fill="#ffffff" opacity="1"/>
<polyline points="30,-1 36,8 44,16 50,22" fill="none" stroke="#a3acdf" stroke-width="4.34" stroke-linejoin="round" stroke-linecap="round" opacity="0.25"/>
<path d="M30.2 -1.3l-1.4 0.7M31.1 -0.9l-0.6 1.0M31.5 0.1l-1.2 0.3M32.8 0.5l-1.0 0.9M31.9 2.0l-1.1 1.3M34.3 1.3l-1.3 1.2M34.6 2.8l-1.5 0.1M32.8 4.8l-0.9 0.2M34.0 5.1l-0.4 0.5M34.8 5.4l-0.7 1.0M34.8 7.1l-0.9 0.1M36.6 6.9l-0.9 0.6M36.0 8.4l-0.8 0.1M38.5 6.7l-0.3 0.4M39.2 8.0l-0.3 0.1M38.7 8.6l-0.3 0.4M39.5 10.3l-1.0 0.3M39.9 10.6l-0.6 0.3M41.1 10.7l-0.7 1.0M40.7 12.0l-0.3 1.4M41.4 13.6l-1.2 0.8M42.9 12.9l-0.5 0.4M41.8 15.8l-0.8 0.7M43.1 14.8l-0.6 1.1M44.2 15.2l-0.1 0.3M46.7 16.0l-1.6 0.3M47.8 14.9l-0.3 0.4M45.6 17.6l-0.3 1.1M47.4 18.1l-1.2 0.6M48.1 19.3l-1.7 0.3M47.5 19.6l-0.2 1.3M49.3 19.1l-0.5 1.7M49.7 20.7l-0.5 0.9M49.9 22.5l-0.5 0.7" stroke="#5766d6" stroke-width="1.50" stroke-linecap="round" fill="none" opacity="0.8"/>
<path d="M29.4 -0.1l-1.3 0.4M31.6 -0.5l-0.3 0.5M32.9 -0.6l-0.5 0.8M33.8 0.0l-1.2 0.4M31.6 2.4l-0.1 0.4M33.4 3.0l-0.8 0.1M33.6 3.2l-1.0 0.3M34.4 4.2l-1.1 0.5M35.1 4.2l-0.4 0.1M35.3 4.9l-0.5 1.2M35.8 6.4l-0.6 0.6M36.4 6.6l-0.2 0.4M37.4 6.2l-0.6 1.0M38.8 7.3l-0.6 0.2M38.1 9.4l-1.5 0.3M38.8 9.4l-0.4 0.2M38.6 10.9l-0.6 0.1M38.7 11.9l-0.1 0.5M40.8 10.9l-0.1 0.3M39.5 13.9l-0.4 0.5M43.2 12.3l-0.7 0.1M42.1 13.8l-0.2 0.7M43.7 13.3l-0.7 0.7M43.7 14.9l-1.2 0.7M45.1 14.5l-0.5 0.2M44.6 17.5l-0.9 0.4M45.7 17.4l-0.8 1.0M45.4 18.0l-0.9 0.7M46.9 19.1l-1.5 0.7M47.0 18.9l-0.5 0.6M48.3 20.3l-1.4 0.6M48.6 20.4l-0.8 0.2M48.6 22.1l-0.3 0.1M50.5 22.3l-0.2 1.6" stroke="#2535b8" stroke-width="1.90" stroke-linecap="round" fill="none" opacity="0.95"/>
<polyline points="2,14 8,22 10,32 6,44" fill="none" stroke="#a3acdf" stroke-width="5.207999999999999" stroke-linejoin="round" stroke-linecap="round" opacity="0.25"/>
<path d="M2.3 14.4l-0.7 0.5M2.2 15.0l-0.6 0.5M3.5 15.6l-0.4 1.5M6.6 14.6l-1.2 1.0M5.4 17.0l-0.5 0.3M5.0 18.6l-1.0 0.4M6.7 19.1l-1.7 0.3M8.5 19.9l-1.3 0.1M8.4 20.8l-0.5 0.1M6.9 22.7l-0.8 -0.0M8.7 22.4l-0.3 0.1M7.4 24.3l-0.4 -0.1M11.1 24.5l-0.6 0.4M10.5 25.7l-0.9 0.0M9.1 26.6l-0.9 -0.0M11.0 27.6l-0.5 0.5M7.8 29.3l-0.4 -0.2M10.4 30.1l-1.1 0.2M10.0 31.7l-1.7 -0.6M8.9 32.2l-1.1 -1.0M11.7 33.2l-0.9 -0.1M8.6 32.9l-1.7 0.6M10.2 35.4l-0.8 0.1M8.6 35.7l-0.8 0.2M10.0 37.9l-0.8 -1.2M8.4 37.7l-0.5 -0.3M9.1 39.7l-1.2 -1.2M7.9 39.9l-1.5 0.4M8.2 41.2l-0.8 -0.2M4.7 41.4l-0.3 -0.4M7.1 43.5l-0.3 -0.4M5.4 41.9l0.6 1.1" stroke="#5766d6" stroke-width="1.50" stroke-linecap="round" fill="none" opacity="0.8"/>
<path d="M1.5 14.1l-0.8 1.1M4.0 14.3l-0.6 0.6M2.1 16.3l-1.4 0.8M4.9 15.3l-0.6 1.6M4.7 17.4l-0.3 0.7M5.4 18.2l-0.7 1.1M4.9 19.8l-0.3 0.2M6.1 20.8l-0.2 0.2M7.1 21.4l-0.5 0.4M9.1 22.1l-0.6 0.5M10.0 22.7l-1.5 0.2M12.4 23.4l-1.0 0.8M6.3 25.3l-1.1 -0.4M10.7 26.1l-1.6 0.1M8.7 26.8l-1.0 -0.3M8.1 28.8l-0.8 -0.3M10.3 28.6l-0.6 0.6M9.0 30.1l-1.4 -0.5M10.6 31.2l-1.0 0.5M7.1 31.6l-0.3 -0.5M10.9 33.9l-1.0 -0.8M9.6 34.4l-1.3 0.2M7.8 34.7l-0.4 -0.2M10.1 35.9l-1.6 -0.1M9.5 37.5l-1.3 -0.4M8.7 38.5l-1.2 -1.3M9.6 40.5l-0.7 -0.7M9.1 40.5l-0.3 -0.4M8.9 41.8l-0.8 -0.9M6.5 42.5l-1.3 -0.7M6.8 43.3l-1.4 0.5M5.6 42.6l0.9 1.2" stroke="#2535b8" stroke-width="1.90" stroke-linecap="round" fill="none" opacity="0.95"/>
<polyline points="18,24 24,28 22,34" fill="none" stroke="#a3acdf" stroke-width="4.34" stroke-linejoin="round" stroke-linecap="round" opacity="0.25"/>
<path d="M17.5 24.2l-0.1 1.3M17.8 24.8l0.1 1.5M20.8 23.5l-1.4 1.1M20.9 24.3l-0.3 1.2M20.7 27.1l-0.5 0.2M22.2 26.2l-0.1 0.4M23.0 27.0l-1.0 0.9M24.1 26.4l-0.6 1.3M23.3 28.1l-0.8 -0.4M23.8 29.0l-0.7 -1.0M23.0 30.3l-0.5 -0.7M23.7 31.2l-0.3 0.0M23.2 32.3l-1.1 -1.3M21.6 32.0l-1.4 0.1M20.6 32.8l-1.3 -0.6M22.1 31.5l-0.0 1.0" stroke="#5766d6" stroke-width="1.50" stroke-linecap="round" fill="none" opacity="0.8"/>
<path d="M17.0 25.8l-0.5 0.2M19.3 24.3l-0.0 1.0M20.0 24.6l-0.3 1.1M18.9 28.3l-0.3 0.7M22.0 24.1l-0.7 0.3M23.1 25.6l-1.3 1.2M23.1 26.7l-0.3 0.5M23.3 27.0l-0.7 1.1M23.4 28.1l-0.6 -0.0M23.0 28.4l-1.3 0.3M25.4 31.0l-1.1 -1.3M23.8 31.1l-0.5 -0.7M23.2 31.5l-0.9 -1.0M24.0 32.8l-1.2 0.4M24.2 34.0l-0.9 -0.9M22.0 33.6l-0.9 1.0" stroke="#2535b8" stroke-width="1.90" stroke-linecap="round" fill="none" opacity="0.95"/>
<polyline points="18,42 32,46 48,44" fill="none" stroke="#a3acdf" stroke-width="3.472" stroke-linejoin="round" stroke-linecap="round" opacity="0.25"/>
<path d="M18.4 42.6l-1.0 0.8M18.7 41.4l0.2 1.8M19.6 41.9l-0.1 1.2M21.2 42.8l0.0 0.8M22.1 42.9l0.1 0.7M22.6 42.7l0.5 1.4M25.1 42.9l-0.6 0.5M24.9 44.2l-0.9 0.8M26.0 44.2l-0.5 0.4M27.4 42.6l-0.6 1.1M28.6 44.6l-0.1 0.8M29.4 44.6l0.1 0.3M30.0 45.5l-0.4 0.5M31.3 45.6l-0.5 0.5M31.8 45.5l0.2 1.4M32.8 45.3l-0.2 1.1M33.6 45.4l0.2 0.5M35.0 45.2l-0.4 1.1M36.8 44.9l-0.7 1.5M36.4 45.1l0.9 1.1M37.9 43.6l-0.2 0.4M39.0 44.6l0.1 0.6M40.7 44.9l0.6 1.5M41.8 44.5l0.1 0.6M42.4 43.3l0.0 1.1M43.1 43.7l0.2 0.5M44.7 43.8l0.9 1.0M45.7 42.7l-0.2 0.7M46.5 44.1l0.8 1.1M47.5 43.9l1.0 1.4" stroke="#5766d6" stroke-width="1.50" stroke-linecap="round" fill="none" opacity="0.8"/>
<path d="M17.9 41.1l-0.4 1.5M19.4 41.3l-0.8 1.4M20.4 41.5l-0.2 1.2M21.5 41.0l-0.8 1.4M21.9 42.3l-0.5 1.5M23.1 41.7l0.1 0.8M24.4 43.2l-0.4 1.6M25.2 42.4l-0.2 1.5M25.5 44.0l-0.2 0.8M26.7 44.8l0.2 0.8M27.4 45.3l0.1 0.9M28.8 43.6l-0.2 1.0M30.4 44.9l-0.6 0.5M30.6 46.7l-0.6 1.0M32.1 46.4l0.2 0.5M33.5 45.4l-0.6 1.3M34.2 44.4l0.3 0.8M35.7 44.1l-0.3 1.2M36.5 44.4l0.2 0.6M37.3 45.6l-0.2 0.4M38.3 45.8l0.2 0.3M39.6 45.6l0.2 0.3M41.0 44.1l-0.1 0.3M41.8 45.0l0.3 0.7M43.0 44.9l-0.5 1.2M44.1 43.8l-0.6 1.5M44.8 44.1l-0.0 1.6M45.8 43.5l-0.4 0.9M46.9 41.7l-0.0 1.0M48.0 44.1l0.0 0.4" stroke="#2535b8" stroke-width="1.90" stroke-linecap="round" fill="none" opacity="0.95"/>
<path d="M33.5 39.2l0.6 0.3M27.3 39.6l0.4 0.1M46.7 39.9l-0.2 0.2M6.2 33.0l-0.7 0.3M37.4 37.5l-0.4 1.4M23.5 30.8l-0.3 0.9M30.8 44.7l0.5 0.3M43.7 40.9l0.5 0.5M45.0 17.0l0.5 0.1M9.4 49.6l-1.1 0.2M28.5 48.9l0.8 0.3M18.2 44.1l-1.6 1.1M42.2 10.4l0.2 0.9M0.1 48.8l0.4 0.5M25.1 8.9l-0.2 1.3M44.1 23.1l1.2 0.1M43.6 35.1l-0.8 0.9M16.0 25.1l-0.4 1.4M14.9 37.4l0.2 1.9M43.5 27.3l0.8 1.1M18.5 33.2l0.3 0.6M3.5 16.2l1.0 0.2M36.5 14.9l-1.2 0.2M39.8 48.8l-1.2 0.9M8.6 29.5l-0.3 1.6M47.0 20.1l0.4 2.0M36.9 12.6l1.0 1.0M48.6 33.3l-0.1 2.0M42.9 46.1l-0.4 1.5M28.0 22.2l0.1 0.5M38.8 39.3l0.2 0.3M30.5 18.3l0.4 0.2M15.6 9.9l0.9 1.7M40.8 43.5l-0.9 0.6M19.9 45.8l0.3 1.4M1.4 31.7l1.6 0.3M29.1 29.7l-0.2 1.0M19.4 12.1l-0.6 2.0M22.0 38.5l-0.1 1.3M41.5 24.2l1.2 1.7M17.1 24.1l0.4 1.0M15.8 33.9l-1.8 0.7M49.7 48.9l-0.6 0.6M34.6 30.0l-0.1 0.6M21.7 23.3l0.4 1.6M18.9 20.3l0.6 1.4M0.3 15.9l-0.5 0.4M19.3 29.3l-0.1 1.6M23.2 27.5l0.4 0.7M0.5 11.1l0.3 0.2M44.7 37.7l-0.4 1.2M0.5 14.3l-0.9 1.5M23.7 42.4l1.3 0.3M9.0 38.2l-0.4 1.1M6.1 11.8l0.3 0.9M11.8 19.8l-1.6 0.6M46.8 39.0l0.6 0.1M12.1 22.2l-0.9 0.6M49.3 35.1l-1.3 1.2M9.6 43.3l-1.1 0.1M38.9 48.9l-1.3 0.3M22.6 38.8l0.7 0.2M8.7 26.3l1.9 0.2M44.2 7.9l0.5 0.7M32.0 21.9l0.5 0.9M38.5 8.8l0.4 0.6M35.0 45.5l0.4 1.1M39.7 36.6l-0.8 0.4M4.3 32.1l1.5 1.3M49.6 17.6l0.0 0.3" stroke="#2535b8" stroke-width="1.80" stroke-linecap="round" fill="none" opacity="0.8"/>
<path d="M45.5 36.5h0M22.6 33.0h0M29.2 27.2h0M42.3 40.0h0M23.2 8.2h0M3.6 21.5h0M31.2 17.9h0M16.2 36.0h0M16.5 14.0h0M48.4 4.2h0" stroke="#a85f28" stroke-width="1.50" stroke-linecap="round" fill="none" opacity="0.8"/>
<line x1="41" y1="47.3" x2="46.5" y2="47.3" stroke="#111" stroke-width="1"/>
</g></g>
<rect x="142.30" y="825.90" width="50.20" height="49.80" fill="none" stroke="#4a4a4a" stroke-width="0.9"/>
<text x="391.90" y="824.11" font-size="7.35" text-anchor="middle" font-weight="bold" fill="#141414" stroke="#141414" stroke-width="0.2">patient-3</text>
<clipPath id="hc12"><rect x="366.8" y="825.9" width="50.2" height="49.8"/></clipPath>
<g clip-path="url(#hc12)"><g transform="translate(366.8 825.9) scale(1.0040 0.9960)">
<rect x="-1" y="-1" width="52" height="52" fill="#f8f3ee"/>
<path d="M24.1 33.3l-0.7 1.6M45.1 37.6l0.7 0.4M22.7 19.5l-1.8 0.2M23.4 17.6l1.2 1.0M46.2 8.4l0.2 1.0M30.5 12.7l1.7 0.4M15.3 32.4l-1.5 0.4M45.6 40.1l0.8 0.2M33.1 23.9l2.0 0.0M32.5 21.7l-0.0 0.7M27.5 7.1l-1.1 2.0M10.8 13.3l-0.5 2.1M8.5 19.6l-0.2 0.6M3.5 37.4l-0.6 1.4M27.3 5.1l0.1 1.3M25.7 8.2l1.4 0.3M34.8 33.4l-1.1 0.2M19.6 16.5l-0.0 1.7M43.2 4.6l-0.4 1.9M37.5 21.5l1.0 0.2M29.8 38.9l0.8 0.6M18.4 2.6l-1.0 0.1M22.1 48.5l-0.7 0.6M47.1 41.3l-0.2 1.2M42.4 46.1l-0.5 0.8M43.6 33.0l-2.0 0.4M34.6 44.8l0.3 1.5M37.4 22.0l1.9 0.8M26.8 22.8l-0.1 0.9M42.2 14.3l1.2 1.1M24.4 15.7l1.2 0.3M20.7 27.4l-0.4 0.8M3.3 3.1l-0.4 2.2M37.0 46.5l0.7 0.3M35.7 20.4l0.5 2.0M4.1 47.1l1.3 0.9M32.8 28.0l-0.6 0.8M11.5 33.0l-0.4 0.1M5.3 49.4l0.6 0.1M25.2 16.1l-0.8 1.0M39.8 5.5l0.5 0.5M40.1 50.0l0.3 0.7M3.6 9.2l-2.3 0.1M46.2 9.0l2.3 0.6M36.1 44.1l-2.0 0.7M0.6 43.6l-0.5 2.3M9.9 19.6l1.8 0.7M29.4 43.3l-0.4 1.9M18.3 3.1l0.4 0.1M1.4 36.7l-1.6 1.8M39.3 9.9l0.9 0.6M17.1 6.6l-1.4 1.2M21.0 28.6l-0.5 1.4M30.4 31.5l-0.9 0.0M4.1 6.8l-0.4 1.3M46.5 27.2l-2.0 0.6M17.7 11.8l-0.6 1.0M7.8 2.3l-2.0 1.2M36.5 6.2l1.6 0.1M19.9 46.6l0.3 1.7M1.6 2.1l-1.2 1.1M44.3 18.6l-0.2 1.3M38.5 30.3l-0.5 0.3M32.5 18.5l-0.9 0.7M8.0 0.6l-0.0 0.6M37.9 44.1l1.0 1.6M33.7 27.4l2.3 0.6M15.5 3.5l-1.7 1.5M40.3 33.2l1.2 2.0M23.6 35.9l-0.9 0.7M49.4 20.4l-0.4 0.6M12.0 24.4l1.6 0.8M9.4 15.7l-2.0 0.7M47.0 38.7l0.5 0.8M39.1 27.7l-2.2 0.5M22.0 7.8l-1.9 0.7M26.1 31.8l-0.7 1.2M14.6 19.8l-2.0 0.7M45.4 46.4l0.0 1.0M43.4 0.1l-0.3 0.2M33.8 3.5l0.3 0.4M25.3 22.4l-1.1 0.4M39.7 46.1l-1.0 0.2M46.2 11.4l0.5 2.1M28.3 10.5l0.3 0.9M45.7 34.4l-1.7 0.1M49.5 9.0l0.1 0.6M23.5 25.3l-1.5 0.6M31.4 28.7l-1.9 0.8M15.7 24.4l0.2 0.3M12.5 14.2l-2.2 0.8M6.2 17.3l-0.3 0.5M22.1 19.6l-1.1 2.1M41.3 11.5l1.1 0.7M25.0 34.8l-1.3 1.5M11.7 16.1l-1.0 1.0M44.1 34.4l0.9 2.2M26.5 10.4l1.6 1.6M10.6 13.8l0.9 1.9M35.3 29.3l-1.2 1.7M19.9 43.5l1.2 0.1M42.0 9.8l-0.1 1.2M20.1 4.7l-1.8 1.5M49.0 44.7l-0.3 1.5M46.8 1.5l1.4 0.1M39.0 31.2l1.5 0.2M27.6 36.5l1.6 0.1M20.8 25.9l-0.7 0.6M10.4 5.8l-1.4 1.2M15.6 29.3l-1.4 1.2" stroke="#a09ac0" stroke-width="1.30" stroke-linecap="round" fill="none" opacity="0.36"/>
<path d="M15.8 22.9l-0.2 -0.8M32.7 12.4l0.3 0.2M17.6 16.8l0.6 0.0M44.1 46.2l0.3 0.5M32.1 27.3l-0.2 0.3M36.9 6.3l0.5 0.8M49.9 32.5l0.9 0.1M1.1 27.5l0.4 -0.3M20.3 29.7l0.2 0.2M30.9 26.7l0.6 -0.6M0.4 19.0l-1.0 -0.6M23.2 17.2l0.5 -1.0M34.1 48.1l-0.7 0.8M22.5 2.3l0.1 0.8M43.8 16.9l0.2 0.3M5.4 13.2l-0.6 0.3M49.1 12.1l-0.9 0.5M47.8 25.6l-0.9 0.8M26.1 8.5l-0.8 -0.8M12.5 26.2l0.2 -0.3M43.2 39.6l-1.0 0.3M4.6 20.0l-0.2 -0.3M6.1 21.5l-1.0 -0.8M21.2 21.8l-0.6 -0.5M5.9 25.6l-0.1 0.2M47.5 41.6l-0.9 -0.9M9.5 0.5l0.4 -0.1M27.3 21.0l0.3 0.6M19.1 31.1l-0.0 0.9M33.4 18.6l0.0 0.8M49.4 36.2l0.9 0.5M20.1 14.3l-0.7 0.3M35.3 5.1l0.9 0.2M37.3 46.6l-0.5 -0.5M8.4 29.6l0.7 -0.2M11.6 14.5l-0.5 0.6M32.8 27.2l0.8 -0.3M28.0 44.8l-0.5 0.9M46.2 7.2l-0.4 0.8M44.4 27.5l-1.0 0.8M39.9 13.0l-0.8 -0.6M49.5 20.8l0.7 1.0M17.5 1.1l-1.0 0.5M8.4 17.8l-0.1 -0.4M32.9 28.8l0.2 -0.7M29.1 11.2l0.3 -0.5M23.8 31.4l-0.9 0.8M11.5 8.4l0.3 0.5M2.4 40.3l-0.2 -0.1M48.2 16.9l-0.5 0.6M7.1 29.0l0.6 -0.4M29.2 30.6l0.5 0.9M4.7 20.4l-0.8 0.8M43.2 18.3l0.6 0.0M32.3 41.0l-0.4 0.0M18.9 5.0l0.9 -0.1M46.5 20.4l0.8 0.3M24.5 30.0l0.4 0.3M0.6 12.4l0.4 -0.5M12.5 45.4l-1.0 -0.2" stroke="#d0a070" stroke-width="1.20" stroke-linecap="round" fill="none" opacity="0.38"/>
<polygon points="6,4 14,6 19,16 25,27 33,34 50,34 50,44 30,44 21,35 13,23 8,12" fill="#ffffff" opacity="1"/>
<polyline points="9,8 14,20 21,31 30,39" fill="none" stroke="#c8894c" stroke-width="1.6" stroke-linejoin="round" stroke-linecap="round" opacity="0.44000000000000006" filter="url(#bl10)"/>
<polyline points="17,6 22,18 28,28 36,31 50,31" fill="none" stroke="#c8894c" stroke-width="1.6" stroke-linejoin="round" stroke-linecap="round" opacity="0.44000000000000006" filter="url(#bl10)"/>
<polyline points="2,10 8,22 16,34 24,44 30,50" fill="none" stroke="#b8acc4" stroke-width="6.076" stroke-linejoin="round" stroke-linecap="round" opacity="0.25"/>
<path d="M4.1 8.9l-0.8 0.3M1.6 11.0l-0.5 0.3M2.2 11.9l-1.5 0.2M3.4 13.1l-1.1 -0.1M5.6 12.3l-1.2 1.3M2.8 14.1l-0.2 0.5M5.1 14.8l-1.3 0.7M6.5 14.4l-0.3 0.1M7.3 16.2l-1.6 0.5M6.7 17.1l-0.6 0.1M6.8 17.5l-0.4 0.8M6.1 18.9l-0.7 1.0M9.6 18.3l-0.4 0.8M6.2 20.5l-0.5 0.9M7.8 21.6l-0.7 -0.0M8.1 21.8l-1.2 0.4M7.7 23.9l-1.2 -0.1M8.6 23.9l-0.7 0.0M9.3 24.0l-0.7 0.1M11.4 24.6l-0.9 0.4M7.6 27.7l-1.0 -0.1M12.7 25.1l-1.0 0.6M12.5 26.9l-0.6 0.7M13.5 26.2l-0.5 1.3M13.6 27.3l-0.5 0.6M11.7 30.4l-0.6 0.9M14.4 29.5l-1.1 1.3M14.6 31.2l-1.7 -0.0M15.4 31.1l-1.3 0.9M15.9 31.3l-0.7 1.0M16.4 33.2l-0.8 -0.1M15.5 34.4l-0.7 1.5M15.9 35.4l-0.1 0.6M17.6 34.1l-0.8 1.5M17.4 35.6l-1.3 1.0M18.1 36.6l-0.4 0.3M20.1 36.3l-0.5 1.3M18.8 38.5l-0.6 0.0M21.6 36.3l-0.9 1.4M21.7 38.2l-1.1 1.0M19.0 40.8l-1.0 1.1M20.3 41.7l-0.9 0.1M23.3 39.5l-0.6 1.0M21.5 42.8l-0.7 0.6M24.4 41.5l-1.7 0.5M25.1 42.6l-0.3 0.3M26.2 42.3l-0.7 0.4M26.2 44.0l-1.3 0.7M23.7 46.4l-0.4 0.9M24.1 46.9l-0.5 1.2M27.1 46.4l-0.9 0.6M28.9 46.1l-1.0 0.3M28.5 47.3l-0.7 0.4M28.2 48.8l-1.4 0.6M29.9 48.5l-0.4 1.0M30.1 51.8l-0.1 0.4" stroke="#7078bc" stroke-width="1.50" stroke-linecap="round" fill="none" opacity="0.8"/>
<path d="M2.7 9.8l-0.5 0.0M1.9 11.4l-1.5 0.1M3.5 11.1l-0.7 0.5M4.5 11.8l-0.8 0.2M4.5 12.0l-0.7 1.0M2.6 14.5l-0.7 1.1M1.2 16.2l-0.5 0.3M6.3 15.1l-1.6 0.2M6.3 16.7l-1.2 -0.2M7.7 15.5l-0.5 1.1M8.1 16.7l-0.7 0.2M6.2 18.4l-1.4 0.7M6.8 19.8l-1.1 0.4M7.3 20.1l-0.9 0.8M6.8 22.5l-1.7 0.1M9.2 21.0l-0.7 0.5M8.8 22.1l-0.2 0.4M8.5 24.0l-0.4 1.2M9.3 24.7l-1.3 1.0M8.7 25.9l-0.7 0.9M10.5 26.1l-0.3 0.1M10.0 27.7l-0.9 0.1M12.7 26.7l-0.3 0.6M13.5 27.3l-0.8 0.1M12.2 29.3l-1.0 0.0M14.3 28.6l-0.2 0.4M16.0 29.1l-1.5 0.5M12.4 32.1l-1.3 0.3M15.4 30.4l-0.7 1.3M17.6 31.2l-1.3 0.2M15.2 32.9l-0.2 0.3M14.4 34.5l-0.3 0.5M16.0 35.0l-0.2 0.7M16.8 35.3l-1.0 0.6M15.9 37.7l-1.3 0.1M17.9 36.5l-0.6 1.1M19.4 36.1l-0.3 1.2M19.3 38.3l-0.7 0.5M18.8 39.0l-0.3 0.2M23.5 36.8l-0.6 0.7M20.9 39.8l-0.8 1.4M20.6 40.9l-0.9 0.7M23.4 40.1l-0.7 1.6M22.7 41.3l-0.2 0.2M23.6 41.7l-0.3 0.8M21.3 45.1l-0.7 0.7M23.2 45.4l-0.8 0.4M23.4 45.8l-0.9 0.2M27.3 42.8l-0.4 1.3M27.1 45.1l-0.9 0.6M27.5 45.5l-0.4 0.4M28.0 47.0l-0.5 0.1M28.6 46.4l-0.3 0.7M29.2 48.2l-1.6 0.4M28.4 50.6l-0.4 0.2M30.1 48.5l-0.2 0.6" stroke="#4150b0" stroke-width="1.90" stroke-linecap="round" fill="none" opacity="0.95"/>
<path d="M2.2 9.9l-0.3 0.1M-0.0 11.0l0.3 -0.7M-0.6 12.3l-0.2 -0.4M-0.6 12.3l0.7 -0.4M-0.2 13.1l0.5 -0.2M3.1 11.5l0.8 -0.1M3.6 12.2l-0.9 0.5M2.4 12.8l-0.7 0.3M1.7 14.1l0.9 -0.3M4.4 12.8l0.8 -0.7M6.5 12.7l-0.1 -0.9M5.6 13.2l-0.6 -0.6M6.0 14.0l0.9 -0.5M6.4 13.8l-0.0 -0.6M6.3 14.8l0.7 0.4M3.5 16.3l0.9 0.9M3.5 17.2l0.4 0.3M3.2 17.4l0.3 0.3M5.4 17.3l0.8 -0.8M6.4 16.8l-0.4 -0.2M5.1 18.4l0.3 -0.9M7.8 17.1l0.4 0.5M7.2 18.4l0.2 0.4M4.7 19.7l0.2 0.2M6.6 19.7l-0.4 0.0M9.0 18.5l-0.7 -0.7M7.0 20.5l-0.6 0.4M7.1 20.4l-0.5 -0.2M6.5 21.7l0.7 -0.3M7.0 21.5l0.7 0.1M11.0 20.0l-0.3 -0.8M8.9 21.4l0.7 -0.1M7.5 23.4l0.7 -0.7M11.9 20.5l-0.7 0.2M4.5 26.5l-0.2 -0.3M9.0 23.5l-0.8 -0.1M5.3 27.1l0.9 0.3M7.8 25.4l-0.1 0.0M9.9 25.1l0.6 -0.6M10.8 24.4l0.9 0.5M11.6 25.0l-0.5 -0.2M10.2 25.9l-0.2 -0.9M13.9 24.6l0.1 -0.4M11.4 26.2l0.9 0.2M11.4 27.3l-0.5 0.7M14.8 25.0l0.7 0.1M12.2 27.9l0.7 -0.3M13.7 26.9l0.8 -0.0M10.0 30.4l-0.0 0.1M10.3 30.2l-0.6 0.1M11.0 30.8l-0.1 -0.8M12.0 30.1l-0.6 -0.3M12.0 31.3l-0.9 -0.4M11.9 31.3l-0.2 -0.4M12.9 31.7l-0.8 -0.7M16.6 29.3l-0.7 0.5M16.0 30.7l-0.1 0.6M12.2 33.3l-0.8 0.8M14.8 32.7l0.4 0.8M11.5 34.9l-0.8 0.8M16.3 32.7l-0.8 0.2M13.6 34.5l-0.2 -0.6M17.8 32.6l-0.0 -0.5M18.0 32.4l0.3 -0.2M15.0 35.9l0.7 -0.8M15.4 35.6l-0.7 0.8M16.5 35.8l0.6 -0.4M17.5 35.0l-0.6 0.3M21.4 33.0l-0.8 0.8M19.5 34.5l0.4 0.7M16.5 38.0l0.8 -0.0M20.8 34.5l0.8 0.6M17.6 38.2l-0.3 -0.4M20.3 36.0l0.7 0.4M18.0 38.9l-0.0 0.2M18.5 38.5l0.7 -0.7M19.7 38.7l-0.2 0.6M18.5 39.6l-0.6 0.5M21.1 38.7l-0.2 -0.9M21.3 38.5l-0.9 0.3M22.5 38.7l0.4 -0.4M21.1 39.8l-0.4 -0.9M21.4 40.6l-0.7 0.1M21.4 40.6l-0.7 0.4M20.8 42.2l0.7 0.6M21.8 41.4l-0.7 0.2M19.1 44.6l-0.3 0.2M22.7 41.7l0.7 -0.4M21.0 44.2l0.1 0.7M22.5 43.0l-0.1 0.1M22.1 44.5l0.2 -0.7M23.4 43.4l0.8 0.4M23.2 44.8l0.9 0.8M26.1 41.9l0.2 -0.5M23.8 45.6l0.4 0.2M23.0 46.4l-0.3 -0.7M24.0 46.7l0.6 -0.4M26.2 44.4l0.7 0.3M27.4 44.6l0.1 -0.4M28.2 43.8l-0.7 0.6M29.9 43.5l0.1 0.5M25.2 48.1l-0.8 -0.8M25.9 48.7l0.9 -0.6M28.6 46.1l-0.3 -0.9M29.0 47.0l-0.3 0.4M25.4 50.6l0.4 -0.8M29.5 47.8l-0.6 -0.7M29.6 47.7l-0.3 -0.6M32.2 46.5l0.4 0.5M29.0 49.6l-0.8 -0.4M30.0 53.0l0.8 -0.3M30.0 48.9l-0.6 -0.4" stroke="#b56a2c" stroke-width="1.30" stroke-linecap="round" fill="none" opacity="0.7"/>
<polyline points="20,2 26,14 32,24 40,28 50,26" fill="none" stroke="#b8acc4" stroke-width="6.076" stroke-linejoin="round" stroke-linecap="round" opacity="0.25"/>
<path d="M19.8 2.5l-0.3 0.6M21.4 3.0l-1.5 0.0M18.0 4.6l-1.0 0.2M22.2 3.7l-0.9 0.8M20.7 5.8l-0.3 0.5M25.9 4.7l-1.6 0.7M23.7 6.3l-0.7 0.8M22.7 7.4l-1.3 -0.3M25.4 7.5l-1.0 -0.2M21.4 10.4l-1.2 1.0M23.3 9.9l-0.3 0.5M27.7 8.9l-1.4 1.1M26.9 11.0l-0.9 -0.1M26.6 12.5l-1.5 -0.2M25.1 13.6l-1.0 0.5M26.3 14.3l-0.3 0.2M26.6 15.0l-0.6 0.7M24.9 16.6l-0.3 0.1M29.3 15.2l-0.8 1.2M28.1 17.4l-0.7 0.1M29.9 17.0l-1.0 0.3M29.3 17.6l-1.1 1.3M27.6 19.7l-0.9 1.1M30.6 19.7l-1.5 0.3M28.7 22.5l-0.7 0.1M33.0 19.6l-0.7 1.4M34.0 21.0l-1.4 0.7M32.9 22.3l-1.4 0.2M33.5 22.7l-0.6 0.5M33.3 23.0l-0.7 1.1M34.5 23.8l-0.6 1.5M33.8 26.9l-0.1 0.5M34.9 25.1l0.2 1.0M36.6 24.8l-0.4 1.5M36.3 27.5l-0.0 1.0M37.2 27.8l-0.7 0.5M38.4 27.2l-0.1 0.4M38.6 28.0l-0.3 1.0M40.5 27.3l-0.2 1.8M41.0 27.3l0.1 0.7M41.9 27.1l-0.0 0.9M42.8 28.7l0.1 1.2M43.0 25.7l-0.2 1.4M43.8 27.8l0.4 1.3M44.7 25.6l0.1 0.5M46.3 28.0l-0.5 1.4M47.3 27.2l-0.5 1.1M48.3 27.7l-0.4 1.2M48.6 24.0l-0.4 1.7M48.9 24.3l0.2 0.6M49.7 25.7l0.5 1.5" stroke="#7078bc" stroke-width="1.50" stroke-linecap="round" fill="none" opacity="0.8"/>
<path d="M22.7 1.1l-1.1 -0.2M21.0 2.9l-0.2 0.3M22.0 2.6l-0.3 0.2M22.0 4.3l-0.9 0.1M21.3 4.6l-0.5 0.9M22.4 5.7l-0.9 0.6M24.1 6.4l-0.5 0.4M25.7 6.2l-1.5 0.3M24.8 7.7l-0.9 0.2M22.8 9.8l-1.1 0.2M26.8 8.0l-0.5 0.6M25.1 10.8l-0.6 0.4M25.9 10.3l-1.4 1.1M22.7 13.8l-1.4 0.4M26.3 13.0l-0.6 -0.0M26.8 13.3l-0.3 0.3M26.7 15.1l-1.4 0.0M27.8 15.2l-0.6 0.6M26.8 16.3l-0.4 1.1M29.7 17.0l-1.5 -0.1M28.6 17.6l-0.6 0.6M30.0 18.3l-0.9 1.1M30.8 18.7l-0.7 0.9M29.7 19.8l-0.5 0.1M29.0 21.2l-1.0 0.1M30.4 22.2l-0.4 0.0M30.9 22.9l-0.9 -0.1M34.0 21.5l-1.5 0.9M33.2 20.5l-0.1 1.7M32.0 25.1l-0.3 0.9M34.2 23.1l-0.6 1.1M34.3 24.4l-0.2 1.3M34.5 26.4l-0.6 1.6M36.3 25.5l-0.9 1.0M37.7 23.9l-0.0 1.6M37.9 26.8l-0.4 0.5M39.2 26.7l-1.3 1.1M39.9 26.1l-0.1 1.2M39.8 28.1l0.8 1.2M40.7 27.9l-0.1 0.9M41.0 28.3l0.9 0.9M42.3 27.6l0.1 1.1M43.1 27.0l0.3 1.2M44.4 26.3l0.1 1.7M44.6 26.8l0.5 1.3M46.0 26.4l-0.1 0.4M46.4 24.4l-0.2 0.8M47.6 26.0l0.0 0.5M48.0 24.4l0.4 1.1M49.2 26.2l-0.3 0.7M49.8 28.5l-0.0 0.8" stroke="#4150b0" stroke-width="1.90" stroke-linecap="round" fill="none" opacity="0.95"/>
<path d="M17.7 3.2l0.2 -0.9M19.0 2.5l-0.8 -0.5M22.2 1.9l0.3 0.3M21.9 2.1l-0.8 0.6M20.0 4.0l0.3 -0.3M19.9 4.1l0.3 0.5M20.2 4.9l-0.2 0.3M24.5 2.7l0.1 -0.4M20.7 5.6l0.1 0.2M20.7 5.7l0.2 0.6M25.4 4.3l0.4 -0.2M19.5 7.3l-0.2 -0.7M21.8 7.1l-0.0 0.1M21.6 7.2l0.7 0.3M22.2 7.9l-0.8 -0.4M20.4 8.8l0.9 0.8M24.8 7.6l-0.1 -0.3M24.4 7.8l-0.6 0.1M24.4 8.8l-0.8 0.7M23.7 9.1l-0.2 -0.8M24.6 9.7l0.3 0.7M26.6 8.7l-0.0 0.2M27.9 9.1l-0.7 -0.3M24.5 10.7l-0.3 0.2M24.4 11.8l-0.3 -0.8M26.3 10.9l0.1 -0.5M24.6 12.7l-0.9 -0.3M22.2 13.9l0.0 0.1M23.2 14.4l0.0 0.4M26.6 12.7l-0.7 -0.4M25.9 14.1l-0.2 0.4M27.5 13.1l-0.9 0.3M27.7 14.1l-0.2 0.4M25.6 15.3l0.5 0.0M26.7 15.6l0.7 0.3M29.1 14.3l0.1 -0.8M25.5 17.5l-0.2 0.6M27.0 16.5l0.5 -0.3M28.3 16.8l-0.7 -0.6M24.5 19.1l-0.7 0.4M31.6 15.9l0.8 0.2M28.2 17.9l0.1 -0.1M32.1 16.6l0.8 -0.6M30.2 17.8l0.4 0.1M30.6 18.6l0.3 0.8M29.2 19.4l0.3 0.8M32.1 18.7l0.6 -0.2M28.9 20.6l0.4 -0.9M31.2 20.3l0.7 0.4M30.0 21.0l0.0 0.0M28.8 22.8l0.8 0.8M30.9 21.5l0.6 -0.4M32.0 21.9l0.3 -0.7M35.4 19.8l-0.3 -0.3M33.5 22.0l0.4 -0.8M29.3 24.5l0.5 0.7M31.4 25.2l0.3 -0.4M32.0 24.0l-0.8 0.9M33.1 23.8l0.6 0.6M30.7 28.6l0.6 -0.6M31.8 28.4l-0.6 0.6M34.0 23.9l-0.7 0.7M33.4 27.3l-0.5 0.2M34.4 25.3l-0.1 -0.7M35.8 24.3l0.2 -0.8M35.3 25.4l0.5 -0.7M34.6 28.8l0.3 -0.3M36.3 25.3l0.7 -0.1M36.4 27.3l0.0 -0.5M36.1 27.7l-0.0 -0.7M37.6 26.7l0.8 0.0M37.7 26.6l0.3 -0.5M39.1 25.8l0.2 -0.3M38.0 28.0l0.8 0.6M38.4 29.2l0.7 -0.0M37.4 31.2l-0.5 -0.1M40.3 29.4l0.3 0.5M39.7 26.7l-0.3 -0.6M42.2 34.6l-0.6 -0.2M41.1 28.9l-0.7 0.8M42.2 30.2l-0.4 -0.1M40.9 23.9l-0.2 0.3M43.3 31.6l-0.6 0.0M42.2 25.8l-0.5 0.6M43.8 29.6l-0.5 0.4M43.8 29.7l-0.1 -0.7M43.5 23.8l-0.8 0.8M44.1 26.8l-0.2 0.1M44.9 26.5l-0.2 -0.5M44.9 26.6l-0.3 0.4M45.9 27.3l-0.6 -0.1M45.5 25.1l0.3 0.6M47.0 28.6l-0.7 -0.4M47.4 30.1l0.2 0.6M46.9 23.6l0.7 -0.8M47.2 25.1l0.1 0.3M47.3 21.3l-0.7 0.1M48.5 27.4l0.6 -0.3M49.4 27.1l0.5 -0.5M48.8 24.5l-0.2 -0.6M50.0 25.0l0.6 0.1M50.0 24.1l0.9 -0.1" stroke="#b56a2c" stroke-width="1.30" stroke-linecap="round" fill="none" opacity="0.7"/>
<path d="M32.2 33.0l1.8 1.1M25.7 16.0l0.3 0.6M2.1 25.9l0.9 0.8M6.8 12.3l1.7 0.2M40.5 26.5l0.7 0.4M49.3 11.8l-2.0 0.4M44.2 41.5l-0.1 1.6M11.8 4.3l0.1 0.3M5.7 14.0l-0.9 0.8M10.5 37.3l-0.4 1.2M6.2 31.0l-0.5 0.0M11.1 48.4l0.4 1.1M28.1 15.1l-1.2 1.2M4.5 28.6l-0.1 1.4M44.2 15.3l-0.6 1.7M25.8 46.6l0.5 0.0M16.2 38.1l-1.5 1.0M1.9 45.3l1.1 0.8M18.4 20.6l0.6 0.2M12.8 9.8l-0.3 0.5M47.9 24.0l-1.3 0.0M11.1 9.6l-0.5 0.7M24.1 28.2l0.6 0.1M47.9 46.3l1.3 1.5M47.1 15.6l1.0 0.9M11.0 24.0l-2.0 0.5M6.2 23.0l0.7 1.5M20.0 19.5l-0.4 0.6M49.2 6.2l-1.3 0.3M35.4 12.8l1.6 0.9M20.6 17.6l0.5 1.2M45.5 36.8l1.7 1.4M15.0 20.8l-0.9 0.9M20.1 37.4l-0.3 0.6M32.7 35.3l0.7 1.0M23.3 37.7l-1.5 0.2M29.5 17.3l0.3 0.4M46.1 48.1l-1.5 0.9M46.9 38.7l1.7 1.3M18.9 14.5l1.4 0.4M4.0 25.5l-0.9 0.8M20.2 8.3l0.1 2.0M24.2 15.6l-1.4 0.2M44.5 43.6l0.8 0.5M0.5 44.2l0.2 0.9M36.0 41.5l0.2 2.1M45.0 35.4l0.4 1.0M28.3 5.6l-0.4 1.4M32.3 13.7l-1.7 0.6M32.7 44.3l-0.2 0.3M26.9 35.8l-0.9 0.9M40.5 3.3l-0.3 1.0M11.9 29.0l0.4 1.9M18.4 28.5l0.3 0.1M16.1 45.5l-0.9 0.4M38.0 25.9l-0.7 0.5M21.4 14.7l-0.4 1.9M1.2 27.8l-0.4 0.6M25.0 33.4l0.2 0.5M26.3 39.2l0.7 0.9M7.5 11.1l-0.0 0.4M40.5 46.4l0.2 0.5M13.4 39.1l-0.4 1.2M32.5 15.1l-1.3 1.5M22.4 22.3l0.5 1.0M42.1 29.4l0.5 0.6M23.4 18.7l-0.2 1.1M47.5 24.2l-2.1 0.3M14.3 40.0l-1.0 0.5M22.8 1.8l-0.4 0.1M33.1 7.6l0.5 0.7M32.9 14.0l0.2 1.8M34.5 10.9l-0.1 0.5M4.7 6.6l1.8 0.6M43.9 6.5l1.8 1.0M32.1 17.7l0.9 0.8M47.6 38.5l-0.6 0.8M15.5 32.0l0.3 0.3M22.4 27.6l0.2 0.3M47.3 32.6l-2.2 0.2" stroke="#4150b0" stroke-width="1.80" stroke-linecap="round" fill="none" opacity="0.8"/>
<path d="M19.7 47.1h0M19.1 42.9h0M43.7 19.3h0M49.9 3.6h0M5.7 10.8h0M38.4 22.1h0M45.3 20.9h0M9.7 40.0h0M7.5 46.6h0M14.0 19.8h0M43.9 48.8h0M30.4 1.9h0M40.6 18.2h0M17.2 42.3h0" stroke="#a85f28" stroke-width="1.50" stroke-linecap="round" fill="none" opacity="0.8"/>
<line x1="41" y1="47.3" x2="46.5" y2="47.3" stroke="#111" stroke-width="1"/>
</g></g>
<rect x="366.80" y="825.90" width="50.20" height="49.80" fill="none" stroke="#4a4a4a" stroke-width="0.9"/>
<text x="220.80" y="824.11" font-size="7.35" text-anchor="middle" font-weight="bold" fill="#141414" stroke="#141414" stroke-width="0.2">patient-4</text>
<clipPath id="hc3"><rect x="195.7" y="825.9" width="50.2" height="49.8"/></clipPath>
<g clip-path="url(#hc3)"><g transform="translate(195.7 825.9) scale(1.0040 0.9960)">
<rect x="-1" y="-1" width="52" height="52" fill="#f7f6f6"/>
<path d="M49.0 22.8l-1.2 1.4M10.7 3.9l-0.2 0.5M19.1 44.5l-0.5 0.2M4.1 11.1l-0.3 0.2M11.3 5.4l1.3 0.5M9.2 20.5l-1.2 1.4M20.8 39.3l-0.5 2.0M12.4 18.5l-0.6 2.2M30.9 23.7l0.6 0.6M10.8 49.3l-2.0 0.8M26.4 35.4l0.8 1.1M7.3 21.0l0.4 0.4M46.0 4.8l-1.5 1.0M4.5 24.3l-2.4 0.0M28.2 38.6l-0.6 0.7M27.5 29.8l0.7 1.9M22.2 37.5l1.2 0.2M2.2 32.3l-1.3 0.6M28.3 31.1l0.8 0.7M28.9 32.3l0.5 1.2M16.5 27.7l-0.5 0.8M34.2 42.4l-0.3 2.3M15.5 46.0l0.9 0.6M40.8 1.6l-0.7 2.0M47.2 34.1l0.5 0.9M31.6 3.3l2.1 0.2M31.3 8.1l0.2 0.9M43.5 14.3l-1.2 1.4M15.9 12.6l-0.1 1.1M29.7 16.4l-0.9 0.7M6.8 38.7l-1.6 0.6M27.3 43.6l-0.3 0.1M24.4 0.9l0.4 0.7M23.1 33.9l-0.8 0.4M0.6 50.0l-1.1 0.9M5.6 2.6l-1.4 0.3M43.0 39.2l-1.4 1.4M12.7 12.3l0.4 1.9M39.7 37.9l-0.3 1.3M9.7 33.3l-0.6 1.2M36.3 49.0l-0.5 0.1M14.4 30.6l-0.5 0.7M46.5 23.0l-0.3 0.3M14.0 1.1l-1.1 0.9M47.6 30.3l0.5 0.9M18.8 9.9l1.6 0.6M15.7 22.7l-0.5 0.7M22.0 16.2l0.9 1.4M4.9 20.0l1.6 0.6M14.9 48.3l0.1 1.7M26.2 41.0l-1.0 1.3M1.6 7.1l-0.8 0.8M48.8 31.8l-1.6 1.0M48.2 32.9l-1.2 0.2M13.4 5.5l1.5 1.6M32.9 2.2l1.3 0.1M27.2 18.0l0.8 0.1M43.8 36.3l-0.7 0.5M33.4 9.9l1.3 1.9M10.7 14.6l1.6 1.3M34.4 29.5l-1.1 0.6M45.8 38.9l0.5 0.6M26.9 22.3l-1.3 1.0M37.1 30.2l1.3 1.4M49.1 31.9l-0.5 0.6M5.9 22.4l-0.5 1.7M23.7 27.2l0.4 0.1M6.1 15.9l0.4 0.4M16.9 16.8l-1.9 1.2M49.7 36.9l0.8 0.0M49.9 34.8l-0.6 0.3M12.0 4.9l-0.1 1.1M23.5 6.9l1.1 0.1M46.3 32.6l-0.1 0.4M21.7 18.5l-0.5 1.1M40.1 13.7l-0.2 0.2M7.3 39.8l-0.8 0.4M9.9 48.1l-0.1 0.5M49.4 28.3l0.8 1.1M18.5 28.9l0.3 1.0M36.6 15.3l-1.6 0.9M47.2 7.7l-1.6 0.8M9.1 45.6l-0.0 0.7M10.5 50.0l-0.6 0.5M44.6 1.9l-0.9 1.3M43.5 45.4l-1.4 1.5M23.2 46.7l0.4 1.8M37.5 20.2l-1.5 1.0M8.0 29.4l0.1 1.5M1.5 35.1l0.6 1.8M12.1 1.0l0.2 1.6M38.9 27.0l-0.6 0.2M6.2 20.2l-0.9 1.7M3.3 29.9l0.6 1.3M4.9 8.1l-0.4 0.9M48.8 25.3l0.3 0.6M26.3 25.6l1.6 1.7M25.4 38.6l-1.1 1.7M5.2 48.1l-0.2 0.6M29.7 2.9l0.1 0.5M2.4 22.5l-1.7 0.9M46.8 38.9l-0.6 1.5M47.9 6.5l-0.1 1.4M0.7 43.8l-0.5 0.9M39.7 23.8l-0.9 1.1M43.0 25.2l1.8 0.5M11.5 28.6l-1.8 0.4M3.5 41.9l-1.3 0.1M12.7 23.2l-0.0 0.4M42.4 32.1l0.6 1.9" stroke="#8d98d8" stroke-width="1.30" stroke-linecap="round" fill="none" opacity="0.36"/>
<polygon points="30,36 34,30 38,22 42,16 44,26 42,36 50,38 50,50 28,50" fill="#ffffff" opacity="1"/>
<polygon points="8,32 14,36 22,38 24,30 20,26 10,26" fill="#ffffff" opacity="1"/>
<polyline points="0,16 2,28 6,36 14,40 22,44 26,38 28,28 30,18" fill="none" stroke="#a3acdf" stroke-width="2.2568" stroke-linejoin="round" stroke-linecap="round" opacity="0.25"/>
<path d="M-1.0 15.9l-0.8 0.7M0.4 16.9l-0.9 0.7M0.6 17.5l-1.0 0.6M-0.8 19.1l-0.5 0.0M0.9 19.6l-0.9 0.1M0.1 20.8l-0.6 0.0M2.0 21.1l-1.3 1.2M1.4 22.2l-0.9 0.5M2.2 23.2l-0.9 0.4M1.9 24.4l-0.4 0.4M2.1 25.8l-1.1 -0.3M2.2 25.9l-0.4 0.3M2.5 27.3l-1.6 0.4M3.0 27.4l-1.6 0.1M2.4 28.8l-0.7 1.2M4.4 28.8l-1.4 0.3M3.7 30.6l-0.2 0.2M4.5 30.7l-0.3 0.3M4.0 32.0l-0.2 0.3M4.8 33.3l-0.5 0.7M5.9 33.7l-0.9 -0.1M5.5 34.9l-0.8 0.2M6.1 36.0l-0.9 0.7M6.6 36.7l-0.1 0.3M8.9 35.7l-0.4 0.3M8.4 37.0l0.1 0.3M10.3 37.7l-0.4 0.2M10.8 36.8l-0.2 0.7M11.1 38.9l0.2 0.7M13.2 39.6l-1.5 0.8M13.1 39.2l-0.2 0.3M13.7 39.4l-0.0 0.3M15.5 40.3l-0.9 0.4M15.9 40.4l-0.5 0.5M16.6 41.9l-0.3 0.4M17.4 42.9l-0.6 0.5M18.6 41.8l0.0 0.6M20.5 41.2l-0.8 0.9M20.6 43.0l-0.5 0.6M21.3 42.5l0.2 1.3M21.9 43.3l0.4 1.2M21.9 42.9l0.4 1.4M22.1 41.6l0.5 1.4M23.2 42.1l0.8 0.4M24.0 41.0l0.5 0.1M24.0 40.0l1.0 1.2M24.6 39.0l0.6 0.4M25.0 38.2l0.6 0.1M24.6 37.4l0.7 -0.0M26.0 37.5l0.8 -0.1M26.0 36.3l0.5 -0.1M25.3 35.5l0.8 0.0M27.2 34.1l0.3 0.1M26.5 33.3l0.5 0.5M25.4 32.1l1.6 0.2M27.0 31.4l0.3 0.2M26.5 30.1l0.5 0.1M27.2 29.6l0.6 0.5M27.2 28.8l1.2 -0.1M27.8 28.4l1.0 -0.3M28.6 27.1l0.4 -0.1M27.3 26.4l0.7 0.1M27.6 25.3l1.5 0.5M28.5 24.2l0.5 -0.2M28.6 23.7l1.6 0.1M29.2 22.8l0.9 -0.2M29.0 21.9l0.3 0.3M29.5 21.5l1.2 -0.5M29.0 20.1l1.0 -0.5M29.1 19.3l1.3 -0.2M30.1 15.6l-0.8 1.2" stroke="#5766d6" stroke-width="1.50" stroke-linecap="round" fill="none" opacity="0.8"/>
<path d="M0.2 15.7l-0.7 0.6M1.1 17.1l-0.9 -0.4M0.4 18.5l-0.7 -0.4M2.0 18.6l-1.4 -0.8M0.9 19.8l-0.9 -0.2M0.4 20.0l-1.5 0.9M0.7 21.1l-0.4 -0.0M1.7 22.4l-1.3 -0.3M1.4 22.6l-1.0 1.0M1.4 24.8l-1.1 -0.5M2.1 25.2l-1.4 0.8M2.1 25.8l-0.4 0.1M2.6 26.9l-0.8 -0.0M3.1 27.4l-1.0 0.9M2.1 29.1l-1.2 -0.1M3.4 29.0l-0.9 1.1M3.7 30.8l-0.7 0.0M4.9 31.1l-0.8 1.5M4.2 32.1l-0.3 0.0M4.7 32.7l-0.5 -0.0M5.0 34.4l-1.1 -0.0M6.1 35.4l-1.2 0.3M6.5 35.4l0.1 1.4M7.7 35.7l-1.3 1.0M8.7 36.0l-1.2 1.2M8.6 37.8l-0.1 0.6M10.4 36.8l-0.3 0.5M10.6 37.6l-1.0 1.0M11.7 37.7l0.2 0.8M12.2 39.6l-0.7 0.6M12.7 40.3l-0.2 1.3M14.3 40.3l-1.5 0.7M15.4 40.7l-1.1 0.8M16.0 40.5l0.0 1.1M16.7 40.9l-0.6 0.6M17.8 41.2l-0.4 0.8M18.6 42.0l-0.7 0.8M19.4 42.0l-0.3 1.7M20.2 42.7l-0.6 0.5M21.3 42.5l0.1 0.5M22.0 43.8l1.1 0.6M21.8 43.1l0.6 0.3M22.2 41.6l0.8 0.3M23.0 41.5l1.2 0.4M23.7 40.5l0.8 0.3M24.7 40.7l0.4 0.3M24.5 39.2l0.4 0.7M24.9 37.9l0.8 0.7M24.5 37.7l1.7 0.3M26.3 37.7l0.5 -0.3M25.3 35.7l1.6 -0.2M26.1 35.0l1.2 0.8M27.6 34.5l0.3 0.3M27.5 33.7l0.5 0.5M26.5 31.9l0.3 0.2M28.2 31.2l1.1 0.3M27.2 31.2l1.4 -0.6M28.6 29.8l0.5 0.4M27.4 28.9l1.6 -0.3M27.0 28.2l1.1 0.0M26.8 26.9l1.2 0.3M26.7 26.2l1.5 -0.5M27.7 25.4l0.6 0.1M28.1 24.6l1.0 0.0M27.3 22.7l1.3 0.6M29.7 22.7l0.5 0.5M28.5 20.9l1.2 0.6M29.0 20.6l1.2 0.6M28.0 19.0l1.1 0.6M30.6 18.2l0.7 0.7M30.0 17.9l0.1 0.3" stroke="#2535b8" stroke-width="1.90" stroke-linecap="round" fill="none" opacity="0.95"/>
<polyline points="34,30 38,20 42,10 46,6 48,20 46,32" fill="none" stroke="#a3acdf" stroke-width="2.2568" stroke-linejoin="round" stroke-linecap="round" opacity="0.25"/>
<path d="M33.4 30.1l0.4 0.1M33.9 29.2l1.3 0.7M33.8 28.2l1.2 -0.1M33.5 27.0l1.5 -0.1M35.2 26.8l1.4 0.8M35.0 25.7l0.6 0.8M35.2 24.9l1.1 1.2M36.3 24.3l0.7 -0.1M36.6 23.2l1.1 0.0M36.5 21.9l0.2 0.3M37.9 21.3l0.8 1.3M38.5 21.0l0.8 0.3M36.8 19.5l1.0 0.3M36.9 19.2l1.7 -0.5M37.3 17.9l1.3 0.4M39.2 17.2l0.4 0.5M39.4 17.1l0.8 0.7M39.2 15.5l1.5 -0.2M39.8 14.7l0.7 0.8M40.0 14.1l1.2 1.2M39.3 13.4l1.3 -0.2M41.3 12.2l0.8 0.3M40.6 11.5l1.3 1.0M43.0 11.6l0.3 0.5M41.7 9.6l0.2 0.7M41.7 9.3l1.0 0.2M42.8 7.9l1.6 0.7M43.4 7.5l0.1 0.5M44.7 7.6l1.0 0.6M44.6 6.7l0.3 0.1M45.8 5.7l-0.9 0.4M46.2 6.9l-0.4 0.0M45.5 8.5l-1.4 -0.7M45.8 8.4l-0.6 0.6M46.4 9.8l-0.9 0.0M46.8 10.9l-0.8 0.7M47.1 11.2l-0.6 0.6M48.1 11.6l-1.3 0.9M48.2 13.4l-1.0 0.6M47.4 14.4l-0.8 0.6M48.0 14.3l-1.2 1.3M47.5 16.4l-1.2 0.3M48.4 16.6l-0.4 0.1M48.3 17.3l-1.2 0.8M48.2 18.7l-0.5 -0.2M47.9 19.7l-0.3 -0.1M47.9 20.6l-1.2 0.5M48.2 22.0l-1.0 0.2M49.2 23.5l-1.4 -0.3M47.7 24.0l-1.0 -0.3M47.9 24.5l-0.4 0.1M48.4 25.2l-1.6 -0.0M47.2 27.1l-0.4 -0.5M46.7 27.2l-1.2 0.5M46.7 28.2l-0.9 -0.3M45.9 28.5l-0.8 0.4M47.3 30.5l-1.0 -0.1M46.4 30.8l-1.5 0.8M46.3 30.7l-0.3 0.5" stroke="#5766d6" stroke-width="1.50" stroke-linecap="round" fill="none" opacity="0.8"/>
<path d="M33.9 29.4l1.1 1.2M33.7 29.2l0.8 0.9M35.6 28.7l0.4 0.4M34.8 27.2l0.3 0.4M35.2 27.0l1.4 0.1M34.4 25.5l1.0 0.7M36.0 24.9l0.6 -0.2M35.7 24.3l0.8 0.0M35.9 23.1l0.7 -0.1M35.9 21.9l1.2 0.1M37.7 21.9l1.1 0.4M36.8 20.2l1.6 0.8M38.1 19.3l0.8 1.3M37.3 19.0l1.4 -0.2M38.1 17.9l0.5 -0.1M37.1 16.5l1.1 0.6M39.2 16.4l0.7 0.5M39.5 15.9l1.5 -0.1M40.3 14.9l1.5 -0.3M41.6 13.9l0.4 0.6M38.9 12.9l1.0 0.4M40.4 11.6l0.8 1.2M40.7 11.6l1.6 0.4M41.3 11.2l1.2 0.1M42.6 10.4l1.4 0.5M42.2 8.2l1.0 1.4M43.3 8.6l0.3 1.0M43.2 8.6l1.7 0.3M45.0 7.1l0.3 0.7M45.4 6.0l0.8 1.3M47.0 6.0l-1.6 0.0M46.1 6.7l-0.5 -0.2M47.2 7.8l-0.9 0.1M47.0 8.9l-1.1 -0.3M47.1 9.6l-0.7 0.3M47.2 10.3l-1.2 1.2M48.0 11.9l-1.5 0.1M47.5 12.5l-0.4 0.1M47.3 13.5l-1.4 -0.8M48.2 14.6l-0.8 0.2M47.5 16.0l-1.1 -0.3M48.4 16.5l-1.4 0.3M48.2 17.0l-0.8 0.2M48.3 18.6l-0.5 -0.2M48.7 19.1l-0.9 0.5M48.3 20.1l-0.4 0.1M48.1 21.6l-0.9 -0.7M49.0 22.0l-1.2 0.5M47.5 23.3l-0.4 -0.2M47.6 23.7l-0.9 0.3M48.4 24.8l-0.8 -0.6M47.9 26.3l-1.5 -0.7M47.1 26.7l-1.1 -0.5M47.6 28.2l-1.2 -0.9M46.9 28.6l-1.1 -0.4M47.1 29.1l-0.5 -0.0M46.3 29.8l-0.6 0.3M46.3 31.1l-0.3 -0.2M46.5 32.3l-0.2 0.7" stroke="#2535b8" stroke-width="1.90" stroke-linecap="round" fill="none" opacity="0.95"/>
<path d="M41.6 9.8l-0.4 0.9M16.7 14.9l1.0 1.2M49.1 22.1l-0.4 0.4M13.6 6.4l0.8 0.2M22.4 15.2l-0.7 0.7M25.6 23.5l0.4 1.5M40.2 15.9l-0.5 0.1M21.8 17.1l-0.5 0.6M46.3 27.3l0.7 0.6M36.4 5.1l-1.3 1.3M21.8 9.3l-0.7 0.7M34.2 26.4l-0.5 0.2M50.8 1.2l-1.7 1.1M8.3 5.6l-0.9 0.5M21.4 9.9l-0.4 0.0M43.8 14.7l1.0 0.5M36.2 22.7l0.7 0.3M29.8 22.0l-0.4 1.7M43.2 0.2l-0.4 0.1M26.2 11.4l0.5 1.6M25.3 13.0l-1.2 0.5M48.4 24.9l-0.6 1.7M24.5 24.8l0.4 0.5M42.7 15.0l0.7 0.2M40.7 7.9l-0.8 1.7M3.7 7.9l0.3 0.5M0.3 3.3l-0.5 0.1M32.3 8.0l-0.6 0.3M16.3 13.7l-0.1 0.3M10.6 7.6l1.1 0.1M0.1 9.5l0.3 0.2M15.2 19.7l-0.2 1.5M22.3 22.0l-1.0 1.6M2.9 10.4l-0.6 1.2M3.5 5.5l0.7 0.7" stroke="#2535b8" stroke-width="1.80" stroke-linecap="round" fill="none" opacity="0.8"/>
<path d="M15.8 43.8h0M43.4 5.5h0M47.7 31.9h0M20.6 24.0h0M29.9 48.2h0M22.3 13.4h0" stroke="#a85f28" stroke-width="1.50" stroke-linecap="round" fill="none" opacity="0.8"/>
<line x1="41" y1="47.3" x2="46.5" y2="47.3" stroke="#111" stroke-width="1"/>
</g></g>
<rect x="195.70" y="825.90" width="50.20" height="49.80" fill="none" stroke="#4a4a4a" stroke-width="0.9"/>
<text x="445.50" y="824.11" font-size="7.35" text-anchor="middle" font-weight="bold" fill="#141414" stroke="#141414" stroke-width="0.2">patient-4</text>
<clipPath id="hc13"><rect x="420.4" y="825.9" width="50.2" height="49.8"/></clipPath>
<g clip-path="url(#hc13)"><g transform="translate(420.4 825.9) scale(1.0040 0.9960)">
<rect x="-1" y="-1" width="52" height="52" fill="#f4ede6"/>
<path d="M1.5 43.4l-0.2 0.3M27.5 11.9l-1.9 0.8M15.1 29.9l0.0 0.9M21.7 19.7l0.2 2.3M36.5 1.9l1.0 2.1M38.0 30.3l-0.8 1.6M8.2 20.3l0.5 0.5M34.5 1.8l1.5 1.0M44.7 15.1l-1.8 0.9M7.7 45.7l1.1 0.6M4.2 4.7l-1.0 1.8M5.6 16.4l-0.5 1.5M7.0 34.7l2.1 0.7M33.3 33.1l-0.8 0.2M10.0 31.3l-2.1 0.7M39.7 30.1l0.8 1.8M31.8 43.9l-1.0 0.9M32.3 10.2l1.2 1.5M35.3 1.4l0.9 0.7M28.6 17.6l0.9 2.1M19.3 22.2l-1.0 0.2M26.4 8.4l-1.8 0.9M11.9 31.2l1.5 1.4M24.8 14.3l-1.3 0.1M28.2 48.3l0.8 1.0M45.3 17.8l-1.4 0.7M47.7 29.1l-1.2 0.5M11.2 17.3l0.0 1.6M22.9 18.2l0.9 1.0M34.5 31.8l0.8 0.1M33.8 24.3l0.9 1.2M2.1 25.4l-1.0 0.2M7.8 34.3l-0.3 0.9M12.3 0.1l1.9 0.6M20.7 42.6l-1.8 0.2M17.8 5.7l-0.6 0.2M7.0 21.0l0.6 0.7M8.7 2.6l2.2 0.2M4.8 21.4l-0.6 1.3M43.6 48.0l-0.4 1.1M31.9 17.8l1.1 0.7M25.3 12.2l0.2 1.1M3.9 48.1l-0.1 1.5M4.2 15.4l2.1 0.3M32.2 25.1l-0.7 1.0M26.0 49.8l1.6 0.6M20.7 9.7l1.3 0.8M4.2 40.7l0.2 0.9M21.7 20.5l0.2 0.9M20.2 13.0l-1.1 1.1M17.8 16.7l1.1 2.0M33.4 46.9l-1.7 0.6M30.7 16.4l-0.2 0.5M23.6 35.0l-0.0 1.3M32.8 29.3l-0.3 1.5M19.5 27.4l1.6 0.0M11.2 33.2l1.4 0.3M14.9 23.5l-1.6 0.9M41.8 28.6l-2.2 0.9M43.7 11.0l0.9 0.4M27.6 11.4l-1.4 0.0M48.3 6.4l1.4 0.1M40.7 14.3l-0.5 0.1M46.6 49.8l-1.1 1.3M33.1 13.2l1.7 0.1M36.8 18.2l0.2 0.4M3.4 38.6l0.5 1.7M44.2 1.4l2.2 0.1M10.8 10.1l-0.0 1.9M28.6 42.4l-0.5 0.0M33.4 13.7l-1.4 1.3M46.6 25.6l1.4 1.4M49.5 36.0l-0.6 1.3M33.8 36.3l-0.4 0.7M24.1 24.1l1.2 1.2M31.4 44.9l0.2 1.7M45.2 37.7l-0.9 1.2M4.0 5.0l0.2 1.3M1.9 26.6l0.9 0.2M15.7 16.6l0.6 0.1M41.4 15.6l-0.1 0.8M7.0 12.8l0.6 0.1M9.2 5.2l-1.3 1.6M15.9 9.1l1.1 0.8M13.4 41.7l0.9 0.7M2.6 3.2l-0.2 0.4M17.8 0.8l1.7 1.4M46.6 9.9l-2.0 1.1M25.1 22.4l-0.6 0.3M8.8 27.1l0.1 1.3M48.0 38.7l1.9 0.1M11.3 4.9l0.7 1.2M17.5 23.7l-1.0 0.4M46.5 22.7l-1.2 0.5M20.4 12.9l0.9 2.0M15.9 39.9l-0.2 0.3M30.6 14.8l2.0 0.2M19.3 1.6l0.5 0.8M12.6 8.2l-0.0 1.9M15.8 15.4l-1.4 0.1M9.7 13.2l-0.5 1.0M24.2 32.9l-0.5 1.0M13.3 1.2l0.7 0.4M38.8 34.2l0.0 0.4M43.9 4.9l-1.3 1.0M28.7 35.1l0.0 0.6M30.9 34.7l0.3 0.3M39.5 38.1l-0.3 1.9M20.6 44.5l-1.4 1.2M2.5 16.2l-0.2 0.8" stroke="#a09ac0" stroke-width="1.30" stroke-linecap="round" fill="none" opacity="0.36"/>
<path d="M25.5 6.8l0.2 0.9M32.9 15.5l0.7 0.5M8.8 12.9l0.6 -0.7M27.7 5.0l0.6 0.2M1.2 36.8l0.0 0.1M18.2 44.2l0.7 0.9M33.4 21.6l-0.7 0.2M46.1 29.7l-0.1 0.9M45.2 23.1l-1.0 0.7M19.7 21.9l0.9 1.0M48.3 7.6l0.1 0.2M21.1 0.9l0.8 0.5M29.3 25.1l-1.0 -0.1M39.7 28.2l0.8 -0.1M36.9 5.0l-0.4 -0.8M40.1 31.9l-0.5 -1.0M26.5 47.7l-0.2 -0.2M5.8 10.1l0.5 -0.7M48.2 13.0l0.8 0.4M31.9 13.9l-0.0 -0.5M45.2 19.5l0.5 0.3M16.1 6.2l-0.7 -0.1M20.8 27.1l0.3 0.8M1.3 41.5l-1.0 -0.5M46.1 24.0l0.2 -0.1M22.2 23.3l-0.6 0.3M1.5 27.5l-1.0 -0.0M22.6 5.5l-0.8 -0.3M29.2 49.1l0.6 -0.4M45.8 35.1l-0.9 0.2M4.0 45.9l0.1 -0.9M41.1 5.7l-0.9 0.9M19.7 13.5l1.0 0.8M38.5 34.0l0.6 -0.4M3.8 21.4l-0.3 -0.9M40.6 49.0l-0.7 0.0M22.4 46.1l-0.3 0.3M9.7 18.0l-0.9 0.5M2.1 9.7l-0.0 0.4M45.7 14.6l0.1 0.4M25.1 16.6l-0.2 -0.8M12.1 4.6l1.0 0.7M26.7 10.3l0.0 -0.2M21.4 35.7l1.0 0.2M33.1 28.3l-0.1 -0.3M41.9 45.7l-0.3 -0.3M9.8 46.5l0.4 -0.6M37.6 43.2l-0.7 -0.6M10.6 7.2l0.3 0.5M5.0 44.7l-0.8 0.4M8.0 38.1l-0.5 0.8M32.5 28.6l-0.3 -0.4M15.1 14.4l-0.9 0.2M30.4 1.1l-0.6 0.7M10.0 43.3l-0.6 0.2M23.0 5.7l0.7 0.0M39.3 2.8l0.2 0.6M49.8 49.6l-0.5 0.2M40.1 13.3l0.8 -0.0M20.8 27.2l-0.9 0.8" stroke="#d0a070" stroke-width="1.20" stroke-linecap="round" fill="none" opacity="0.38"/>
<polygon points="32,12 40,14 46,30 44,36 36,28" fill="#ffffff" opacity="1"/>
<polyline points="40,4 46,10 48,24" fill="none" stroke="#c8894c" stroke-width="6" stroke-linejoin="round" stroke-linecap="round" opacity="0.44000000000000006" filter="url(#bl10)"/>
<polyline points="30,24 38,34 46,42" fill="none" stroke="#c8894c" stroke-width="2.5" stroke-linejoin="round" stroke-linecap="round" opacity="0.385" filter="url(#bl10)"/>
<polyline points="16,2 22,14 28,26 36,36 44,46" fill="none" stroke="#b8acc4" stroke-width="6.076" stroke-linejoin="round" stroke-linecap="round" opacity="0.25"/>
<path d="M16.2 2.6l-0.8 0.2M16.1 3.6l-1.0 -0.2M16.5 3.1l-0.9 0.3M19.5 3.4l-1.4 1.2M18.0 5.1l-0.6 0.3M17.9 6.6l-1.6 -0.3M20.3 5.2l-1.3 0.4M20.9 6.2l-0.6 0.3M21.2 7.1l-1.0 -0.1M21.2 6.8l-0.6 1.3M19.7 9.5l-0.4 0.5M20.6 10.1l-0.9 -0.2M22.1 10.1l-0.8 1.2M19.3 12.1l-0.3 0.2M21.1 12.3l-1.1 0.8M24.8 11.4l-0.8 0.4M21.2 14.1l-0.3 0.5M22.5 15.1l-0.5 0.5M22.5 15.6l-0.9 0.7M23.8 16.3l-1.6 -0.2M23.7 17.3l-0.5 0.0M25.5 16.9l-1.2 0.7M23.2 19.0l-1.0 0.4M23.2 19.8l-0.5 0.1M24.5 19.9l-0.8 -0.1M26.0 20.1l-0.3 -0.1M26.4 21.2l-1.2 0.4M28.9 21.1l-0.8 0.3M27.2 22.9l-0.8 0.7M28.7 22.4l-0.9 1.2M27.0 24.4l-0.3 0.4M27.4 25.5l-1.1 0.3M27.0 26.1l-0.6 1.5M25.5 30.0l-0.5 0.1M31.0 25.8l-0.6 0.6M29.0 27.8l-0.3 0.8M30.1 29.3l-0.7 0.8M29.7 29.8l-1.0 0.2M30.1 30.5l-0.4 0.0M32.1 31.4l-1.4 -0.0M31.6 31.2l-0.2 0.8M34.5 30.5l-1.0 0.7M36.6 30.6l-1.1 0.6M35.5 31.9l-1.3 0.9M35.0 33.7l-0.7 0.0M37.5 33.3l-0.8 0.0M35.3 36.4l-0.9 0.2M36.8 35.7l-1.5 0.4M38.6 34.7l-1.1 1.3M36.8 38.7l-1.7 0.4M35.7 38.9l-0.9 1.2M39.8 37.2l-1.1 0.5M38.9 38.3l-1.1 0.9M39.3 40.9l-1.8 0.2M39.9 40.7l-0.2 0.3M41.6 40.6l-1.5 0.2M41.6 41.5l-0.2 0.8M42.3 41.7l-0.3 0.7M41.9 43.5l-0.7 0.5M42.8 44.0l-0.8 0.1M44.0 43.2l-0.9 1.3M43.7 46.0l-1.2 0.7M44.1 45.8l0.0 0.9" stroke="#7078bc" stroke-width="1.50" stroke-linecap="round" fill="none" opacity="0.8"/>
<path d="M16.5 2.3l-0.8 0.3M15.2 2.7l-0.6 1.0M15.7 4.1l-1.0 0.4M17.2 4.7l-1.3 0.2M19.0 5.0l-1.0 -0.1M19.8 4.5l-0.3 0.3M17.4 6.4l-0.3 0.7M16.4 7.9l-1.1 0.8M20.4 6.2l-0.9 1.2M19.5 8.6l-0.4 0.4M21.0 8.4l-0.7 0.2M21.1 9.4l-1.2 1.3M20.7 11.2l-0.4 0.7M21.2 11.2l-0.3 0.2M23.5 12.0l-1.5 -0.1M23.0 12.5l-0.6 0.3M25.7 11.3l-1.1 1.2M21.0 15.8l-0.7 0.1M22.2 16.3l-1.4 0.1M26.6 14.8l-1.2 0.2M23.6 17.1l-0.3 0.1M23.6 18.2l-0.8 1.1M26.2 17.6l-1.7 0.1M23.8 18.6l-0.7 1.1M25.1 19.8l-0.2 0.4M27.2 19.4l-0.8 0.6M26.1 21.1l-0.6 1.3M28.4 20.3l-1.0 1.0M26.7 23.1l-1.0 0.8M27.5 22.7l-0.4 0.8M25.0 25.0l-0.2 0.3M28.5 24.6l-0.7 -0.0M27.4 25.9l-1.1 1.4M28.3 27.3l-0.6 0.1M28.2 28.7l-1.1 0.3M31.2 27.2l-1.1 0.3M27.0 30.2l-0.3 1.2M30.9 29.5l-1.5 0.0M31.5 30.3l-0.7 0.4M33.0 29.5l-0.4 0.8M33.5 30.9l-1.2 0.7M35.8 29.6l-0.7 0.5M33.0 33.2l-0.4 0.5M34.3 33.4l-0.9 0.3M35.6 33.4l-1.3 0.1M33.5 36.5l-0.9 0.3M36.1 34.9l-0.2 0.3M36.5 36.8l-1.5 0.0M35.7 37.5l-1.2 1.0M36.6 37.5l-0.2 0.8M37.2 38.3l-0.4 0.2M37.0 39.3l-0.7 0.5M39.6 38.4l-0.3 0.2M37.9 39.8l-0.4 1.5M40.0 40.0l-0.4 0.9M39.1 42.0l-0.3 0.3M40.7 42.2l-1.3 0.1M41.4 42.2l-0.2 0.3M40.2 44.2l-0.2 0.4M42.0 44.1l-0.1 0.5M40.8 46.5l-0.4 0.3M44.0 45.0l-0.6 0.7M43.8 48.6l-0.6 1.2" stroke="#4150b0" stroke-width="1.90" stroke-linecap="round" fill="none" opacity="0.95"/>
<path d="M16.5 1.7l-0.8 0.5M17.4 1.3l-0.2 -0.5M18.4 1.7l-0.7 0.2M15.1 3.4l-0.3 -0.4M19.5 2.1l-0.3 0.6M18.8 2.5l-0.5 0.2M21.4 2.1l0.5 -0.8M18.3 3.7l0.7 0.2M20.2 3.7l-0.7 -0.1M17.1 5.2l0.3 0.7M16.8 6.3l0.3 -0.4M21.3 4.0l-0.1 0.8M20.3 5.5l0.0 -0.0M17.2 7.0l-0.8 0.5M20.2 6.5l0.1 0.0M16.9 8.1l0.0 0.5M18.0 8.5l0.4 -0.5M17.8 8.6l0.1 -0.8M19.1 8.9l0.3 0.3M18.2 9.3l0.6 0.1M17.7 10.5l-0.2 0.5M16.1 11.3l0.0 0.7M20.1 10.3l0.4 0.3M23.5 8.6l-0.5 -0.7M18.5 12.0l0.5 -0.2M22.5 10.0l-0.5 -0.8M21.4 11.5l-0.4 -0.6M23.3 10.6l-0.8 0.5M20.9 12.7l-0.4 0.5M24.2 11.0l-0.4 -0.5M18.2 15.0l-0.6 -0.6M18.6 14.8l-0.8 -0.1M20.9 14.5l0.9 0.6M19.6 15.2l0.2 0.9M25.0 13.5l0.0 -0.2M23.4 14.2l-0.8 -0.3M25.5 14.1l0.0 0.7M22.6 15.6l0.8 -0.5M21.6 17.0l-0.1 0.4M22.7 16.5l0.5 0.1M22.9 17.3l-0.8 0.8M23.0 17.2l-0.8 0.5M25.6 16.9l0.4 -0.0M21.8 18.8l0.1 0.2M24.9 18.2l0.7 -0.7M23.3 19.0l0.3 -0.6M27.2 18.0l-0.6 0.5M25.0 19.0l0.4 0.6M22.3 21.4l-0.7 -0.0M24.3 20.4l0.6 0.5M24.1 21.4l-0.1 -0.6M22.9 22.0l-0.4 -0.1M27.1 20.8l-0.4 0.2M25.0 21.9l0.8 0.5M26.6 22.0l-0.2 0.3M27.7 21.4l0.4 -0.7M27.2 22.6l0.3 0.0M25.8 23.3l0.2 -0.6M27.0 23.7l0.1 -0.9M23.2 25.6l-0.8 0.4M25.4 25.4l0.1 0.3M25.8 25.2l0.7 -0.4M30.9 23.6l-0.1 0.1M25.3 26.4l0.9 -0.7M27.0 26.8l-0.0 -0.8M25.3 28.2l-0.1 -0.2M27.5 27.5l0.5 -0.1M29.8 25.6l0.1 0.5M27.2 28.9l0.4 -0.8M28.2 28.0l0.8 -0.0M29.9 27.8l-0.2 0.4M29.3 28.2l0.3 0.5M29.5 29.1l0.1 -0.8M31.2 27.8l0.1 -0.2M28.8 30.9l0.5 -0.7M34.3 26.4l0.2 -0.5M28.6 32.1l-0.3 0.6M31.5 29.7l0.8 -0.3M35.8 27.4l0.8 -0.4M32.7 29.9l0.3 -0.9M30.7 32.6l0.1 0.5M31.2 32.2l-0.3 -0.8M33.4 31.5l0.4 -0.7M30.5 33.9l-0.7 0.1M33.9 32.2l-0.9 0.3M33.4 32.6l0.9 -0.4M31.6 35.2l0.3 -0.0M34.0 33.3l0.4 0.4M34.8 33.7l0.0 0.5M32.6 35.5l-0.4 0.2M36.2 33.7l-0.0 0.4M37.1 33.0l0.7 -0.8M34.3 36.2l0.1 0.3M33.9 36.6l0.4 -0.2M35.1 36.7l-0.3 0.6M39.5 33.2l-0.2 0.1M37.0 36.3l-0.1 -0.3M34.5 38.3l-0.1 -0.8M33.7 40.0l0.1 -0.4M35.4 38.6l0.2 -0.8M36.9 38.6l0.2 0.8M39.8 36.2l-0.1 -0.6M39.8 37.4l0.1 0.6M37.0 39.6l0.0 -0.3M41.5 37.1l-0.2 0.7M38.2 39.7l0.1 -0.2M37.6 41.3l-0.3 -0.2M38.9 40.2l-0.8 0.3M40.4 40.1l0.4 -0.6M40.2 40.3l-0.7 0.1M40.5 41.2l-0.2 0.6M39.1 42.3l-0.6 -0.7M41.2 41.7l-0.0 -0.2M40.8 42.0l-0.5 0.2M43.3 41.1l-0.4 -0.6M39.8 43.9l0.1 0.9M43.5 42.0l-0.5 -0.3M40.7 44.2l0.5 -0.8M38.7 46.9l-0.8 0.6M45.5 41.6l-0.9 -0.1M43.3 44.4l-0.2 -0.6M44.0 43.8l-0.4 -0.3M42.8 45.9l0.8 0.4M42.7 46.0l-0.3 0.6M44.0 44.1l0.2 0.9M44.0 45.2l0.1 -0.6" stroke="#b56a2c" stroke-width="1.30" stroke-linecap="round" fill="none" opacity="0.7"/>
<path d="M3.1 37.1l-0.5 0.5M35.0 44.6l0.7 1.1M31.1 20.9l0.7 0.2M37.6 36.3l0.3 0.8M49.8 32.1l-0.7 0.5M15.1 34.3l-1.6 1.0M36.6 18.6l-2.0 0.5M0.3 44.2l2.0 0.7M2.5 4.1l-0.3 1.0M20.5 42.3l0.6 0.7M18.9 46.3l-0.3 1.3M7.3 6.2l-0.4 1.2M22.1 35.0l0.4 0.8M3.1 39.3l0.6 1.5M36.2 21.2l0.6 0.5M39.9 30.6l0.2 0.4M1.0 35.6l0.1 1.9M14.4 33.1l0.7 0.4M6.1 1.8l1.0 1.5M5.3 12.4l1.6 0.2M40.1 18.9l0.5 0.3M14.6 48.9l-0.5 0.7M41.6 17.4l-0.4 2.1M43.7 45.7l-1.0 1.6M41.2 46.2l0.6 0.9M8.8 37.9l1.6 0.0M33.3 46.8l-1.6 0.0M32.8 28.0l0.3 1.4M7.2 36.8l0.7 0.3M11.0 9.7l1.1 1.7M7.9 2.7l-0.4 0.9M21.2 31.5l-1.1 0.6M3.1 0.2l-0.1 0.5M6.8 13.8l-0.8 1.8M42.4 35.7l-0.9 1.1M21.4 11.6l-0.5 0.3M20.4 38.7l-1.3 0.9M34.8 28.2l-0.6 0.0M-0.1 11.4l1.9 1.1M12.4 34.7l0.2 0.4M7.5 2.7l-0.2 0.4M42.2 43.5l1.3 0.6M17.4 49.2l-0.3 0.8M31.6 37.9l-0.3 0.3M5.1 15.8l-1.8 0.2M13.4 48.1l0.8 0.5M41.9 1.3l-0.9 0.0M12.6 42.2l-0.8 1.0M7.4 34.6l2.1 0.5M16.1 27.2l-2.2 0.2" stroke="#4150b0" stroke-width="1.80" stroke-linecap="round" fill="none" opacity="0.8"/>
<path d="M47.5 23.3h0M32.2 13.0h0M37.4 10.8h0M48.9 33.4h0M40.1 2.3h0M37.2 29.0h0M33.7 18.7h0M33.7 23.8h0M49.9 42.6h0M32.4 44.2h0M46.4 2.0h0M43.0 6.1h0M31.1 2.6h0M31.3 8.3h0M45.1 14.7h0M34.2 22.7h0M47.3 26.8h0M43.1 45.0h0M48.7 13.4h0M37.6 6.7h0M46.1 1.9h0M32.0 37.9h0M39.6 20.1h0M40.0 18.2h0" stroke="#a85f28" stroke-width="1.50" stroke-linecap="round" fill="none" opacity="0.8"/>
<line x1="41" y1="47.3" x2="46.5" y2="47.3" stroke="#111" stroke-width="1"/>
</g></g>
<rect x="420.40" y="825.90" width="50.20" height="49.80" fill="none" stroke="#4a4a4a" stroke-width="0.9"/>
<text x="59.50" y="886.91" font-size="7.35" text-anchor="middle" font-weight="bold" fill="#141414" stroke="#141414" stroke-width="0.2">patient-5</text>
<clipPath id="hc4"><rect x="34.4" y="888.4" width="50.2" height="49.8"/></clipPath>
<g clip-path="url(#hc4)"><g transform="translate(34.4 888.4) scale(1.0040 0.9960)">
<rect x="-1" y="-1" width="52" height="52" fill="#f1f0f6"/>
<path d="M48.0 43.6l-0.5 0.6M16.5 35.7l-0.3 0.2M8.3 44.8l1.6 0.6M16.5 32.3l-1.4 0.6M19.6 16.1l-0.6 1.5M20.5 23.3l-0.1 0.8M9.0 28.4l1.5 0.5M40.1 41.4l0.8 0.8M46.2 17.5l-0.7 0.0M42.0 2.0l-1.0 1.7M27.4 31.6l-2.3 0.6M9.0 26.1l1.1 0.1M7.3 8.0l-0.2 0.4M7.7 0.5l-0.7 0.4M3.6 31.1l-1.0 1.3M27.4 26.7l-0.6 0.7M42.1 34.7l-2.0 0.9M42.0 26.0l-0.1 1.8M29.0 1.4l-0.7 0.2M24.2 22.6l1.4 0.4M29.5 40.7l-0.3 0.9M28.2 48.0l-0.9 1.9M0.6 34.5l0.5 0.4M16.6 8.9l0.7 0.2M11.5 12.5l-0.4 0.3M10.0 2.7l-0.0 0.8M26.5 11.9l1.1 0.8M3.6 44.2l-0.2 1.1M27.5 47.4l0.0 1.1M10.8 19.0l-1.2 1.0M13.8 44.9l1.0 0.4M38.8 45.8l0.0 0.3M28.0 21.4l1.0 0.1M44.1 1.9l0.6 0.3M39.9 15.4l-0.9 1.4M0.6 21.9l1.8 0.7M24.5 18.4l-1.7 1.1M3.4 4.7l0.5 0.8M22.0 21.4l-1.7 0.1M48.1 30.9l1.1 1.0M8.0 29.2l2.0 1.0M15.2 44.7l0.6 0.5M12.3 41.2l-1.6 1.0M28.7 7.3l0.3 0.3M46.5 6.4l-0.2 0.2M14.2 30.2l0.4 0.2M44.8 14.4l1.8 0.0M49.5 27.3l1.2 0.1M30.5 12.2l0.5 1.8M32.9 41.6l-1.4 0.2M49.1 5.9l-0.1 1.7M46.4 23.5l0.4 2.1M23.5 2.9l0.1 0.9M32.8 40.8l1.0 0.1M45.0 40.5l-0.9 0.7M47.7 42.4l-1.2 0.8M32.1 6.6l0.3 0.0M2.7 25.5l-1.5 0.3M39.4 37.7l-0.9 0.2M24.9 46.2l0.9 1.5M20.6 7.7l0.8 0.6M1.4 44.1l0.4 0.7M40.0 0.3l-0.9 0.8M4.5 19.9l-0.4 0.0M14.2 8.9l-0.2 0.7M42.4 18.2l-0.5 0.1M11.5 1.3l0.7 0.1M29.4 27.5l-0.5 0.6M29.9 49.2l0.4 0.7M9.3 48.3l-0.6 1.2M24.8 4.0l1.3 1.2M12.6 25.7l-0.7 0.2M23.6 38.1l-1.4 1.5M45.5 28.9l1.0 0.9M46.4 9.9l0.4 0.6M43.9 4.9l1.4 0.7M36.5 21.1l-1.3 1.3M19.5 3.7l-0.9 1.3M47.9 35.1l0.7 0.1M15.4 36.3l0.4 0.7M9.3 13.6l0.0 1.8M42.4 5.0l-0.4 2.3M19.8 6.2l-0.9 1.8M2.0 4.2l0.6 0.9M5.8 4.2l0.6 2.2M28.3 13.8l-0.9 0.1M7.1 6.2l2.2 0.2M26.6 49.0l-0.1 0.4M18.5 17.2l0.4 0.2M34.5 43.6l-0.8 0.2M30.8 12.7l-2.0 1.0M0.6 9.5l-2.2 0.9M42.4 3.2l-0.6 1.8M28.5 27.2l-0.3 0.3M28.5 48.6l-0.2 1.0M6.8 44.5l-1.2 2.0M48.2 34.6l-1.8 0.9M37.2 20.8l-1.0 1.7M13.3 39.3l-0.3 1.0M21.7 45.9l0.4 0.1M24.9 5.3l-2.0 1.0M17.9 17.5l-1.0 1.9M31.9 44.7l0.6 1.1M34.4 37.1l0.4 1.0M42.3 33.4l-0.1 0.8M18.2 4.3l0.4 0.3M11.2 31.2l-0.4 2.0M28.3 17.0l0.9 1.8M1.0 8.2l0.1 0.6M19.9 7.9l-0.8 2.0" stroke="#8d98d8" stroke-width="1.30" stroke-linecap="round" fill="none" opacity="0.36"/>
<polygon points="0,0 20,0 14,8 8,17 10,25 18,35 28,45 34,50 0,50" fill="#ffffff" opacity="1"/>
<polyline points="20,0 14,8 8,17 10,25 18,35 28,45 34,50" fill="none" stroke="#a3acdf" stroke-width="4.34" stroke-linejoin="round" stroke-linecap="round" opacity="0.25"/>
<path d="M19.1 -0.1l-0.5 -1.0M19.6 1.2l-0.6 -1.4M18.5 1.4l-0.7 -0.3M19.3 2.6l-0.8 -0.3M19.1 4.1l-1.0 -1.5M17.6 3.9l-1.3 0.0M16.7 4.5l-0.6 -1.3M16.9 5.9l-0.5 -0.3M16.5 7.0l-1.1 -1.4M16.6 7.1l-0.9 -0.3M14.5 7.3l-0.3 -0.1M13.2 8.0l-0.2 -0.8M13.8 9.4l-0.6 -1.3M13.4 9.4l-0.5 -0.8M13.8 11.0l-0.3 -0.4M12.1 11.1l-0.4 -0.9M11.8 12.2l-0.9 -0.5M9.5 12.0l-1.3 -0.4M12.3 14.7l-0.3 -0.7M11.5 14.7l-1.3 -0.6M8.7 13.5l-1.0 -0.3M11.1 16.2l-1.0 -0.5M8.9 16.9l-0.8 -0.3M10.7 17.1l-1.3 -0.2M9.6 17.2l-0.7 0.4M9.0 19.1l-1.3 -0.1M9.5 19.9l-0.8 -0.1M8.7 21.2l-1.1 -0.4M9.5 20.9l-1.0 0.8M9.6 22.4l-1.4 -0.2M9.7 23.5l-0.9 -0.1M10.4 23.5l-0.7 0.1M10.1 24.6l-0.4 0.3M10.5 25.3l-0.2 0.8M9.9 26.5l-0.3 0.8M12.6 26.0l-0.9 1.4M12.5 27.5l-0.7 0.4M13.1 27.8l-0.8 0.3M14.5 27.5l-0.4 0.5M14.3 29.3l-1.6 0.7M14.1 30.1l-0.8 0.9M15.2 30.7l-0.9 0.8M16.5 30.8l-0.8 0.2M16.1 32.8l-1.3 0.8M17.2 32.0l-0.3 0.8M16.7 33.9l-1.5 0.1M18.3 33.9l-0.5 0.6M19.4 33.7l-0.8 0.7M19.3 35.1l-0.8 0.6M20.0 35.4l-0.3 0.6M19.8 36.3l-0.3 0.3M21.0 37.4l-1.0 0.4M21.8 37.2l-0.3 0.3M23.2 37.7l-0.8 0.7M22.0 39.2l-0.4 0.6M23.8 39.5l-0.4 0.1M23.1 40.0l-0.2 0.4M23.9 41.1l-0.6 1.4M26.0 41.5l-1.0 0.3M25.2 43.2l-0.5 0.2M25.8 43.6l-0.8 1.2M26.8 42.9l-0.4 0.4M28.9 43.3l-1.4 1.0M29.2 44.1l-0.5 0.7M28.6 45.7l-1.5 0.6M28.8 46.1l-0.0 1.5M29.4 47.7l-0.6 1.0M30.7 48.2l-1.0 0.5M33.0 46.3l-1.5 1.0M32.3 48.1l-1.0 0.9M35.4 46.4l-1.4 0.5M33.5 48.8l-0.1 0.6M34.1 50.2l-0.6 0.7" stroke="#5766d6" stroke-width="1.50" stroke-linecap="round" fill="none" opacity="0.8"/>
<path d="M21.3 0.5l-1.5 -0.2M20.7 1.6l-0.4 -0.3M19.1 1.5l-0.5 -0.9M18.6 2.7l-0.3 -1.2M17.0 2.3l-0.2 -0.6M18.5 5.2l-0.6 -1.3M16.8 4.3l-0.8 -1.1M17.3 6.1l-0.5 -0.2M16.5 6.4l-0.7 -0.2M16.5 8.2l-0.4 -1.4M14.2 6.4l-0.7 -0.3M13.0 6.8l-1.3 -0.6M14.5 9.3l-0.6 -0.5M12.8 9.0l-0.6 -0.1M12.6 10.9l-0.6 -1.3M13.1 11.9l-0.7 -0.1M11.4 11.1l-1.7 0.2M11.6 13.0l-0.7 -0.2M10.8 13.8l-0.6 -1.0M12.0 15.6l-1.0 -1.5M8.9 14.3l-0.5 -0.6M10.5 16.1l-1.6 -0.1M8.5 16.4l-1.6 -0.5M8.7 16.7l-1.4 0.3M9.5 17.7l-1.1 0.0M6.8 19.0l-0.8 0.6M7.6 19.8l-1.1 -0.4M9.4 20.3l-1.6 0.7M9.7 21.2l-0.3 0.3M11.2 21.1l-1.3 0.6M10.5 22.5l-1.6 0.6M10.3 23.6l-0.3 0.2M8.8 25.6l-0.3 1.1M11.9 24.4l-0.4 1.5M11.9 26.0l-0.3 0.5M9.9 27.5l-0.2 0.4M12.9 26.0l-0.4 0.7M13.0 28.4l-0.8 0.2M13.0 29.6l-1.0 -0.0M13.2 29.6l-0.3 0.5M15.6 30.3l-1.5 0.0M14.9 31.1l-0.7 0.1M15.8 30.4l-0.3 1.1M17.0 31.3l-0.5 1.2M17.4 31.8l-0.4 0.7M16.2 33.9l-1.0 0.1M17.8 33.6l-0.9 0.8M17.4 35.4l-0.5 0.6M19.1 35.8l-0.4 0.2M20.0 36.5l-1.3 0.2M21.1 35.6l-1.2 0.8M21.3 37.8l-1.3 0.8M21.1 38.6l-1.5 0.5M21.5 39.0l-0.3 0.3M21.8 39.4l-0.5 1.1M21.7 40.3l-0.9 0.9M23.3 41.5l-1.5 0.7M24.7 40.8l-0.3 0.7M26.3 40.7l-1.0 0.4M26.9 40.4l-0.5 0.6M27.1 41.8l-0.7 1.3M27.2 43.3l-1.2 1.0M28.0 43.4l-1.5 0.9M29.5 43.2l-1.1 0.4M30.0 43.9l-0.6 1.6M29.2 46.0l-0.7 1.0M30.6 45.2l-1.0 1.5M30.9 46.0l-0.4 0.4M31.6 48.0l-0.3 0.1M32.9 47.4l-0.2 0.4M32.8 48.9l-0.7 0.9M35.3 47.8l-1.0 0.9M34.1 49.5l-0.1 1.4" stroke="#2535b8" stroke-width="1.90" stroke-linecap="round" fill="none" opacity="0.95"/>
<path d="M15.8 2.8l-1.3 0.5M26.7 25.4l-1.8 1.0M35.9 42.0l0.1 1.2M17.5 31.3l-0.2 1.3M14.0 0.5l1.0 1.1M18.2 42.2l-0.1 0.6M31.7 2.7l1.2 0.2M28.6 14.0l-1.4 0.1M15.9 22.6l-0.7 1.1M49.9 38.9l-0.4 0.1M36.5 11.0l0.8 0.4M17.0 40.1l-0.1 1.3M30.8 38.8l-1.2 0.5M23.3 47.2l-0.7 1.4M36.9 17.6l-0.3 0.2M25.2 49.1l-0.9 0.1M18.6 11.8l-1.6 0.5M15.5 11.9l-1.1 0.6M19.3 7.8l-1.3 0.1M37.1 12.8l0.3 1.1M44.9 19.5l1.4 0.6M42.6 37.5l-2.1 0.4M39.8 15.6l-0.4 1.4M35.8 34.5l-1.0 0.9M33.5 48.0l0.5 1.4M30.9 4.5l-0.8 0.2M19.1 12.2l-0.4 1.2M22.4 29.5l0.7 1.0M44.5 41.7l-0.0 1.3M43.2 27.7l0.4 0.0M34.6 15.3l-0.3 1.8M20.8 6.8l0.3 0.0M38.4 30.8l-0.5 0.1M47.5 43.0l0.8 0.2M17.5 20.8l0.9 0.2M47.7 34.9l0.2 2.2M17.6 3.8l-0.5 0.8M31.6 9.1l-0.3 0.2M41.8 19.6l-0.6 0.9M32.2 12.8l0.9 1.4M34.0 35.7l-0.8 1.4M39.8 6.3l-1.4 1.5M27.2 35.6l0.5 0.2M45.9 27.6l-0.1 0.4M50.2 -0.2l-1.3 0.5M19.6 25.8l0.8 1.5M44.3 42.9l-0.3 0.2M25.3 10.0l-1.0 1.2M22.6 49.3l0.8 0.3M33.0 49.3l0.2 0.3M18.9 42.2l-0.1 0.6M36.5 47.0l-0.2 1.1M14.4 33.2l0.5 0.0M43.3 38.8l0.5 1.2M19.3 28.5l0.4 1.8M30.9 25.4l-0.7 0.3M22.2 31.2l-0.0 0.5M30.3 22.3l-0.2 0.6M35.1 28.4l0.1 0.9M17.5 37.1l1.2 0.4" stroke="#2535b8" stroke-width="1.80" stroke-linecap="round" fill="none" opacity="0.8"/>
<path d="M24.5 38.4h0M40.5 28.2h0M18.7 19.4h0M13.2 26.3h0M29.7 31.5h0M27.0 11.9h0M22.2 11.8h0M45.1 24.5h0" stroke="#a85f28" stroke-width="1.50" stroke-linecap="round" fill="none" opacity="0.8"/>
<line x1="41" y1="47.3" x2="46.5" y2="47.3" stroke="#111" stroke-width="1"/>
</g></g>
<rect x="34.40" y="888.40" width="50.20" height="49.80" fill="none" stroke="#4a4a4a" stroke-width="0.9"/>
<text x="284.40" y="886.91" font-size="7.35" text-anchor="middle" font-weight="bold" fill="#141414" stroke="#141414" stroke-width="0.2">patient-5</text>
<clipPath id="hc14"><rect x="259.3" y="888.4" width="50.2" height="49.8"/></clipPath>
<g clip-path="url(#hc14)"><g transform="translate(259.3 888.4) scale(1.0040 0.9960)">
<rect x="-1" y="-1" width="52" height="52" fill="#f8f3ee"/>
<path d="M12.0 4.9l-0.4 0.7M31.2 7.7l-1.7 0.1M14.7 3.2l-1.9 1.1M16.9 5.3l-2.2 0.2M23.1 5.5l-1.7 1.6M15.1 18.5l-1.7 0.8M45.8 31.1l1.7 1.5M40.5 43.3l0.5 0.8M48.7 46.3l0.4 0.1M6.7 33.1l0.5 0.5M26.0 48.1l0.0 0.5M7.0 15.0l0.4 0.6M4.1 17.0l0.6 0.5M4.2 28.3l-0.8 0.7M5.5 21.2l0.6 0.1M13.1 45.2l1.3 0.2M0.7 17.8l-2.1 0.1M23.5 13.2l1.0 1.1M21.9 13.2l1.9 0.2M50.0 48.1l-0.0 1.1M5.8 49.4l0.1 0.4M48.5 32.6l-1.0 1.0M10.7 40.1l-1.0 1.0M47.0 8.9l-1.5 0.2M5.6 41.8l-1.8 0.8M22.0 30.2l-0.6 1.7M20.8 6.0l0.5 0.9M2.2 8.8l-0.7 1.2M9.4 42.4l0.3 0.0M32.8 44.7l-1.5 0.7M22.6 12.9l-1.7 0.3M9.9 44.0l-1.6 1.7M19.0 21.9l-0.2 0.9M14.9 46.5l-1.8 1.1M37.6 32.6l2.0 0.3M9.9 31.6l-0.3 0.6M35.7 4.0l1.8 0.6M16.2 25.1l-0.6 1.3M42.7 40.6l0.3 0.4M23.9 46.6l1.4 1.3M22.7 47.7l0.7 0.1M38.6 48.9l-2.1 0.3M14.3 26.8l1.3 0.0M24.7 4.7l1.8 1.2M26.7 33.5l-2.0 1.0M47.6 11.9l-0.2 0.4M12.0 18.9l0.6 0.1M31.9 40.7l0.2 0.6M32.5 7.5l-0.3 0.1M11.2 45.6l-0.6 0.8M3.5 32.3l0.0 0.4M46.2 5.1l-1.0 0.9M33.0 5.0l-2.1 1.0M0.4 17.9l-0.6 1.3M43.7 26.6l1.1 2.1M15.2 31.2l0.2 0.3M28.3 21.2l2.0 0.1M33.5 38.4l0.0 1.6M12.5 24.6l-0.5 1.3M24.9 20.1l0.6 0.4M13.7 48.8l0.9 0.5M3.7 16.8l-0.5 0.7M48.5 19.5l2.0 0.8M15.7 23.0l-0.8 0.5M40.1 3.2l0.1 0.8M45.8 17.2l-1.4 1.1M7.1 44.9l-0.7 0.8M2.6 47.1l-0.0 0.4M18.3 10.7l1.3 1.2M29.8 28.9l-0.6 0.3M36.3 24.8l0.4 2.0M34.8 20.0l2.0 0.4M37.4 41.7l-2.1 0.6M22.4 28.4l-0.7 1.4M38.0 4.8l-0.1 1.2M19.5 16.1l1.8 1.4M28.8 49.5l0.4 1.7M30.9 29.7l-0.0 0.3M15.5 41.0l-0.4 0.3M5.9 25.9l-0.6 0.3M12.4 40.3l-0.2 0.3M12.1 4.5l-0.3 0.4M27.5 6.3l0.5 0.4M30.4 30.9l1.2 0.2M18.1 25.0l0.9 0.7M45.1 37.0l-0.5 0.8M29.3 2.5l-0.7 0.5M12.9 6.6l0.0 2.3M1.5 28.7l-0.3 0.7M27.7 1.4l1.4 1.2M21.8 49.6l-0.4 0.4M5.5 6.6l-0.8 0.3M1.2 48.2l-1.6 0.4M34.6 5.3l0.4 0.5M1.5 9.6l0.8 1.5M34.4 25.6l0.6 0.7M15.2 15.4l0.2 1.1M26.6 38.7l0.5 0.2M10.7 26.6l1.8 1.0M37.0 48.7l-0.3 1.2M44.6 47.6l0.8 0.5M0.2 9.7l-1.0 0.8M32.6 27.2l0.7 1.5M30.0 3.1l-0.8 0.2M49.8 32.2l0.6 0.8M20.4 48.1l0.1 1.0M6.1 39.5l0.5 0.0M12.7 19.0l-0.9 1.2M15.5 46.2l-0.5 0.7M40.5 42.6l-0.8 1.8" stroke="#a09ac0" stroke-width="1.30" stroke-linecap="round" fill="none" opacity="0.36"/>
<path d="M24.9 13.0l0.5 0.7M1.1 19.2l0.1 0.7M46.0 25.1l-0.4 0.2M16.5 41.2l-0.8 -0.1M19.0 19.6l1.0 0.7M28.2 33.4l0.2 0.9M8.9 47.6l-0.4 0.6M46.3 12.3l0.2 -0.5M4.4 32.4l0.6 -0.1M41.1 16.0l-0.7 0.3M5.6 8.6l-0.9 1.0M29.5 19.8l0.9 0.3M14.2 4.2l-0.6 -0.3M12.3 46.7l-0.5 0.6M22.8 25.5l-0.6 -0.5M3.2 42.2l0.4 0.1M48.3 8.3l0.5 1.0M33.0 12.7l-0.8 0.8M4.1 37.8l-1.0 0.6M42.2 38.3l0.9 0.2M29.9 31.5l-0.3 0.6M14.5 18.1l-0.9 0.3M30.6 13.2l0.2 -0.1M19.9 49.2l-0.1 -0.3M31.9 28.1l-0.7 -0.6M36.3 10.7l-0.5 0.9M10.2 24.4l0.1 -0.7M11.9 23.9l0.1 0.3M11.1 7.8l-0.3 0.6M42.8 17.7l0.4 -0.7M24.6 21.3l-0.3 0.0M35.5 19.7l0.6 0.3M21.8 19.2l-0.4 0.1M39.6 5.0l-0.3 0.0M3.1 35.8l-0.4 0.3M7.0 27.3l-0.7 0.2M11.3 22.5l0.8 0.9M4.8 18.8l0.7 0.8M20.0 24.6l-0.5 -0.9M19.4 38.0l0.3 0.7M17.2 49.7l-0.0 -0.4M45.8 28.5l-0.7 0.3M35.9 10.6l-0.8 -0.9M31.9 2.9l0.5 0.7M5.1 16.5l-0.9 0.2M32.3 3.7l0.6 0.7M14.7 26.3l-0.9 -0.6M17.4 25.1l0.9 0.8M20.1 46.9l-0.9 -0.4M22.2 49.7l0.8 0.5M34.1 14.1l-0.1 0.7M46.4 1.0l-0.6 -0.7M39.9 20.8l0.1 0.8M14.5 7.0l-0.1 -0.2M23.1 12.4l-1.0 -0.8M0.6 3.3l-0.3 0.5M23.4 2.6l0.3 0.2M43.2 6.5l-0.9 0.5M43.4 22.3l0.7 0.4M34.9 38.6l-0.4 -0.3" stroke="#d0a070" stroke-width="1.20" stroke-linecap="round" fill="none" opacity="0.38"/>
<polygon points="18,20 26,16 34,22 32,30 26,36 20,32" fill="#ffffff" opacity="1"/>
<polyline points="14,18 22,14 32,18 36,28 28,38 18,34 14,26" fill="none" stroke="#c8894c" stroke-width="7" stroke-linejoin="round" stroke-linecap="round" opacity="0.385" filter="url(#bl10)"/>
<polyline points="4,10 16,6 30,8 44,12" fill="none" stroke="#b8acc4" stroke-width="5.207999999999999" stroke-linejoin="round" stroke-linecap="round" opacity="0.25"/>
<path d="M3.9 7.3l-0.2 1.7M5.2 9.4l0.5 0.8M6.9 9.8l0.1 0.5M7.0 7.1l0.2 1.2M8.8 9.3l0.8 0.8M10.2 9.4l0.9 1.2M11.0 6.1l-0.3 1.5M12.7 7.2l-0.1 0.9M12.9 5.5l0.4 0.7M14.5 5.2l0.5 0.6M16.0 3.9l0.6 1.2M16.9 7.4l-0.2 0.4M18.9 4.9l-0.2 1.6M18.9 6.4l0.2 1.2M21.4 5.0l-0.6 1.4M21.4 6.5l0.3 1.7M23.1 4.3l-0.3 0.6M24.2 6.2l-0.4 0.6M25.6 5.2l0.1 0.4M26.3 7.9l-0.6 1.0M27.6 5.6l-0.2 0.2M28.8 6.2l-0.2 0.8M30.4 5.1l-0.5 1.4M31.6 7.4l-0.0 1.4M32.5 10.6l-1.2 1.2M34.3 6.2l0.1 0.7M34.8 8.1l-0.3 0.3M35.9 9.2l-0.5 1.6M37.0 8.0l-0.2 0.3M38.9 10.1l-0.9 1.0M39.8 9.0l-0.6 0.6M40.9 12.8l-1.4 1.1M41.5 10.8l-0.3 0.7M43.3 12.3l-1.1 0.9M44.0 12.0l0.1 0.5" stroke="#7078bc" stroke-width="1.50" stroke-linecap="round" fill="none" opacity="0.8"/>
<path d="M4.6 11.6l0.7 1.5M4.2 7.3l0.9 1.4M6.2 8.3l-0.3 1.5M7.0 6.9l0.2 1.0M7.7 6.8l0.3 0.4M10.4 8.1l-0.4 1.5M10.5 5.0l1.1 1.2M12.1 6.6l-0.3 0.8M14.5 9.4l0.4 1.0M13.7 3.8l0.6 0.9M15.9 3.9l-0.3 1.7M17.1 6.1l0.2 1.2M18.1 3.8l0.8 1.4M19.7 4.2l-0.3 0.9M20.4 6.1l0.2 1.5M21.6 6.5l0.0 1.1M23.6 6.3l0.1 0.3M24.4 7.3l-0.8 0.9M25.4 6.8l0.3 1.1M26.3 6.4l0.4 1.2M27.9 8.3l-0.1 0.5M28.2 6.9l0.6 1.6M31.0 6.5l-0.7 0.7M31.5 7.5l0.1 0.6M33.2 6.9l-0.4 0.8M33.6 6.6l0.0 1.2M34.6 8.9l-0.4 0.7M36.5 8.3l-0.9 1.4M37.9 8.2l-0.4 1.3M37.2 12.7l-0.1 0.6M39.6 9.0l-0.6 0.7M40.7 10.7l-0.2 1.3M40.7 13.2l0.1 0.6M44.4 9.0l-1.0 0.7M43.9 13.1l0.3 1.3" stroke="#4150b0" stroke-width="1.90" stroke-linecap="round" fill="none" opacity="0.95"/>
<path d="M4.2 10.7l0.1 0.6M4.4 11.3l-0.1 0.2M5.0 9.1l0.6 0.3M4.5 7.4l-0.4 0.3M6.9 10.6l0.0 -0.7M5.5 6.6l-0.1 -0.9M6.2 4.7l-0.4 0.3M9.0 12.9l0.8 0.4M9.9 11.8l-0.6 0.2M8.6 7.9l-0.8 -0.8M9.6 6.8l0.2 0.2M9.6 6.7l-0.7 0.7M10.5 5.4l0.0 -0.8M11.2 7.7l0.8 0.7M12.2 6.5l-0.6 -0.5M12.5 7.6l0.3 -0.7M13.5 6.5l-0.5 -0.0M12.6 3.9l0.8 0.9M14.3 4.8l0.7 -0.1M15.9 9.6l0.6 0.7M16.0 6.0l-0.3 -0.5M15.6 8.6l-0.5 0.8M17.0 7.1l0.4 0.5M16.6 10.1l-0.5 0.1M18.4 5.9l-0.6 0.8M18.4 6.1l-0.2 0.7M19.2 8.8l0.5 -0.6M19.5 6.8l0.6 -0.6M20.4 8.2l0.0 -0.7M21.0 4.5l0.8 0.8M21.8 6.8l-0.3 -0.2M22.6 1.6l-0.7 0.1M23.0 7.2l-0.4 -0.1M23.2 5.4l0.0 -0.8M24.5 4.7l0.1 0.8M24.2 7.0l-0.5 -0.6M25.1 8.9l0.2 -0.8M25.4 6.7l-0.2 0.2M26.9 4.6l0.6 -0.6M26.7 6.3l-0.1 -0.8M28.0 5.3l0.6 -0.4M27.7 7.1l-0.3 -0.5M29.2 5.5l0.4 -0.2M28.9 7.3l0.5 -0.2M30.0 8.0l-0.6 -0.4M31.0 4.4l0.7 0.4M31.0 8.8l0.4 -0.9M30.7 10.0l-0.3 -0.4M33.1 6.1l-0.2 0.3M31.4 11.8l0.0 0.7M33.5 9.2l0.2 -0.0M33.1 10.5l-0.9 -0.6M34.4 10.3l0.9 -0.5M35.2 7.6l-0.8 0.8M34.8 13.3l0.3 0.8M35.5 10.8l0.6 -0.7M37.0 10.1l-0.1 0.7M36.5 11.9l-0.8 0.8M38.7 8.5l0.5 0.4M38.7 8.5l-0.2 -0.6M39.7 9.5l0.6 0.7M40.2 7.6l-0.1 0.4M41.0 9.2l-0.2 -0.6M40.5 10.9l0.1 0.1M41.9 10.6l0.7 0.6M41.9 10.6l0.4 -0.9M43.4 9.8l-0.5 -0.1M42.8 11.9l-0.2 0.5M44.0 10.7l-0.4 -0.6M44.0 10.8l0.3 -0.8" stroke="#b56a2c" stroke-width="1.30" stroke-linecap="round" fill="none" opacity="0.7"/>
<polyline points="6,28 12,40 24,44 40,40" fill="none" stroke="#b8acc4" stroke-width="5.207999999999999" stroke-linejoin="round" stroke-linecap="round" opacity="0.25"/>
<path d="M5.2 28.6l-0.7 0.5M7.8 28.6l-0.9 -0.1M9.4 28.8l-1.2 0.6M7.1 31.5l-1.2 0.6M8.6 32.4l-0.9 0.2M7.4 34.4l-0.5 0.3M10.5 33.8l-1.0 1.0M11.0 34.9l-1.4 0.3M11.9 35.8l-0.8 0.6M10.2 38.5l-1.2 0.3M11.2 39.1l-0.4 0.0M10.9 41.1l0.1 1.1M13.3 38.0l0.3 1.3M14.4 41.0l-0.5 0.5M16.2 40.5l-0.6 1.1M17.3 42.3l-0.9 0.6M17.3 42.8l-0.0 1.3M19.1 41.6l-0.7 1.3M20.0 42.6l0.0 0.4M22.3 41.7l-1.1 1.2M22.8 42.8l-0.1 0.9M24.6 44.4l0.0 0.3M25.0 44.1l0.5 1.7M25.4 42.7l0.7 1.3M27.3 43.2l-0.1 1.4M28.3 41.9l0.8 0.8M29.3 42.1l0.2 0.3M30.1 40.3l0.5 1.3M31.5 42.4l0.9 1.3M33.2 41.9l0.2 0.5M34.2 41.9l-0.1 0.3M34.8 38.7l-0.0 0.9M36.5 39.9l0.4 1.2M38.2 43.5l0.5 0.5M38.6 40.1l0.9 1.0M39.9 39.2l0.4 0.5" stroke="#7078bc" stroke-width="1.50" stroke-linecap="round" fill="none" opacity="0.8"/>
<path d="M7.0 26.8l-0.6 0.8M6.8 28.9l-0.3 0.5M7.7 29.3l-0.8 1.3M10.1 30.3l-0.9 0.5M8.7 32.4l-1.6 0.1M9.9 32.4l-1.0 1.2M9.8 34.1l-0.7 1.5M8.8 35.7l-0.3 0.5M11.2 36.0l-1.0 0.7M9.9 39.2l-1.7 -0.3M10.1 38.9l-1.0 1.4M12.0 40.2l-1.3 0.9M13.4 38.5l-0.3 1.5M14.2 40.9l-0.4 0.9M15.3 41.7l-0.0 0.4M16.5 41.0l0.3 1.1M18.8 40.7l-0.2 0.4M19.8 42.5l-0.4 0.8M19.7 44.1l-0.8 1.3M22.1 42.2l-0.1 0.3M22.5 43.4l0.4 1.7M24.5 44.4l-0.0 1.2M25.8 43.3l-0.4 1.3M26.2 42.8l-0.1 0.6M27.4 43.0l-0.1 1.4M29.2 42.2l-0.4 1.4M29.0 40.1l0.5 1.0M31.3 43.7l0.3 0.4M32.6 41.7l-0.3 0.7M32.8 40.6l0.5 1.4M33.9 40.8l0.3 0.6M35.3 40.0l-0.1 0.4M36.7 41.0l0.1 0.5M37.7 39.0l0.2 0.8M39.0 40.5l0.8 0.9M40.4 39.7l-0.1 1.3" stroke="#4150b0" stroke-width="1.90" stroke-linecap="round" fill="none" opacity="0.95"/>
<path d="M5.1 28.5l-0.4 0.4M5.5 28.3l0.9 0.4M6.9 28.9l0.2 0.6M5.3 29.7l0.0 0.3M6.7 30.4l0.5 0.8M7.9 29.8l-0.3 -0.5M8.7 30.8l0.3 0.2M5.9 32.1l-0.8 -0.2M5.9 33.5l0.7 0.3M6.8 33.0l-0.2 -0.2M7.9 33.9l-0.1 0.1M9.5 33.0l0.8 -0.8M10.4 34.0l0.8 0.1M9.2 34.6l0.6 -0.4M9.1 36.0l0.7 -0.0M11.9 34.6l-0.4 0.4M10.6 36.6l-0.8 -0.4M7.3 38.3l0.6 0.3M10.7 37.9l-0.6 -0.5M10.0 38.3l0.8 -0.1M12.8 38.2l0.4 -0.9M11.5 38.9l0.5 -0.8M11.9 40.4l0.4 -0.7M11.9 40.3l-0.3 0.8M14.0 38.0l-0.5 0.3M13.5 39.6l-0.6 0.1M13.9 42.4l0.8 -0.3M14.4 40.8l-0.1 0.3M15.2 42.5l0.3 0.7M16.4 38.9l-0.3 -0.5M17.1 40.7l-0.9 -0.1M17.0 40.9l-0.6 0.4M18.4 40.7l-0.0 -0.2M18.9 39.4l-0.7 0.0M18.7 43.9l0.5 0.4M19.3 42.1l-0.4 0.6M19.7 45.0l0.3 -0.3M19.3 46.0l0.8 -0.5M21.9 42.3l0.8 -0.8M22.2 41.3l-0.8 0.1M22.8 43.5l0.6 0.4M22.8 43.5l0.0 0.7M24.0 43.8l-0.6 0.0M24.6 46.3l0.3 0.1M24.3 40.3l0.9 -0.1M25.4 44.6l-0.3 0.4M26.2 43.1l0.6 0.5M26.1 42.8l-0.7 -0.6M27.5 43.6l-0.5 -0.2M27.5 43.3l0.6 -0.1M28.8 43.9l0.5 0.6M28.6 42.9l-0.8 -0.2M30.6 46.0l0.6 0.8M29.1 40.3l0.2 -0.0M30.6 41.2l-0.3 -0.8M32.0 47.0l0.1 -0.7M31.4 39.6l0.7 0.2M31.9 41.7l0.8 -0.1M33.1 41.4l0.8 0.4M32.6 39.5l-0.4 0.5M34.3 41.4l0.5 -0.6M34.6 42.6l-0.3 -0.7M35.7 42.1l-0.7 0.6M36.5 45.3l0.3 -0.7M36.8 41.9l0.6 0.8M37.1 43.2l0.3 0.9M37.4 39.4l-0.4 -0.8M37.6 40.2l-0.1 0.6M38.5 38.8l-0.1 -0.1M39.0 40.7l-0.4 0.5M40.0 40.5l0.8 -0.5M40.0 36.8l0.2 0.8" stroke="#b56a2c" stroke-width="1.30" stroke-linecap="round" fill="none" opacity="0.7"/>
<polyline points="40,20 44,32" fill="none" stroke="#b8acc4" stroke-width="4.34" stroke-linejoin="round" stroke-linecap="round" opacity="0.25"/>
<path d="M40.8 19.1l-1.1 0.8M42.2 21.1l-0.9 0.2M41.3 21.9l-1.2 0.5M40.4 23.7l-0.6 0.4M42.5 24.6l-0.5 -0.2M43.1 25.5l-0.7 -0.2M42.6 27.6l-1.4 0.6M41.5 29.6l-1.5 -0.6M44.4 29.3l-0.6 0.4M42.8 30.9l-1.1 0.8M43.8 28.9l0.2 1.4" stroke="#7078bc" stroke-width="1.50" stroke-linecap="round" fill="none" opacity="0.8"/>
<path d="M40.3 19.8l-1.5 -0.1M40.7 21.2l-0.9 1.1M41.5 23.0l-0.6 -0.1M41.1 23.5l-0.9 -0.1M41.1 24.6l-0.4 0.5M43.9 26.4l-1.5 -0.5M40.8 27.4l-0.3 -0.0M43.0 28.2l-0.3 0.3M43.5 29.5l-0.7 -0.1M42.6 31.2l-0.4 -0.1M43.2 32.4l0.7 1.0" stroke="#4150b0" stroke-width="1.90" stroke-linecap="round" fill="none" opacity="0.95"/>
<path d="M39.5 20.2l0.1 0.1M41.6 19.5l0.1 -0.3M41.6 20.8l0.7 0.3M38.4 21.9l-0.3 0.9M41.1 22.3l-0.1 0.4M39.7 22.8l0.5 0.9M41.0 23.7l-0.2 0.6M38.7 24.4l0.6 0.2M41.5 24.8l-0.5 -0.2M42.8 24.4l-0.4 -0.9M41.6 26.1l-0.6 -0.2M39.3 26.9l0.8 0.5M41.4 27.5l-0.0 -0.1M43.8 26.7l0.3 0.0M41.6 28.8l-0.4 0.8M43.5 28.2l0.2 0.7M44.0 29.3l-0.2 -0.2M44.3 29.2l-0.5 0.3M45.4 30.2l-0.7 0.5M44.4 30.5l-0.7 0.8M44.0 33.4l-0.7 -0.3M44.0 31.6l0.1 0.1" stroke="#b56a2c" stroke-width="1.30" stroke-linecap="round" fill="none" opacity="0.7"/>
<path d="M36.1 5.5l-1.7 1.2M29.7 20.4l-0.6 1.9M42.1 48.0l-0.4 0.1M46.6 22.5l-0.1 0.8M1.2 5.5l-0.3 1.6M37.3 2.8l-0.5 0.5M17.4 0.1l2.0 0.7M18.2 24.3l-1.4 0.1M11.0 6.0l1.8 0.9M48.2 42.1l0.0 0.7M4.0 3.0l1.2 0.1M14.9 41.4l-0.8 1.6M20.8 31.4l-1.2 1.5M39.7 22.5l-1.4 0.8M17.5 40.0l-1.0 1.3M48.6 1.3l-1.3 1.7M37.2 46.4l-0.3 1.0M20.9 43.8l0.0 0.6M45.6 39.4l-0.3 0.0M46.2 6.6l0.3 0.8M39.5 35.2l0.4 0.2M46.4 6.3l-1.3 1.1M43.2 5.9l-0.5 0.8M12.7 9.9l-0.7 0.8M14.2 20.5l0.1 0.5M37.4 5.6l-0.8 1.9M8.8 0.5l-1.2 1.7M0.7 12.9l-0.4 1.1M48.3 28.8l-0.1 0.7M9.3 17.5l0.5 1.2M21.5 20.5l0.8 0.4M9.6 37.5l0.9 1.7M1.8 7.5l0.2 1.5M35.0 10.5l0.0 0.6M23.9 43.4l1.1 0.8M37.2 41.4l1.1 0.6M11.0 44.4l0.2 1.7M32.7 48.6l-0.4 2.0M23.4 29.2l-0.3 0.0M31.9 8.8l-2.0 0.8M31.9 14.5l-0.4 0.8M13.9 49.4l0.3 0.4M38.0 28.5l1.2 1.1M12.4 12.8l1.3 0.9M22.6 12.8l-0.1 0.4M10.7 34.4l-0.7 0.3M20.9 11.2l-1.0 1.0M20.7 3.6l0.9 0.1M33.3 1.5l-0.7 0.2M30.0 44.5l-1.4 0.3M9.9 6.3l-1.2 1.2M3.3 29.9l0.2 0.2M3.8 26.6l-0.1 1.1M33.1 10.2l0.3 0.2M36.7 41.9l1.7 1.0M5.9 17.0l-0.3 1.9M34.1 20.6l-0.2 0.4M37.4 22.5l1.5 0.5M10.8 43.7l1.1 0.1M18.9 47.0l-1.7 0.7M5.3 22.6l-1.3 0.4M7.7 42.2l-0.1 2.2M12.3 33.0l1.2 0.0M36.8 10.6l0.1 0.4M9.8 28.6l-0.5 1.7M35.8 42.9l0.1 1.2M7.0 14.8l0.5 1.7M4.7 4.6l-0.9 0.1M7.6 2.1l-1.6 0.2M35.9 13.9l-1.3 1.5M38.9 16.0l-0.3 0.4M43.6 20.2l0.4 1.3M12.3 36.2l1.7 1.0M45.3 22.4l-0.3 0.1M18.2 20.7l0.6 0.4M29.4 22.7l-0.1 0.4M6.8 17.9l-0.8 1.9M36.8 35.5l-1.4 0.2M20.4 31.0l-0.6 1.2M1.5 18.1l0.9 0.4M43.4 44.8l-0.5 0.4M40.0 4.0l1.2 0.3M3.9 15.1l-1.2 1.5M39.0 20.0l-0.5 0.2M32.8 16.1l0.8 0.0M39.8 27.0l-1.4 0.9M47.8 35.8l0.4 0.1M41.5 23.7l-0.5 0.9M4.1 38.1l-0.9 0.4M8.9 35.3l-0.2 0.7M19.5 2.0l0.9 0.8M6.5 17.7l-0.4 0.3M28.6 21.0l-1.0 1.9M9.3 14.3l2.0 0.9M41.2 30.5l0.7 1.1M2.2 5.4l0.1 1.0M43.5 32.8l-0.8 1.2M12.7 33.2l-0.6 1.4M16.9 43.1l-0.2 1.4M8.4 8.4l0.5 0.8M45.0 15.9l1.0 1.2M46.6 39.4l1.4 0.2M6.6 10.0l-1.5 0.1M9.9 27.0l-0.5 0.6M6.4 25.9l-0.3 0.6M10.9 24.4l-1.3 0.1M39.9 22.9l-2.2 0.3M1.5 26.2l0.4 1.9M22.8 16.6l0.8 1.7M45.7 43.3l-0.7 0.2M14.1 16.0l1.1 1.0M48.9 32.2l-1.0 0.1M7.1 45.8l-0.3 0.0M12.3 40.3l1.8 0.0M23.8 38.1l-0.3 0.1M13.5 43.0l0.1 1.0M8.0 27.8l-0.5 1.1M25.6 31.6l1.5 0.8M21.2 15.2l-0.2 1.5M46.4 17.4l1.6 1.4M38.8 23.5l-0.1 0.6M9.9 3.9l0.5 0.6M38.8 23.8l0.1 0.6M41.9 23.2l-0.7 1.2M48.5 22.9l-0.4 0.3M45.6 14.6l1.6 0.0M36.4 38.5l1.0 1.0M40.2 28.1l0.4 0.2M6.9 30.2l0.2 0.4M23.4 30.3l1.0 1.7" stroke="#4150b0" stroke-width="1.80" stroke-linecap="round" fill="none" opacity="0.8"/>
<path d="M24.8 38.4h0M28.7 13.6h0M40.0 16.5h0M21.5 20.7h0M37.4 28.6h0M30.5 19.0h0M33.3 24.3h0M15.4 41.2h0M34.3 37.7h0M27.1 31.7h0M15.2 40.7h0M17.1 44.7h0M31.5 25.8h0M34.1 39.0h0M39.2 12.4h0M15.6 20.6h0M26.4 15.4h0M34.6 30.3h0M30.0 30.5h0M17.0 32.1h0M29.5 22.8h0M34.5 28.9h0" stroke="#a85f28" stroke-width="1.50" stroke-linecap="round" fill="none" opacity="0.8"/>
<line x1="41" y1="47.3" x2="46.5" y2="47.3" stroke="#111" stroke-width="1"/>
</g></g>
<rect x="259.30" y="888.40" width="50.20" height="49.80" fill="none" stroke="#4a4a4a" stroke-width="0.9"/>
<text x="113.50" y="886.91" font-size="7.35" text-anchor="middle" font-weight="bold" fill="#141414" stroke="#141414" stroke-width="0.2">patient-6</text>
<clipPath id="hc5"><rect x="88.4" y="888.4" width="50.2" height="49.8"/></clipPath>
<g clip-path="url(#hc5)"><g transform="translate(88.4 888.4) scale(1.0040 0.9960)">
<rect x="-1" y="-1" width="52" height="52" fill="#f6f4f3"/>
<path d="M43.9 17.5l-1.8 1.4M15.6 38.4l0.3 0.6M17.4 37.6l1.5 0.8M17.6 8.5l0.2 1.1M23.0 44.1l-0.8 0.2M49.4 30.6l-2.0 0.3M26.3 12.5l-2.3 0.5M31.2 5.8l-1.6 1.0M44.0 48.8l-1.8 0.1M19.6 26.6l-0.0 1.9M31.3 41.3l-0.1 1.5M48.2 39.6l-1.7 0.4M6.2 20.9l0.5 0.7M6.4 5.5l0.1 1.9M43.4 48.4l-0.1 0.3M9.6 2.9l-0.9 0.4M36.2 22.6l-0.5 2.0M32.9 3.7l-0.4 1.0M48.8 13.4l1.6 1.5M20.7 4.1l-1.8 1.3M24.6 8.4l-0.9 0.4M12.3 2.2l-0.7 0.3M6.0 18.2l-1.4 1.9M10.6 30.9l1.4 1.6M24.4 34.2l-1.2 0.7M23.5 0.5l1.5 0.9M38.0 28.9l1.8 0.3M42.5 42.8l-1.2 1.2M17.5 18.1l1.4 0.9M17.0 40.5l0.6 0.6M4.3 14.0l-1.6 1.3M45.8 1.8l-0.8 1.2M17.5 47.0l-0.5 0.8M41.5 22.1l0.1 1.3M23.8 1.3l-0.8 0.5M22.5 8.8l-0.1 0.4M1.5 10.5l-1.6 0.6M36.1 4.6l0.3 1.8M37.2 22.5l1.1 0.3M47.4 44.5l-0.4 1.0M30.1 28.8l0.2 2.1M28.2 4.8l-1.2 1.3M5.1 26.2l-1.7 0.1M33.7 23.9l0.6 2.3M14.0 23.2l1.3 0.4M33.1 34.6l-0.8 0.1M10.4 17.9l1.1 1.9M10.4 23.6l-1.2 0.0M22.9 20.9l0.5 0.8M41.8 0.7l2.0 0.4M36.2 21.2l0.1 1.3M12.8 21.7l0.7 1.4M16.8 29.4l2.4 0.3M0.7 23.6l0.2 0.5M48.7 22.4l0.8 0.5M9.5 27.3l-2.3 0.0M11.5 35.5l-0.4 1.9M7.8 2.3l2.0 0.8M2.7 2.1l0.1 0.4M8.7 47.7l1.6 1.0M42.2 22.8l0.1 0.7M16.4 26.7l-0.3 1.4M18.1 44.3l0.1 1.1M23.8 42.1l-0.6 1.8M41.3 17.8l-0.3 0.4M24.2 23.1l0.2 0.6M40.1 17.1l0.2 0.5M43.3 43.3l0.9 0.6M14.2 9.4l-1.4 0.8M45.5 34.4l1.0 1.7M5.3 29.4l-0.0 0.5M14.4 26.0l0.4 0.2M30.8 48.8l-0.6 2.3M24.3 5.1l1.1 0.6M43.7 40.6l-1.5 0.1M37.7 27.5l1.2 0.7M13.9 40.6l-0.6 0.4M6.6 14.5l0.7 0.0M47.9 46.2l0.4 2.1M9.5 50.0l-0.3 1.5M13.9 0.3l-0.2 1.6M35.2 38.8l-0.3 0.1M34.0 4.5l-1.3 0.7M0.4 19.9l-1.9 1.0M46.1 25.7l-1.0 1.4M24.7 38.5l0.7 0.4M30.8 37.2l-0.4 0.0M49.9 15.3l0.7 1.6M49.6 10.3l0.7 2.1M42.4 20.7l1.3 1.5M10.0 18.4l0.8 0.0M22.4 25.2l-1.2 1.1M11.4 19.8l0.4 0.4M8.1 47.9l-1.7 1.2M36.0 13.3l-1.0 1.0M39.4 29.0l-0.2 0.5M43.2 35.3l-0.2 0.8M33.2 20.7l1.5 1.2M35.0 40.3l-1.1 0.0M29.9 3.9l-1.0 1.8M21.0 1.0l-0.7 0.9M9.4 37.6l0.4 1.3M30.0 22.6l-0.5 0.8M11.5 23.3l-0.8 0.6M9.4 13.1l0.3 0.5M23.5 28.9l-0.5 0.0M13.2 7.9l0.8 1.9M8.1 25.6l0.5 2.0M27.8 50.0l-2.0 1.0M39.0 5.5l2.2 0.8" stroke="#8d98d8" stroke-width="1.30" stroke-linecap="round" fill="none" opacity="0.36"/>
<polygon points="0,0 5,0 5,50 0,50" fill="#ffffff" opacity="1"/>
<polyline points="9,-1 8,15 9,30 8,50" fill="none" stroke="#a3acdf" stroke-width="3.472" stroke-linejoin="round" stroke-linecap="round" opacity="0.25"/>
<path d="M8.9 -1.1l-0.5 0.1M10.2 -0.3l-0.7 -0.1M10.6 0.3l-1.3 0.1M8.5 1.4l-1.7 -0.1M9.5 2.2l-0.8 -0.5M8.6 2.9l-1.2 0.7M8.2 4.4l-0.6 -0.5M9.1 5.4l-1.3 -0.2M9.9 5.6l-1.0 -0.6M8.9 6.9l-1.3 -1.1M9.4 7.2l-0.8 0.0M7.6 8.3l-0.9 0.6M9.4 9.3l-0.4 -0.3M9.1 9.3l-1.1 0.5M7.5 10.5l-1.6 0.5M9.4 11.9l-0.5 0.1M8.1 12.7l-0.8 -0.8M7.9 12.8l-0.3 0.2M8.7 14.8l-0.8 -0.6M9.0 14.6l-1.6 -0.1M8.0 15.9l-1.4 -0.7M9.3 16.2l-1.1 0.5M8.0 17.8l-0.4 0.1M8.7 17.3l-1.2 1.0M7.8 19.2l-0.4 -0.1M10.1 19.7l-1.2 0.3M8.9 20.8l-1.4 1.0M10.4 21.5l-1.7 -0.1M9.4 22.8l-0.7 0.2M9.6 23.3l-1.1 0.2M8.6 23.9l-0.4 0.0M10.6 24.6l-0.8 -0.0M9.8 26.1l-0.4 0.3M7.9 26.3l-0.6 0.3M9.3 26.5l-1.5 1.0M7.6 27.8l-0.5 0.4M7.2 29.8l-0.6 -0.3M9.5 30.6l-1.7 -0.2M10.4 31.2l-0.9 -0.1M8.1 31.0l-1.1 0.5M10.2 32.9l-1.4 0.2M8.7 33.9l-0.9 -0.5M9.5 34.3l-0.9 -0.6M9.4 35.3l-0.6 0.2M9.4 35.3l-1.1 0.6M9.6 37.3l-1.5 -0.5M9.5 37.7l-0.3 0.1M9.6 39.1l-1.6 -0.7M8.4 39.9l-1.3 -0.7M8.5 40.0l-0.7 -0.5M9.0 40.9l-1.6 0.6M9.1 41.5l-1.0 -0.1M10.1 42.7l-1.4 0.7M8.3 43.9l-0.7 -0.2M9.1 44.3l-1.2 0.7M9.2 44.5l-1.3 0.2M9.7 45.2l-1.3 0.6M9.3 46.9l-1.1 0.3M8.1 47.5l-0.4 0.1M8.2 48.2l-1.0 -0.4M8.4 48.8l-0.9 -0.2M7.2 49.8l1.0 1.4" stroke="#5766d6" stroke-width="1.50" stroke-linecap="round" fill="none" opacity="0.8"/>
<path d="M9.4 -1.1l-0.9 0.4M10.3 -0.1l-1.2 0.8M8.8 0.6l-0.5 -0.3M10.5 2.2l-1.6 -0.1M8.1 2.0l-0.4 0.3M8.7 3.2l-1.2 0.3M9.3 4.6l-1.0 -0.1M7.7 4.8l-0.5 -0.0M9.3 5.6l-1.1 0.5M7.8 6.3l-0.4 -0.2M9.4 7.9l-0.7 -0.5M9.8 8.3l-1.0 0.2M8.5 9.3l-1.5 0.0M7.7 9.6l-0.5 -0.0M9.6 10.8l-1.0 -0.4M9.1 12.3l-1.1 -0.6M9.0 12.3l-0.5 -0.2M8.8 13.3l-1.7 0.3M8.8 14.3l-0.5 -0.4M9.5 14.7l-0.5 0.4M9.6 15.2l-1.6 0.3M9.0 16.8l-0.4 -0.1M8.1 17.4l-0.6 -0.0M7.7 18.8l-1.2 -0.3M8.3 19.0l-0.5 -0.1M8.3 19.5l-0.8 0.6M8.3 20.9l-0.4 0.0M10.5 21.2l-1.0 0.5M9.1 23.1l-0.6 -0.4M10.0 22.9l-1.2 0.8M9.3 24.0l-0.7 -0.1M10.0 24.7l-1.3 -0.2M7.6 25.4l-1.4 0.5M9.0 26.9l-1.0 -0.5M9.1 27.0l-1.5 0.3M8.0 27.9l-0.9 0.8M10.5 28.6l-1.4 0.2M9.7 29.6l-1.0 -0.1M8.8 30.4l-1.5 0.7M10.2 31.4l-1.1 0.6M10.0 33.0l-0.5 0.0M10.5 33.3l-0.4 0.0M10.0 34.0l-0.7 0.2M10.0 34.9l-0.6 -0.4M9.5 35.2l-0.9 0.6M9.5 36.8l-1.3 -0.3M10.1 37.5l-1.4 -0.5M9.7 38.6l-1.2 -0.4M7.9 39.7l-0.6 -0.3M9.7 40.2l-0.7 0.3M8.7 41.0l-1.1 -0.2M7.8 41.5l-0.4 0.1M8.7 41.9l-1.3 0.7M9.0 43.0l-0.8 -0.3M9.5 43.6l-1.1 0.2M8.8 45.5l-0.5 -0.3M9.8 46.2l-0.6 0.1M7.6 45.9l-1.2 0.9M7.9 48.0l-0.3 -0.3M7.9 48.6l-0.4 -0.2M9.7 48.7l-1.1 0.3M8.0 48.5l-0.1 0.4" stroke="#2535b8" stroke-width="1.90" stroke-linecap="round" fill="none" opacity="0.95"/>
<path d="M27.0 12.6l-0.3 1.6M18.3 47.3l0.1 1.5M18.1 39.0l0.4 1.8M29.3 6.0l0.1 1.0M28.1 37.9l-0.1 1.8M33.1 7.4l0.3 1.9M28.6 30.0l1.0 1.5M12.0 -0.5l0.5 2.0M20.7 30.9l0.4 0.8M16.5 6.7l0.3 1.2M44.2 11.7l0.8 1.2M47.6 11.0l0.6 1.3M21.6 22.3l0.8 2.0M39.6 25.0l0.3 0.8M22.5 17.3l0.2 1.4M26.6 3.0l0.0 0.6M43.5 20.2l0.1 1.2M15.3 10.7l-0.3 1.2M12.5 44.9l-0.2 1.7M18.2 31.1l0.0 0.4M25.1 33.3l0.2 1.2M12.5 29.7l0.1 0.8M16.6 39.2l0.5 2.0M15.7 15.9l-0.2 1.9M22.5 33.2l0.6 1.1M43.1 27.0l-0.1 1.7M22.6 47.9l1.1 1.9M13.8 17.5l0.3 1.4M23.3 1.9l0.2 0.5M22.8 38.9l0.1 1.2M25.5 27.0l0.2 0.5M26.0 40.3l0.8 1.1M28.1 16.9l0.0 0.9M14.7 16.9l-0.1 0.8M25.6 38.5l-0.3 1.4M28.8 1.4l0.8 1.7M16.8 44.9l0.1 0.6M23.4 25.6l0.5 1.2M36.3 -0.6l-0.4 1.6M16.6 44.4l-0.3 1.5" stroke="#2535b8" stroke-width="1.80" stroke-linecap="round" fill="none" opacity="0.8"/>
<path d="M32.7 8.1h0M20.3 31.7h0M23.6 37.8h0M37.4 1.9h0M18.7 11.3h0M25.8 9.0h0" stroke="#a85f28" stroke-width="1.50" stroke-linecap="round" fill="none" opacity="0.8"/>
<circle cx="31.00" cy="38.00" r="1.00" fill="#1a1a40" opacity="0.8"/>
<line x1="41" y1="47.3" x2="46.5" y2="47.3" stroke="#111" stroke-width="1"/>
</g></g>
<rect x="88.40" y="888.40" width="50.20" height="49.80" fill="none" stroke="#4a4a4a" stroke-width="0.9"/>
<text x="338.00" y="886.91" font-size="7.35" text-anchor="middle" font-weight="bold" fill="#141414" stroke="#141414" stroke-width="0.2">patient-6</text>
<clipPath id="hc15"><rect x="312.9" y="888.4" width="50.2" height="49.8"/></clipPath>
<g clip-path="url(#hc15)"><g transform="translate(312.9 888.4) scale(1.0040 0.9960)">
<rect x="-1" y="-1" width="52" height="52" fill="#f5f1ed"/>
<path d="M44.8 9.8l0.5 0.2M37.7 42.9l-1.7 0.0M32.0 34.4l0.1 1.4M7.2 2.1l-1.8 0.8M48.2 37.0l-0.2 0.6M43.4 26.5l-1.8 0.8M39.3 31.6l-1.0 0.7M35.7 26.3l-0.8 2.2M44.5 35.7l-0.2 0.8M42.0 20.5l0.8 1.9M23.9 34.9l1.6 1.0M47.7 30.7l-1.3 0.7M36.0 22.2l1.3 1.9M32.5 46.3l0.4 0.7M27.0 29.6l0.5 0.1M30.1 1.3l2.1 0.9M47.8 45.0l1.4 1.9M18.8 40.4l1.4 1.8M8.5 3.1l1.3 0.9M3.5 33.3l-1.7 1.1M41.8 34.2l-0.0 1.4M13.3 27.0l-0.4 1.3M44.7 39.3l1.2 1.8M16.7 25.5l1.6 0.6M3.0 7.7l-2.1 0.9M26.2 39.9l0.0 0.4M7.1 30.5l-1.1 0.8M46.9 45.8l0.5 0.0M33.4 47.1l-0.5 1.8M30.2 32.5l2.0 0.5M41.1 42.7l-1.8 0.2M6.1 28.9l1.9 0.1M47.4 11.5l1.9 0.7M45.4 12.1l-1.6 1.0M4.2 30.3l-1.1 0.1M0.5 0.6l-1.0 2.1M9.6 33.0l-0.1 1.3M32.5 20.5l0.6 1.1M37.3 30.4l0.6 0.8M4.1 42.1l0.1 0.6M46.9 30.8l-1.0 0.6M11.7 11.4l-1.0 2.1M14.7 24.3l0.1 1.6M40.8 31.5l1.7 0.0M22.6 45.9l-1.6 1.0M49.5 43.0l1.7 1.6M30.0 27.2l1.0 1.8M30.2 29.4l-0.3 2.3M28.0 32.7l0.3 0.0M18.2 39.4l-1.1 0.9M16.4 30.5l-0.9 0.2M34.3 3.5l-0.0 0.8M49.6 27.5l-1.6 1.5M26.0 28.4l-0.4 1.8M43.4 28.2l-0.0 0.8M38.8 47.2l-0.5 0.6M49.9 27.6l-0.6 0.2M28.2 6.8l-0.1 0.5M40.0 24.7l-0.8 0.4M27.5 8.8l0.6 0.5M28.6 2.8l-1.5 0.5M29.7 21.2l-1.6 0.2M11.7 19.6l1.3 0.5M1.2 13.4l-0.5 1.0M14.8 34.6l0.3 0.4M35.9 35.8l0.5 0.3M44.9 28.5l0.6 0.0M40.3 2.3l1.7 0.9M22.0 8.1l0.3 0.1M4.6 25.7l0.1 0.3M30.0 41.3l1.7 1.0M39.2 5.7l-0.7 0.8M49.5 21.8l-1.0 1.6M2.6 32.6l0.9 0.1M27.1 4.5l-0.4 0.2M20.5 2.8l-1.3 1.6M24.4 8.3l-2.2 0.8M32.0 43.4l-1.3 1.8M47.8 16.7l0.1 1.5M42.9 4.3l-0.0 1.5M16.5 15.7l-1.2 2.0M41.0 48.0l-1.2 0.6M37.6 9.5l0.8 0.5M10.6 1.0l0.7 0.9M29.3 24.6l-0.0 1.7M16.5 23.8l-0.9 1.3M26.1 35.2l1.2 1.9M21.9 16.8l-0.4 1.4M47.7 7.6l-0.6 0.6M1.5 25.2l-0.2 0.7M46.7 41.0l2.4 0.1M22.2 48.1l0.5 2.2M16.3 8.2l1.3 1.1M24.5 24.0l-0.6 0.3M28.0 15.4l1.0 0.3M9.8 36.6l-1.7 1.1M37.7 34.7l-1.2 1.0M9.5 14.8l-0.3 1.4M9.6 44.9l-0.2 1.5M32.3 13.3l1.5 1.5M33.2 21.4l-1.6 1.5M23.7 44.9l-0.2 0.9M33.7 14.9l0.8 1.8M31.0 35.0l-0.3 0.1M46.4 36.8l0.4 0.4M6.1 29.1l-0.8 0.6M33.7 30.9l-1.2 1.7M44.0 15.3l0.7 2.1M40.3 44.3l0.8 0.4M10.8 43.5l1.0 1.3" stroke="#a09ac0" stroke-width="1.30" stroke-linecap="round" fill="none" opacity="0.36"/>
<path d="M48.8 34.0l-0.2 -0.1M23.7 8.5l0.5 0.4M5.2 37.9l-0.9 0.5M5.4 36.2l-0.7 0.8M28.7 46.3l-0.3 -0.1M27.2 38.5l-0.6 0.5M38.6 12.1l-0.3 0.2M35.9 44.1l0.7 0.6M3.6 43.5l-0.3 0.5M18.9 1.9l-0.9 -0.3M37.1 49.7l-0.3 0.7M39.2 25.2l0.4 0.5M33.3 30.7l0.1 0.8M26.9 35.1l-0.0 0.5M30.3 7.0l0.7 -0.4M5.5 6.9l-0.4 0.0M28.3 21.9l-0.8 0.5M4.7 41.3l-0.6 -0.4M6.7 45.9l0.1 -0.2M34.4 30.5l0.3 0.5M37.7 40.8l-0.9 -1.0M38.2 48.6l0.1 0.0M43.3 26.2l-0.2 0.7M20.0 21.1l0.5 0.9M39.2 9.3l0.2 -0.9M29.3 30.0l-0.4 0.4M8.5 27.4l0.5 -1.0M31.8 17.9l0.9 -0.1M38.3 41.1l0.6 0.9M46.6 0.8l-0.6 -0.9M46.8 37.6l1.0 0.9M7.6 10.0l0.3 -0.6M36.0 44.1l-0.7 -0.9M26.1 14.2l-0.3 -0.1M16.7 30.0l0.3 -0.8M20.0 28.6l0.1 -0.0M13.2 48.0l-0.4 1.0M7.5 34.7l-0.3 0.8M23.4 34.4l0.7 0.1M19.1 3.0l0.3 0.6M36.9 49.1l-0.4 0.9M16.9 23.4l-0.2 -0.8M20.1 17.5l0.3 -0.7M11.0 20.1l-0.8 -0.1M28.7 15.2l0.4 0.5M33.2 47.2l-0.4 0.6M31.6 34.6l-0.3 -0.4M39.1 30.1l0.3 -0.9M17.0 42.5l-0.7 -0.8M11.5 28.5l0.4 0.5M33.6 29.5l0.4 -0.6M49.7 22.5l-0.4 -0.7M35.3 0.1l0.8 0.6M39.0 5.4l-0.0 -0.7M35.1 10.8l0.7 -1.0M17.0 27.0l-0.6 0.3M2.8 32.8l0.7 -0.8M3.6 28.9l0.8 -0.5M35.4 1.8l0.1 0.3M30.5 42.0l-0.5 0.6" stroke="#d0a070" stroke-width="1.20" stroke-linecap="round" fill="none" opacity="0.38"/>
<polygon points="0,2 6,16 16,28 30,38 50,42 50,50 0,50" fill="#ffffff" opacity="1"/>
<polyline points="2,2 6,16 15,28 28,38 50,43" fill="none" stroke="#c8894c" stroke-width="3" stroke-linejoin="round" stroke-linecap="round" opacity="0.4675" filter="url(#bl10)"/>
<polyline points="4,0 8,14 16,26 28,36 40,40 50,40" fill="none" stroke="#b8acc4" stroke-width="3.9059999999999997" stroke-linejoin="round" stroke-linecap="round" opacity="0.25"/>
<path d="M4.3 0.6l-1.3 -0.3M4.4 1.6l-1.0 -0.2M4.7 1.5l-0.8 0.8M4.9 1.4l-1.0 1.3M4.7 3.0l-0.8 0.4M5.7 3.9l-1.4 -0.4M7.1 4.4l-1.6 0.7M5.6 5.4l-1.3 -0.1M4.8 6.5l-1.2 0.5M7.9 6.0l-1.1 0.7M8.5 7.5l-0.9 -0.1M8.2 8.6l-0.6 -0.2M6.7 9.3l-0.6 -0.1M7.4 9.2l-1.3 0.9M6.4 11.2l-0.6 0.6M7.2 11.4l-0.9 0.8M8.2 12.9l-1.6 0.1M8.4 13.2l-0.8 0.7M8.0 13.9l-0.4 0.3M8.9 13.8l-0.4 0.9M8.1 16.0l-1.0 0.8M10.2 16.0l-0.6 -0.0M10.5 16.4l-1.3 0.2M10.7 17.3l-1.3 0.5M11.8 17.5l-0.4 0.1M11.3 19.3l-0.4 0.0M13.0 18.6l-0.6 -0.0M13.2 19.6l-1.1 0.7M13.2 20.7l-0.3 0.5M13.5 21.7l-1.0 0.5M13.9 22.2l-1.1 0.4M13.9 23.7l-1.5 0.9M15.2 24.0l-0.3 0.5M16.4 23.9l-1.0 0.9M14.6 25.0l-0.5 1.2M15.7 26.9l-0.6 0.6M17.7 25.9l-0.9 0.5M18.2 26.2l-0.4 0.6M18.0 26.6l-0.6 1.6M18.8 27.4l-0.9 0.9M19.7 28.7l-0.7 0.3M21.7 28.1l-1.4 0.8M20.4 29.4l-0.8 1.4M22.8 28.6l-0.7 0.7M20.5 31.6l-0.2 0.6M23.2 31.1l-1.2 0.8M23.7 32.0l-0.7 0.3M24.2 31.1l-0.4 1.4M25.4 31.3l-1.1 1.4M24.3 34.9l-1.4 0.3M25.5 33.8l-1.7 0.7M26.3 34.4l-0.9 0.5M26.7 35.0l-0.2 0.3M27.5 35.4l-0.1 1.0M27.7 35.4l0.3 1.3M29.5 36.6l-1.2 1.1M30.2 35.9l-0.4 0.2M30.4 36.8l-0.3 1.1M31.4 36.4l-0.1 1.0M32.0 36.4l-0.6 0.7M33.4 35.9l-0.4 1.4M33.3 37.4l-0.6 1.6M35.0 37.5l-1.0 1.4M35.6 38.6l0.1 0.3M35.9 37.7l-0.1 0.9M37.3 37.5l-0.9 1.0M37.7 37.7l0.1 1.3M38.9 39.1l-0.2 0.5M39.0 38.2l0.4 1.4M39.4 38.7l0.6 1.1M40.2 38.0l0.7 0.9M41.8 40.1l-1.0 1.2M42.8 38.4l-0.0 1.2M42.7 39.6l0.6 1.5M44.7 40.2l-0.6 1.4M45.1 39.5l-0.6 0.8M45.8 39.8l-0.5 0.7M46.3 37.8l0.1 0.5M47.8 39.1l-0.0 0.9M48.2 40.3l0.4 1.0M49.0 40.4l0.3 1.0M49.5 39.5l0.1 1.2" stroke="#7078bc" stroke-width="1.50" stroke-linecap="round" fill="none" opacity="0.8"/>
<path d="M4.8 0.3l-1.2 -0.1M3.3 0.6l-0.3 0.2M6.0 1.4l-0.9 0.3M4.4 1.8l-0.7 0.5M5.1 2.4l-0.4 0.1M7.9 3.6l-1.4 0.6M6.3 4.7l-1.2 0.3M4.6 5.4l-0.4 0.4M4.8 6.7l-0.8 0.2M6.4 7.4l-1.4 0.1M5.6 7.9l-0.5 0.3M5.6 8.7l-0.8 0.1M9.1 9.3l-1.6 -0.2M7.8 10.4l-1.0 -0.1M7.6 10.9l-1.5 0.2M5.8 12.8l-1.1 -0.5M7.8 12.5l-0.8 0.2M9.1 13.1l-0.4 0.4M10.2 12.6l-1.7 0.3M9.7 14.3l-0.2 0.4M7.6 16.1l-0.4 1.3M11.5 15.0l-1.2 0.7M10.5 17.2l-1.0 0.3M10.8 17.9l-1.3 0.5M10.3 18.8l-0.5 -0.0M12.3 18.4l-1.4 0.4M12.4 19.4l-0.6 -0.0M11.6 19.9l-0.2 0.6M15.1 19.0l-0.5 1.4M13.9 21.3l-0.6 1.0M13.6 22.8l-0.8 0.2M15.5 22.6l-0.4 0.0M14.6 23.8l-0.4 0.6M15.0 24.3l-0.2 0.2M17.1 25.2l-1.7 0.4M16.5 25.7l-0.8 0.6M16.7 26.5l-0.5 0.5M18.3 25.4l-0.5 1.3M17.6 27.2l-0.4 0.9M18.7 27.6l-0.4 1.1M19.3 28.5l-0.3 0.4M20.7 28.8l-1.0 0.4M19.2 30.3l-0.3 1.1M21.3 31.3l-1.4 0.6M21.6 31.0l-0.2 0.3M22.0 32.4l-1.2 0.2M24.3 29.7l-0.7 1.5M23.1 33.2l-0.4 0.1M24.1 32.4l-0.3 0.3M25.6 33.2l-1.3 0.6M24.9 34.8l-0.6 0.5M26.5 33.9l-0.1 0.4M27.1 34.4l-0.1 1.8M27.2 35.4l-0.8 0.9M27.9 36.9l-0.4 0.7M28.9 36.0l-1.4 0.9M29.8 37.3l-0.2 0.2M30.4 36.8l-0.1 0.4M31.7 35.8l0.1 1.7M31.6 38.3l-0.0 0.6M33.5 36.1l-1.2 0.9M33.7 38.4l0.2 0.6M33.7 38.5l0.4 1.3M35.6 38.3l-0.3 0.4M37.2 35.2l0.1 1.6M36.5 39.0l-0.2 0.4M38.1 38.2l-0.2 0.5M38.4 39.0l-0.9 1.5M39.2 40.2l-1.4 1.0M40.0 39.7l-0.5 1.4M40.6 37.7l0.4 1.6M41.6 40.1l0.4 0.6M42.3 40.4l-0.1 1.2M43.1 40.8l0.9 1.0M44.3 40.5l0.6 1.0M44.7 39.4l-0.5 0.7M45.9 39.3l0.8 1.3M46.3 40.0l0.8 1.1M48.1 40.6l-0.5 0.6M48.9 39.0l-0.3 1.3M49.0 38.7l0.3 1.2M49.3 39.3l1.0 1.4" stroke="#4150b0" stroke-width="1.90" stroke-linecap="round" fill="none" opacity="0.95"/>
<path d="M1.9 0.6l0.7 -0.5M2.1 0.6l-0.7 0.4M4.8 0.6l-0.8 0.5M3.4 1.0l-0.3 0.7M2.4 2.1l-0.9 0.7M7.0 0.8l-0.4 -0.1M5.3 2.2l-0.9 -0.5M3.4 2.7l-0.8 -0.4M4.1 3.3l-0.2 -0.1M4.8 3.1l0.5 -0.4M3.7 4.3l-0.9 0.8M4.2 4.1l0.8 -0.4M4.0 5.1l0.3 -0.7M4.1 5.0l-0.8 0.8M6.8 5.1l-0.3 0.0M5.6 5.4l-0.5 -0.2M4.9 6.5l0.1 -0.2M4.8 6.5l0.7 0.1M4.1 7.5l-0.6 -0.1M5.8 7.0l0.9 0.8M6.0 7.8l-0.3 -0.4M5.9 7.9l-0.5 -0.3M6.6 8.5l0.3 0.5M7.1 8.4l-0.5 -0.3M7.3 9.2l-0.6 -0.1M6.4 9.4l-0.5 0.5M5.8 10.4l0.2 0.1M4.2 10.9l0.6 0.7M7.1 10.9l0.3 -0.4M7.7 10.7l-0.2 0.1M6.9 11.8l0.5 0.3M7.4 11.6l-0.1 0.4M9.1 12.0l-0.3 0.1M6.4 12.8l0.0 0.3M7.5 13.3l0.0 0.4M5.8 13.8l-0.0 -0.0M5.5 15.7l0.5 0.8M5.9 15.4l-0.3 -0.6M8.9 14.4l-0.8 -0.1M8.8 14.5l-0.1 -0.2M9.2 15.2l-0.2 -0.3M8.2 15.9l0.6 0.1M10.1 15.7l0.8 0.1M9.2 16.2l0.7 0.6M9.7 16.9l-0.4 -0.1M12.2 15.2l-0.1 0.2M9.0 18.4l-0.3 0.1M9.1 18.3l-0.7 -0.1M9.8 18.9l0.1 0.4M9.7 19.0l0.1 -0.0M11.3 18.9l0.9 0.1M11.9 18.6l0.1 -0.6M14.4 17.9l0.2 -0.1M12.1 19.4l-0.5 -0.4M9.2 22.4l-0.1 -0.1M11.9 20.6l-0.3 -0.5M11.8 21.7l0.8 -0.4M12.1 21.4l0.1 0.7M11.1 23.1l0.8 -0.3M14.4 21.0l-0.5 -0.7M15.2 21.4l-0.4 -0.7M13.6 22.5l0.5 0.3M13.6 23.5l-0.1 -0.8M14.8 22.7l-0.3 0.2M14.5 23.9l-0.8 0.2M13.9 24.3l-0.8 -0.6M14.1 25.2l0.3 0.6M14.4 25.0l-0.5 -0.7M16.5 24.7l-0.0 0.5M14.4 26.1l0.7 -0.7M16.0 26.0l0.7 -0.8M16.0 26.0l0.1 0.5M16.7 26.5l-0.2 0.5M17.6 25.4l0.3 0.7M18.9 25.1l-0.8 0.5M18.2 25.9l0.5 -0.3M19.1 26.2l-0.2 0.7M17.0 28.7l0.5 0.2M17.7 29.1l-0.2 0.1M21.1 25.0l-0.7 0.0M20.7 26.7l-0.9 -0.8M18.4 29.6l-0.4 0.9M20.9 27.8l0.8 -0.5M20.3 28.5l0.6 0.6M20.6 29.4l-0.1 0.4M20.1 30.0l-0.9 0.7M21.5 29.7l-0.3 0.9M22.1 29.0l-0.8 0.8M21.4 31.1l0.7 0.3M22.0 30.4l0.9 -0.1M21.5 32.2l-0.4 0.2M21.4 32.4l0.8 -0.1M20.6 34.6l0.4 0.6M21.9 33.1l0.6 0.1M23.9 31.9l-0.0 -0.7M23.5 32.4l0.1 -0.4M23.0 34.4l0.2 -0.9M24.5 32.5l0.8 -0.1M25.0 33.1l0.1 -0.4M23.8 34.6l-0.4 -0.7M24.4 35.2l-0.3 0.8M25.4 33.9l-0.8 0.5M26.0 34.6l-0.0 -0.0M27.4 32.9l0.4 -0.8M25.4 36.6l0.0 0.5M25.7 36.2l-0.7 0.7M27.5 35.3l0.0 -0.8M28.5 34.1l-0.8 -0.0M27.6 37.1l-0.8 0.6M28.1 35.8l0.6 -0.2M28.4 37.4l-0.8 0.4M29.1 35.5l0.4 0.1M28.8 39.1l0.5 0.3M30.5 33.9l-0.7 -0.7M30.5 36.5l-0.8 -0.5M31.5 33.5l0.7 0.6M30.9 38.0l-0.4 0.3M31.5 36.2l0.1 -0.9M31.9 37.7l0.3 -0.6M32.3 36.5l-0.9 -0.3M32.7 38.0l-0.6 0.2M32.3 39.1l0.3 0.2M34.1 36.3l0.8 0.8M33.8 37.3l0.1 -0.6M34.1 39.1l-0.5 0.8M34.9 36.5l0.5 0.8M35.5 37.5l-0.5 0.2M34.9 39.4l-0.2 0.6M35.8 39.3l0.7 0.9M35.6 39.8l0.7 -0.6M36.3 40.4l0.3 -0.5M36.6 39.6l0.7 0.8M37.7 39.0l0.6 -0.4M38.2 37.5l-0.8 -0.8M39.0 37.5l-0.0 0.1M38.6 38.8l0.0 -0.7M40.0 37.4l0.7 -0.6M39.1 40.0l0.2 0.9M40.0 40.2l0.5 0.3M40.0 38.5l-0.6 0.9M40.8 38.9l0.4 -0.6M40.8 40.6l-0.8 -0.6M41.7 40.9l0.8 0.1M41.7 41.5l0.6 -0.6M42.5 40.2l-0.6 -0.8M42.5 40.1l-0.9 -0.7M43.3 39.3l0.8 0.2M43.3 40.2l-0.5 -0.5M44.2 38.5l-0.7 0.9M44.2 41.7l-0.1 0.7M45.0 41.3l-0.5 -0.3M45.0 41.2l0.1 -0.8M45.8 41.0l0.6 0.4M45.8 37.0l-0.0 -0.1M46.7 40.0l0.7 -0.6M46.7 41.2l-0.6 0.8M47.5 44.2l0.9 0.2M47.5 42.5l-0.5 0.8M48.3 42.8l0.7 0.3M48.3 39.6l0.2 -0.8M49.2 39.8l-0.4 -0.5M49.2 39.4l-0.8 0.9M50.0 38.8l0.3 0.3M50.0 41.6l-0.5 -0.7" stroke="#b56a2c" stroke-width="1.30" stroke-linecap="round" fill="none" opacity="0.7"/>
<polyline points="0,40 4,42" fill="none" stroke="#b8acc4" stroke-width="2.6039999999999996" stroke-linejoin="round" stroke-linecap="round" opacity="0.25"/>
<path d="M-0.4 38.9l0.2 1.0M3.0 40.2l-0.8 0.7M3.6 41.5l-0.2 0.3" stroke="#7078bc" stroke-width="1.50" stroke-linecap="round" fill="none" opacity="0.8"/>
<path d="M-0.4 39.8l-0.2 0.9M2.2 41.2l-0.3 0.5M3.3 40.5l0.5 0.7" stroke="#4150b0" stroke-width="1.90" stroke-linecap="round" fill="none" opacity="0.95"/>
<path d="M-0.4 40.9l0.6 0.9M0.3 39.4l0.4 0.6M1.4 42.2l-0.4 -0.1M2.1 40.7l0.8 0.2M4.0 41.1l-0.4 0.1M4.0 41.6l0.5 -0.6" stroke="#b56a2c" stroke-width="1.30" stroke-linecap="round" fill="none" opacity="0.7"/>
<path d="M21.1 13.3l0.2 0.3M43.1 0.3l0.5 0.3M32.7 9.3l1.1 1.0M25.9 13.8l0.5 1.4M24.6 28.6l0.6 0.8M48.4 22.4l1.0 1.2M27.2 8.7l0.8 1.0M28.3 20.4l0.6 1.7M45.7 16.2l0.5 0.7M40.6 17.3l1.1 1.8M47.4 7.2l0.3 0.9M26.3 1.5l1.3 1.2M40.1 26.2l0.5 1.0M30.4 8.1l0.5 1.0" stroke="#4150b0" stroke-width="1.80" stroke-linecap="round" fill="none" opacity="0.8"/>
<path d="M27.9 22.9h0M21.0 3.1h0M33.6 12.1h0M41.0 27.1h0" stroke="#a85f28" stroke-width="1.50" stroke-linecap="round" fill="none" opacity="0.8"/>
<line x1="41" y1="47.3" x2="46.5" y2="47.3" stroke="#111" stroke-width="1"/>
</g></g>
<rect x="312.90" y="888.40" width="50.20" height="49.80" fill="none" stroke="#4a4a4a" stroke-width="0.9"/>
<text x="167.40" y="886.91" font-size="7.35" text-anchor="middle" font-weight="bold" fill="#141414" stroke="#141414" stroke-width="0.2">patient-7</text>
<clipPath id="hc6"><rect x="142.3" y="888.4" width="50.2" height="49.8"/></clipPath>
<g clip-path="url(#hc6)"><g transform="translate(142.3 888.4) scale(1.0040 0.9960)">
<rect x="-1" y="-1" width="52" height="52" fill="#f6f4f3"/>
<path d="M35.5 45.1l2.3 0.1M41.1 2.8l-1.6 1.1M9.4 48.6l0.5 1.1M32.7 34.5l-0.6 0.6M24.2 6.9l0.9 1.0M3.7 17.4l-0.6 0.4M21.7 1.9l-0.3 0.4M9.1 37.3l0.3 1.4M30.5 24.8l0.1 0.6M7.1 10.2l0.7 0.7M44.6 10.7l0.8 0.3M6.6 41.5l-1.9 0.3M47.7 27.5l0.2 1.1M32.6 12.0l-0.1 1.1M33.4 43.6l-0.3 0.5M29.7 36.6l-0.1 0.4M4.7 26.9l-0.8 1.0M36.4 27.5l-0.6 0.4M41.6 37.4l0.7 0.3M14.7 39.3l-0.2 0.4M36.8 15.4l-0.8 0.4M5.1 16.6l0.1 1.2M26.9 5.4l0.3 0.3M49.3 24.4l0.4 0.5M30.2 0.2l1.5 0.8M26.4 35.4l-0.9 0.5M38.2 40.3l-1.2 0.7M38.2 1.7l1.2 0.9M27.7 30.5l0.1 0.4M16.0 10.0l-0.4 0.7M38.0 26.8l0.5 1.5M44.5 16.6l2.1 0.4M14.5 44.6l0.1 1.2M42.1 5.7l-0.8 0.4M38.8 47.8l-0.9 0.5M48.4 26.4l0.6 0.9M4.2 31.5l0.3 1.5M44.3 22.5l1.6 0.1M4.3 29.9l-0.2 1.2M33.0 4.4l0.3 0.7M10.8 6.0l1.6 1.3M48.9 30.8l-0.3 0.2M17.0 36.0l-0.4 0.1M49.6 48.6l1.1 0.3M45.7 17.2l1.3 0.8M31.2 38.6l1.0 0.9M9.7 46.9l-2.2 0.7M6.8 8.9l-1.1 0.7M42.5 32.2l0.5 0.1M36.4 13.7l0.5 1.5M2.7 5.0l0.0 0.3M17.2 19.4l0.5 0.1M38.1 34.3l0.0 1.2M45.7 23.4l1.2 0.7M24.5 27.7l0.6 1.2M2.0 33.6l-1.7 0.6M42.0 48.9l0.0 1.2M37.1 11.0l0.9 1.3M1.7 48.9l-1.3 0.3M31.1 17.2l0.1 0.5M17.5 9.5l0.5 1.6M42.9 4.0l1.5 0.7M46.9 28.0l-0.1 2.1M10.3 0.1l-0.0 1.5M6.1 34.4l-0.7 1.9M16.6 3.4l0.6 0.5M16.5 32.4l1.6 1.8M8.4 43.7l1.6 1.5M11.4 27.6l1.3 1.3M30.6 36.5l0.2 0.6M16.0 42.8l-0.0 0.7M3.9 26.1l-1.5 0.9M39.2 3.2l0.2 0.9M11.6 47.2l-0.9 0.5M49.5 10.5l-1.1 0.6M21.6 49.4l-1.4 1.1M32.9 32.3l-1.5 0.9M17.6 29.8l0.2 0.7M4.3 45.6l0.4 1.3M7.9 27.2l-1.7 0.6M32.9 28.4l0.3 0.0M5.2 30.3l-2.0 1.1M36.6 36.3l0.4 0.2M38.5 13.1l-1.0 2.0M3.2 39.3l0.8 1.3M20.9 40.8l-1.2 1.8M35.5 40.4l-1.1 0.8M26.6 27.2l0.3 0.1M15.2 20.6l1.7 0.4M14.9 24.5l-2.0 0.6M22.2 24.0l0.4 0.0M27.3 2.4l-0.3 0.5M11.2 37.5l1.7 0.8M0.7 24.3l0.2 0.8M16.3 42.1l0.6 0.5M21.9 20.1l0.3 1.4M28.8 12.3l-0.1 1.5M40.8 13.2l0.9 0.4M40.1 22.5l0.6 1.3M3.9 13.8l-1.3 0.3M33.0 5.5l2.3 0.6M4.0 37.6l1.4 0.6M23.6 10.3l0.6 2.3M29.6 35.9l2.2 0.0M23.8 29.1l0.2 0.7M12.4 38.1l-1.9 0.0M49.7 28.2l0.9 1.1M4.0 1.9l1.4 0.3M45.0 26.4l-0.0 1.5M3.1 33.9l-0.3 0.2" stroke="#8d98d8" stroke-width="1.30" stroke-linecap="round" fill="none" opacity="0.36"/>
<polygon points="0,22 12,27 28,31 50,34 50,42 30,44 12,40 0,34" fill="#ffffff" opacity="1"/>
<polyline points="0,17 8,20 18,23 30,26 40,28 50,30" fill="none" stroke="#a3acdf" stroke-width="2.7775999999999996" stroke-linejoin="round" stroke-linecap="round" opacity="0.25"/>
<path d="M0.6 15.4l-0.1 1.7M0.7 16.9l-0.5 0.3M2.6 16.0l-1.5 1.0M2.7 17.0l-0.9 1.3M2.6 16.7l0.5 1.5M3.8 19.4l-0.8 0.6M5.3 18.7l-1.1 0.7M5.0 18.9l-0.1 0.4M6.3 17.8l0.0 1.4M7.3 19.0l-1.2 1.0M6.7 20.8l-0.1 1.0M8.3 18.7l0.2 0.6M8.9 19.6l-0.5 0.8M9.5 19.1l-0.6 1.7M10.8 18.8l-0.0 1.3M10.3 20.3l0.3 1.4M11.9 20.6l-0.7 1.2M12.5 20.2l0.1 1.7M12.8 20.7l-0.3 0.5M14.0 21.4l-0.3 1.0M14.3 21.7l-0.2 0.5M15.3 22.3l-0.6 0.6M15.9 20.7l-0.2 0.6M16.6 22.8l-0.6 0.6M16.9 23.1l-0.3 0.5M17.6 22.9l0.0 1.0M18.7 22.2l0.1 1.5M19.7 23.4l-0.0 1.5M20.3 24.0l-1.1 0.9M21.0 24.1l-0.0 0.3M22.1 22.8l-0.3 0.8M22.7 23.7l0.2 0.5M23.8 24.5l-0.3 0.3M24.3 24.0l-0.1 0.8M25.5 22.6l-1.0 0.9M25.8 23.3l-0.0 0.5M25.7 25.0l0.2 0.5M27.3 24.9l-0.0 0.4M28.0 24.8l-0.3 1.0M28.2 25.4l-0.0 1.2M29.1 24.2l0.4 1.3M30.2 24.9l0.6 1.6M30.9 26.0l-0.2 1.7M31.1 27.2l-0.2 0.4M32.7 25.4l-0.5 1.5M33.8 25.9l-0.7 1.4M34.2 24.8l0.0 1.4M35.0 26.4l0.0 0.7M35.3 26.1l-0.4 1.0M35.3 27.5l0.5 1.0M37.7 26.3l-0.5 0.4M37.6 26.6l0.6 1.5M38.2 26.5l0.3 1.3M39.7 27.6l-0.2 1.3M39.9 28.7l-0.0 0.7M40.5 27.9l0.1 0.4M42.0 28.8l-0.9 0.8M43.1 27.6l-0.4 1.1M43.2 28.5l-0.3 1.5M43.3 29.1l0.5 1.1M44.6 29.2l-0.1 0.7M45.5 29.4l-0.6 0.7M46.7 28.8l-0.2 0.7M46.8 29.3l-0.1 0.7M48.3 29.7l-0.8 1.1M48.7 29.6l0.1 1.5M49.3 29.1l-0.3 0.2M50.3 28.6l-0.5 0.8" stroke="#5766d6" stroke-width="1.50" stroke-linecap="round" fill="none" opacity="0.8"/>
<path d="M0.1 16.7l-0.7 1.1M1.3 17.0l-1.2 1.3M2.3 17.3l-1.3 0.8M2.8 17.2l-1.3 1.1M3.0 17.5l-0.1 0.7M4.4 17.0l-1.0 0.7M4.5 16.5l-0.2 1.6M5.2 18.7l-0.4 1.0M6.1 18.8l-0.1 0.3M6.3 18.7l0.2 1.7M7.6 19.2l-0.9 0.8M7.9 19.5l0.3 1.4M9.3 20.0l-0.4 0.8M9.3 19.6l-0.2 0.4M10.3 19.5l0.2 1.6M11.3 19.2l0.1 0.6M11.7 20.4l0.2 0.5M12.3 21.7l-0.2 0.4M13.2 20.8l-0.2 0.8M14.8 20.6l-1.3 1.0M14.9 21.0l-0.6 1.1M15.1 21.1l-0.1 1.0M16.3 21.3l0.3 1.4M16.9 22.8l-0.5 0.8M18.0 22.9l-1.1 1.0M18.6 20.7l-1.2 1.0M18.8 22.2l-0.3 0.7M20.7 20.9l-0.8 1.6M20.0 23.4l0.1 0.7M20.8 25.2l-0.8 1.1M21.6 23.0l-0.0 1.1M22.8 24.2l0.2 0.4M22.8 24.3l0.4 1.1M23.5 24.6l0.3 1.3M24.6 24.9l-0.4 0.8M25.9 24.3l0.1 0.7M26.7 24.3l-0.2 1.0M27.2 24.0l0.1 0.9M28.0 24.5l0.2 0.8M28.5 26.2l-0.5 1.5M29.1 25.2l0.4 1.4M30.4 26.2l-0.1 0.7M30.9 26.4l-0.5 0.4M31.6 26.7l-0.8 1.5M32.2 25.6l-0.2 1.5M33.6 26.1l-0.7 1.2M34.1 26.4l0.4 0.9M34.9 27.2l-1.0 1.4M35.1 27.8l-0.2 0.9M36.2 26.5l-0.4 0.4M37.0 28.3l0.2 0.4M38.7 26.3l-1.2 1.0M39.1 26.5l-0.6 0.5M39.0 26.4l0.5 1.3M39.7 27.4l-0.5 0.7M41.0 27.3l-1.3 1.1M42.1 28.0l-0.4 0.8M42.9 28.8l-0.2 0.2M43.1 27.3l-0.1 1.1M44.8 27.8l-0.9 0.8M44.3 29.1l0.4 0.9M45.4 28.3l-0.5 1.2M46.6 28.4l-0.0 0.8M46.8 28.8l0.1 0.6M47.5 29.1l0.6 1.5M48.1 28.4l0.5 1.6M49.9 30.1l-0.8 0.7M49.7 29.8l-0.1 0.9" stroke="#2535b8" stroke-width="1.90" stroke-linecap="round" fill="none" opacity="0.95"/>
<path d="M28.8 -0.0l-0.7 0.8M24.8 10.3l1.3 0.3M43.0 4.8l-1.1 0.3M42.5 19.9l-0.6 0.1M43.8 14.6l1.2 0.2M14.5 19.4l0.0 0.6M15.8 0.8l0.1 0.3M28.4 5.2l1.3 1.6M10.3 1.8l-1.8 0.7M1.2 19.3l0.9 0.9M38.9 0.1l0.2 0.6M15.8 18.8l-1.8 0.1M3.8 3.2l-0.9 1.0M20.6 4.7l1.1 0.1M3.4 3.0l0.7 1.7M21.9 14.5l-0.4 0.0M44.9 19.8l1.4 0.1M7.1 5.5l0.3 0.6M33.6 15.8l0.7 1.7M33.2 13.0l-0.4 2.2M37.9 18.3l-1.5 1.2M14.9 5.1l-1.2 0.6M14.6 16.3l1.0 1.6M12.1 9.0l-2.0 0.9M2.6 3.2l1.2 0.8M5.3 19.6l-0.3 0.7M13.6 9.5l-1.4 0.8M8.2 11.9l-0.1 0.8M21.1 18.8l1.5 0.3M36.5 18.2l-0.4 2.0M27.9 1.7l-0.1 1.9M3.0 2.2l0.4 1.2M34.4 45.5l-0.0 1.1M39.7 40.7l1.2 1.3M6.0 46.7l-0.9 0.9M9.0 43.1l0.8 0.4M47.5 41.3l-0.3 0.8M50.2 41.3l-1.9 0.5M4.7 48.8l-0.7 1.0M16.9 39.7l-0.1 0.8M27.6 38.6l-0.3 0.2M10.7 39.1l-1.5 0.5" stroke="#2535b8" stroke-width="1.80" stroke-linecap="round" fill="none" opacity="0.8"/>
<path d="M32.9 9.7h0M5.3 23.8h0M3.9 19.8h0M19.9 42.4h0M4.9 14.4h0M17.8 16.8h0M29.6 12.2h0M33.8 4.8h0" stroke="#a85f28" stroke-width="1.50" stroke-linecap="round" fill="none" opacity="0.8"/>
<circle cx="36.00" cy="3.00" r="1.60" fill="#1a1a40" opacity="0.8"/>
<circle cx="38.00" cy="5.00" r="1.20" fill="#1a1a40" opacity="0.8"/>
<line x1="41" y1="47.3" x2="46.5" y2="47.3" stroke="#111" stroke-width="1"/>
</g></g>
<rect x="142.30" y="888.40" width="50.20" height="49.80" fill="none" stroke="#4a4a4a" stroke-width="0.9"/>
<text x="391.90" y="886.91" font-size="7.35" text-anchor="middle" font-weight="bold" fill="#141414" stroke="#141414" stroke-width="0.2">patient-7</text>
<clipPath id="hc16"><rect x="366.8" y="888.4" width="50.2" height="49.8"/></clipPath>
<g clip-path="url(#hc16)"><g transform="translate(366.8 888.4) scale(1.0040 0.9960)">
<rect x="-1" y="-1" width="52" height="52" fill="#f6f2ee"/>
<path d="M41.1 30.0l-0.2 0.2M32.3 36.9l0.1 1.3M12.3 20.4l-0.5 2.0M28.6 22.6l1.0 1.6M16.1 2.9l-0.2 1.4M41.4 22.0l-0.6 0.9M24.6 4.0l0.1 0.7M20.3 13.3l-0.7 0.9M20.2 21.1l-0.5 1.0M38.0 35.0l0.7 1.3M31.7 1.0l0.2 0.9M17.9 20.3l-1.9 0.2M15.0 1.9l-0.8 0.8M1.9 14.6l2.1 1.2M12.5 24.6l2.1 0.3M25.2 0.9l-0.7 2.0M23.7 27.5l-1.2 0.2M28.0 44.1l-0.7 1.2M16.9 30.8l-1.4 1.2M10.5 15.1l-0.1 0.5M38.6 13.3l0.5 0.7M10.9 41.9l0.2 0.4M39.9 39.3l0.6 0.1M2.2 25.3l-0.4 0.8M40.0 8.1l0.6 1.0M21.3 27.5l-0.1 0.7M2.0 18.8l0.5 1.1M2.5 43.4l0.5 0.2M22.3 29.1l2.0 0.6M24.2 35.0l0.2 1.2M20.0 19.2l0.4 1.6M35.4 28.4l0.6 0.3M25.4 11.5l0.8 1.7M46.1 5.1l0.8 0.9M6.6 40.7l-1.9 0.1M40.5 14.1l0.3 0.3M22.8 19.9l1.7 0.5M18.4 33.1l-0.5 0.2M25.1 38.8l-0.6 0.8M23.2 9.2l0.6 0.5M2.4 31.0l1.5 0.1M34.9 42.6l-1.0 0.9M23.5 35.7l0.1 0.9M3.9 7.7l0.9 1.3M13.4 10.8l-0.0 0.4M15.9 47.7l1.1 0.8M15.1 13.2l0.3 0.1M1.2 20.6l0.3 1.5M20.2 25.4l-0.8 1.3M32.0 4.6l-1.3 0.6M43.0 37.9l1.8 0.8M1.5 38.8l-0.3 0.2M32.2 8.7l-1.4 1.0M45.8 12.3l0.6 1.1M0.7 22.9l0.4 0.9M8.3 14.6l-0.9 0.6M17.8 13.7l-1.4 0.9M4.7 7.0l0.4 0.1M47.2 5.0l0.1 1.4M15.9 13.2l0.6 0.4M14.5 32.7l-0.5 0.7M15.7 8.0l0.9 0.7M31.0 0.6l0.6 0.1M37.7 41.3l0.7 1.7M1.9 34.8l0.3 0.1M7.7 35.9l-0.5 0.1M36.3 3.1l0.8 0.4M44.3 31.7l-0.8 0.7M31.8 5.0l-0.3 0.2M8.7 12.6l0.7 0.0M20.6 25.3l-1.8 0.7M14.7 2.4l-1.9 0.6M23.1 23.6l0.2 1.1M4.9 7.2l1.4 1.4M10.9 46.6l0.4 0.8M33.7 13.6l0.1 1.6M42.1 12.5l-1.8 1.5M29.1 49.5l-1.2 0.1M47.2 26.3l1.4 0.3M17.7 44.4l1.0 0.9M5.0 18.7l-0.1 0.7M1.1 20.9l-0.4 0.2M14.8 21.9l-1.4 1.3M42.5 20.5l0.1 2.1M42.0 28.9l-0.1 1.2M47.9 45.9l-1.3 0.1M9.1 45.6l0.4 0.5M6.0 46.1l-0.5 1.2M37.6 46.8l0.5 1.9M36.9 2.4l-0.2 0.3M39.8 10.5l-0.6 0.1M25.1 0.0l0.7 1.1M7.1 32.5l-1.9 1.0M35.5 13.1l1.2 1.3M34.9 23.9l0.5 0.6M21.9 21.5l0.4 1.2M25.4 14.9l0.1 2.2M8.0 10.7l1.2 1.5M17.4 1.0l-1.6 0.5M5.0 30.5l0.3 1.2M3.2 36.1l-1.4 1.7M3.7 4.9l0.3 0.8M21.2 7.0l-1.7 1.3M40.7 49.0l-0.3 0.2M7.2 44.2l-0.6 0.7M28.8 46.9l0.3 0.5M41.1 21.1l1.8 1.2M43.9 1.8l-1.0 0.8M9.2 10.2l1.3 0.8M25.8 37.1l0.6 0.0" stroke="#a09ac0" stroke-width="1.30" stroke-linecap="round" fill="none" opacity="0.36"/>
<path d="M0.0 44.0l-0.8 0.1M32.7 30.9l-0.1 0.0M5.1 19.6l0.7 -0.1M5.9 4.6l0.3 -0.3M49.1 11.0l-0.5 0.6M20.3 13.3l0.0 -0.6M30.4 48.0l0.5 -0.5M17.9 42.5l0.6 0.8M2.9 45.1l0.6 0.1M40.9 21.4l-0.4 -0.8M16.8 40.0l0.8 0.3M39.0 16.6l-0.5 0.3M31.9 1.9l0.8 -0.3M20.9 33.5l-0.2 -0.9M13.9 35.7l-0.4 -0.4M18.9 46.7l-0.6 -0.1M22.0 34.2l-0.3 0.1M7.8 41.8l0.5 0.6M27.5 44.5l0.2 0.4M14.4 18.4l-0.5 0.8M42.5 32.4l0.9 0.1M42.4 39.3l0.8 -0.9M22.7 14.1l0.1 0.1M36.2 14.8l-0.2 1.0M44.0 24.1l0.5 0.1M31.7 34.7l-0.8 0.3M15.6 21.4l0.4 0.3M14.8 47.7l-0.3 -0.9M43.8 13.7l-0.8 -0.0M8.7 30.0l0.3 0.5M48.3 42.9l-0.2 0.0M0.2 32.9l0.7 -0.3M32.9 26.2l-0.3 -0.0M27.1 35.9l-1.0 0.3M46.9 16.1l0.1 -0.4M3.4 39.5l0.8 0.5M12.0 22.9l-0.2 0.0M30.0 9.3l0.3 0.6M33.8 4.2l-0.8 -0.1M45.6 9.1l-0.4 0.3M27.1 38.7l-0.5 -0.0M47.9 44.5l0.8 0.9M10.6 43.7l1.0 -0.2M45.5 22.7l-0.1 -0.3M2.0 7.0l0.6 0.1M38.6 3.3l-0.8 -0.0M41.5 30.0l-0.2 -0.0M44.6 12.4l-0.8 0.4M43.8 33.7l-0.5 0.8M39.1 11.2l-0.6 0.2M40.5 4.5l-0.8 -0.7M13.8 1.3l-0.0 -0.7M38.8 17.4l-0.2 0.4M1.9 13.2l0.2 -0.7M32.8 27.4l-0.7 -0.3M14.3 33.3l-0.4 1.0M13.0 30.8l0.0 0.9M7.2 12.2l0.8 -0.8M32.9 24.1l-0.9 -0.5M22.8 30.0l-0.7 0.3" stroke="#d0a070" stroke-width="1.20" stroke-linecap="round" fill="none" opacity="0.38"/>
<polygon points="0,6 8,20 20,30 36,36 50,42 50,50 0,50" fill="#ffffff" opacity="1"/>
<polyline points="2,4 8,16 18,26 32,34 50,42" fill="none" stroke="#c8894c" stroke-width="3" stroke-linejoin="round" stroke-linecap="round" opacity="0.385" filter="url(#bl10)"/>
<polyline points="9,29 13,33" fill="none" stroke="#c8894c" stroke-width="4" stroke-linejoin="round" stroke-linecap="round" opacity="0.275" filter="url(#bl10)"/>
<polyline points="4,0 10,12 20,22 34,30 50,38" fill="none" stroke="#b8acc4" stroke-width="4.34" stroke-linejoin="round" stroke-linecap="round" opacity="0.25"/>
<path d="M5.2 -1.3l-0.8 1.6M3.7 0.4l-0.2 0.4M6.9 0.5l-1.1 0.3M5.8 1.1l-0.9 1.2M4.7 2.5l-0.6 0.8M5.4 3.7l-0.9 1.1M6.4 5.2l-1.0 -0.0M5.8 5.4l-0.6 0.4M7.0 5.9l-1.0 -0.1M8.3 6.0l-0.5 0.3M8.6 6.6l-0.5 0.2M7.2 8.4l-0.5 -0.0M9.6 8.9l-1.0 -0.1M9.7 9.4l-1.4 0.9M9.4 10.3l-0.7 0.4M11.1 11.3l-1.7 0.2M9.8 11.8l-0.9 1.0M9.5 13.9l-0.7 0.2M11.8 12.1l-1.1 1.4M13.0 12.3l-1.0 1.1M12.7 13.9l-0.7 0.6M12.9 15.3l-0.8 0.9M14.5 13.9l-0.7 0.8M16.1 15.2l-0.9 0.6M15.4 16.0l-0.9 1.1M14.8 17.5l-0.3 1.3M15.3 18.7l-0.5 0.2M17.3 18.1l-1.3 0.1M16.5 19.4l-0.2 1.8M16.2 21.4l-0.3 0.6M17.9 20.4l-0.4 0.5M17.8 20.8l-0.3 1.3M20.5 21.1l-1.6 0.4M19.9 22.5l-0.5 0.7M20.9 22.3l-0.8 1.2M21.8 22.6l0.1 0.4M22.0 24.6l-0.3 1.1M22.6 24.7l0.1 0.4M23.3 24.1l-0.7 1.5M25.0 23.5l-1.2 1.0M25.8 24.7l-1.2 0.8M26.1 24.2l0.1 1.4M26.8 24.3l0.2 1.2M27.8 26.0l-0.8 0.4M29.5 25.0l-0.9 0.5M29.6 25.6l-0.4 0.3M30.1 26.2l-0.5 1.7M30.6 27.0l-0.6 0.2M31.5 27.0l-0.2 1.7M31.7 28.6l-0.6 0.8M32.5 29.2l-1.3 1.2M33.4 28.9l-0.5 1.2M33.4 30.0l0.1 1.8M34.7 31.8l-0.6 0.7M35.9 31.4l-1.3 1.1M37.1 29.7l0.2 1.0M36.2 31.9l-0.8 1.4M38.9 30.0l-0.4 0.4M38.7 31.8l-0.1 0.5M38.7 32.9l-0.5 1.4M39.5 34.1l-1.5 0.7M40.7 31.4l0.1 0.8M42.0 32.2l-1.1 0.9M42.7 31.0l0.3 1.7M42.2 34.8l-0.7 1.1M43.4 34.6l-0.8 0.5M44.2 35.2l-0.6 0.9M45.4 35.2l0.1 1.0M45.8 36.5l-0.5 0.5M48.1 33.9l-1.4 0.6M46.3 38.0l-0.6 0.8M49.1 34.1l-0.8 1.1M49.0 36.1l-0.5 0.7M50.2 36.5l-1.1 1.2M49.8 38.9l-0.1 0.4" stroke="#7078bc" stroke-width="1.50" stroke-linecap="round" fill="none" opacity="0.8"/>
<path d="M4.4 0.0l-1.0 0.3M4.4 -0.0l-1.0 1.2M5.9 1.0l-0.5 0.2M6.7 1.6l-0.4 0.8M5.8 3.1l-0.2 0.3M6.1 3.2l-0.6 0.3M5.9 4.6l-0.2 0.3M7.9 4.6l-1.7 0.5M7.2 6.1l-0.4 0.5M8.1 6.4l-0.8 0.3M9.7 6.0l-0.7 0.9M8.6 7.7l-0.9 1.5M7.2 10.0l-0.7 0.1M8.2 10.7l-1.2 0.3M7.6 10.7l-0.4 0.4M11.0 10.6l-1.4 0.1M9.7 11.8l-0.3 0.4M11.0 12.0l-0.2 0.2M11.6 13.6l-1.5 0.3M11.7 14.5l-0.5 0.1M12.3 13.9l-0.7 1.3M13.0 15.1l-0.8 0.7M12.6 16.6l-0.3 0.3M13.6 16.3l-0.3 0.3M15.7 16.1l-0.7 1.4M15.6 17.7l-0.9 0.5M16.1 17.7l-0.6 1.2M15.8 18.7l-0.8 1.5M17.2 19.4l-0.8 0.5M19.0 18.4l-0.8 0.5M17.8 20.2l-0.5 1.5M18.1 22.2l-0.3 0.4M21.8 19.7l-1.1 0.7M20.1 22.8l-1.2 0.9M20.6 22.3l0.1 1.1M22.2 22.0l-0.3 0.3M23.9 20.8l-1.0 1.3M22.9 24.5l-1.4 0.8M24.1 24.3l-0.7 0.5M26.2 22.0l-0.4 0.1M24.7 25.0l-0.1 0.9M26.9 23.7l-0.8 1.0M26.8 25.8l-0.5 0.7M27.0 26.1l-0.2 1.4M28.2 26.0l-0.1 0.9M28.7 27.9l-0.7 0.3M29.6 26.3l-0.0 1.3M30.1 26.7l0.0 0.9M31.3 28.0l-0.3 0.3M32.1 27.9l-0.4 1.6M33.1 28.1l-0.7 0.9M32.8 31.6l-0.4 0.7M34.0 28.8l0.1 0.6M35.1 30.3l0.1 0.7M35.0 30.5l0.1 0.8M35.8 31.3l-0.3 0.7M37.6 30.1l-0.0 0.7M38.1 30.8l-0.8 0.6M38.0 31.7l0.0 1.7M40.2 29.6l-0.2 1.3M39.9 32.4l0.1 1.4M41.5 32.8l-1.3 0.6M41.1 34.4l-0.7 1.0M42.3 33.9l-0.5 0.6M42.9 34.0l-0.4 0.3M43.6 34.4l-0.9 0.7M45.5 33.4l-0.3 0.9M45.4 34.5l-0.7 1.2M46.8 32.6l-0.7 0.8M46.3 37.1l-0.6 0.3M46.4 38.0l-1.1 0.7M47.9 36.2l-0.3 1.5M49.3 35.0l-0.9 1.2M48.4 38.3l-0.2 0.8M49.9 38.4l0.1 0.5" stroke="#4150b0" stroke-width="1.90" stroke-linecap="round" fill="none" opacity="0.95"/>
<path d="M5.9 -1.0l-0.5 0.3M4.7 -0.4l0.1 0.5M2.5 1.7l-0.3 0.2M6.2 -0.2l-0.7 0.7M3.6 2.1l-0.5 -0.9M4.0 1.9l-0.8 0.2M5.6 2.0l0.9 -0.7M4.0 2.8l-0.8 0.8M6.2 2.6l0.5 0.5M5.1 3.2l0.4 -0.1M6.8 3.3l0.8 0.1M6.0 3.7l-0.5 -0.9M4.1 5.6l0.3 -0.7M5.7 4.8l-0.7 -0.4M6.9 5.1l-0.7 -0.8M8.8 4.1l-0.4 -0.5M5.8 6.6l-0.4 0.7M8.5 5.2l0.4 0.8M6.6 7.1l0.1 0.7M9.2 5.8l0.5 0.1M10.0 6.4l-0.5 0.7M10.2 6.3l-0.9 -0.4M9.2 7.7l-0.4 0.4M8.7 8.0l0.3 -0.4M9.7 8.4l0.2 -0.1M7.2 9.6l-0.3 0.8M8.9 9.7l-0.8 0.0M9.2 9.6l0.4 0.1M8.7 10.8l0.5 0.5M8.2 11.0l0.0 0.6M12.4 9.9l0.8 0.6M9.2 11.5l-0.6 0.2M9.6 12.4l-0.0 0.6M9.1 12.9l-0.4 -0.1M9.7 13.5l-0.7 -0.8M10.6 12.6l-0.5 0.1M8.9 15.4l0.6 0.2M10.8 13.6l-0.0 -0.8M12.2 13.3l-0.0 0.4M11.6 14.0l-0.0 0.4M12.3 14.4l0.2 0.5M12.1 14.6l0.1 0.8M13.2 14.7l0.7 -0.9M11.4 16.5l-0.1 -0.3M13.7 15.4l-0.7 -0.1M13.6 15.4l0.7 0.9M14.7 15.5l-0.7 -0.7M15.4 14.9l-0.0 -0.4M15.6 15.8l-0.7 0.1M14.2 17.3l0.8 0.5M15.8 16.8l-0.8 0.0M16.1 16.5l0.4 -0.5M16.8 16.9l0.8 -0.1M14.3 19.5l-0.5 -0.1M17.2 17.8l-0.4 0.7M15.9 19.1l0.8 0.1M16.6 19.5l-0.4 0.8M17.6 18.5l-0.6 -0.1M20.6 16.7l0.2 -0.6M15.5 21.8l-0.4 0.3M20.2 18.3l0.6 -0.2M19.0 19.5l0.7 0.3M17.3 22.3l-0.5 -0.1M19.0 20.6l-0.3 0.8M19.6 21.2l-0.2 0.3M19.2 21.7l0.3 -0.4M19.9 22.2l-0.8 0.8M18.8 24.2l0.4 0.7M20.9 22.1l0.7 0.3M22.5 19.3l-0.0 0.1M21.2 23.4l0.7 -0.2M21.5 22.8l0.8 -0.6M23.0 21.9l0.8 0.2M21.6 24.4l-0.8 0.6M21.9 25.5l-0.6 -0.3M22.9 23.7l-0.2 0.4M23.8 23.8l0.0 -0.3M23.5 24.5l-0.5 -0.7M24.9 23.6l-0.4 0.5M25.1 23.4l-0.5 0.6M25.3 24.7l0.1 -0.4M24.1 26.9l-0.2 0.6M25.6 25.9l0.7 -0.4M25.5 26.1l-0.1 0.7M27.3 24.6l-0.8 -0.7M26.5 26.1l0.3 0.8M27.5 26.0l0.6 -0.1M27.3 26.4l-0.7 0.2M28.1 26.6l-0.7 0.7M29.3 24.6l0.5 0.8M27.7 29.0l0.4 -0.8M29.6 25.8l0.0 0.0M28.8 28.8l0.6 0.6M29.9 26.9l0.9 0.5M30.8 27.1l-0.5 -0.2M30.5 27.5l0.2 -0.6M31.0 28.4l-0.9 -0.5M30.5 29.3l-0.3 -0.1M32.5 27.5l0.6 -0.1M33.1 26.4l0.7 0.5M32.8 28.7l0.8 -0.7M32.6 29.0l0.3 -0.7M33.0 30.1l0.1 0.1M33.7 28.8l0.4 -0.6M34.2 29.6l0.8 -0.6M33.9 30.1l-0.4 -0.2M34.2 31.3l0.0 0.5M35.4 29.1l-0.4 0.7M35.2 31.2l-0.7 0.2M36.1 29.4l0.9 0.3M35.1 33.3l-0.4 0.4M36.1 31.4l-0.7 -0.1M36.7 31.9l-0.3 0.1M37.1 31.1l-0.2 -0.4M37.0 33.2l0.4 0.7M39.1 28.9l0.7 -0.1M38.6 31.8l-0.8 -0.6M38.4 32.1l0.2 -0.4M39.5 31.7l-0.2 0.3M39.0 32.8l-0.2 -0.8M39.9 32.7l-0.6 0.6M40.4 31.8l0.6 0.6M41.3 31.8l-0.6 -0.9M40.8 32.8l0.3 -0.5M40.6 35.0l0.2 0.8M42.2 31.9l-0.6 0.5M42.0 34.0l0.3 0.3M41.8 34.3l0.4 -0.7M43.1 33.7l0.9 0.2M42.9 34.1l-0.0 -0.6M42.9 35.8l0.7 -0.2M42.3 37.1l0.0 0.8M43.5 36.4l0.4 0.2M42.7 38.0l-0.5 -0.3M44.1 37.1l0.3 0.1M43.9 37.5l-0.3 -0.4M45.7 35.8l-0.1 0.7M45.2 36.7l-0.8 -0.4M45.7 37.5l0.5 -0.1M45.5 37.9l-0.9 -0.4M46.4 37.9l0.2 -0.6M47.3 36.1l-0.5 0.6M48.1 36.3l-0.0 -0.6M48.7 35.1l-0.9 -0.0M48.7 37.0l0.4 -0.0M48.7 36.9l0.8 0.6M48.4 39.3l0.6 0.8M48.9 38.3l-0.2 -0.3M50.0 38.7l-0.7 -0.7M50.0 39.8l-0.6 -0.1" stroke="#b56a2c" stroke-width="1.30" stroke-linecap="round" fill="none" opacity="0.7"/>
<path d="M42.7 23.0l0.8 0.7M40.1 15.1l0.3 0.7M38.2 1.9l0.5 1.4M32.6 11.9l1.1 1.1M28.4 0.6l0.5 1.6M21.3 4.0l0.6 0.7M19.7 2.8l0.3 0.8M22.8 0.4l0.6 1.3M47.5 20.5l1.5 0.9M28.5 0.4l0.3 0.4M20.1 20.7l0.5 0.5M33.6 8.4l0.9 0.7M48.3 7.2l0.5 1.2M34.5 4.8l0.9 1.8M39.8 1.0l0.7 1.4M47.0 2.2l0.3 0.3M21.8 12.0l0.4 1.2M43.1 10.5l1.7 1.1M15.9 45.3l0.3 0.8M12.5 40.7l1.6 1.3M16.3 46.8l0.6 1.3" stroke="#4150b0" stroke-width="1.80" stroke-linecap="round" fill="none" opacity="0.8"/>
<path d="M21.4 11.3h0M34.3 10.1h0M16.0 26.3h0M37.9 2.5h0" stroke="#a85f28" stroke-width="1.50" stroke-linecap="round" fill="none" opacity="0.8"/>
<line x1="41" y1="47.3" x2="46.5" y2="47.3" stroke="#111" stroke-width="1"/>
</g></g>
<rect x="366.80" y="888.40" width="50.20" height="49.80" fill="none" stroke="#4a4a4a" stroke-width="0.9"/>
<text x="220.80" y="886.91" font-size="7.35" text-anchor="middle" font-weight="bold" fill="#141414" stroke="#141414" stroke-width="0.2">patient-8</text>
<clipPath id="hc7"><rect x="195.7" y="888.4" width="50.2" height="49.8"/></clipPath>
<g clip-path="url(#hc7)"><g transform="translate(195.7 888.4) scale(1.0040 0.9960)">
<rect x="-1" y="-1" width="52" height="52" fill="#f7f6f6"/>
<path d="M12.3 29.1l-1.7 0.1M24.1 15.4l2.2 1.0M37.7 12.5l-0.5 1.7M45.3 14.0l0.4 0.6M29.5 46.1l-0.4 0.4M18.6 3.8l1.2 0.6M7.7 13.5l0.9 0.8M42.8 11.8l-0.4 1.1M14.6 14.9l-1.6 1.3M36.6 44.4l-0.6 0.7M11.7 28.3l-0.7 1.8M45.3 39.9l-1.7 0.1M34.1 40.0l0.0 2.0M43.8 25.6l0.5 1.0M30.6 28.3l0.0 1.1M36.9 34.2l-2.3 0.5M0.7 20.0l-1.0 1.0M30.9 12.9l0.7 2.0M33.5 43.9l-2.2 0.6M43.3 45.8l-2.1 0.7M20.7 20.4l0.3 1.9M48.9 33.6l0.1 0.5M6.6 3.3l0.3 0.1M19.9 15.2l-0.6 0.1M4.6 44.9l-1.3 0.3M27.0 16.9l0.3 0.8M5.1 48.8l-1.9 0.9M7.4 31.8l1.8 0.3M3.5 30.5l2.1 1.1M45.6 21.3l-1.9 0.5M8.9 43.0l-0.8 0.3M33.5 15.3l1.3 0.1M6.8 40.8l-0.5 0.7M20.2 3.3l0.7 1.4M41.5 48.5l-0.5 1.1M43.8 29.2l-0.9 0.6M44.5 9.7l0.3 0.7M18.8 30.8l-0.4 0.1M29.1 10.9l-1.6 1.0M48.4 48.2l-0.4 0.8M35.9 22.8l0.4 0.4M44.7 21.8l0.7 0.3M6.8 2.8l-0.9 0.9M15.1 16.3l0.9 1.0M28.4 3.5l0.6 2.1M35.7 25.7l0.3 0.9M7.4 15.2l0.3 0.1M6.0 49.5l-0.4 0.1M17.7 5.7l0.7 1.4M12.0 22.3l1.2 0.7M7.5 16.0l0.2 0.8M24.5 39.0l0.4 2.0M8.4 35.5l-2.0 1.2M34.5 15.7l-0.9 1.3M20.0 30.0l0.3 0.0M9.1 45.9l0.8 0.1M38.3 44.1l0.4 1.3M45.4 14.4l0.8 0.3M36.2 16.4l-0.1 0.4M41.3 48.1l-0.6 0.2M48.1 44.4l0.9 0.8M7.9 18.4l-0.4 0.3M32.9 39.7l0.6 0.1M39.1 40.9l1.3 1.7M32.2 0.6l-0.4 0.5M16.8 40.9l2.0 0.1M17.8 30.3l0.9 1.2M11.3 29.3l0.3 1.6M0.1 36.7l1.5 1.3M23.8 33.4l0.1 0.6M48.9 36.0l-1.7 0.1M20.8 19.8l-1.6 1.3M38.9 10.6l0.8 0.8M2.0 9.8l0.3 0.6M11.4 27.7l-0.6 0.8M42.4 1.0l0.7 0.1M39.0 11.1l-0.7 0.7M40.1 24.3l1.8 1.3M50.0 45.8l0.3 1.5M13.5 41.9l0.5 1.4M29.4 46.7l0.2 1.1M46.3 6.4l0.9 0.2M1.9 46.1l0.0 2.1M2.7 22.8l-0.3 0.2M38.6 47.7l-0.5 0.3M24.6 25.2l0.1 2.1M15.7 9.5l-1.4 0.3M33.2 27.2l-0.2 0.5M5.7 7.3l0.1 0.4M42.8 7.1l-1.5 0.8M9.0 13.8l-1.0 2.2M18.6 12.0l1.6 1.1M7.1 3.2l-0.9 1.6M9.6 25.2l1.1 0.0M1.5 29.0l0.4 1.4M45.3 20.8l0.3 0.3M27.2 31.0l-0.9 0.8M19.5 28.2l-0.6 0.7M14.4 42.8l0.6 0.3M22.3 26.5l1.2 1.6M8.2 24.5l-0.7 0.0M1.9 39.7l-0.4 0.4M4.6 4.7l-0.0 0.6M39.6 12.9l-0.7 1.8M12.2 0.9l1.1 0.3M42.3 25.7l0.7 1.2M32.7 12.1l-1.9 1.0M28.8 9.2l-0.6 0.4M29.4 35.6l0.3 0.4M20.1 4.9l-1.9 0.5" stroke="#8d98d8" stroke-width="1.30" stroke-linecap="round" fill="none" opacity="0.36"/>
<polygon points="28,2 46,0 44,16 34,20 28,14" fill="#ffffff" opacity="1"/>
<polygon points="24,32 36,34 42,30 40,40 30,40" fill="#ffffff" opacity="1"/>
<polygon points="0,40 10,44 10,50 0,50" fill="#ffffff" opacity="1"/>
<polyline points="48,0 46,12 40,20 28,24 20,28 22,36 32,40 42,38 44,32" fill="none" stroke="#a3acdf" stroke-width="2.6039999999999996" stroke-linejoin="round" stroke-linecap="round" opacity="0.25"/>
<path d="M48.4 0.2l-1.4 -0.6M48.0 1.6l-1.5 -0.9M48.6 2.5l-1.1 -0.9M48.4 3.4l-0.9 -1.1M47.0 4.0l-0.6 -0.6M47.8 4.0l-1.2 0.4M48.6 6.0l-0.7 -0.4M48.2 6.6l-1.1 0.6M46.7 7.1l-0.8 0.3M49.7 8.4l-1.2 0.5M47.1 9.4l-0.8 -0.1M47.0 9.8l-0.9 0.2M47.8 11.6l-0.8 -0.3M46.3 12.9l-0.3 -1.2M46.7 13.8l-0.3 -1.0M45.1 14.2l-0.4 -0.3M45.3 15.0l-0.6 -0.5M45.2 16.0l-1.0 -1.4M43.6 15.6l-1.7 -0.3M43.0 15.9l-1.4 -0.0M43.1 16.9l-1.4 0.0M41.8 18.6l-0.5 -1.1M41.6 18.7l-0.9 -0.6M41.3 19.4l-1.2 -0.5M40.5 20.4l-1.1 -0.8M39.2 21.2l-0.4 -1.3M38.8 21.2l0.1 -1.6M38.1 21.7l-0.1 -1.0M36.6 22.0l-0.7 -1.4M35.7 22.4l0.1 -1.4M35.1 22.6l-0.4 -1.4M34.6 22.2l-0.3 -0.9M33.0 22.5l-0.6 -0.4M32.7 23.5l-0.6 -0.8M31.4 23.8l-0.1 -0.3M30.6 23.3l-0.7 -1.5M30.1 23.4l-0.0 -0.6M28.8 23.6l-0.3 -1.0M28.2 24.9l-1.1 -0.5M27.2 24.8l0.0 -0.6M25.6 25.3l-0.1 -1.2M26.1 26.3l-1.3 -0.8M24.6 24.9l-0.8 -1.5M24.0 26.0l-1.0 -1.1M22.4 26.7l0.1 -0.4M22.4 27.3l-1.2 -1.2M20.5 28.4l0.2 -0.7M20.4 28.0l-1.2 0.4M21.2 29.1l-1.6 -0.2M21.5 30.4l-1.5 -0.5M20.8 30.8l-1.4 0.6M21.9 31.6l-1.6 0.3M22.4 31.9l-1.1 0.1M21.6 33.2l-0.3 -0.1M21.4 34.3l-1.3 0.5M21.7 34.8l-0.9 0.1M22.4 35.4l-0.6 1.3M22.9 35.3l0.3 1.1M24.2 35.8l-0.4 0.3M24.3 37.2l-0.0 1.6M25.8 36.7l-0.1 0.3M25.4 37.0l0.4 1.5M26.8 38.2l0.1 0.6M27.9 37.4l-0.1 0.3M29.0 38.6l-0.8 1.0M29.1 38.2l0.4 1.6M30.6 37.9l0.1 1.5M31.0 40.7l-0.3 0.2M31.7 39.4l0.2 0.3M32.3 40.0l0.6 1.0M33.2 38.3l0.6 1.5M34.4 38.0l-0.4 1.1M35.7 38.7l0.4 0.3M36.3 38.4l0.8 1.6M37.1 37.7l0.9 1.1M37.7 37.9l0.3 0.8M40.0 38.8l-0.4 0.7M40.2 38.1l-0.3 0.8M40.8 38.2l0.1 0.3M40.1 37.2l1.7 0.1M42.2 37.5l0.8 -0.2M42.8 36.3l0.3 0.1M42.5 35.3l1.3 0.0M42.0 34.6l1.2 -0.2M43.9 33.7l0.9 0.2M44.1 32.4l0.8 1.2M43.8 30.9l0.2 0.8" stroke="#5766d6" stroke-width="1.50" stroke-linecap="round" fill="none" opacity="0.8"/>
<path d="M48.9 0.9l-1.3 -1.0M47.9 1.0l-0.3 -0.3M49.0 1.7l-1.0 0.4M48.4 2.4l-0.4 0.0M47.7 4.1l-0.7 -0.1M47.9 4.6l-1.4 -0.4M47.9 6.0l-0.3 -0.3M46.3 5.9l-0.4 -0.0M46.0 7.3l-0.2 -0.2M48.0 8.6l-0.3 -0.3M47.3 9.3l-0.4 0.0M47.7 10.5l-1.4 -0.2M45.3 10.6l-0.8 0.1M44.9 11.0l-1.0 -0.5M46.4 13.6l-0.5 -0.2M45.3 14.0l-0.1 -0.4M44.2 15.0l-0.2 -0.8M43.5 14.6l-0.5 -0.7M42.8 15.7l-0.1 -0.3M42.9 17.0l-1.0 -0.5M43.5 17.9l-1.3 -0.7M43.0 18.3l-0.9 -1.1M40.6 18.1l-0.4 -0.3M40.4 19.4l-1.1 -0.7M40.0 19.2l-0.6 -1.2M39.4 20.6l-0.3 -1.5M37.5 19.7l0.0 -0.8M37.5 21.8l-0.6 -1.2M37.3 21.8l-1.4 -1.0M35.7 22.1l-0.3 -1.4M35.2 22.9l-0.1 -1.3M34.4 22.1l-0.2 -0.7M33.8 22.5l-0.7 -1.4M32.7 23.8l-1.0 -1.3M31.8 22.9l-0.6 -1.5M30.5 22.6l-0.0 -0.4M29.8 23.2l-0.7 -0.5M28.5 23.6l0.1 -0.6M28.5 25.6l0.1 -0.5M27.3 23.6l-1.6 -0.7M26.6 25.1l-0.4 -0.4M25.9 26.5l-0.7 -0.8M24.8 26.1l-1.3 -1.2M22.9 26.6l0.3 -1.4M22.3 25.9l-0.4 -0.2M22.0 27.4l-0.9 -1.0M20.9 28.0l-0.7 -1.2M20.9 27.8l-1.2 -0.1M21.8 29.0l-1.7 -0.2M20.8 30.2l-0.7 -0.2M21.4 30.3l-0.3 -0.0M22.5 31.2l-1.5 -0.4M21.6 32.5l-0.7 -0.1M21.9 33.1l-1.7 -0.4M21.8 34.5l-0.3 0.3M21.7 35.3l-0.3 -0.1M21.7 35.4l0.1 0.7M22.6 35.9l0.1 1.5M23.0 37.2l0.0 0.5M24.4 35.7l-0.2 0.9M25.8 37.2l-0.7 0.5M26.8 37.0l-0.4 0.2M26.8 37.5l-0.5 0.8M28.0 37.8l-0.3 0.8M29.3 36.7l-0.1 0.9M29.5 38.1l0.4 1.6M30.4 38.9l-0.9 1.4M31.6 37.8l-0.1 0.9M32.0 39.9l0.0 1.1M33.7 41.2l-0.6 1.1M33.4 39.3l0.4 0.4M34.1 38.4l1.1 1.3M35.2 38.8l1.1 0.9M36.2 38.9l0.4 0.8M36.4 37.9l1.3 1.2M38.4 38.9l0.3 1.2M39.3 38.4l0.7 1.1M40.4 39.0l-0.1 1.4M41.2 38.1l-0.1 1.2M42.2 37.8l0.9 0.5M42.1 37.0l0.6 -0.0M42.0 35.9l0.5 0.6M42.0 34.8l1.0 0.3M41.5 33.8l0.8 1.0M41.9 33.2l0.3 -0.1M43.5 32.8l0.8 0.6M43.4 31.0l0.4 0.6" stroke="#2535b8" stroke-width="1.90" stroke-linecap="round" fill="none" opacity="0.95"/>
<polyline points="16,14 24,8 30,4" fill="none" stroke="#a3acdf" stroke-width="1.736" stroke-linejoin="round" stroke-linecap="round" opacity="0.25"/>
<path d="M15.6 13.5l0.9 1.2M17.0 11.7l0.3 0.9M17.9 11.6l0.5 0.3M19.0 10.8l0.7 0.2M20.3 9.6l0.2 1.6M21.1 9.5l1.0 0.5M22.2 8.6l0.1 0.4M23.7 7.9l0.1 0.8M24.9 7.8l0.5 0.5M26.5 5.9l0.3 0.9M27.5 4.8l0.6 0.8M27.7 4.5l1.5 0.8M30.1 2.5l0.4 1.1" stroke="#5766d6" stroke-width="1.50" stroke-linecap="round" fill="none" opacity="0.8"/>
<path d="M15.9 14.3l0.6 0.4M17.4 12.7l0.2 1.1M17.3 11.7l1.6 0.7M19.3 11.1l0.3 0.5M20.2 10.4l0.4 0.8M20.8 9.8l0.9 0.5M22.4 8.9l1.2 1.0M23.6 8.6l1.0 0.7M24.3 6.4l0.7 1.2M25.7 5.9l0.2 0.9M27.0 5.1l0.4 0.4M28.5 4.5l1.2 0.8M29.8 4.6l-0.4 0.9" stroke="#2535b8" stroke-width="1.90" stroke-linecap="round" fill="none" opacity="0.95"/>
<path d="M30.2 15.5l0.7 1.0M2.9 19.5l-0.2 1.9M34.0 7.8l0.2 0.9M32.5 27.1l-0.3 0.6M39.9 26.4l1.8 0.9M20.3 18.4l0.9 1.9M44.7 38.1l0.5 0.2M0.2 2.7l0.2 0.7M4.3 37.8l-0.3 0.9M28.2 5.2l0.7 0.4M44.4 46.4l-0.3 1.0M37.2 10.0l-0.6 0.6M20.2 33.4l-1.6 0.7M49.5 37.3l0.5 0.8M6.0 41.6l-1.8 0.7M42.1 46.8l-0.7 1.0M3.5 33.6l0.6 0.5M12.3 28.0l-0.0 0.7M24.5 47.0l-0.2 1.3M28.1 4.3l0.5 1.1M28.3 27.4l1.2 0.6M12.1 43.8l-1.7 0.7M6.2 0.2l1.4 0.1M32.2 30.5l-1.4 0.4M36.5 36.7l-1.2 0.9M28.8 27.5l0.7 0.2M42.3 4.0l1.9 0.6M38.6 26.2l0.5 0.3M33.9 37.3l-0.6 0.0M36.7 15.1l-1.1 0.2M14.8 15.3l-2.1 0.5M7.7 18.7l-0.2 0.3M21.0 24.8l-0.6 1.0M13.7 48.5l2.0 0.1M25.2 0.7l0.5 0.1M15.1 48.2l-0.3 1.1M14.1 3.3l-1.0 0.7M36.8 44.3l0.7 0.6M6.3 6.3l0.0 1.0M0.6 11.6l0.5 0.7" stroke="#2535b8" stroke-width="1.80" stroke-linecap="round" fill="none" opacity="0.8"/>
<path d="M41.5 7.1h0M23.4 40.5h0M47.4 3.4h0M44.7 4.0h0M47.2 46.4h0M14.9 46.5h0M47.4 7.7h0M9.9 31.0h0" stroke="#a85f28" stroke-width="1.50" stroke-linecap="round" fill="none" opacity="0.8"/>
<line x1="41" y1="47.3" x2="46.5" y2="47.3" stroke="#111" stroke-width="1"/>
</g></g>
<rect x="195.70" y="888.40" width="50.20" height="49.80" fill="none" stroke="#4a4a4a" stroke-width="0.9"/>
<text x="445.50" y="886.91" font-size="7.35" text-anchor="middle" font-weight="bold" fill="#141414" stroke="#141414" stroke-width="0.2">patient-8</text>
<clipPath id="hc17"><rect x="420.4" y="888.4" width="50.2" height="49.8"/></clipPath>
<g clip-path="url(#hc17)"><g transform="translate(420.4 888.4) scale(1.0040 0.9960)">
<rect x="-1" y="-1" width="52" height="52" fill="#f6f2ee"/>
<path d="M12.0 8.2l0.2 0.6M20.3 5.9l-0.1 1.5M17.4 40.5l2.3 0.2M21.7 8.2l0.4 1.1M0.3 35.2l-0.7 1.4M31.8 45.3l0.1 1.5M47.1 44.3l0.5 0.3M45.2 31.1l0.7 0.1M16.6 20.4l0.6 0.7M27.8 45.8l-1.3 1.8M0.3 14.3l-1.5 0.5M16.4 12.9l-2.1 1.1M32.3 37.9l-1.3 1.4M22.2 40.8l-0.9 2.0M44.9 14.2l-0.0 1.1M5.8 14.7l-1.1 0.1M5.7 22.3l-0.8 1.9M16.9 31.3l1.6 1.7M22.5 40.1l-1.7 0.5M23.2 34.8l-0.4 1.7M48.2 18.5l0.5 0.8M23.3 41.3l0.7 1.2M49.9 12.1l0.4 0.1M37.0 3.7l0.8 1.5M24.1 26.4l-0.1 0.3M30.7 32.9l-1.3 0.1M26.4 3.6l0.1 0.4M28.3 7.4l-0.5 0.5M7.8 18.5l-0.9 0.6M47.9 35.3l1.5 1.1M7.0 37.1l-0.2 1.5M45.9 27.9l0.3 0.9M30.8 37.1l0.1 1.6M36.3 25.7l1.5 0.4M2.9 17.2l-0.2 1.2M42.3 13.1l0.0 1.9M28.5 15.1l-1.9 1.1M31.1 47.7l-1.1 0.1M1.8 9.5l-1.7 0.3M1.4 39.1l-1.7 0.6M39.7 40.6l1.3 0.9M3.8 34.6l-1.0 1.7M39.1 46.1l1.9 0.2M41.9 20.7l0.2 0.6M15.1 8.6l-0.5 0.8M9.7 49.0l1.6 0.5M2.9 32.4l0.3 0.3M4.8 5.7l-0.5 1.6M25.2 36.9l-0.4 1.1M0.7 27.4l-2.0 0.9M16.4 28.4l-0.5 0.2M15.3 11.6l-0.2 0.5M0.7 37.7l1.0 1.0M24.7 30.9l0.4 0.8M43.7 22.5l0.5 0.7M43.0 26.2l0.2 1.9M1.6 37.1l0.2 0.4M36.0 9.2l1.1 0.1M7.6 23.0l-0.5 1.2M46.4 9.4l-0.4 0.7M10.1 3.3l0.5 0.0M15.8 32.4l-0.1 1.8M36.9 10.0l0.3 1.8M34.2 32.1l-0.2 1.6M16.6 42.9l-0.4 1.3M28.2 16.5l-2.3 0.1M23.0 15.8l-0.9 0.1M4.6 46.9l-0.3 0.4M30.5 1.2l1.0 0.7M45.7 26.7l-0.1 0.6M36.1 41.3l0.9 1.5M39.1 11.5l2.1 0.7M13.3 20.3l-1.3 1.5M31.1 28.3l-0.7 1.5M32.8 49.6l-1.5 1.7M9.4 30.5l-0.9 2.2M21.0 40.7l0.2 0.8M40.1 46.3l-0.9 2.2M43.2 41.3l1.0 0.1M4.3 36.0l-1.6 1.3M49.4 15.7l0.6 0.1M42.6 41.7l2.0 0.9M43.2 43.9l-1.0 0.7M4.9 12.8l-0.9 0.8M47.0 28.9l0.8 0.2M18.6 12.2l1.1 0.8M23.8 27.8l0.8 0.1M42.1 36.2l0.1 1.3M37.7 35.6l-1.5 1.7M31.4 0.5l0.4 0.1M13.3 49.5l0.3 0.9M8.8 2.2l-1.0 0.9M29.7 37.8l1.0 0.2M4.5 32.7l0.3 1.6M15.0 0.8l1.4 1.0M15.6 10.3l0.9 0.7M41.4 45.5l0.7 1.1M15.0 44.1l-1.2 1.1M10.1 21.6l0.2 0.6M5.2 48.7l0.1 1.0M9.3 48.3l-0.4 0.3M31.6 29.7l-0.1 0.5M19.0 46.8l-0.3 0.2M3.0 3.7l1.4 1.4M18.5 46.5l-0.7 1.4M29.2 30.2l0.7 0.4M2.9 18.3l0.4 2.3M2.9 44.2l-0.2 0.5M30.9 35.3l-1.1 1.1M18.2 5.5l0.8 1.1" stroke="#a09ac0" stroke-width="1.30" stroke-linecap="round" fill="none" opacity="0.36"/>
<path d="M49.8 9.6l-0.4 -0.9M38.7 18.8l-0.2 0.4M37.9 2.6l-0.1 -0.2M2.7 29.0l0.3 -0.9M40.0 4.1l-0.8 0.7M9.7 48.4l0.6 0.7M45.5 7.6l0.5 -0.6M23.2 10.2l0.3 0.5M14.1 1.9l-0.4 -0.4M20.2 19.0l0.1 -0.0M41.5 31.7l0.6 -0.2M11.2 10.0l-0.7 0.7M47.1 44.5l-0.4 0.4M48.1 48.6l0.4 -0.9M40.4 1.3l0.0 0.7M13.4 13.5l0.9 -0.5M28.5 33.2l-0.1 -0.8M5.3 11.3l0.3 -0.8M23.0 24.6l-0.5 0.5M14.3 34.7l0.2 0.7M14.0 33.7l-0.4 0.5M2.8 23.0l-0.3 0.5M6.4 13.5l0.6 -0.8M27.7 49.8l0.3 0.8M18.2 37.1l-0.3 -0.6M19.4 34.7l0.1 0.7M4.9 9.6l0.7 0.1M48.7 3.8l0.3 0.8M25.2 48.7l0.1 0.7M0.8 12.2l0.4 -1.0M22.2 5.8l-0.2 0.8M12.0 14.4l0.7 0.7M23.2 36.6l0.7 0.0M33.3 31.7l0.8 -0.6M48.0 18.8l-0.4 0.2M7.6 34.2l-0.3 0.9M8.1 9.8l0.0 -0.6M47.8 40.9l-0.7 -0.8M46.6 22.3l0.6 -0.6M42.0 45.7l-0.5 0.3M44.0 6.8l-0.5 -0.7M24.4 17.8l0.3 -0.4M4.8 43.4l-0.1 -0.4M18.7 35.5l-0.7 0.1M17.0 43.9l-0.9 0.8M28.4 29.2l-0.5 0.6M8.9 33.4l0.1 -0.9M2.0 42.5l-0.0 0.9M30.4 6.6l0.2 -0.3M14.0 12.1l0.2 0.8M2.5 12.3l-0.3 0.2M10.4 15.8l-0.7 -0.6M35.2 2.6l-0.7 -0.3M40.8 8.7l-0.8 0.5M43.2 44.4l-0.6 0.6M7.5 14.9l-0.6 0.9M15.5 15.1l0.9 0.3M32.6 49.6l0.9 -0.6M5.9 15.8l0.9 0.7M34.3 20.2l-0.5 0.4" stroke="#d0a070" stroke-width="1.20" stroke-linecap="round" fill="none" opacity="0.38"/>
<polygon points="30,0 48,0 46,18 40,26 32,14" fill="#ffffff" opacity="1"/>
<polygon points="14,24 20,30 26,44 18,50 12,42" fill="#ffffff" opacity="1"/>
<polygon points="0,34 6,40 4,50 0,50" fill="#ffffff" opacity="1"/>
<polyline points="28,6 32,20 36,32" fill="none" stroke="#c8894c" stroke-width="2.5" stroke-linejoin="round" stroke-linecap="round" opacity="0.33" filter="url(#bl10)"/>
<polyline points="16,0 14,10 10,20 8,30 12,40 18,50" fill="none" stroke="#b8acc4" stroke-width="4.34" stroke-linejoin="round" stroke-linecap="round" opacity="0.25"/>
<path d="M14.4 0.1l-0.3 -0.0M15.7 1.3l-0.7 -0.1M15.1 1.7l-0.4 0.1M16.7 2.3l-1.0 -0.3M15.6 3.3l-0.4 -0.2M14.9 4.6l-0.7 -0.1M15.6 4.6l-0.7 0.0M14.9 6.0l-0.7 -0.5M13.5 6.9l-0.5 -0.3M14.0 7.2l-1.3 0.1M14.9 8.0l-1.6 0.7M15.2 9.8l-1.2 -0.4M15.5 10.9l-1.4 -0.2M13.9 11.0l-0.6 -0.4M14.6 12.3l-0.5 -0.8M14.0 12.4l-0.5 -0.5M12.2 13.2l-0.9 -0.9M12.5 14.6l-0.5 -0.8M12.2 15.0l-0.3 -0.3M10.4 15.4l-1.0 -0.6M12.4 17.7l-1.5 -0.8M11.8 18.0l-0.7 -0.0M11.3 18.8l-1.5 -0.2M12.1 19.8l-1.4 0.2M10.0 20.3l-0.5 0.3M11.0 21.2l-1.4 -1.0M10.8 22.0l-0.9 0.2M8.4 22.1l-0.5 0.1M8.7 23.7l-0.8 -1.0M8.1 23.7l-1.4 -0.3M8.5 25.1l-0.9 -1.2M8.6 25.3l-0.8 0.2M7.5 26.3l-0.4 -0.0M8.7 27.7l-1.6 0.4M8.2 27.9l-0.5 -0.2M10.5 29.6l-1.4 0.4M8.3 29.9l-0.8 0.4M9.5 30.4l-0.8 1.0M9.9 31.6l-0.2 0.2M10.6 31.9l-1.7 -0.2M8.7 33.3l-0.5 0.2M10.9 33.8l-1.2 0.1M10.0 34.2l-1.0 1.2M8.3 36.6l-0.3 0.2M12.4 36.2l-1.7 0.1M11.0 37.1l-0.9 0.6M11.5 38.6l-0.4 0.2M11.8 38.9l-0.4 0.5M12.6 39.8l-0.5 0.4M11.5 41.1l-1.1 0.1M13.3 41.0l-0.5 0.6M14.0 41.7l-0.5 0.7M13.2 43.1l-1.0 0.7M15.7 42.7l-1.3 0.6M15.8 44.2l-1.2 -0.1M14.5 44.7l-0.5 1.1M16.8 45.5l-0.9 0.0M17.1 46.0l-0.8 1.2M17.6 46.7l-1.4 0.7M16.4 48.8l-0.4 0.0M18.7 48.5l-0.8 0.2M18.5 50.0l-0.9 1.2" stroke="#7078bc" stroke-width="1.50" stroke-linecap="round" fill="none" opacity="0.8"/>
<path d="M14.5 -0.1l-0.7 -0.6M15.8 0.5l-1.2 -0.2M15.9 1.7l-0.5 -0.2M15.3 2.8l-1.3 -0.8M15.9 2.9l-0.6 0.2M13.9 4.4l-0.5 -0.6M15.6 5.1l-0.4 -0.3M14.5 5.9l-0.3 -0.0M17.4 6.8l-1.4 0.1M15.6 8.0l-1.3 -0.4M15.0 8.4l-1.0 -0.6M16.2 10.1l-1.6 -0.4M14.4 10.1l-1.5 0.2M14.3 12.0l-1.1 -1.4M13.5 12.1l-1.7 -0.6M13.1 12.4l-1.1 -0.1M14.8 14.3l-1.5 -0.8M12.9 14.2l-1.4 -0.5M12.2 14.7l-0.2 -0.3M13.5 17.1l-1.0 -0.6M13.2 17.0l-1.0 -0.5M13.1 18.6l-0.8 -0.1M11.7 18.1l-1.0 0.2M10.6 19.6l-0.6 -0.0M10.4 20.1l-1.4 -0.2M10.9 21.6l-0.8 -0.5M11.3 22.0l-0.6 -0.3M10.7 22.6l-0.3 -0.2M11.6 24.3l-1.4 -0.4M12.6 24.6l-1.1 0.3M10.2 25.5l-1.1 -0.1M9.1 26.2l-1.1 -1.3M8.8 27.0l-1.0 -0.4M7.7 26.7l-1.1 0.3M9.6 28.6l-1.6 -0.8M7.3 28.9l-0.9 -0.4M8.3 29.5l-0.8 0.4M8.3 30.8l-1.2 0.4M10.9 30.8l-0.6 0.4M11.0 31.9l-1.1 0.8M10.4 32.8l-0.3 -0.1M10.6 34.1l-1.6 0.3M11.0 34.8l-1.0 0.1M11.7 34.4l-0.6 0.9M11.3 36.8l-0.9 0.3M10.1 38.0l-0.4 0.0M12.8 38.5l-1.0 -0.0M11.9 39.4l-1.2 0.4M13.4 38.3l-0.4 1.0M13.3 40.4l-0.6 0.0M12.2 41.4l-1.1 1.1M14.4 41.8l-0.7 0.8M14.5 42.0l-0.9 0.6M14.7 43.8l-0.4 0.1M15.5 44.1l-1.2 0.2M14.5 45.7l-0.6 0.4M13.3 46.4l-0.6 1.3M14.7 47.3l-1.1 0.1M18.2 46.2l-0.5 1.0M17.3 48.5l-0.4 0.1M18.2 48.7l-0.4 0.9M17.8 51.3l0.1 1.2" stroke="#4150b0" stroke-width="1.90" stroke-linecap="round" fill="none" opacity="0.95"/>
<path d="M16.3 0.1l-0.8 -0.5M16.4 0.1l-0.7 0.3M15.1 0.7l-0.9 -0.7M16.4 1.0l0.8 -0.9M19.1 2.4l0.8 0.2M13.6 1.3l-0.1 0.0M15.9 2.6l0.7 0.5M16.6 2.7l-0.5 -0.8M15.4 3.4l-0.4 0.5M12.7 2.8l-0.3 -0.3M18.7 4.9l0.7 -0.7M12.7 3.7l0.5 0.3M16.0 5.2l-0.3 0.1M12.5 4.5l0.3 0.8M14.3 5.7l-0.3 -0.9M12.2 5.3l0.2 0.2M12.9 6.3l-0.5 0.9M14.7 6.7l-0.5 0.5M12.5 7.1l0.1 -0.7M14.3 7.5l-0.8 -0.3M15.0 8.5l-0.6 -0.7M12.3 7.9l-0.1 -0.9M14.0 9.1l-0.4 0.2M17.3 9.8l-0.9 -0.6M13.6 9.9l-0.6 0.9M13.4 9.8l0.3 0.1M11.6 10.0l0.3 -0.7M16.4 11.9l-0.7 0.6M14.8 12.3l-0.1 0.1M12.8 11.5l-0.7 0.5M12.4 12.3l-0.8 0.1M12.3 12.2l-0.3 -0.2M13.2 13.6l-0.4 -0.6M11.4 12.8l-0.3 0.5M13.2 14.5l-0.9 -0.2M16.0 15.7l-0.5 0.0M11.3 14.7l0.5 0.0M11.4 14.7l-0.2 0.7M9.9 15.1l-0.5 0.2M12.5 16.2l0.1 -0.3M11.2 16.6l0.6 -0.3M11.1 16.6l-0.4 0.3M8.0 16.3l-0.5 -0.4M8.5 16.5l0.4 0.5M10.1 18.1l-0.1 0.2M8.5 17.5l-0.2 0.4M12.0 19.8l-0.8 0.2M11.5 19.7l0.7 -0.9M13.0 20.6l-0.2 0.4M10.8 20.2l0.3 0.5M10.3 20.9l0.1 -0.4M10.0 20.9l-0.8 0.6M7.5 21.2l-0.1 -0.7M8.4 21.4l0.3 0.4M7.1 22.0l-0.3 -0.4M8.9 22.4l-0.2 0.6M11.5 23.8l0.2 0.4M7.5 23.0l0.1 0.4M8.8 24.1l0.6 -0.6M9.7 24.3l0.1 0.3M8.5 24.9l-0.9 -0.4M8.6 24.9l-0.2 -0.4M8.6 25.8l-0.5 0.6M9.8 26.0l0.1 -0.3M7.3 26.4l-0.4 0.5M8.2 26.6l0.7 -0.5M8.2 27.4l-0.7 0.2M9.6 27.7l-0.6 -0.3M6.1 27.9l0.2 0.6M8.5 28.4l-0.3 -0.5M8.7 29.3l0.2 -0.6M7.5 29.0l0.2 0.4M6.0 30.8l-0.3 -0.2M10.1 29.2l0.4 0.5M7.2 31.3l0.7 -0.1M6.5 31.6l-0.3 0.5M5.7 32.8l-0.3 0.4M7.2 32.2l-0.3 -0.8M9.7 32.2l-0.0 -0.6M10.0 32.1l-0.2 -0.2M8.3 33.7l-0.2 -0.9M9.6 33.2l-0.5 0.6M9.1 34.4l0.1 -0.1M10.2 34.0l-0.8 -0.1M9.1 35.4l0.7 0.3M11.0 34.6l0.7 0.0M11.2 35.5l0.4 0.1M8.5 36.6l-0.5 -0.7M12.1 36.1l-0.2 -0.3M11.8 36.2l0.1 0.0M10.6 37.7l0.0 -0.2M11.1 37.5l0.2 -0.6M10.2 38.8l0.7 -0.2M11.5 38.3l-0.7 -0.6M14.2 38.2l-0.5 -0.8M10.1 39.8l0.2 0.1M15.2 38.1l-0.4 0.7M10.3 41.0l0.8 0.3M14.5 39.5l-0.8 0.4M13.4 40.2l-0.1 0.2M9.5 43.6l-0.7 0.3M11.7 42.3l0.8 -0.8M12.9 42.6l0.3 0.3M13.9 42.0l-0.2 -0.1M13.3 43.4l0.4 -0.4M13.7 43.1l-0.2 0.1M15.4 43.2l-0.7 0.2M14.6 43.7l0.3 -0.6M15.1 44.4l0.6 -0.3M16.7 43.5l0.7 0.2M15.5 45.2l-0.1 0.3M17.9 43.8l0.0 0.3M17.0 45.3l0.6 0.2M15.5 46.3l-0.6 -0.2M19.1 45.2l0.1 -0.8M16.3 46.9l0.6 -0.0M17.4 47.2l-0.9 -0.6M16.8 47.6l-0.3 0.5M15.5 49.4l-0.9 0.6M16.1 49.1l-0.6 0.8M15.3 50.6l0.1 0.4M17.8 49.1l-0.5 -0.8M18.0 48.3l0.7 0.5M18.0 49.9l0.0 -0.3" stroke="#b56a2c" stroke-width="1.30" stroke-linecap="round" fill="none" opacity="0.7"/>
<polyline points="26,8 30,20 34,32 40,40 50,36" fill="none" stroke="#b8acc4" stroke-width="4.34" stroke-linejoin="round" stroke-linecap="round" opacity="0.25"/>
<path d="M26.0 8.4l-0.7 0.2M26.6 8.1l-0.7 0.6M27.5 9.8l-0.9 0.2M27.0 10.3l-0.6 -0.0M28.7 10.8l-1.4 0.4M28.6 12.3l-1.7 0.2M26.7 13.1l-0.3 0.3M27.4 13.9l-1.6 0.0M28.0 15.1l-0.9 -0.2M25.5 16.2l-0.4 0.2M28.6 17.3l-1.7 -0.1M27.7 18.1l-1.2 0.2M31.2 18.0l-1.4 0.0M30.0 19.1l-0.5 0.5M30.1 19.8l-0.2 0.2M31.3 20.7l-0.8 0.8M31.2 22.0l-1.5 0.0M31.5 22.3l-0.7 0.4M31.3 23.6l-1.1 0.2M30.9 24.5l-1.7 0.4M32.8 24.4l-1.3 0.3M33.1 26.4l-1.7 -0.4M31.7 26.6l-1.4 1.1M33.0 27.4l-1.2 1.0M34.8 28.4l-0.8 -0.2M33.9 28.6l-1.1 1.0M33.4 29.8l-0.3 0.4M35.0 30.8l-0.9 0.5M34.8 31.1l-0.5 0.4M35.5 33.4l-1.7 -0.1M34.6 33.3l-0.4 1.4M37.1 33.1l-0.3 0.0M36.4 33.9l-1.0 0.9M38.2 34.9l-0.5 0.7M37.0 36.3l-0.3 0.6M39.6 36.1l-0.6 0.8M39.4 37.6l-1.3 1.1M38.5 38.7l-0.6 0.8M41.2 37.8l-0.6 1.4M40.0 39.5l0.0 0.4M39.9 36.2l0.1 0.5M41.5 38.2l0.5 1.5M41.9 38.1l1.2 1.0M42.8 38.1l0.5 0.8M44.5 37.5l-0.1 0.7M44.5 37.7l0.7 1.4M45.6 36.8l-0.2 1.7M46.6 37.8l0.4 0.3M48.1 37.2l0.1 0.3M48.9 39.4l0.2 0.2M49.8 36.5l0.1 0.4M49.2 35.8l0.6 1.4" stroke="#7078bc" stroke-width="1.50" stroke-linecap="round" fill="none" opacity="0.8"/>
<path d="M24.9 8.3l-0.5 -0.2M26.9 9.0l-0.5 0.4M26.6 9.3l-0.4 0.5M28.0 10.2l-0.8 0.6M27.9 10.8l-0.3 0.2M28.2 12.4l-1.3 0.4M27.5 13.1l-1.4 -0.1M27.5 13.7l-0.4 0.3M29.5 14.5l-0.9 -0.2M27.1 15.6l-0.9 0.3M29.3 16.4l-0.7 0.3M30.7 16.1l-1.0 0.9M29.6 17.5l-1.0 1.0M29.4 19.7l-0.9 0.5M28.9 19.6l-1.3 0.6M29.7 21.6l-0.9 -0.1M31.4 22.0l-1.6 0.1M34.1 22.0l-0.5 0.4M33.1 22.5l-1.0 0.6M30.7 24.3l-1.3 1.0M31.9 25.0l-1.1 0.0M30.1 25.8l-0.3 0.5M32.4 26.6l-0.6 0.3M32.3 28.0l-1.4 -0.2M34.9 27.6l-1.1 0.7M33.6 29.6l-1.6 -0.1M34.4 30.2l-0.7 0.1M34.1 31.4l-0.7 0.5M35.5 31.1l-0.2 0.4M34.4 32.8l-0.7 0.3M33.6 34.2l-0.7 1.3M35.6 34.1l-0.6 0.7M34.8 35.8l-0.3 0.9M38.6 34.0l-0.6 0.3M37.6 36.2l-0.8 -0.0M38.2 36.4l-1.7 0.6M38.2 37.4l-0.4 0.9M37.7 39.5l-0.6 0.5M40.9 38.6l-1.5 0.3M39.8 40.3l0.1 0.6M41.0 37.8l-0.1 1.8M40.0 37.2l1.5 0.9M42.0 39.6l0.7 0.4M42.8 37.1l0.3 0.9M43.7 37.5l0.2 1.3M45.0 37.0l-0.2 1.3M46.1 37.8l0.0 0.4M47.6 39.2l-0.2 1.1M47.4 35.7l0.2 0.9M48.2 34.8l0.5 1.2M49.4 36.3l-0.2 0.7M49.6 36.2l0.2 0.7" stroke="#4150b0" stroke-width="1.90" stroke-linecap="round" fill="none" opacity="0.95"/>
<path d="M25.5 8.2l0.7 -0.6M25.8 8.1l0.1 -0.3M27.4 8.5l-0.8 0.2M26.2 8.9l-0.2 -0.7M26.7 9.7l0.7 0.4M24.8 10.3l-0.3 0.6M28.0 10.2l-0.6 -0.2M24.6 11.3l0.8 0.9M28.6 11.0l-0.6 -0.5M26.8 11.6l0.1 -0.0M26.3 12.7l-0.7 0.8M28.0 12.1l0.6 -0.6M28.0 13.0l0.8 0.0M29.7 12.5l0.5 0.6M29.2 13.6l0.8 0.5M29.0 13.7l0.8 -0.0M27.1 15.3l-0.2 -0.2M28.7 14.7l-0.0 -0.0M30.7 15.0l0.2 -0.2M29.1 15.5l-0.0 -0.7M29.0 16.5l0.7 -0.4M26.4 17.4l0.2 -0.2M29.9 17.2l-0.3 0.1M29.9 17.2l0.1 0.9M29.7 18.2l0.9 0.5M28.3 18.7l-0.2 -0.5M30.2 19.0l0.3 0.5M30.7 18.8l-0.1 -0.4M27.1 21.0l-0.1 -0.3M29.2 20.3l-0.4 0.6M30.2 20.9l0.1 -0.2M31.6 20.4l0.6 0.5M27.6 22.7l-0.4 -0.0M33.5 20.7l-0.8 0.8M33.2 21.8l-0.8 -0.1M32.0 22.2l-0.7 0.8M35.8 21.9l-0.7 0.7M32.4 23.0l-0.6 0.3M32.3 24.0l0.1 0.3M32.6 23.9l-0.3 -0.4M32.2 25.0l-0.9 0.7M31.5 25.2l-0.8 0.4M32.7 25.8l0.8 0.7M34.3 25.2l0.8 0.8M33.3 26.5l-0.3 -0.7M30.9 27.3l0.8 0.4M34.3 27.1l0.1 -0.0M32.8 27.6l0.4 0.0M36.6 27.3l-0.5 -0.8M33.8 28.3l0.8 -0.4M33.3 29.4l-0.8 0.6M33.4 29.3l0.2 -0.4M32.7 30.5l0.6 -0.6M35.6 29.6l-0.9 -0.2M35.9 30.4l0.4 0.4M34.9 30.7l0.1 -0.4M34.4 31.7l0.6 -0.2M37.0 29.8l0.1 0.3M32.1 34.6l-0.4 -0.4M34.4 32.8l-0.5 0.3M34.8 33.7l-0.2 0.4M34.8 33.7l-0.3 -0.1M35.5 34.2l0.6 -0.9M36.8 33.3l-0.4 -0.7M35.6 35.4l0.6 -0.8M35.1 35.7l-0.1 0.0M35.4 36.6l-0.5 -0.8M37.3 35.2l-0.2 0.3M37.2 36.4l-0.1 -0.5M35.2 38.0l0.3 -0.3M38.3 36.7l0.2 -0.3M38.8 36.3l0.2 -0.5M39.2 37.2l-0.8 0.5M38.5 37.7l0.0 0.5M41.5 36.6l-0.6 -0.5M39.7 37.9l0.6 -0.2M38.5 40.0l0.5 -0.4M38.8 39.7l-0.0 -0.7M40.1 40.2l-0.6 -0.3M40.2 40.6l0.6 0.5M39.5 36.2l0.3 0.7M41.8 42.1l0.0 0.7M41.5 39.0l-0.0 -0.3M41.0 37.7l0.7 0.8M41.9 37.5l0.3 0.1M42.0 37.7l-0.5 0.1M43.5 39.2l0.1 -0.4M44.2 40.9l-0.9 -0.4M44.5 39.1l0.4 0.8M44.0 37.9l0.6 -0.7M45.7 39.8l0.9 0.3M45.2 38.4l0.1 -0.5M46.3 38.9l-0.2 -0.6M45.5 36.9l0.1 0.6M46.0 35.7l-0.2 0.4M46.3 36.3l0.1 0.2M46.2 33.7l-0.1 0.5M47.7 37.4l0.5 -0.5M48.3 36.5l-0.5 0.6M49.1 38.5l0.5 -0.2M48.3 34.1l-0.1 0.5M49.5 37.1l-0.4 -0.1M50.0 37.2l-0.9 0.6M50.0 32.8l0.9 0.6" stroke="#b56a2c" stroke-width="1.30" stroke-linecap="round" fill="none" opacity="0.7"/>
<polyline points="48,0 48,20" fill="none" stroke="#b8acc4" stroke-width="2.6039999999999996" stroke-linejoin="round" stroke-linecap="round" opacity="0.25"/>
<path d="M48.2 -0.1l-1.0 -0.8M48.1 1.4l-1.0 -0.0M48.7 2.4l-0.9 -0.2M47.3 3.3l-0.5 0.3M48.2 4.8l-0.7 0.0M48.1 6.2l-0.5 0.2M48.7 6.6l-0.8 0.6M48.8 8.0l-0.7 -0.2M48.6 9.3l-0.3 0.2M49.3 11.0l-0.4 -0.2M48.1 12.2l-0.8 -0.2M49.6 12.4l-1.5 0.9M49.1 14.6l-1.2 -0.7M48.4 15.7l-1.2 -0.1M47.4 16.5l-1.1 -0.4M48.7 18.0l-1.6 -0.6M48.7 18.8l-0.7 -0.4M48.4 18.8l0.2 1.2" stroke="#7078bc" stroke-width="1.50" stroke-linecap="round" fill="none" opacity="0.8"/>
<path d="M47.6 0.5l-0.4 -0.0M47.8 1.3l-0.7 0.1M48.4 2.0l-1.4 0.9M48.0 3.1l-0.5 -0.1M48.9 4.6l-1.6 -0.2M48.3 5.7l-0.7 -0.2M48.8 7.3l-0.4 -0.0M48.7 8.1l-0.7 -0.1M48.0 9.4l-0.3 -0.1M47.7 11.3l-1.3 -0.7M48.6 12.1l-0.8 -0.0M46.8 12.6l-0.6 0.2M48.8 14.7l-1.3 -0.3M47.4 14.8l-0.6 0.2M48.4 16.3l-0.5 -0.2M48.7 18.2l-0.3 -0.1M49.0 19.2l-0.3 0.2M47.7 19.4l0.7 1.0" stroke="#4150b0" stroke-width="1.90" stroke-linecap="round" fill="none" opacity="0.95"/>
<path d="M49.5 -0.0l0.6 -0.5M46.9 0.0l-0.6 -0.7M48.7 1.2l0.5 -0.7M47.2 1.2l0.6 -0.3M49.1 2.4l0.1 -0.4M48.3 2.4l0.9 -0.0M48.2 3.5l0.1 0.0M47.4 3.5l-0.3 -0.8M49.3 4.7l0.4 0.6M47.3 4.7l-0.1 -0.6M48.8 5.9l-0.3 -0.6M46.5 5.9l0.1 0.6M46.7 7.1l0.6 -0.5M48.5 7.1l-0.6 0.3M48.3 8.2l-0.5 0.5M47.5 8.2l0.3 0.4M48.4 9.4l0.0 0.7M46.6 9.4l-0.3 -0.3M48.1 10.6l-0.1 0.7M48.0 10.6l0.4 0.1M49.3 11.8l0.5 0.8M48.0 11.8l-0.6 0.9M48.5 12.9l0.4 -0.1M47.8 12.9l0.4 -0.7M47.2 14.1l-0.3 -0.6M46.3 14.1l-0.2 0.5M48.2 15.3l0.3 -0.2M48.5 15.3l0.5 -0.3M48.7 16.5l0.4 0.1M49.2 16.5l-0.2 0.5M46.8 17.6l0.3 0.7M47.9 17.6l0.2 0.4M47.2 18.8l-0.6 0.1M47.4 18.8l-0.5 -0.8M48.0 19.1l0.5 0.6M48.0 21.6l-0.3 -0.7" stroke="#b56a2c" stroke-width="1.30" stroke-linecap="round" fill="none" opacity="0.7"/>
<path d="M0.5 1.3l1.3 0.4M12.2 16.0l-1.6 0.8M16.2 9.9l-0.7 0.4M22.1 16.7l-0.3 0.8M3.9 -0.8l-0.4 1.9M18.4 7.9l-0.0 1.6M5.7 26.3l-1.7 1.3M19.0 8.4l0.2 0.3M27.2 22.9l-0.4 0.4M4.1 29.1l0.2 0.7M-0.2 16.5l1.0 1.0M3.8 27.6l-0.5 1.3M16.9 18.3l-1.5 0.2M25.6 12.0l-1.0 0.8M24.4 9.4l1.7 0.7M25.5 11.5l0.2 0.5M5.7 23.7l1.4 0.6M28.2 14.6l-0.3 1.1M6.0 26.3l0.3 1.0M24.6 8.2l-0.5 0.0M1.9 21.5l-1.0 0.2M26.7 28.5l0.5 0.6" stroke="#4150b0" stroke-width="1.80" stroke-linecap="round" fill="none" opacity="0.8"/>
<path d="M22.5 17.4h0M15.6 39.9h0M34.5 48.8h0M24.8 9.8h0M31.4 18.8h0M1.7 14.4h0" stroke="#a85f28" stroke-width="1.50" stroke-linecap="round" fill="none" opacity="0.8"/>
<line x1="41" y1="47.3" x2="46.5" y2="47.3" stroke="#111" stroke-width="1"/>
</g></g>
<rect x="420.40" y="888.40" width="50.20" height="49.80" fill="none" stroke="#4a4a4a" stroke-width="0.9"/>
<line x1="517.50" y1="831.80" x2="517.50" y2="915.60" stroke="#222" stroke-width="1"/>
<line x1="517.00" y1="915.50" x2="576.70" y2="915.50" stroke="#222" stroke-width="1"/>
<line x1="513.80" y1="915.50" x2="517.00" y2="915.50" stroke="#222" stroke-width="0.9"/>
<text x="514.20" y="918.16" font-size="7.2" text-anchor="end" font-weight="bold" fill="#141414" stroke="#141414" stroke-width="0.2">0</text>
<line x1="513.80" y1="894.50" x2="517.00" y2="894.50" stroke="#222" stroke-width="0.9"/>
<text x="514.20" y="897.26" font-size="7.2" text-anchor="end" font-weight="bold" fill="#141414" stroke="#141414" stroke-width="0.2">1</text>
<line x1="513.80" y1="873.50" x2="517.00" y2="873.50" stroke="#222" stroke-width="0.9"/>
<text x="514.20" y="876.36" font-size="7.2" text-anchor="end" font-weight="bold" fill="#141414" stroke="#141414" stroke-width="0.2">2</text>
<line x1="513.80" y1="852.50" x2="517.00" y2="852.50" stroke="#222" stroke-width="0.9"/>
<text x="514.20" y="855.46" font-size="7.2" text-anchor="end" font-weight="bold" fill="#141414" stroke="#141414" stroke-width="0.2">3</text>
<line x1="513.80" y1="832.50" x2="517.00" y2="832.50" stroke="#222" stroke-width="0.9"/>
<text x="514.20" y="834.56" font-size="7.2" text-anchor="end" font-weight="bold" fill="#141414" stroke="#141414" stroke-width="0.2">4</text>
<line x1="533.50" y1="915.60" x2="533.50" y2="918.60" stroke="#222" stroke-width="0.9"/>
<line x1="557.50" y1="915.60" x2="557.50" y2="918.60" stroke="#222" stroke-width="0.9"/>
<rect x="525.70" y="895.12" width="15.70" height="20.48" fill="#9dc3d4" stroke="#222" stroke-width="0.9"/>
<rect x="549.40" y="873.38" width="15.80" height="42.22" fill="#d65a69" stroke="#222" stroke-width="0.9"/>
<line x1="533.50" y1="891.15" x2="533.50" y2="898.88" stroke="#111" stroke-width="0.8"/>
<line x1="530.30" y1="891.50" x2="536.70" y2="891.50" stroke="#111" stroke-width="0.8"/>
<line x1="530.30" y1="898.50" x2="536.70" y2="898.50" stroke="#111" stroke-width="0.8"/>
<line x1="557.50" y1="859.80" x2="557.50" y2="886.34" stroke="#111" stroke-width="0.8"/>
<line x1="554.10" y1="859.50" x2="560.50" y2="859.50" stroke="#111" stroke-width="0.8"/>
<line x1="554.10" y1="886.50" x2="560.50" y2="886.50" stroke="#111" stroke-width="0.8"/>
<circle cx="531.00" cy="890.52" r="0.95" fill="#111"/>
<circle cx="535.50" cy="890.52" r="0.95" fill="#111"/>
<circle cx="533.50" cy="893.65" r="0.95" fill="#111"/>
<circle cx="532.00" cy="895.75" r="0.95" fill="#111"/>
<circle cx="535.00" cy="896.79" r="0.95" fill="#111"/>
<circle cx="533.50" cy="898.88" r="0.95" fill="#111"/>
<circle cx="531.50" cy="897.84" r="0.95" fill="#111"/>
<circle cx="536.00" cy="894.70" r="0.95" fill="#111"/>
<circle cx="557.30" cy="848.30" r="0.95" fill="#111"/>
<circle cx="557.30" cy="860.22" r="0.95" fill="#111"/>
<circle cx="555.30" cy="872.75" r="0.95" fill="#111"/>
<circle cx="558.80" cy="873.80" r="0.95" fill="#111"/>
<circle cx="556.30" cy="876.94" r="0.95" fill="#111"/>
<circle cx="557.30" cy="882.16" r="0.95" fill="#111"/>
<circle cx="559.30" cy="884.67" r="0.95" fill="#111"/>
<circle cx="557.30" cy="890.52" r="0.95" fill="#111"/>
<line x1="532.60" y1="840.50" x2="558.30" y2="840.50" stroke="#222" stroke-width="0.8"/>
<text x="545.45" y="837.78" font-size="7.0" text-anchor="middle" font-weight="bold" fill="#141414" stroke="#141414" stroke-width="0.2">p=0.0006</text>
<text x="502.80" y="876.39" font-size="7.3" text-anchor="middle" font-weight="bold" fill="#141414" stroke="#141414" stroke-width="0.4" transform="rotate(-90 502.80 873.80)">Relative PGRN AOD</text>
<text x="528.50" y="927.26" font-size="7.2" text-anchor="middle" font-weight="bold" fill="#141414" stroke="#141414" stroke-width="0.2">non-COPD</text>
<text x="559.20" y="927.26" font-size="7.2" text-anchor="middle" font-weight="bold" fill="#141414" stroke="#141414" stroke-width="0.2">COPD</text>
<text x="534" y="933.28" font-size="7" text-anchor="middle" font-weight="bold" fill="#141414" stroke="#141414" stroke-width="0.2" font-family='"Liberation Sans","Noto Sans CJK SC",sans-serif'>（n=8）</text>
<text x="559" y="933.28" font-size="7" text-anchor="middle" font-weight="bold" fill="#141414" stroke="#141414" stroke-width="0.2" font-family='"Liberation Sans","Noto Sans CJK SC",sans-serif'>（n=8）</text>
</svg>
</body></html>
